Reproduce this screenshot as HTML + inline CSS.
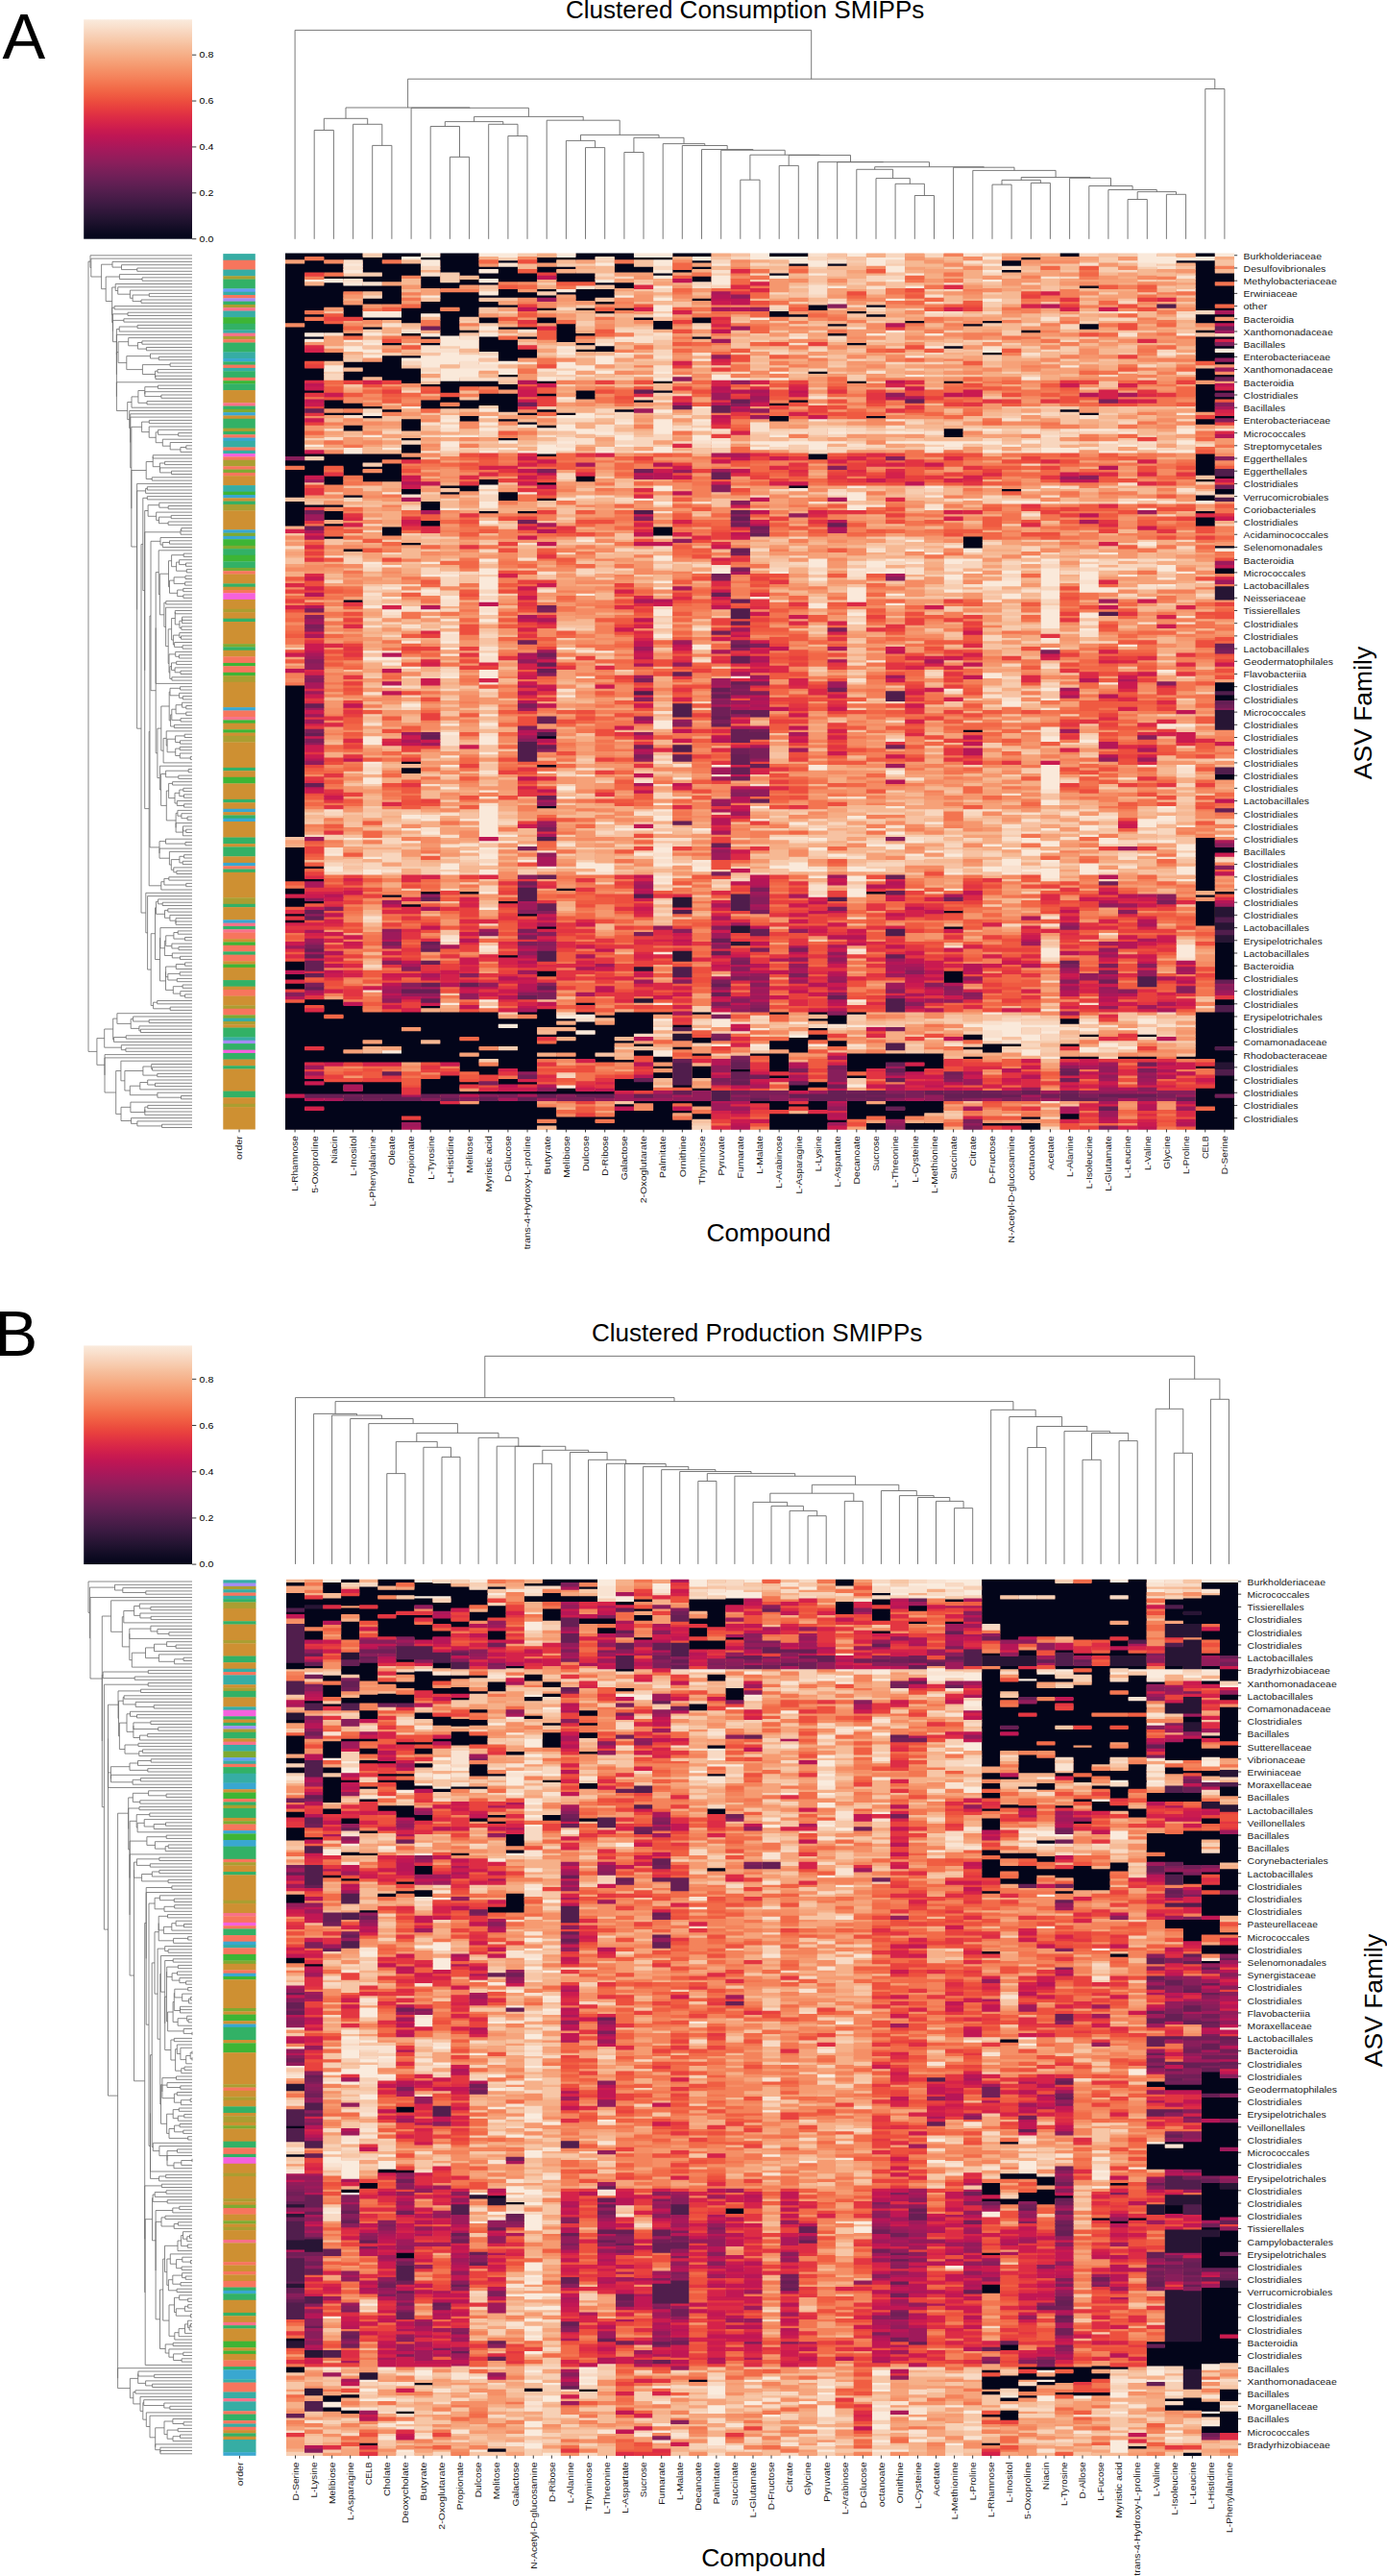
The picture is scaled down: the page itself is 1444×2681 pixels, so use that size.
<!DOCTYPE html><html><head><meta charset="utf-8"><style>html,body{margin:0;padding:0;background:#fff;}svg{display:block;}body{width:1444px;height:2681px;overflow:hidden;font-family:"Liberation Sans",sans-serif;}</style></head><body><svg xmlns="http://www.w3.org/2000/svg" width="1444" height="2681" viewBox="0 0 1444 2681" font-family="Liberation Sans, sans-serif">
<rect width="1444" height="2681" fill="#fff"/>
<text x="2.60" y="60.80" font-size="67.00" text-anchor="start" fill="#000">A</text>
<text x="588.90" y="19.20" font-size="26.50" text-anchor="start" textLength="373.50" lengthAdjust="spacingAndGlyphs" fill="#000">Clustered Consumption SMIPPs</text>
<linearGradient id="gA" x1="0" y1="0" x2="0" y2="1"><stop offset="0.0000" stop-color="#faebdd"/><stop offset="0.0312" stop-color="#f9e0cd"/><stop offset="0.0625" stop-color="#f8d4bc"/><stop offset="0.0938" stop-color="#f7c9aa"/><stop offset="0.1250" stop-color="#f6bc99"/><stop offset="0.1562" stop-color="#f6b089"/><stop offset="0.1875" stop-color="#f6a37a"/><stop offset="0.2188" stop-color="#f5966c"/><stop offset="0.2500" stop-color="#f58860"/><stop offset="0.2812" stop-color="#f47a54"/><stop offset="0.3125" stop-color="#f26b49"/><stop offset="0.3438" stop-color="#f05c42"/><stop offset="0.3750" stop-color="#ec4c3e"/><stop offset="0.4062" stop-color="#e73d3f"/><stop offset="0.4375" stop-color="#df2f44"/><stop offset="0.4688" stop-color="#d62449"/><stop offset="0.5000" stop-color="#cb1b4f"/><stop offset="0.5312" stop-color="#bf1654"/><stop offset="0.5625" stop-color="#b21758"/><stop offset="0.5938" stop-color="#a4195b"/><stop offset="0.6250" stop-color="#971c5b"/><stop offset="0.6562" stop-color="#891e5b"/><stop offset="0.6875" stop-color="#7b1f59"/><stop offset="0.7188" stop-color="#6e1f57"/><stop offset="0.7500" stop-color="#611f53"/><stop offset="0.7812" stop-color="#541e4e"/><stop offset="0.8125" stop-color="#481c48"/><stop offset="0.8438" stop-color="#3c1a42"/><stop offset="0.8750" stop-color="#30173a"/><stop offset="0.9062" stop-color="#241432"/><stop offset="0.9375" stop-color="#180f29"/><stop offset="0.9688" stop-color="#0d0a21"/><stop offset="1.0000" stop-color="#03051a"/></linearGradient>
<rect x="87.2" y="20.3" width="112.8" height="228.4" fill="url(#gA)"/>
<path d="M200.0 248.70h4.3" stroke="#222" stroke-width="0.9"/>
<text x="207.60" y="252.00" font-size="9.30" text-anchor="start" textLength="14.74" lengthAdjust="spacingAndGlyphs">0.0</text>
<path d="M200.0 200.82h4.3" stroke="#222" stroke-width="0.9"/>
<text x="207.60" y="204.12" font-size="9.30" text-anchor="start" textLength="14.74" lengthAdjust="spacingAndGlyphs">0.2</text>
<path d="M200.0 152.93h4.3" stroke="#222" stroke-width="0.9"/>
<text x="207.60" y="156.23" font-size="9.30" text-anchor="start" textLength="14.74" lengthAdjust="spacingAndGlyphs">0.4</text>
<path d="M200.0 105.05h4.3" stroke="#222" stroke-width="0.9"/>
<text x="207.60" y="108.35" font-size="9.30" text-anchor="start" textLength="14.74" lengthAdjust="spacingAndGlyphs">0.6</text>
<path d="M200.0 57.17h4.3" stroke="#222" stroke-width="0.9"/>
<text x="207.60" y="60.47" font-size="9.30" text-anchor="start" textLength="14.74" lengthAdjust="spacingAndGlyphs">0.8</text>
<path fill="none" stroke="#6a6a6a" stroke-width="0.9" d="M327.2 248.8V135.5H347.4V248.8M387.7 248.8V151.4H407.9V248.8M367.6 248.8V129.3H397.8V151.4M337.3 135.5V123.3H382.7V129.3M468.4 248.8V163.4H488.6V248.8M448.2 248.8V131.5H478.5V163.4M528.9 248.8V141.5H549.0V248.8M508.7 248.8V129.3H539.0V141.5M463.3 131.5V126.6H523.8V129.3M609.5 248.8V153.6H629.7V248.8M589.4 248.8V146.4H619.6V153.6M649.9 248.8V158.5H670.0V248.8M770.8 248.8V187.2H791.0V248.8M811.2 248.8V172.4H831.3V248.8M952.3 248.8V203.5H972.5V248.8M932.1 248.8V191.3H962.4V203.5M912.0 248.8V185.6H947.3V191.3M891.8 248.8V176.3H929.6V185.6M1033.0 248.8V192.1H1053.1V248.8M1073.3 248.8V190.4H1093.4V248.8M1043.0 192.1V187.4H1083.4V190.4M1174.1 248.8V207.5H1194.3V248.8M1214.4 248.8V202.3H1234.6V248.8M1184.2 207.5V199.6H1224.5V202.3M1153.9 248.8V197.5H1204.3V199.6M1133.8 248.8V193.5H1179.1V197.5M1113.6 248.8V185.3H1156.5V193.5M1063.2 187.4V184.5H1135.0V185.3M1012.8 248.8V177.4H1099.1V184.5M992.6 248.8V174.2H1056.0V177.4M910.7 176.3V173.7H1024.3V174.2M871.7 248.8V168.7H967.5V173.7M851.5 248.8V168.6H919.6V168.7M821.2 172.4V161.5H885.5V168.6M780.9 187.2V161.2H853.4V161.5M750.7 248.8V156.3H817.2V161.2M730.5 248.8V155.5H783.9V156.3M710.3 248.8V151.5H757.2V155.5M690.2 248.8V149.6H733.8V151.5M659.9 158.5V143.3H712.0V149.6M604.5 146.4V140.4H686.0V143.3M569.2 248.8V125.2H645.2V140.4M493.6 126.6V121.4H607.2V125.2M428.1 248.8V112.3H550.4V121.4M360.0 123.3V112.0H489.2V112.3M1254.8 248.8V92.5H1274.9V248.8M424.6 112.0V82.2H1264.8V92.5M307.1 248.8V31.4H844.7V82.2"/>
<rect x="297.00" y="264.10" width="988.00" height="911.10" fill="#e8805e"/>
<g transform="translate(297.00 265.751) scale(20.16327 3.30109)" fill="none" stroke-width="1.3">
<path stroke="#03051a" d="M0 0h4M5 0h2M8 0h2M15 0h3M20 0h2M25 0h2M40 0h1M47 0h1M0 1h1M2 1h4M7 1h3M13 1h3M17 1h3M38 1h1M1 2h1M4 2h1M8 2h2M11 2h1M13 2h1M21 2h1M37 2h1M46 2h2M0 3h3M4 3h3M8 3h2M17 3h1M26 3h1M28 3h1M37 3h1M47 3h1M0 4h3M4 4h3M8 4h4M13 4h2M17 4h2M21 4h1M47 4h1M0 5h3M4 5h3M8 5h2M11 5h1M13 5h1M17 5h2M20 5h1M37 5h1M47 5h1M0 6h1M5 6h2M9 6h4M14 6h2M19 6h1M25 6h1M47 6h2M0 7h1M2 7h4M7 7h1M10 7h3M14 7h2M21 7h1M47 7h2M0 8h1M4 8h2M7 8h1M9 8h1M11 8h2M14 8h2M21 8h1M47 8h2M0 9h1M2 9h1M7 9h4M16 9h2M47 9h1M0 10h6M7 10h2M17 10h1M41 10h1M47 10h2M0 11h6M11 11h1M13 11h1M15 11h2M47 11h2M0 12h3M5 12h1M8 12h2M11 12h2M14 12h3M47 12h2M0 13h3M5 13h1M8 13h6M15 13h2M47 13h2M0 14h3M4 14h2M8 14h2M15 14h1M21 14h1M47 14h2M0 15h3M4 15h2M7 15h4M16 15h1M47 15h2M0 16h4M7 16h5M27 16h1M30 16h1M47 16h1M0 17h2M3 17h1M6 17h2M9 17h1M13 17h1M15 17h1M17 17h1M27 17h1M47 17h2M0 18h1M3 18h1M6 18h4M16 18h1M25 18h1M29 18h1M0 19h2M3 19h1M6 19h1M8 19h2M25 19h2M30 19h1M47 19h2M0 20h1M4 20h3M8 20h1M10 20h1M13 20h1M18 20h1M21 20h1M47 20h1M0 21h2M6 21h1M8 21h1M10 21h1M13 21h1M19 21h1M21 21h1M32 21h1M36 21h1M47 21h2M1 22h2M8 22h1M14 22h1M19 22h1M28 22h1M35 22h1M41 22h1M0 23h3M4 23h1M8 23h1M11 23h2M14 23h1M19 23h1M41 23h1M0 24h3M8 24h2M14 24h1M38 24h1M47 24h1M0 25h1M3 25h1M6 25h1M8 25h1M14 25h2M28 25h1M0 26h2M7 26h1M10 26h1M12 26h1M14 26h1M21 26h1M47 26h2M0 27h1M10 27h2M14 27h1M47 27h1M0 28h1M5 28h1M7 28h1M10 28h2M15 28h1M29 28h1M47 28h1M0 29h1M10 29h2M16 29h1M34 29h1M47 29h2M0 30h1M10 30h3M15 30h2M47 30h1M0 31h3M11 31h2M36 31h1M47 31h2M0 32h3M5 32h2M11 32h2M47 32h2M0 33h3M5 33h1M11 33h1M47 33h1M0 34h1M3 34h3M48 34h1M0 35h1M3 35h3M0 36h2M4 36h3M47 36h1M0 37h2M3 37h4M27 37h1M47 37h1M0 38h2M3 38h4M11 38h1M47 38h2M0 39h2M3 39h1M5 39h2M47 39h1M0 40h1M6 40h1M8 40h3M13 40h1M19 40h1M29 40h1M34 40h1M0 41h1M7 41h5M47 41h1M0 42h1M8 42h1M11 42h1M47 42h1M0 43h2M8 43h1M15 43h1M19 43h1M47 43h2M0 44h1M10 44h2M13 44h1M15 44h1M47 44h1M0 45h1M8 45h1M10 45h2M15 45h1M47 45h2M0 46h1M2 46h1M7 46h5M18 46h1M26 46h1M47 46h1M0 47h1M2 47h2M7 47h1M9 47h3M25 47h1M47 47h1M0 48h1M2 48h3M7 48h3M11 48h1M47 48h1M0 49h1M5 49h1M11 49h1M13 49h1M17 49h1M40 49h1M47 49h1M0 50h1M2 50h2M12 50h1M14 50h1M41 50h1M0 51h1M4 51h1M9 51h1M25 51h1M30 51h1M48 51h1M0 52h1M6 52h1M9 52h1M11 52h1M25 52h1M47 52h1M0 53h1M6 53h1M12 53h1M47 53h1M0 54h1M3 54h1M6 54h1M13 54h1M0 55h1M3 55h1M6 55h1M34 55h1M0 56h1M34 56h1M0 57h1M34 57h1M0 58h1M6 58h1M11 58h1M0 59h1M0 60h1M6 60h1M0 61h1M6 61h1M0 62h1M6 62h1M0 63h6M13 63h1M27 63h1M47 63h1M2 64h5M27 64h1M47 64h1M0 65h5M47 65h1M0 66h4M5 66h1M47 66h1M1 67h1M3 67h3M47 67h1M0 68h2M3 68h1M5 68h1M47 68h1M0 69h2M3 69h3M47 69h1M0 70h1M2 70h1M4 70h2M15 70h1M48 70h1M0 71h1M2 71h1M4 71h2M10 71h1M15 71h1M47 71h1M0 72h1M2 72h1M10 72h1M13 72h1M0 73h1M8 73h2M26 73h1M0 74h1M6 74h1M9 74h1M37 74h1M48 74h1M0 75h1M6 75h1M8 75h1M11 75h1M48 75h1M0 76h1M3 76h1M11 76h1M47 76h1M11 77h1M13 77h1M47 77h1M0 78h1M7 78h1M0 79h3M7 79h1M0 80h1M7 80h1M0 81h1M2 81h1M10 81h1M12 81h1M47 81h1M0 82h1M2 82h1M0 83h1M2 83h1M47 83h1M0 84h1M7 84h1M47 84h1M0 85h1M2 85h1M7 85h1M47 85h1M5 86h1M19 86h1M5 87h1M19 87h1M5 88h1M19 88h1M2 89h1M35 89h1M35 90h1M6 91h1M35 91h1M35 92h1M48 92h1M3 93h1M48 99h1M48 100h1M3 109h1M48 135h1M0 136h1M48 136h1M0 137h1M48 137h1M0 138h1M0 139h1M48 139h1M0 140h1M48 140h1M0 141h1M0 142h1M0 143h1M0 144h1M0 145h1M0 146h1M0 147h1M0 148h1M0 149h1M0 150h1M35 150h1M0 151h1M0 152h1M13 152h1M0 153h1M0 154h1M0 155h1M0 156h1M0 157h1M0 158h1M0 159h1M0 160h1M6 160h1M0 161h1M13 161h1M0 162h1M6 162h1M0 163h1M6 163h1M0 164h1M48 164h1M0 165h1M48 165h1M0 166h1M0 167h1M0 168h1M0 169h1M0 170h1M0 171h1M0 172h1M0 173h1M0 174h1M13 174h1M0 175h1M0 176h1M0 177h1M0 178h1M0 179h1M0 180h1M0 181h1M0 182h1M0 183h1M47 184h1M47 185h1M47 186h1M0 187h1M47 187h2M0 188h1M47 188h2M0 189h1M47 189h1M0 190h1M47 190h1M0 191h1M47 191h1M0 192h1M47 192h1M0 193h2M47 193h1M0 194h1M47 194h1M0 195h1M47 195h1M0 196h1M47 196h1M0 197h2M47 197h1M47 198h1M47 199h1M0 200h1M14 200h1M47 200h1M0 201h1M7 201h1M9 201h1M30 201h1M48 201h1M5 202h1M47 202h1M0 203h1M0 204h2M11 204h1M47 204h1M0 205h1M6 205h1M47 205h1M47 206h1M34 207h1M47 207h1M0 208h1M12 208h1M47 208h1M47 209h1M0 210h1M47 210h1M47 211h1M13 212h1M34 212h1M48 217h1M48 218h1M48 219h1M48 220h1M11 221h1M48 221h1M48 222h1M0 223h1M48 223h1M0 224h1M48 224h1M0 225h1M48 225h1M13 226h1M34 226h1M48 226h1M0 227h1M13 227h1M34 227h1M48 227h1M0 228h1M34 228h1M48 228h1M34 229h1M0 230h1M0 231h1M1 235h2M48 235h1M0 236h3M15 236h1M48 236h1M0 237h1M2 237h2M7 237h1M0 238h1M2 238h2M13 238h1M0 239h11M12 239h2M15 239h1M17 239h3M21 239h1M25 239h1M27 239h1M29 239h1M47 239h2M0 240h2M3 240h8M13 240h1M16 240h3M28 240h1M47 240h2M0 241h15M17 241h2M27 241h2M40 241h1M47 241h2M0 242h14M15 242h1M17 242h2M28 242h1M40 242h1M47 242h2M0 243h11M12 243h7M20 243h1M47 243h2M0 244h6M7 244h6M15 244h4M27 244h1M47 244h2M0 245h13M14 245h1M16 245h3M47 245h2M0 246h18M27 246h1M35 246h1M41 246h1M44 246h1M47 246h2M0 247h9M10 247h3M15 247h2M21 247h1M26 247h2M35 247h1M47 247h2M0 248h4M5 248h2M8 248h5M14 248h4M21 248h1M25 248h2M28 248h1M47 248h2M0 249h17M18 249h1M25 249h2M28 249h1M36 249h2M40 249h1M47 249h2M0 250h1M2 250h2M6 250h4M12 250h5M20 250h1M25 250h2M35 250h2M47 250h1M0 251h3M6 251h11M18 251h1M26 251h1M36 251h1M47 251h2M0 252h9M10 252h3M15 252h1M18 252h1M21 252h1M24 252h2M29 252h5M47 252h2M0 253h17M19 253h1M25 253h1M29 253h5M35 253h1M40 253h2M43 253h2M46 253h3M0 254h10M11 254h2M16 254h2M19 254h1M25 254h1M29 254h5M48 254h1M0 255h1M9 255h1M11 255h2M25 255h1M29 255h2M33 255h1M0 256h1M9 256h4M19 256h1M21 256h1M25 256h1M29 256h2M32 256h2M47 256h1M0 257h1M9 257h2M12 257h1M21 257h1M23 257h1M25 257h1M29 257h1M32 257h1M0 258h1M10 258h1M19 258h1M21 258h1M0 259h1M8 259h1M19 259h1M21 259h1M25 259h1M29 259h1M48 259h1M0 260h2M7 260h2M11 260h1M17 260h1M48 260h1M0 261h1M2 261h4M7 261h3M11 261h2M17 261h2M27 261h1M48 261h1M0 262h3M4 262h2M7 262h2M17 262h2M20 262h1M26 262h2M48 262h1M0 263h3M4 263h2M7 263h2M14 263h1M17 263h2M21 263h1M26 263h1M47 263h2M0 264h6M7 264h10M47 264h2M47 265h1M0 266h1M47 266h2M0 267h8M10 267h3M18 267h4M24 267h2M27 267h1M29 267h1M31 267h3M47 267h2M0 268h13M17 268h1M19 268h1M21 268h1M25 268h3M29 268h5M47 268h2M0 269h1M2 269h12M19 269h1M25 269h1M27 269h1M29 269h2M32 269h2M48 269h1M0 270h14M17 270h4M29 270h5M47 270h2M0 271h14M17 271h3M21 271h1M25 271h3M29 271h4M40 271h1M47 271h2M0 272h6M7 272h13M21 272h1M25 272h3M29 272h1M31 272h1M38 272h1M40 272h1M47 272h2M0 273h13M14 273h2M17 273h4M25 273h4M47 273h2M0 274h6M7 274h14M25 274h3M30 274h1M32 274h2M36 274h3M47 274h2M0 275h6M7 275h6M14 275h7M25 275h3M30 275h1M32 275h2M38 275h1M47 275h2"/>
<path stroke="#f7ccaf" d="M4 0h1M12 0h1M36 0h1M43 0h1M45 0h1M11 1h1M28 1h1M42 1h1M16 2h1M29 2h1M42 2h1M14 3h2M25 3h1M31 3h1M45 3h1M27 4h1M34 4h1M42 4h1M44 4h1M42 5h1M3 6h2M8 6h1M22 6h1M8 7h1M8 8h1M24 8h1M44 8h1M13 9h1M18 9h1M27 9h1M29 9h1M26 10h1M10 11h1M33 11h1M13 12h1M36 12h1M42 12h1M19 13h1M26 15h1M36 15h1M15 16h1M36 16h1M32 17h1M11 18h1M19 18h1M41 18h1M16 19h1M18 19h1M34 19h1M40 19h1M46 20h1M9 21h1M15 21h1M30 21h1M41 21h1M10 22h1M15 22h1M21 22h1M26 22h1M36 22h1M17 23h1M4 24h1M10 24h1M27 24h1M34 24h1M37 24h1M5 25h1M11 25h1M18 25h1M37 25h1M41 26h1M24 27h1M28 27h1M30 27h1M35 27h1M6 28h1M37 28h1M2 29h1M8 29h1M27 29h1M31 29h1M38 29h1M40 29h1M24 30h2M40 30h1M4 31h2M9 31h1M18 31h1M15 32h1M36 32h1M38 32h1M3 33h1M19 33h1M36 33h1M40 33h1M21 35h1M28 35h1M14 36h1M16 36h2M2 37h1M13 37h1M26 37h1M37 37h1M43 37h1M13 38h2M20 38h1M29 38h1M33 38h1M38 38h1M11 39h1M16 39h2M24 39h1M29 39h1M44 39h1M14 41h1M41 42h1M19 44h2M18 45h1M27 47h1M10 48h1M13 48h1M38 48h3M46 48h1M19 50h1M40 50h1M42 50h1M13 51h1M37 51h1M32 52h1M43 52h1M8 53h1M14 53h1M10 54h1M21 54h1M27 54h2M25 55h1M31 55h1M37 55h1M24 56h1M40 56h1M14 57h1M16 57h1M44 57h1M1 58h1M5 58h1M38 58h1M46 58h1M29 59h1M41 59h1M12 60h1M19 60h1M24 60h1M26 60h1M33 60h1M36 60h1M46 60h1M9 61h1M22 61h1M26 61h1M36 61h1M46 61h1M8 62h1M14 62h1M17 62h1M20 62h1M22 62h1M1 64h1M4 66h1M16 70h1M47 72h1M36 73h1M10 74h1M32 74h1M2 75h1M7 75h1M32 75h1M46 75h1M26 76h1M28 76h1M48 76h1M8 77h1M36 77h3M17 78h1M36 78h1M41 78h1M46 78h1M3 79h1M6 79h1M13 79h1M19 79h1M10 80h1M14 83h1M10 85h2M37 85h1M48 85h1M6 88h1M7 89h2M5 90h1M39 90h1M44 90h1M10 91h1M16 91h1M31 91h1M34 91h1M43 91h1M26 92h1M30 92h1M44 92h1M18 93h2M35 94h1M41 94h1M3 95h1M24 95h1M8 96h1M30 96h1M42 96h1M10 97h1M20 97h1M25 97h1M41 97h1M25 98h2M37 98h1M24 99h1M36 99h3M16 100h1M45 100h1M10 101h1M18 101h1M33 101h1M36 101h1M16 102h1M27 103h1M40 103h1M34 104h1M7 105h1M33 105h2M38 105h1M8 106h1M8 107h1M11 107h1M36 107h1M27 108h1M34 108h1M4 109h1M4 110h1M39 110h1M34 111h1M34 112h1M37 112h1M35 113h1M19 114h1M29 114h1M37 114h1M10 116h1M19 116h1M21 117h1M27 117h1M37 117h1M7 118h1M15 118h1M37 118h1M39 118h1M10 119h1M19 119h1M27 119h1M39 119h2M14 121h1M19 121h1M37 121h1M29 122h1M38 122h1M10 123h1M0 124h1M10 125h1M45 126h1M21 127h1M4 128h2M45 128h1M8 130h1M22 130h1M17 131h1M27 131h1M33 131h1M29 132h1M45 132h1M4 133h1M7 133h1M46 133h1M37 135h1M37 136h1M39 136h1M38 137h1M47 138h1M10 139h1M8 140h1M46 140h1M6 141h1M38 141h1M36 142h1M21 143h1M29 143h1M4 145h1M40 145h1M45 145h1M10 147h1M37 147h1M46 149h1M8 150h1M38 150h1M41 151h1M36 154h1M40 154h2M33 155h1M36 155h1M46 155h1M8 156h1M38 157h1M41 158h1M15 159h1M10 160h1M35 161h1M31 162h1M38 162h1M14 163h1M38 163h1M8 164h1M10 164h1M31 164h1M37 164h1M18 165h1M16 166h1M4 167h1M14 167h1M42 168h1M45 168h1M14 169h1M31 169h1M46 169h1M15 170h1M46 171h1M8 172h1M46 172h1M14 173h1M4 174h1M25 175h1M32 175h1M39 175h1M1 176h1M4 176h1M6 176h1M22 176h1M26 176h1M30 176h2M4 177h1M25 177h1M35 177h1M6 178h1M11 178h1M29 178h2M42 178h1M48 178h1M1 179h1M18 179h1M36 179h1M39 179h2M48 179h1M9 180h1M26 180h1M29 180h1M25 181h1M34 181h1M37 181h1M48 181h1M40 182h1M42 182h1M2 183h1M7 183h1M14 183h1M25 183h2M31 183h3M37 183h1M2 184h1M30 184h1M45 184h1M14 185h1M27 185h1M33 185h2M37 185h1M3 186h1M17 186h1M20 186h1M42 186h2M11 187h1M15 187h1M38 187h1M41 187h1M18 188h1M27 188h1M30 188h1M36 188h1M46 188h1M14 189h1M27 189h1M29 189h1M8 190h1M26 190h1M28 190h1M34 190h1M37 190h1M46 190h1M48 190h1M9 191h1M15 191h1M25 191h2M31 191h1M36 191h1M38 191h1M3 192h1M25 192h1M40 192h1M42 192h2M6 193h2M14 193h1M19 193h1M23 193h1M30 193h1M35 193h1M39 193h1M3 194h1M7 194h2M12 194h1M22 194h1M7 195h1M9 195h1M12 195h1M35 195h1M42 195h1M20 196h1M22 197h1M30 197h1M9 198h1M16 198h1M27 198h1M20 199h1M6 200h1M38 201h1M36 205h1M19 206h1M10 215h1M27 216h1M39 216h1M46 216h1M46 217h1M39 218h1M10 220h1M8 233h1M21 237h1M21 238h1M11 239h1M29 240h1M37 240h1M21 241h1M24 241h1M29 241h1M33 241h2M38 241h2M43 241h1M45 241h2M32 242h1M34 242h2M45 242h1M19 243h1M31 243h1M40 243h1M28 244h1M34 244h1M22 245h1M35 245h1M41 245h1M24 246h1M45 246h1M33 247h1M40 247h1M36 248h1M38 248h2M42 248h2M45 248h2M21 249h1M32 249h1M43 249h1M11 250h1M17 250h1M37 250h3M42 250h1M32 251h1M39 251h1M22 252h1M10 254h1M14 258h1M29 260h1M29 261h1M19 262h1M34 271h1M21 274h1"/>
<path stroke="#fae9da" d="M7 0h1M10 0h2M14 0h1M18 0h2M24 0h1M29 0h1M44 0h1M48 0h1M6 1h1M21 1h1M24 1h3M30 1h2M36 1h1M44 1h4M7 2h1M19 2h1M26 2h2M30 2h1M44 2h2M3 3h1M7 3h1M16 3h1M19 3h1M22 3h1M27 3h1M30 3h1M36 3h1M31 4h1M3 5h1M10 5h1M19 5h1M31 5h1M36 5h1M27 6h1M32 6h1M19 7h1M22 7h1M25 7h1M1 8h2M10 8h1M16 8h1M22 8h1M31 8h1M36 8h1M3 9h1M22 9h1M19 10h1M28 10h1M32 10h1M14 11h1M10 12h1M7 13h1M17 13h1M19 14h1M31 14h1M36 14h1M19 16h1M19 17h1M4 18h2M43 18h1M4 19h2M7 19h1M19 19h1M24 20h1M10 23h1M31 24h1M1 25h1M4 25h1M7 25h1M10 25h1M30 25h1M33 25h1M46 25h1M8 26h1M17 26h1M26 26h1M1 27h1M3 27h1M8 27h2M4 28h1M8 28h2M3 29h1M9 29h1M14 29h1M33 29h1M3 30h2M36 30h1M48 30h1M8 31h1M14 31h1M4 32h1M7 32h4M16 32h1M32 32h1M6 33h4M16 33h1M21 33h1M7 34h2M10 34h2M14 34h1M16 34h1M2 35h1M7 35h1M14 35h2M40 35h1M2 36h1M8 36h4M15 36h1M8 37h2M11 37h1M14 37h1M16 37h1M19 37h1M25 37h1M8 38h2M22 38h1M32 38h1M8 39h1M13 39h1M19 39h1M22 39h2M25 39h1M38 39h1M14 45h1M6 48h1M10 49h1M19 49h1M4 50h1M15 50h1M46 50h1M10 51h1M14 51h2M8 52h1M19 52h1M21 52h1M27 52h1M31 52h1M10 53h1M17 53h1M19 53h1M8 54h1M14 54h1M19 54h1M10 55h1M14 55h2M19 55h1M21 55h1M36 55h1M41 55h2M46 55h1M48 55h1M15 56h2M19 56h1M28 56h1M31 56h2M43 56h1M46 56h1M4 57h1M8 57h2M17 57h1M21 57h1M25 57h1M17 58h1M21 58h1M8 59h1M11 59h1M14 59h1M22 59h1M24 59h5M31 59h6M38 59h1M42 59h1M46 59h1M1 60h1M8 60h1M13 60h1M17 60h1M25 60h1M27 60h1M34 60h1M37 60h1M43 60h1M3 61h1M5 61h1M11 61h1M13 61h2M19 61h1M24 61h1M27 61h1M33 61h1M39 61h2M44 61h1M3 62h1M10 62h1M12 62h2M16 62h1M18 62h2M36 62h1M39 62h2M42 62h2M45 62h2M10 73h1M19 73h1M29 73h1M33 73h1M39 73h1M19 74h1M26 74h1M5 75h1M10 75h1M12 75h1M29 75h1M29 76h1M33 76h1M18 77h1M29 77h1M44 77h1M10 78h1M19 78h1M37 78h2M43 78h1M47 78h1M10 79h1M29 79h2M8 80h1M29 80h1M33 80h1M10 84h1M15 90h1M32 90h1M44 91h1M32 93h1M35 93h1M48 93h1M33 94h1M42 94h1M19 95h1M38 95h1M10 96h1M19 96h1M27 96h1M31 96h1M34 96h2M39 96h1M41 96h1M43 96h1M45 96h1M4 97h1M7 97h1M27 97h1M30 97h1M32 97h1M34 97h1M38 97h1M5 98h1M27 98h1M30 98h1M41 98h1M45 98h1M10 99h1M22 99h1M29 99h1M31 99h1M39 99h1M45 99h1M10 100h1M22 100h1M25 100h1M30 100h2M35 100h1M37 100h1M39 100h1M41 100h1M46 100h1M7 101h2M34 101h1M39 101h1M41 101h1M43 101h1M10 102h1M27 102h1M34 102h1M39 102h1M41 102h1M45 102h1M10 103h1M19 103h1M36 103h2M39 103h1M10 104h1M36 104h2M39 104h1M41 104h1M45 104h1M5 105h1M10 105h1M19 105h1M29 105h1M41 105h2M7 106h1M29 106h1M34 106h1M39 106h1M41 106h2M10 107h1M15 107h1M29 107h1M31 107h1M37 107h1M39 107h1M5 108h1M8 108h1M24 108h1M29 108h1M37 108h1M39 108h1M10 109h1M29 109h1M36 109h1M27 110h1M31 110h1M4 111h1M27 111h1M5 112h1M7 112h1M19 112h1M39 112h1M10 113h1M19 113h1M29 113h1M39 113h1M41 113h1M39 114h1M41 114h1M8 115h1M10 115h1M39 115h1M29 116h1M39 116h1M39 117h1M41 118h1M8 119h1M19 120h1M39 121h1M6 122h1M8 122h1M21 123h1M43 123h1M8 124h1M14 124h1M21 124h1M39 124h1M4 125h1M16 125h1M8 126h1M10 126h1M4 127h2M30 128h1M5 129h1M6 130h1M10 131h1M45 131h1M10 132h1M36 132h1M8 133h1M10 133h1M23 133h1M36 133h1M10 135h1M42 135h1M5 136h1M34 137h1M39 137h1M14 139h1M39 140h1M37 141h1M6 142h1M37 142h1M10 145h1M19 147h1M8 148h1M10 148h1M19 148h1M45 148h2M19 149h1M8 151h1M4 152h1M10 152h1M39 152h1M4 153h1M10 153h1M39 153h1M41 153h1M4 154h1M10 154h1M10 157h1M8 158h1M48 159h1M4 160h1M8 161h1M22 161h1M27 161h1M39 161h1M46 161h1M27 162h1M39 162h1M31 163h1M39 163h1M39 164h1M4 165h1M20 165h1M39 165h1M4 166h1M39 166h1M39 167h1M8 168h1M14 168h1M39 168h1M10 169h1M14 171h1M39 172h1M19 173h1M39 173h1M10 174h1M24 174h1M31 174h1M45 174h1M10 175h1M19 175h1M10 176h1M6 177h1M10 177h1M19 177h1M29 177h1M45 177h1M7 178h1M9 178h2M19 178h1M24 178h1M44 178h2M10 179h1M16 179h1M26 179h1M33 179h1M44 179h1M10 180h1M41 180h1M44 180h1M46 180h1M6 181h1M10 181h1M17 181h1M21 181h1M27 181h1M39 181h1M41 181h1M7 182h1M10 182h1M19 182h1M31 182h1M10 183h2M41 183h1M3 184h1M27 184h1M38 184h1M42 184h1M6 185h1M10 185h2M32 185h1M38 185h2M42 185h1M45 185h1M30 186h2M36 186h1M39 186h1M46 186h1M10 187h1M19 187h1M27 187h1M31 187h1M37 187h1M46 187h1M9 188h1M19 188h1M33 188h1M38 188h2M2 189h1M10 189h1M18 189h1M28 189h1M32 189h1M34 189h1M38 189h1M44 189h1M46 189h1M4 190h1M10 190h1M19 190h1M12 191h1M21 191h1M37 191h1M39 191h1M8 192h1M10 192h1M15 192h2M19 192h2M26 192h1M37 192h1M41 192h1M2 193h1M8 193h1M13 193h1M15 193h2M21 193h1M25 193h2M29 193h1M36 193h1M41 193h1M46 193h1M2 194h1M4 194h1M10 194h1M16 194h1M21 194h1M26 194h2M29 194h2M36 194h1M38 194h2M41 194h1M46 194h1M4 195h1M8 195h1M10 195h1M34 195h1M37 195h1M39 195h1M41 195h1M46 195h1M19 196h1M27 196h1M29 196h1M39 196h1M29 197h1M46 197h1M19 198h1M29 200h1M10 201h1M29 201h1M27 202h1M29 202h1M10 206h1M8 216h1M10 218h1M46 218h1M29 219h1M39 219h1M46 219h1M19 220h1M39 220h1M46 220h1M39 221h1M46 221h1M10 235h1M29 235h1M8 236h1M19 236h1M10 237h1M39 238h1M36 239h1M14 240h2M19 241h1M22 241h1M44 241h1M22 242h1M26 242h1M37 242h1M41 242h1M44 242h1M11 243h1M22 243h1M29 243h1M35 243h5M19 244h1M21 244h1M24 244h1M36 244h2M41 244h1M43 244h1M15 245h1M37 245h1M39 245h1M26 246h1M37 246h2M36 247h1M38 247h1M22 249h1M24 249h1M27 249h1M42 249h1M41 250h1M43 250h1M5 251h1M19 251h1M38 251h1M41 251h1M19 252h1M38 252h1M39 253h1M14 262h1M29 262h1"/>
<path stroke="#f6ad85" d="M13 0h1M22 0h1M30 0h1M46 0h1M10 1h1M20 1h1M33 1h1M48 1h1M24 2h1M34 2h1M41 2h1M46 3h1M15 4h1M33 4h1M7 5h1M14 5h1M21 5h1M32 5h1M35 5h1M29 6h2M33 6h1M35 6h1M37 6h1M26 7h1M28 7h2M33 7h1M35 7h1M43 7h1M13 8h1M19 8h1M1 9h1M20 9h1M28 9h1M33 9h1M35 9h1M43 9h1M13 10h1M37 10h1M42 11h2M19 12h1M33 12h1M6 13h1M3 14h1M35 14h1M14 16h1M21 16h1M41 17h1M13 18h1M15 18h1M31 18h1M35 18h1M39 18h1M11 19h1M32 19h1M36 19h1M41 19h1M17 20h1M29 20h1M38 20h1M5 21h1M17 21h1M28 21h1M34 21h1M38 21h1M42 21h2M46 21h1M11 22h1M17 22h2M44 22h1M5 23h1M35 23h2M45 23h3M5 24h1M7 24h1M15 24h1M19 24h1M32 24h1M35 24h1M42 24h1M16 26h1M27 26h1M43 26h1M12 27h1M21 27h1M25 27h1M33 27h1M13 28h1M18 28h1M28 28h1M31 28h1M43 28h2M24 29h1M29 29h1M42 29h1M26 30h1M28 30h1M3 31h1M6 31h1M15 31h1M28 31h2M31 31h1M34 31h1M13 32h1M21 32h1M37 32h1M15 33h1M25 33h2M28 33h1M37 33h2M43 33h1M15 34h1M40 34h1M43 34h2M46 34h1M42 35h1M30 36h2M37 36h1M39 36h1M42 36h1M21 37h1M29 37h1M31 37h1M33 37h1M36 37h1M27 38h1M36 38h2M39 38h1M46 38h1M26 39h1M39 39h1M20 40h1M33 40h1M16 41h1M18 41h1M37 41h1M3 42h1M38 42h1M42 42h1M14 43h1M7 44h1M36 44h1M37 45h1M14 48h4M6 49h1M15 49h1M36 49h1M44 49h1M8 50h1M18 50h1M20 50h1M43 50h1M6 51h1M34 52h1M41 52h1M44 52h1M15 53h2M18 53h1M26 53h1M28 53h1M33 53h1M41 53h1M15 54h1M30 54h1M34 54h1M48 54h1M4 55h1M18 55h1M8 56h1M2 57h1M6 57h1M45 57h1M4 58h1M8 58h1M45 58h1M7 59h1M16 59h1M15 60h2M28 60h1M32 60h1M40 60h2M12 61h1M20 61h1M48 61h1M21 63h1M36 63h1M45 64h1M41 67h1M16 69h1M27 69h1M7 70h1M43 70h1M18 71h1M36 71h1M5 72h1M8 72h1M5 73h1M15 73h1M18 73h1M23 73h1M31 73h1M34 73h1M43 73h2M46 73h1M39 74h2M47 74h1M31 75h1M14 76h1M17 76h1M30 76h1M41 76h1M23 77h1M3 78h1M6 78h1M16 78h1M33 78h2M11 80h2M25 80h1M34 80h1M47 80h1M4 81h2M11 81h1M26 81h1M46 81h1M5 82h1M14 82h1M30 82h1M36 82h1M5 83h1M19 83h1M2 84h1M48 84h1M5 85h1M19 85h1M26 85h1M30 85h1M0 86h1M15 86h1M36 87h1M41 87h1M46 87h1M42 88h1M25 89h1M0 90h1M6 90h1M8 90h1M17 90h1M27 90h1M41 90h1M45 90h1M4 91h1M45 91h1M17 92h1M24 92h1M28 92h1M33 92h1M0 93h1M8 93h1M12 93h1M15 93h1M36 93h2M40 93h1M10 94h1M12 94h1M19 94h1M28 94h1M30 94h1M45 94h1M0 95h1M8 95h1M12 95h1M22 95h1M28 95h1M31 95h1M42 95h1M45 95h1M4 96h1M15 96h1M29 96h1M2 97h1M24 97h1M33 97h1M43 97h1M45 97h1M7 98h2M13 98h1M16 98h1M31 98h1M33 98h1M40 98h1M42 98h1M47 98h1M6 99h1M26 99h1M35 99h1M0 100h1M4 100h1M6 100h1M14 100h1M26 100h1M38 100h1M0 101h1M32 101h1M40 101h1M42 101h1M44 101h1M2 102h1M5 102h1M14 102h1M28 102h1M35 102h1M21 103h1M26 103h1M38 103h1M43 103h1M46 103h1M15 104h2M31 104h1M32 105h1M35 105h1M37 105h1M26 107h1M33 107h2M45 107h1M42 108h1M1 109h1M6 109h1M9 109h1M41 109h1M33 110h1M42 110h1M2 111h1M8 111h1M31 111h1M35 111h1M4 112h1M22 112h1M47 112h1M16 113h1M4 114h1M8 114h1M42 114h1M42 115h1M47 115h1M6 116h1M34 116h1M38 116h1M48 116h1M8 118h1M38 118h1M4 119h1M33 119h1M21 120h1M27 120h1M30 120h1M38 120h1M7 121h1M38 121h1M44 121h1M4 122h1M36 122h1M14 123h1M38 123h1M40 123h1M4 124h1M11 124h1M37 124h1M43 124h1M45 124h2M14 125h1M19 125h1M30 125h1M45 125h1M16 126h1M29 126h1M11 128h1M29 128h1M0 129h1M4 129h1M4 130h1M7 130h1M30 130h1M36 130h2M7 131h1M39 132h1M19 133h1M22 133h1M29 133h1M14 134h1M19 134h1M40 134h1M45 134h1M8 135h1M11 135h1M15 135h1M33 136h1M6 137h2M9 137h1M37 137h1M36 138h1M41 138h1M4 139h1M15 140h1M36 140h1M14 141h1M38 143h1M46 143h1M35 144h1M6 145h1M19 145h1M44 145h1M47 145h1M36 146h1M38 147h1M24 148h1M27 148h1M5 149h1M8 149h1M11 149h1M14 149h1M11 150h1M19 150h1M27 150h1M30 151h2M37 151h1M5 152h1M15 152h1M37 152h1M2 153h1M9 153h1M15 153h1M17 153h1M4 155h1M22 155h1M40 155h1M5 156h1M2 157h1M6 157h1M36 157h1M2 158h1M4 158h1M36 158h1M25 159h1M27 159h1M33 159h1M39 159h1M5 160h1M20 160h1M25 160h1M33 160h1M47 160h1M28 161h1M45 161h1M14 162h1M18 162h1M28 162h2M33 162h1M7 163h1M36 163h1M4 164h1M6 164h1M19 164h1M33 164h1M45 164h1M47 164h1M5 165h2M28 165h1M46 165h1M3 166h1M5 166h1M28 166h1M32 166h1M36 166h1M38 166h1M46 166h1M38 167h1M4 168h1M28 168h1M36 168h1M43 168h1M46 168h1M48 168h1M9 169h1M19 169h1M38 169h1M43 169h1M4 170h1M31 170h1M34 170h1M46 170h1M12 171h1M38 171h1M43 171h1M4 172h1M41 172h1M4 173h1M12 173h1M15 173h1M41 173h1M11 174h1M15 174h3M28 174h1M39 174h1M1 175h1M11 175h1M14 175h1M17 175h1M28 176h2M45 176h1M5 177h1M8 177h1M17 177h2M28 177h1M44 177h1M12 178h1M16 178h1M26 178h1M47 178h1M7 179h1M19 179h1M21 179h1M37 179h1M46 179h1M7 180h2M11 180h1M20 180h1M36 180h1M28 181h1M31 181h1M6 182h1M29 182h1M32 182h1M40 183h1M46 183h1M8 184h1M36 184h1M39 184h1M43 184h1M9 185h1M15 185h1M28 185h1M31 185h1M36 185h1M41 185h1M0 186h1M6 186h1M21 186h1M25 186h1M27 186h1M4 187h2M8 187h1M25 187h1M36 187h1M39 187h1M12 188h1M15 188h1M28 188h1M31 188h1M44 188h1M9 189h1M16 189h1M3 190h1M14 190h1M16 190h1M35 190h2M40 190h1M4 191h1M7 191h1M11 191h1M16 191h1M42 191h2M38 192h1M46 192h1M11 193h1M6 194h1M14 194h2M18 194h1M20 194h1M28 194h1M6 195h1M21 195h1M26 195h1M30 195h2M36 196h1M45 196h2M27 197h1M43 197h1M5 198h1M34 198h1M38 198h1M5 199h1M28 199h1M33 199h1M38 200h1M45 201h1M47 201h1M36 203h1M14 204h1M14 205h1M19 205h1M37 206h1M21 207h1M38 207h1M34 211h1M45 211h1M37 212h1M39 212h1M4 213h1M35 213h1M3 214h1M35 215h1M39 215h1M46 215h1M41 216h1M47 220h1M4 222h1M29 222h1M39 223h1M19 224h1M45 226h1M19 228h1M8 237h1M39 237h1M7 238h1M17 238h1M30 239h1M34 239h1M26 240h1M32 240h1M31 241h1M14 242h1M27 242h1M43 242h1M21 243h1M13 244h2M25 244h1M19 245h2M28 245h1M31 245h1M31 246h1M46 246h1M14 247h1M31 247h1M4 250h1M30 250h1M45 250h2M34 251h1M13 252h1M34 252h3M41 252h1M17 253h1M38 253h1M26 254h1M21 255h1M19 261h1M25 261h1M29 263h1M38 268h1M14 269h1M26 270h1M32 273h1M34 275h1"/>
<path stroke="#f7c2a2" d="M23 0h1M28 0h1M42 0h1M22 1h1M29 1h1M18 2h1M36 2h1M48 2h1M18 3h1M29 3h1M35 3h1M39 3h2M48 3h1M36 4h1M46 4h1M25 5h1M27 5h2M38 5h1M40 5h1M28 6h1M31 6h1M46 6h1M16 7h1M27 7h1M18 8h1M27 8h1M29 8h1M35 8h1M45 8h1M31 9h1M36 9h1M10 10h1M16 10h1M31 10h1M39 10h1M45 10h1M18 11h1M30 11h1M39 11h1M26 12h1M30 12h1M44 12h1M26 13h1M41 13h1M46 13h1M7 14h1M10 14h2M16 14h1M37 14h1M43 14h1M20 15h1M27 15h1M34 15h1M37 15h1M39 15h1M46 15h1M20 16h1M10 17h1M2 18h1M10 18h1M30 18h1M29 19h1M35 19h1M39 19h1M9 20h1M19 20h1M31 20h1M37 20h1M23 21h1M25 21h1M39 21h1M27 22h1M6 23h1M18 23h1M25 24h1M43 24h2M46 24h1M9 25h1M24 25h1M31 25h1M47 25h1M23 26h1M25 26h1M31 26h1M19 27h1M31 27h1M3 28h1M12 28h1M19 28h1M23 28h1M33 28h1M35 28h1M4 29h1M13 29h1M15 29h1M23 29h1M43 29h1M29 30h1M34 30h2M7 31h1M13 31h1M23 31h1M26 31h1M40 31h1M43 31h1M3 32h1M24 32h1M28 32h1M45 32h1M10 33h1M18 33h1M30 33h1M42 33h1M17 34h1M24 34h1M28 34h1M32 34h1M39 34h1M41 34h1M45 34h1M6 35h1M22 35h1M25 35h1M36 35h1M24 36h1M34 36h1M22 37h1M28 37h1M17 38h1M34 38h2M7 40h1M11 40h1M30 40h1M42 40h1M3 41h1M42 41h1M27 42h1M31 42h1M33 42h1M27 44h1M9 45h1M36 45h1M37 48h1M43 48h1M8 49h1M39 49h1M43 49h1M7 50h1M11 50h1M16 50h1M37 50h1M5 51h1M36 51h1M39 51h2M5 52h1M28 52h2M35 52h1M40 52h1M42 52h1M34 53h1M40 53h1M7 54h1M11 54h1M17 54h1M29 54h1M35 54h1M5 55h1M7 55h1M11 55h1M30 55h1M33 55h1M39 55h1M47 55h1M14 56h1M37 56h1M45 56h1M3 57h1M18 57h1M24 57h1M27 57h1M33 57h1M24 58h1M32 58h1M43 58h1M9 59h2M23 59h1M37 59h1M45 59h1M47 59h1M5 60h1M35 60h1M1 61h2M17 61h1M21 61h1M30 61h3M9 62h1M11 62h1M21 62h1M26 62h1M8 63h1M7 64h1M47 70h1M14 71h1M11 72h1M17 72h1M3 73h2M17 73h1M32 73h1M42 73h1M4 74h1M8 74h1M15 74h1M30 74h1M43 74h1M27 75h1M33 75h1M9 76h1M19 76h1M32 76h1M0 77h1M15 77h1M19 77h1M22 77h1M45 77h1M1 78h1M13 78h1M22 78h1M29 78h1M42 78h1M44 78h1M4 79h1M22 79h1M9 80h1M14 80h1M24 80h1M14 81h1M38 81h1M21 82h1M4 83h1M13 84h1M11 86h1M0 88h1M17 88h1M17 89h1M30 89h1M32 89h1M2 90h2M10 90h1M25 90h1M31 90h1M36 90h1M38 90h1M2 91h1M7 91h1M14 91h2M30 91h1M33 91h1M13 92h1M32 92h1M7 93h1M33 93h1M41 93h1M46 93h1M16 94h1M18 94h1M31 94h1M36 95h1M0 96h1M25 96h1M37 96h1M46 96h1M0 97h1M6 97h1M15 97h1M19 97h1M21 97h1M44 97h1M29 98h1M32 98h1M12 99h1M16 99h1M19 99h1M40 99h1M47 99h1M34 100h1M9 101h1M13 101h1M15 101h1M27 101h1M45 101h1M9 102h1M13 102h1M9 103h1M31 103h1M4 104h1M27 104h1M29 104h1M46 104h1M13 105h1M46 105h1M4 106h2M28 106h1M36 106h2M19 107h1M31 108h3M36 108h1M38 108h1M43 108h1M47 108h1M13 109h1M27 109h2M46 109h1M37 110h1M45 110h1M36 113h3M10 114h1M22 114h1M21 115h1M37 115h1M41 115h1M7 116h1M14 117h2M29 117h1M38 117h1M41 117h1M6 118h1M10 118h1M19 118h1M29 118h1M33 118h1M34 119h1M46 119h1M34 120h1M6 121h1M10 121h1M29 121h1M10 122h1M8 123h1M36 123h2M15 124h1M19 124h1M29 124h1M36 124h1M29 125h1M4 126h1M37 126h1M6 127h1M16 127h1M29 127h1M16 129h1M27 130h1M43 130h1M3 131h1M6 131h1M29 131h1M4 132h1M7 132h1M40 132h1M33 133h1M37 134h1M29 135h1M4 136h1M9 136h1M15 136h1M31 136h1M36 136h1M10 138h1M14 138h1M37 138h1M39 138h1M8 139h1M37 139h1M39 139h1M30 140h1M35 140h1M34 141h1M8 142h1M10 142h1M19 142h1M34 142h1M4 143h2M14 143h1M8 144h1M8 145h1M37 145h1M19 146h1M4 147h1M8 147h1M28 147h1M35 147h1M41 148h1M47 148h1M29 150h1M46 150h1M15 151h1M25 151h1M31 152h1M25 153h1M33 153h1M8 155h1M10 155h1M10 156h2M37 156h2M25 157h1M33 157h1M41 157h1M10 158h1M25 158h1M7 159h1M19 159h1M46 159h2M15 160h1M10 161h1M10 162h1M16 162h1M3 163h1M18 163h2M7 164h1M24 164h1M8 165h1M40 165h1M3 167h1M8 167h1M10 167h1M34 169h1M39 170h1M47 170h1M15 171h1M39 171h1M31 172h1M35 172h1M32 173h1M40 173h1M46 173h1M8 174h1M4 175h3M18 175h1M24 175h1M26 175h2M29 175h1M40 175h1M44 175h1M46 175h1M3 176h1M7 176h1M9 176h1M11 176h1M39 176h1M2 177h1M9 177h1M32 177h2M40 177h1M46 177h1M1 178h1M32 178h1M36 178h1M39 178h1M46 178h1M3 179h1M5 179h2M30 179h1M32 179h1M38 179h1M3 180h1M28 180h1M33 180h1M38 180h1M40 180h1M16 181h1M19 181h2M24 181h1M42 181h1M44 181h1M11 182h1M17 182h1M28 182h1M39 182h1M3 183h1M6 183h1M16 183h2M27 183h3M45 183h1M0 184h1M23 184h1M28 184h1M44 184h1M46 184h1M16 185h1M19 185h2M35 185h1M46 185h1M4 186h2M10 186h1M23 186h2M6 187h1M16 187h1M34 187h1M45 187h1M4 188h2M35 188h1M43 188h1M4 189h1M24 189h1M35 189h1M41 189h2M12 190h1M18 190h1M27 190h1M2 191h2M6 191h1M20 191h1M30 191h1M32 191h1M46 191h1M6 192h1M9 192h1M17 192h1M29 192h1M32 192h3M36 192h1M3 193h1M31 193h1M34 193h1M13 194h1M17 194h1M25 194h1M31 194h1M44 194h1M5 195h1M25 195h1M32 195h1M36 195h1M44 195h2M23 196h1M10 197h1M37 197h1M45 197h1M22 198h1M29 198h1M19 199h1M32 200h1M33 201h1M21 202h1M19 203h1M38 203h1M8 204h1M10 205h1M46 205h1M19 207h1M4 208h1M39 208h1M20 209h1M19 210h1M8 213h1M8 214h1M10 217h1M39 217h1M4 225h1M22 227h1M39 234h1M47 235h1M10 236h1M39 236h1M43 239h1M34 240h1M36 240h1M39 240h1M43 240h1M46 240h1M36 241h1M29 242h1M31 242h1M25 243h2M41 243h1M44 243h1M29 244h1M45 245h1M29 246h1M32 246h1M40 246h1M37 247h1M41 247h1M34 248h1M35 249h1M18 250h2M32 250h1M24 251h1M35 251h1M43 251h1M16 252h1M39 252h1M46 252h1M17 267h1M40 268h1M39 269h1M34 270h1M37 271h1M34 272h1M21 273h1"/>
<path stroke="#f9e0cd" d="M27 0h1M35 0h1M3 2h1M28 2h1M35 2h1M43 2h1M11 3h1M41 3h1M44 3h1M3 4h1M45 4h1M22 5h1M7 6h1M39 7h1M46 7h1M3 8h1M4 9h1M34 9h1M15 10h1M21 10h1M27 10h1M30 10h1M27 11h1M46 11h1M27 12h1M33 13h1M28 15h1M33 18h1M46 19h1M39 20h1M5 22h1M29 23h1M6 24h1M12 24h1M2 25h1M19 25h1M43 25h1M9 26h1M18 26h1M4 27h1M17 27h2M16 28h1M26 28h1M7 29h1M36 29h1M7 30h2M14 30h1M17 31h1M21 31h1M38 31h1M45 31h1M19 32h1M9 34h1M12 34h1M9 35h2M19 35h1M13 36h1M19 36h1M7 37h1M30 37h1M7 39h1M9 39h2M14 39h1M27 45h1M19 46h1M21 48h1M38 50h1M3 51h1M8 51h1M16 51h1M41 51h1M17 52h1M37 52h1M7 53h1M21 53h1M24 53h1M12 54h1M16 54h1M24 54h1M31 54h1M2 55h1M8 55h1M13 55h1M16 55h1M20 55h1M22 55h1M24 55h1M28 55h1M38 55h1M40 55h1M26 56h1M29 56h1M33 56h1M38 56h1M13 57h1M39 57h1M2 58h1M14 58h2M22 58h1M15 59h1M21 59h1M44 59h1M14 60h1M22 60h1M29 60h1M8 61h1M16 61h1M34 61h1M41 61h1M7 62h1M33 62h1M38 62h1M43 72h1M46 74h1M28 75h1M6 76h1M15 76h1M39 76h1M14 77h1M35 77h1M21 78h1M27 78h1M39 78h1M45 78h1M33 79h1M44 80h1M19 81h1M38 82h1M12 91h1M34 92h1M30 93h1M2 95h1M12 96h1M39 97h1M4 98h1M22 98h1M30 99h1M32 99h1M34 99h1M42 99h2M8 100h1M13 100h1M27 100h1M29 100h1M32 100h1M29 101h1M37 102h1M41 103h1M35 104h1M44 104h1M44 105h1M6 106h1M13 106h1M38 106h1M4 107h1M7 107h1M8 109h1M8 110h1M6 111h1M10 111h1M39 111h1M6 112h1M10 112h1M5 113h1M46 114h1M41 116h1M44 116h1M46 116h1M4 117h1M6 117h1M8 117h1M19 117h1M21 118h1M41 119h1M8 120h1M41 120h1M8 121h1M39 122h1M10 124h1M5 125h1M15 125h1M10 127h1M10 128h1M21 128h1M39 130h1M8 132h1M15 133h1M29 134h1M14 137h1M4 138h1M36 139h1M37 140h1M39 143h1M19 144h1M4 148h1M39 149h1M45 149h1M39 150h1M10 151h1M8 152h1M8 153h1M31 153h1M8 154h1M19 160h1M4 161h1M20 161h1M44 161h1M15 162h1M46 162h1M4 163h1M10 163h1M13 163h1M46 163h1M15 164h1M22 164h1M32 165h1M43 165h1M18 166h1M7 167h1M19 167h1M24 167h1M39 169h1M37 170h1M10 171h1M29 171h1M10 173h1M2 175h1M35 175h2M45 175h1M8 176h1M18 176h1M38 176h1M40 176h1M7 177h1M41 177h2M38 178h1M41 178h1M45 179h1M31 180h1M37 180h1M7 181h1M18 181h1M30 181h1M38 182h1M44 182h1M8 183h1M48 183h1M19 184h2M25 184h2M32 184h1M37 184h1M40 184h1M44 185h1M8 186h2M12 186h1M14 186h1M19 186h1M2 187h1M2 188h1M10 188h1M13 188h1M19 189h1M29 190h1M43 190h1M45 190h1M19 191h1M21 192h1M39 192h1M27 193h1M37 193h1M43 193h1M5 194h1M37 194h1M42 194h1M15 195h2M19 197h1M39 197h1M27 199h1M27 200h1M34 200h1M4 209h1M39 209h1M39 211h1M42 214h1M8 215h1M34 218h1M10 219h1M29 220h1M46 222h1M4 232h1M41 236h1M22 239h1M15 241h1M23 242h1M36 242h1M28 243h1M42 243h1M45 243h1M39 244h2M44 244h1M36 245h1M44 245h1M36 246h1M37 248h1M29 249h1M34 249h1M24 250h1M39 267h1"/>
<path stroke="#f8d6be" d="M31 0h1M33 0h1M41 0h1M16 1h1M23 1h1M27 1h1M22 2h1M31 2h1M24 3h1M7 4h1M19 4h1M37 4h1M43 5h1M16 6h1M24 6h1M36 6h1M17 7h1M30 7h2M40 7h1M30 8h1M21 9h1M38 9h1M22 10h1M19 11h1M34 11h1M25 12h1M4 13h1M27 13h1M28 14h1M33 15h1M43 15h1M25 16h1M29 16h1M14 17h1M25 17h1M30 17h1M34 18h1M36 18h1M42 18h1M46 18h2M33 19h1M42 20h2M38 22h1M40 22h1M21 23h1M40 23h1M17 24h2M26 25h1M48 25h1M19 26h1M28 26h1M16 27h1M36 27h1M40 27h1M34 28h1M19 30h1M27 30h1M39 30h1M45 30h1M10 31h1M19 31h1M25 31h1M33 31h1M46 31h1M14 32h1M17 32h1M27 32h1M29 33h1M6 34h1M31 34h1M33 34h1M44 35h1M7 36h1M27 36h1M32 36h1M23 37h1M46 37h1M2 38h1M15 38h1M18 38h2M42 38h1M2 39h1M6 43h1M14 46h1M4 49h1M16 49h1M21 49h1M17 50h1M21 50h1M39 50h1M17 51h1M20 51h1M14 52h2M46 52h1M32 53h1M43 53h1M20 54h1M46 54h1M26 55h2M29 55h1M32 55h1M35 55h1M43 55h1M5 56h1M10 56h1M17 56h1M22 56h1M25 56h1M27 56h1M30 56h1M36 56h1M39 56h1M41 56h2M7 57h1M10 57h1M19 57h1M28 57h1M40 57h1M18 58h2M26 58h1M36 58h1M39 58h1M6 59h1M13 59h1M17 59h2M20 59h1M39 59h2M43 59h1M18 60h1M21 60h1M30 60h1M39 60h1M42 60h1M44 60h1M47 60h1M10 61h1M25 61h1M28 61h2M38 61h1M42 61h1M45 61h1M27 62h2M37 62h1M38 66h1M14 69h1M14 70h1M40 73h1M25 74h1M28 74h1M33 74h1M38 74h1M47 75h1M10 76h1M16 76h1M24 76h1M36 76h1M3 77h1M10 77h1M17 77h1M34 77h1M43 77h1M40 78h1M6 80h1M45 82h1M4 85h1M4 87h1M15 89h1M19 89h1M26 89h1M31 89h1M46 90h1M36 91h1M0 92h1M19 92h1M38 92h1M46 92h1M10 93h1M17 93h1M24 93h1M38 93h1M5 94h1M14 94h1M39 94h1M26 95h1M3 96h1M32 96h1M44 96h1M3 97h1M26 97h1M29 97h1M31 97h1M35 97h1M37 97h1M42 97h1M19 98h1M21 98h1M34 98h2M39 98h1M43 98h2M4 99h1M7 99h1M15 99h1M17 99h1M25 99h1M27 99h1M41 99h1M7 100h1M9 100h1M15 100h1M21 100h1M40 100h1M37 101h1M8 102h1M29 102h1M32 102h1M2 103h1M8 103h1M34 103h1M47 103h1M5 104h2M8 104h1M4 105h1M36 105h1M39 105h1M43 105h1M45 105h1M10 106h1M35 106h1M43 107h1M47 107h1M4 108h1M10 108h1M44 108h1M25 109h1M39 109h1M5 110h1M19 111h1M8 112h1M29 112h1M5 114h1M7 114h1M4 115h1M19 115h1M29 115h1M5 116h1M14 118h1M5 120h1M10 120h1M36 120h1M36 121h1M41 122h2M14 127h1M29 129h1M37 129h1M39 129h1M8 131h1M33 132h1M6 133h1M37 133h1M39 135h1M6 136h1M8 137h1M10 137h1M36 137h1M34 138h1M6 139h1M38 139h1M21 141h1M29 141h1M31 141h1M6 143h1M10 143h1M31 147h1M10 149h1M39 151h1M41 152h1M19 158h1M4 162h1M14 164h1M46 164h1M40 166h1M46 167h1M19 170h1M19 171h2M28 171h1M33 175h1M41 175h1M2 176h1M19 176h1M33 176h1M35 176h1M37 176h1M42 176h1M27 178h1M11 179h1M28 179h1M5 180h1M17 180h1M19 180h1M27 180h1M42 180h1M45 181h1M16 182h1M21 182h1M37 182h1M45 182h1M1 183h1M34 183h1M4 184h2M33 184h1M35 184h1M5 185h1M26 185h1M29 185h2M43 185h1M34 186h1M34 188h1M5 189h1M7 189h1M36 189h1M43 189h1M5 190h1M9 190h1M32 190h2M5 191h1M10 191h1M48 191h1M2 192h1M4 192h1M30 192h2M4 193h2M38 193h1M34 194h1M2 195h2M19 195h1M24 195h1M38 195h1M23 197h1M42 197h1M10 199h1M22 199h1M29 199h1M8 200h1M10 200h1M19 200h1M27 201h1M19 204h1M19 208h1M29 209h1M4 210h1M10 211h1M37 211h1M8 217h1M39 222h1M4 224h1M39 229h1M29 236h1M47 237h1M14 239h1M45 239h1M24 240h1M38 240h1M44 240h1M37 241h1M41 241h1M19 242h1M21 242h1M24 242h1M38 242h2M27 243h1M30 243h1M46 243h1M38 244h1M23 245h1M26 245h1M38 245h1M18 246h2M39 246h1M39 247h1M44 247h1M38 249h1M29 250h1M37 251h1M42 251h1M42 253h1M14 259h1M39 272h1M21 275h1M39 275h1"/>
<path stroke="#f6a178" d="M32 0h1M37 0h2M41 1h1M0 2h1M15 2h1M21 3h1M38 3h1M32 4h1M29 5h1M33 5h2M39 5h1M45 5h1M17 6h2M20 6h1M38 6h2M43 6h1M34 7h1M17 8h1M40 8h4M5 9h1M19 9h1M30 9h1M42 9h1M46 9h1M7 11h1M17 11h1M28 11h2M37 11h1M7 12h1M18 12h1M28 12h1M43 12h1M14 13h1M21 13h1M30 13h1M42 13h2M20 14h1M25 14h1M32 14h1M41 14h1M11 15h1M14 15h1M45 15h1M37 16h1M44 16h1M46 16h1M11 17h1M29 17h1M39 17h1M45 17h1M21 18h1M23 19h1M31 19h1M42 19h1M45 19h1M14 20h1M32 20h1M36 20h1M3 21h1M4 22h1M33 23h1M42 23h1M11 24h1M36 24h1M41 24h1M45 24h1M23 25h1M27 25h1M32 25h1M2 26h1M34 26h1M2 27h1M37 27h1M2 28h1M17 28h1M38 28h1M5 29h1M41 29h1M13 30h1M18 30h1M32 30h1M46 30h1M35 32h1M44 32h1M17 33h1M35 33h1M41 33h1M23 34h1M26 34h1M30 34h1M37 34h1M29 35h1M32 35h1M37 35h1M21 36h1M28 36h1M35 36h1M40 36h1M10 37h1M15 37h1M32 37h1M39 37h2M7 38h1M24 38h1M45 38h1M21 39h1M33 39h1M27 40h1M48 40h1M15 41h1M24 41h1M33 41h1M46 41h1M14 42h1M25 42h1M30 42h1M3 43h1M43 43h1M21 45h1M29 45h1M4 46h1M15 46h1M21 46h1M29 46h1M16 47h1M19 47h1M39 47h1M38 49h1M45 49h2M10 50h1M31 50h1M34 50h1M2 51h1M11 51h1M18 51h1M45 51h2M24 52h1M26 52h1M13 53h1M25 53h1M45 53h1M2 54h1M4 54h2M25 54h1M41 54h1M12 55h1M45 55h1M2 56h1M7 56h1M5 57h1M12 57h1M20 57h1M30 57h2M35 57h3M42 57h1M46 57h1M7 58h1M10 58h1M12 58h1M16 58h1M28 58h1M30 58h1M1 59h1M5 59h1M19 59h1M2 60h1M4 60h1M31 60h1M45 60h1M18 61h1M37 61h1M43 61h1M31 62h1M35 62h1M48 62h1M37 64h1M46 64h1M8 65h1M36 65h1M41 65h1M27 66h1M34 67h1M7 68h1M14 68h1M16 68h1M27 68h1M34 68h1M38 68h1M43 68h1M19 71h1M15 72h1M7 73h1M11 73h1M27 73h2M35 73h1M38 73h1M45 73h1M5 74h1M20 74h1M24 74h1M31 74h1M14 75h2M36 75h1M38 75h1M41 75h1M27 76h1M43 76h1M4 77h1M9 77h1M25 77h1M30 77h1M41 77h2M12 78h1M20 78h1M25 78h1M9 79h1M11 79h2M4 80h1M16 80h1M9 81h1M32 81h1M25 82h1M29 82h1M34 82h2M44 82h1M46 82h1M30 83h1M33 83h1M5 84h1M34 84h1M35 85h1M39 85h1M21 86h1M30 86h1M38 86h1M16 87h1M26 87h1M38 87h1M4 88h1M31 88h1M40 88h1M4 89h1M18 89h1M20 89h1M27 89h1M34 89h1M9 90h1M19 90h1M24 90h1M29 90h1M33 90h1M37 90h1M40 90h1M42 90h1M3 91h1M23 91h1M26 91h1M28 91h2M37 91h1M39 91h1M41 91h1M47 91h1M4 92h1M6 92h1M11 92h1M14 92h1M16 92h1M18 92h1M2 93h1M42 93h1M0 94h1M4 94h1M9 94h1M27 94h1M47 94h1M4 95h1M7 95h1M9 95h1M27 95h1M35 95h1M40 95h2M7 96h1M5 97h1M17 97h1M0 98h1M36 98h1M38 98h1M46 98h1M11 99h1M21 99h1M33 99h1M2 100h1M24 100h1M43 100h1M6 101h1M12 101h1M16 101h1M46 101h1M3 102h1M12 102h1M18 102h1M36 102h1M44 102h1M46 102h1M4 103h2M14 103h1M44 103h2M2 104h2M14 104h1M28 104h1M43 104h1M9 105h1M25 105h1M16 106h1M31 106h1M5 107h1M44 107h1M46 107h1M3 108h1M11 108h1M13 108h1M19 108h1M30 108h1M46 108h1M2 109h1M37 109h1M7 110h1M46 110h1M15 111h1M36 111h1M43 111h1M2 112h2M27 112h1M31 112h1M33 112h1M45 112h1M4 113h1M17 113h1M22 113h1M46 113h1M14 114h1M44 114h1M14 115h1M26 115h1M28 115h1M43 115h1M20 116h2M27 116h1M31 116h1M2 117h1M10 117h1M30 117h1M32 117h1M40 117h1M43 118h1M45 118h1M3 119h1M15 119h1M21 119h1M29 119h2M36 119h1M40 120h1M42 120h1M45 120h1M15 121h1M7 122h1M22 122h1M40 122h1M46 122h1M0 123h1M4 123h1M29 123h1M46 123h1M34 124h1M8 125h2M28 125h1M38 125h1M41 125h1M46 125h1M15 126h1M36 126h1M38 126h1M0 127h1M6 128h1M14 128h2M40 128h1M45 129h1M35 130h1M4 131h1M11 131h1M14 131h1M30 131h1M36 131h2M43 131h1M9 132h1M14 132h1M28 132h1M14 133h1M42 133h1M45 133h1M27 134h1M36 134h1M48 134h1M19 135h1M36 135h1M19 136h1M38 136h1M5 137h1M15 137h1M47 137h1M2 138h1M8 138h1M29 138h1M44 138h1M3 140h1M6 140h1M8 141h1M13 141h1M40 141h1M39 142h2M46 142h1M8 143h1M16 143h2M19 143h1M31 143h1M33 144h1M14 145h1M16 145h1M27 145h1M9 146h1M31 146h1M21 147h1M33 147h1M44 147h1M46 147h1M15 148h1M4 149h1M9 149h1M27 149h1M33 149h1M37 149h1M41 149h1M7 150h1M9 150h1M33 150h1M36 150h1M47 150h1M4 151h2M34 151h1M21 152h1M34 152h1M30 153h1M11 154h1M27 154h1M15 155h1M30 155h1M9 156h1M15 156h1M31 156h1M33 156h1M46 156h1M7 157h1M9 157h1M39 157h1M5 158h1M7 158h1M38 158h1M29 159h1M38 159h1M26 160h1M30 160h1M7 161h1M15 161h1M34 161h1M5 162h1M37 162h1M15 163h1M20 163h1M3 164h1M17 164h1M28 164h2M32 164h1M34 164h1M10 165h1M15 165h1M33 165h1M42 165h1M47 165h1M15 166h1M20 166h1M23 166h2M35 166h1M43 166h1M13 167h1M15 167h1M33 167h1M48 167h1M9 168h1M15 168h1M19 168h1M11 169h1M32 169h1M36 169h1M42 169h1M9 170h1M11 170h1M17 170h1M21 170h1M27 170h1M30 170h1M36 170h1M45 170h1M3 171h1M22 171h1M31 171h2M5 172h1M11 172h1M21 172h1M29 172h1M33 172h2M37 172h1M43 172h1M47 172h1M11 173h1M16 173h1M24 173h1M29 173h1M33 173h1M35 173h2M19 174h1M32 174h3M36 174h1M7 175h1M13 175h1M21 175h1M28 175h1M14 176h1M24 176h1M37 177h1M39 177h1M4 178h1M8 178h1M40 178h1M14 179h2M17 179h1M25 179h1M29 179h1M4 180h1M21 180h1M39 180h1M8 181h2M33 181h1M1 182h1M3 182h1M8 182h1M27 182h1M43 182h1M47 182h1M12 183h1M19 183h2M35 183h2M39 183h1M9 184h1M24 184h1M29 184h1M0 185h1M8 185h1M12 185h1M17 185h1M25 185h1M40 185h1M15 186h1M32 186h2M44 186h2M3 187h1M26 187h1M8 188h1M16 188h1M20 188h2M37 188h1M17 189h1M30 189h1M39 189h1M30 190h1M42 190h1M44 190h1M40 191h1M5 192h1M27 192h1M17 193h1M24 193h1M28 193h1M44 193h2M11 194h1M40 194h1M13 195h1M18 195h1M29 195h1M43 195h1M5 196h1M32 196h1M40 196h1M13 197h1M26 197h1M34 197h1M8 198h1M10 198h1M21 198h1M46 198h1M48 198h1M8 199h1M44 199h1M13 200h1M37 200h1M41 200h1M17 201h1M44 201h1M11 202h1M10 203h1M7 204h1M29 204h1M4 205h1M4 206h1M42 206h1M10 207h1M14 207h1M46 207h1M10 208h1M23 208h1M37 208h1M38 211h1M4 212h1M16 213h1M37 213h1M46 213h1M25 217h1M29 218h1M47 219h1M7 222h1M45 222h1M29 224h1M39 225h1M10 226h1M19 226h1M29 226h1M39 227h1M25 228h1M30 230h1M35 231h1M39 231h1M39 232h1M21 233h1M2 234h1M21 234h1M18 236h1M8 238h1M47 238h1M31 239h1M35 239h1M38 239h1M11 240h1M19 240h1M26 241h1M30 241h1M46 242h1M24 243h1M32 243h1M46 244h1M34 245h1M30 247h1M4 248h1M18 248h1M31 248h1M33 248h1M44 248h1M17 249h1M19 249h1M41 249h1M45 249h1M5 250h1M3 251h1M17 251h1M25 251h1M29 251h1M40 251h1M9 252h1M40 252h1M22 253h1M6 255h1M14 255h1M39 255h1M39 256h1M17 257h1M36 258h1M21 262h1M30 267h1M40 267h1M16 268h1M34 268h1M21 269h1M16 270h1M20 271h1M39 271h1M30 273h1M33 273h1M37 273h1M39 274h1M29 275h1"/>
<path stroke="#f47f58" d="M34 0h1M23 4h1M26 4h1M48 4h1M1 7h1M6 7h1M38 7h1M41 7h1M45 7h1M11 9h1M43 10h1M8 11h2M35 11h1M40 11h1M3 12h1M6 12h1M40 12h1M45 12h1M40 13h1M29 14h1M39 14h1M12 15h1M17 15h1M38 15h1M22 16h1M33 16h1M41 16h1M8 17h1M38 17h1M17 18h1M27 18h1M38 18h1M45 18h1M13 19h1M28 19h1M20 20h1M25 20h1M44 20h1M26 21h1M29 21h1M33 21h1M37 21h1M9 22h1M20 22h1M34 22h1M39 22h1M33 24h1M39 24h1M17 25h1M35 25h2M35 26h1M46 26h1M7 27h1M40 28h1M26 29h1M44 29h1M17 30h1M37 31h1M44 31h1M26 32h1M40 32h1M27 33h1M31 33h1M34 33h1M45 33h2M25 34h1M18 35h1M26 35h1M38 35h1M46 35h1M25 36h1M44 36h1M20 37h1M45 37h1M23 38h1M25 38h1M44 38h1M30 39h2M37 39h1M14 40h1M39 40h1M20 41h1M44 41h1M10 42h1M17 42h1M23 42h1M31 43h1M37 43h1M39 43h1M9 44h1M4 45h1M6 45h2M46 45h1M25 46h1M31 46h1M4 47h1M8 47h1M29 47h1M38 47h1M34 48h2M3 49h1M5 50h1M44 50h1M31 51h1M23 52h1M2 53h1M23 53h1M18 54h1M39 54h2M12 56h1M11 57h1M26 57h1M41 57h1M47 57h1M9 60h1M24 62h1M11 63h1M18 63h1M45 63h1M8 64h1M21 64h1M32 64h1M5 65h1M11 65h1M25 65h2M35 65h1M6 66h1M18 66h1M25 66h1M35 66h3M48 66h1M7 67h1M18 67h1M27 67h1M17 68h1M30 68h1M37 68h1M6 69h1M17 70h1M29 70h1M3 71h1M7 71h1M21 71h1M24 71h1M37 71h1M4 72h1M46 72h1M2 73h1M12 73h1M21 73h1M41 73h1M2 74h1M14 74h1M21 74h1M45 74h1M21 75h1M30 75h1M43 75h1M21 76h1M34 76h1M40 76h1M27 77h1M11 78h1M31 78h1M5 79h1M15 79h1M21 79h1M34 79h1M37 79h1M40 79h1M43 79h1M45 79h1M3 81h1M20 81h1M25 81h1M37 81h1M45 81h1M11 82h1M13 82h1M17 82h1M28 82h1M13 83h1M15 83h1M28 83h1M17 84h1M19 84h1M25 84h1M29 84h1M37 84h1M33 85h1M40 85h1M20 86h1M29 86h1M43 86h1M48 86h1M8 87h1M11 87h1M25 87h1M29 87h1M32 87h1M37 87h1M44 87h1M48 87h1M11 88h2M21 88h1M32 88h2M41 88h1M43 88h3M47 88h1M9 89h1M11 89h1M13 89h1M38 89h1M41 89h1M26 90h1M48 90h1M15 92h1M23 92h1M5 93h1M14 93h1M25 93h1M47 93h1M22 94h1M38 94h1M18 95h1M48 95h1M6 96h1M11 96h1M16 96h1M12 97h1M2 98h1M11 98h1M14 98h1M23 98h1M9 99h1M20 100h1M17 101h1M23 101h1M48 101h1M11 102h1M20 102h1M11 103h1M25 104h1M11 105h1M18 105h1M23 105h2M27 105h1M30 105h2M47 105h1M14 106h1M23 106h1M45 106h2M2 107h1M23 107h1M7 108h1M16 109h1M43 109h1M45 109h1M0 110h1M2 110h1M9 110h1M11 110h1M13 110h1M15 110h2M38 111h1M40 111h1M17 112h1M21 112h1M26 112h1M41 112h2M34 113h1M2 114h1M20 114h2M34 114h1M33 115h1M35 115h1M46 115h1M25 116h1M16 117h1M22 117h1M36 117h1M48 117h1M3 118h1M16 118h1M34 118h1M16 119h1M38 119h1M43 119h1M3 120h1M9 120h1M15 120h1M20 120h1M25 120h1M46 120h1M9 121h1M21 121h1M30 121h1M33 121h1M26 123h1M17 124h1M47 124h1M7 125h1M11 125h1M25 125h1M6 126h1M14 126h1M21 126h1M41 126h1M36 127h1M40 127h2M46 127h1M35 128h1M46 128h1M25 129h1M38 129h1M2 130h1M16 131h1M18 131h1M26 131h1M46 131h2M0 132h1M2 132h1M15 132h1M21 132h1M30 132h1M38 132h1M0 133h1M9 133h1M11 133h1M21 133h1M27 133h1M40 133h1M3 134h1M30 134h1M32 134h1M35 134h1M9 135h1M21 135h1M30 135h1M35 135h1M40 135h1M44 135h1M19 137h1M21 137h1M26 137h1M29 137h1M42 137h1M17 138h1M30 138h1M33 138h1M38 138h1M2 139h1M13 139h1M17 139h1M21 139h1M30 139h1M35 139h1M44 140h1M47 140h1M7 141h1M9 141h1M47 141h1M4 142h1M7 143h1M30 143h1M13 144h1M16 144h3M44 144h1M2 145h1M11 145h2M30 145h1M36 145h1M39 145h1M27 146h1M7 147h1M9 147h1M16 147h1M29 147h1M36 147h1M26 148h1M37 148h1M15 149h1M21 149h1M2 151h1M38 151h1M25 152h1M32 152h1M36 152h1M48 152h1M27 153h1M32 153h1M40 153h1M48 153h1M16 154h1M14 155h1M27 155h1M29 155h1M32 156h1M42 156h1M21 157h1M30 157h1M32 157h1M40 157h1M47 157h1M9 158h1M11 158h1M13 158h1M16 158h1M30 158h1M39 158h1M37 159h1M40 159h1M3 160h1M11 160h1M17 160h2M21 160h1M27 160h1M34 160h1M12 161h1M33 161h1M47 161h1M21 162h1M34 162h1M5 163h1M21 163h1M35 163h1M44 163h1M44 164h1M2 165h1M17 165h1M27 165h1M29 165h1M34 165h1M45 165h1M9 166h1M13 166h1M30 166h1M44 166h1M32 167h1M2 168h1M47 168h1M5 169h1M22 169h1M33 169h1M44 169h1M10 170h1M43 170h1M5 171h1M30 171h1M34 171h1M42 171h1M48 171h1M1 172h1M38 172h1M42 172h1M21 173h1M30 173h1M34 173h1M1 174h1M5 174h1M12 174h1M21 174h1M38 174h1M12 175h1M15 175h1M20 175h1M43 175h1M47 175h1M20 177h1M30 177h2M48 177h1M2 178h1M1 180h1M25 180h1M30 180h1M34 180h1M48 180h1M11 181h1M23 181h1M32 181h1M47 181h1M24 182h2M46 182h1M22 183h1M24 183h1M42 183h1M47 183h1M6 184h1M2 185h1M4 185h1M23 185h1M41 186h1M21 187h1M40 188h1M12 189h1M20 189h1M45 192h1M48 192h1M33 194h1M4 196h1M33 196h1M5 197h1M14 197h1M20 197h1M32 197h1M41 197h1M44 197h1M4 198h1M37 198h1M43 198h1M15 199h1M48 199h1M16 200h2M4 201h3M13 201h1M20 201h2M25 201h1M46 201h1M30 202h1M5 203h1M14 203h1M30 203h1M36 204h1M3 205h1M8 205h1M29 205h1M21 206h1M29 206h1M31 206h1M46 206h1M15 207h1M41 207h1M3 208h1M8 208h1M17 208h1M38 208h1M41 208h1M8 209h1M16 209h1M31 210h3M10 212h1M33 212h1M47 212h1M17 213h1M30 213h1M42 213h1M4 214h1M35 214h1M11 215h1M3 216h1M15 216h1M21 216h1M2 217h1M3 219h1M15 219h1M25 220h1M4 221h1M36 222h1M17 223h1M21 223h1M36 223h1M43 223h1M45 224h1M2 225h1M14 225h1M19 225h1M17 226h1M39 226h1M41 226h1M43 226h1M15 227h1M46 227h1M3 228h2M17 229h1M43 229h1M29 231h1M47 231h1M29 232h1M2 233h1M39 233h1M3 235h1M14 235h1M21 235h1M39 235h1M17 236h1M21 236h1M47 236h1M36 237h1M4 238h1M25 238h1M46 239h1M12 240h1M30 240h1M28 247h1M22 248h1M41 248h1M44 249h1M33 250h1M20 251h1M23 251h1M30 251h1M26 253h1M46 254h1M10 255h1M15 255h1M8 256h1M17 256h1M37 256h1M16 257h1M46 257h1M43 259h1M31 261h1M39 262h1M13 268h1M15 268h1M36 269h1M38 270h1M35 271h1M32 272h1M13 273h1M34 273h1M41 274h1M24 275h1"/>
<path stroke="#f6b893" d="M39 0h1M34 1h1M6 2h1M14 2h1M25 2h1M32 2h1M12 3h1M32 3h2M43 3h1M12 4h1M16 4h1M22 4h1M24 4h2M28 4h2M38 4h1M40 4h1M15 5h2M44 5h1M48 5h1M26 6h1M42 6h1M44 6h2M9 7h1M37 7h1M6 8h1M39 8h1M46 8h1M6 9h1M26 9h1M32 9h1M39 9h1M29 10h1M36 10h1M40 10h1M46 10h1M6 11h1M26 11h1M38 11h1M41 11h1M45 11h1M4 12h1M17 12h1M21 12h1M37 12h1M25 13h1M34 13h1M36 13h2M24 14h1M27 14h1M34 14h1M18 15h2M30 15h1M41 15h1M28 17h1M31 17h1M36 17h1M14 18h1M44 18h1M15 19h1M17 19h1M38 19h1M44 19h1M7 20h1M15 20h1M23 20h1M26 20h1M30 20h1M41 20h1M45 20h1M27 21h1M31 21h1M6 22h1M29 22h1M33 22h1M37 22h1M46 22h1M9 23h1M15 23h1M28 23h1M37 23h1M23 24h1M40 24h1M12 25h1M21 25h1M4 26h1M24 26h1M39 26h2M23 27h1M32 27h1M34 27h1M42 27h1M14 28h1M30 28h1M39 28h1M41 28h1M45 28h1M17 29h1M19 29h1M25 29h1M37 29h1M46 29h1M6 30h1M9 30h1M38 30h1M42 30h2M16 31h1M32 31h1M35 31h1M39 31h1M42 31h1M30 32h1M33 32h2M39 32h1M24 33h1M2 34h1M18 34h2M34 34h1M36 34h1M42 34h1M8 35h1M11 35h1M17 35h1M24 35h1M31 35h1M45 35h1M47 35h1M3 36h1M18 36h1M26 36h1M33 36h1M38 37h1M44 37h1M10 38h1M16 38h1M26 38h1M31 38h1M40 38h1M4 39h1M15 39h1M17 41h1M19 41h1M6 42h1M19 42h1M9 43h1M19 45h1M28 45h1M5 47h1M33 47h1M18 48h2M42 48h1M44 48h2M9 49h1M14 49h1M34 49h1M37 49h1M42 49h1M36 50h1M19 51h1M21 51h1M35 51h1M42 51h1M44 51h1M2 52h1M4 52h1M10 52h1M12 52h1M16 52h1M33 52h1M38 52h1M20 53h1M27 53h1M42 53h1M32 54h2M36 54h3M42 54h1M9 55h1M17 55h1M44 55h1M3 56h1M6 56h1M9 56h1M13 56h1M18 56h1M21 56h1M44 56h1M15 57h1M13 58h1M25 58h1M27 58h1M29 58h1M31 58h1M33 58h3M37 58h1M12 59h1M10 60h2M38 60h1M4 61h1M4 62h2M15 62h1M44 62h1M43 65h1M17 71h1M1 72h1M16 73h1M30 73h1M29 74h1M34 74h1M41 74h1M44 74h1M22 75h1M25 75h1M34 75h1M44 75h1M7 76h1M31 76h1M37 76h1M1 77h2M7 77h1M16 77h1M32 77h2M40 77h1M4 78h2M8 78h1M15 78h1M28 78h1M30 78h1M8 79h1M14 79h1M35 79h1M15 80h1M17 80h1M32 80h1M21 81h1M10 83h1M38 83h1M11 84h1M14 84h1M35 84h1M39 84h1M31 85h1M33 86h1M43 87h1M3 88h1M7 88h1M10 88h1M6 89h1M16 89h1M24 89h1M7 90h1M14 90h1M8 91h1M24 91h2M27 91h1M32 91h1M12 92h1M21 92h1M29 92h1M31 92h1M36 92h2M39 92h1M42 92h1M6 93h1M22 93h1M26 93h1M31 93h1M45 93h1M3 94h1M6 94h1M17 94h1M24 94h1M36 94h2M40 94h1M44 94h1M46 94h1M5 95h2M16 95h2M25 95h1M29 95h2M32 95h1M34 95h1M39 95h1M44 95h1M18 96h1M24 96h1M33 96h1M38 96h1M40 96h1M16 97h1M36 97h1M46 97h2M6 98h1M10 98h1M20 98h1M3 99h1M8 99h1M20 99h1M28 99h1M44 99h1M17 100h1M33 100h1M42 100h1M2 101h1M4 101h1M19 101h1M47 101h1M19 102h1M26 102h1M38 102h1M40 102h1M18 103h1M30 103h1M19 104h1M33 104h1M47 104h1M28 105h1M25 106h2M33 106h1M44 106h1M47 106h1M16 107h1M27 107h1M38 107h1M16 108h1M5 109h1M6 110h1M11 111h1M37 111h1M44 111h2M44 112h1M27 113h1M33 113h1M31 114h1M2 115h1M6 115h1M15 115h1M4 116h1M8 116h1M14 116h2M36 116h2M5 117h1M7 117h1M43 117h1M4 118h1M26 118h2M36 118h1M47 118h1M2 119h1M5 119h1M4 120h1M11 120h1M5 121h1M34 121h1M41 121h1M45 121h1M32 122h1M45 122h1M27 123h1M31 123h1M34 123h1M40 124h1M21 125h1M37 125h1M38 127h1M8 128h1M34 128h1M39 128h1M5 130h1M11 130h1M19 130h1M47 130h1M39 131h1M17 132h1M27 132h1M37 132h1M6 134h1M8 134h1M11 134h1M39 134h1M46 134h1M4 135h1M6 135h1M14 135h1M33 135h1M8 136h1M40 136h1M19 139h1M29 139h1M2 140h1M11 140h1M14 140h1M17 140h1M4 141h1M15 141h1M19 141h1M30 141h1M46 141h1M5 142h1M33 142h1M38 142h1M9 143h1M36 143h1M10 144h1M46 145h1M4 146h1M6 146h1M10 146h1M28 146h1M38 146h1M6 147h1M24 147h1M4 150h1M10 150h1M17 150h2M33 151h1M47 151h1M14 152h1M45 152h1M19 153h1M2 154h1M9 154h1M19 154h1M34 154h1M5 155h1M25 155h1M37 155h1M39 155h1M41 155h1M25 156h1M27 156h1M19 157h1M15 158h1M29 158h1M45 158h1M8 159h1M13 159h1M45 159h1M14 160h1M41 160h1M5 161h2M19 161h1M48 161h1M8 162h1M30 162h1M36 162h1M45 162h1M9 163h1M45 163h1M20 164h1M35 164h1M41 164h1M11 165h1M16 165h1M31 165h1M36 165h2M10 166h1M27 167h1M35 167h1M37 167h1M42 167h1M33 168h2M7 169h2M7 170h1M14 170h1M32 170h1M4 171h1M7 171h1M16 171h1M44 171h1M32 172h1M40 172h1M45 172h1M37 173h1M29 174h2M41 174h1M44 174h1M46 174h1M9 175h1M30 175h2M34 175h1M37 175h1M5 176h1M15 176h2M25 176h1M32 176h1M44 176h1M46 176h1M1 177h1M3 177h1M11 177h1M14 177h2M36 177h1M38 177h1M3 178h1M5 178h1M25 178h1M28 178h1M31 178h1M33 178h1M35 178h1M23 179h1M27 179h1M42 179h1M16 180h1M45 180h1M4 181h2M12 181h1M15 181h1M26 181h1M29 181h1M38 181h1M12 182h1M18 182h1M20 182h1M34 182h3M41 182h1M5 183h1M30 183h1M43 183h2M11 184h2M18 184h1M21 184h1M34 184h1M3 185h1M18 186h1M26 186h1M28 186h1M37 186h1M9 187h1M14 187h1M17 187h1M29 187h2M33 187h1M35 187h1M40 187h1M25 188h1M29 188h1M42 188h1M11 189h1M15 189h1M25 189h1M31 189h1M37 189h1M2 190h1M6 190h1M15 190h1M17 190h1M20 190h1M24 190h2M38 190h1M1 191h1M8 191h1M29 191h1M33 191h2M44 191h1M7 192h1M24 192h1M44 192h1M9 193h2M12 193h1M18 193h1M40 193h1M9 194h1M19 194h1M24 194h1M35 194h1M43 194h1M45 194h1M17 195h1M23 195h1M27 195h1M40 195h1M40 197h1M22 200h1M39 200h1M45 200h1M37 203h1M10 204h1M37 204h1M14 206h1M4 207h1M7 208h1M21 208h1M19 209h1M4 211h1M16 211h1M19 211h1M29 211h1M16 212h1M25 212h1M42 215h1M34 217h1M4 220h1M17 220h1M4 223h1M14 234h1M47 234h1M13 235h1M37 237h1M32 239h1M37 239h1M27 240h1M35 240h1M41 240h1M45 240h1M16 241h1M32 241h1M35 241h1M25 242h1M30 242h1M33 242h1M35 244h1M42 244h1M45 244h1M13 245h1M33 245h1M40 245h1M25 246h1M17 247h1M19 247h1M7 248h1M32 248h1M40 248h1M39 249h1M46 249h1M27 250h1M4 251h1M28 251h1M31 251h1M33 251h1M17 252h1M23 252h1M42 252h1M34 253h1M37 253h1M39 254h1M19 260h1M21 260h1M35 267h1M33 271h1M13 275h1"/>
<path stroke="#f37450" d="M1 1h1M5 2h1M17 2h1M24 5h1M41 5h1M2 6h1M21 6h1M23 6h1M34 6h1M24 7h1M32 8h1M34 8h1M48 9h1M14 10h1M24 10h1M33 10h1M31 11h1M20 12h1M31 12h1M46 12h1M39 13h1M44 13h1M6 14h1M38 14h1M25 15h1M31 15h1M24 16h1M26 16h1M4 17h1M21 17h1M37 17h1M1 18h1M23 18h1M21 19h2M1 20h1M16 20h1M28 20h1M33 20h1M7 21h1M40 21h1M45 21h1M7 22h1M23 22h2M32 22h1M42 22h1M28 24h1M22 25h1M45 25h1M5 26h2M15 26h1M20 26h1M37 26h2M39 27h1M22 28h1M18 29h1M44 30h1M13 33h1M13 34h1M23 35h1M43 35h1M12 36h1M23 36h1M12 37h1M42 37h1M46 39h1M25 40h1M28 40h1M36 40h1M2 41h1M30 41h1M32 41h1M34 41h1M45 41h1M16 42h1M21 42h1M35 42h1M39 42h1M38 43h1M29 44h1M38 44h1M40 44h1M1 45h1M16 45h1M34 45h1M43 45h3M16 46h1M35 46h1M45 46h1M6 47h1M17 47h1M31 47h1M40 47h1M44 47h2M30 48h1M25 49h2M35 49h1M22 50h1M32 50h1M28 51h1M36 52h1M39 53h1M44 53h1M43 54h1M20 56h1M47 56h1M41 58h1M2 59h1M3 60h1M48 60h1M32 62h1M34 62h1M32 63h1M37 63h1M44 63h1M11 64h1M15 64h1M36 64h1M39 64h3M44 64h1M14 65h3M19 65h1M46 65h1M7 66h1M11 66h1M24 66h1M41 66h3M45 66h1M0 67h1M12 67h1M22 67h1M31 67h1M45 67h1M9 68h2M42 68h1M46 68h1M7 69h1M33 69h1M3 70h1M21 70h1M25 70h1M34 70h1M38 70h1M44 70h1M45 71h1M3 72h1M16 72h1M21 72h1M23 72h1M27 72h1M33 72h1M40 72h2M16 74h1M35 74h1M40 75h1M42 75h1M5 76h1M12 76h1M12 77h1M14 78h1M24 79h1M26 79h1M31 79h1M30 80h1M43 80h1M48 80h1M31 81h1M40 81h3M48 81h1M6 82h1M12 82h1M32 82h2M37 82h1M39 82h1M16 83h2M31 83h1M37 83h1M39 83h1M32 84h1M46 84h1M1 85h1M32 85h1M34 85h1M45 85h1M9 86h2M25 86h1M34 86h1M39 86h1M41 86h1M46 86h1M9 87h1M20 87h2M33 87h1M16 88h1M30 88h1M35 88h1M3 89h1M37 89h1M40 89h1M44 89h1M46 89h1M1 90h1M47 90h1M17 91h1M20 91h1M40 91h1M10 92h1M45 92h1M44 93h1M15 94h1M34 94h1M48 94h1M20 95h1M33 95h1M9 96h1M13 96h1M11 97h1M23 97h1M17 98h1M24 98h1M3 100h1M44 100h1M6 102h1M30 102h1M23 103h1M9 104h1M48 104h1M3 105h1M21 105h1M3 107h1M18 107h1M21 107h1M25 107h1M41 107h1M2 108h1M28 108h1M41 108h1M45 108h1M7 109h1M14 109h1M30 109h1M21 110h1M25 110h1M30 110h1M34 110h1M14 111h1M16 111h1M20 111h2M25 111h1M48 111h1M9 112h1M14 112h1M20 112h1M38 112h1M0 113h1M2 113h1M6 113h1M8 113h1M13 113h1M25 113h1M28 113h1M45 113h1M0 114h1M3 114h1M6 114h1M17 114h1M25 114h1M40 114h1M38 115h1M2 116h1M30 116h1M47 116h1M0 117h1M20 117h1M26 117h1M46 117h2M0 118h1M48 118h1M26 119h1M37 119h1M47 119h1M17 120h1M0 121h1M24 121h1M32 121h1M47 121h1M0 122h1M3 122h1M5 122h1M13 122h1M17 122h1M28 122h1M30 122h1M12 123h1M15 123h2M32 123h2M42 123h1M44 123h1M5 124h1M12 124h1M16 124h1M22 124h1M30 124h1M41 124h1M44 124h1M27 125h1M2 126h1M11 126h1M17 126h1M22 126h1M31 126h1M9 127h1M47 127h1M2 128h1M27 128h1M32 128h1M38 128h1M3 129h1M8 129h1M17 129h1M22 129h1M27 129h1M30 129h1M41 129h1M43 129h1M17 130h1M23 130h1M33 130h1M40 130h1M46 130h1M48 130h1M31 131h1M41 131h1M44 131h1M5 132h1M18 132h1M24 132h1M35 132h1M47 132h2M28 133h1M32 133h1M9 134h1M12 134h1M0 135h1M2 135h1M13 135h1M16 135h2M34 135h1M46 135h1M11 136h1M46 136h1M2 137h1M30 137h1M46 137h1M7 138h1M11 138h1M42 138h1M11 139h1M16 139h1M27 139h1M33 139h1M41 139h1M46 139h2M33 140h1M40 140h1M39 141h1M11 142h1M16 142h1M25 142h1M29 142h2M13 143h1M35 143h1M37 143h1M40 143h1M42 143h1M21 144h1M37 144h1M39 144h1M45 144h1M25 145h1M32 145h3M43 145h1M20 146h1M30 146h1M35 146h1M17 147h1M16 148h3M38 148h1M16 149h1M36 149h1M15 150h1M30 150h1M34 150h1M20 151h2M20 152h1M29 152h1M16 153h1M36 153h1M43 153h1M14 154h1M21 154h1M37 154h1M16 155h1M21 155h1M26 155h1M2 156h1M16 156h2M29 157h1M31 157h1M46 157h1M48 157h1M27 158h1M34 158h1M5 159h1M14 159h1M22 159h1M28 159h1M41 159h1M31 160h1M3 161h1M11 161h1M21 161h1M26 161h1M38 161h1M42 161h1M2 162h1M7 162h1M9 162h1M32 162h1M34 163h1M7 165h1M25 165h1M19 166h1M27 166h1M41 166h1M2 167h1M25 167h2M31 167h1M41 167h1M27 168h1M37 168h1M20 169h1M40 169h1M5 170h2M25 170h2M28 170h1M41 171h1M9 172h1M15 172h1M18 172h1M27 172h1M44 172h1M2 173h1M23 173h1M27 173h1M44 173h1M27 174h1M42 174h1M48 174h1M20 176h1M34 176h1M48 176h1M34 177h1M15 178h1M20 178h1M34 178h1M8 179h1M2 181h1M14 182h1M30 182h1M38 183h1M38 186h1M13 187h1M7 188h1M14 188h1M21 189h1M45 189h1M41 190h1M17 191h1M2 196h1M14 196h3M26 196h1M35 196h1M41 196h1M9 197h1M11 197h1M17 197h1M21 197h1M2 198h1M7 198h1M15 198h1M32 198h1M39 198h1M0 199h1M9 199h1M16 199h1M21 199h1M25 199h1M46 199h1M7 200h1M20 200h1M36 200h1M8 202h2M37 202h1M13 203h1M4 204h1M21 204h1M30 204h1M25 205h1M15 206h1M35 206h2M3 207h1M35 207h1M45 207h1M5 208h1M46 208h1M24 209h1M30 209h1M41 209h1M14 210h1M28 210h1M37 210h1M45 210h1M6 211h1M20 211h1M46 211h1M15 212h1M21 212h1M29 212h1M25 213h1M47 213h1M0 214h1M17 214h1M21 214h1M46 214h1M4 215h1M7 215h1M16 215h1M21 215h1M47 215h1M4 216h1M28 216h1M33 216h1M36 216h1M17 217h1M19 218h1M21 218h1M4 219h2M21 219h1M25 219h1M35 219h1M3 220h1M30 220h1M33 220h1M35 220h1M7 221h1M9 221h1M16 221h1M21 221h1M41 221h1M45 221h1M41 222h1M14 223h1M25 223h1M29 223h2M41 224h1M3 225h1M5 225h1M29 225h1M47 226h1M18 228h1M38 228h1M14 229h1M47 229h1M3 230h1M25 230h1M21 231h1M15 232h1M23 232h1M47 232h1M14 233h1M25 233h1M30 233h1M36 233h1M38 233h1M47 233h1M4 234h1M8 234h1M18 234h1M4 235h1M9 235h1M16 236h1M4 237h1M38 237h1M10 238h1M41 239h1M33 243h1M24 245h1M30 248h1M34 250h1M44 251h1M20 253h1M27 253h1M45 253h1M13 254h1M43 255h1M2 256h1M2 257h1M5 257h1M41 257h1M47 257h1M15 258h2M47 258h1M6 259h1M11 259h1M15 259h1M15 260h1M27 260h1M30 260h1M36 263h1M14 267h1M37 267h2M41 267h1M16 269h1M21 270h1M35 270h1M41 270h1M16 271h1M38 271h1M43 271h1M45 271h1M20 272h1M16 273h1M45 275h1"/>
<path stroke="#f58b63" d="M12 1h1M35 1h1M37 1h1M2 2h1M20 2h1M23 2h1M39 2h2M34 3h1M30 4h1M35 4h1M43 4h1M23 7h1M44 7h1M26 8h1M28 8h1M12 9h1M41 9h1M44 9h1M36 11h1M35 12h1M41 12h1M20 13h1M31 13h1M12 14h1M17 14h1M26 14h1M30 14h1M13 15h1M44 15h1M5 16h1M13 16h1M16 16h2M23 16h1M31 16h2M43 17h1M46 17h1M32 18h1M37 18h1M27 20h1M34 20h1M40 20h1M4 21h1M11 21h1M18 21h1M24 21h1M35 21h1M44 21h1M0 22h1M3 22h1M16 22h1M25 22h1M30 22h1M47 22h1M16 23h1M26 23h1M30 23h1M32 23h1M34 23h1M34 25h1M40 25h1M44 25h1M29 26h1M32 26h1M6 27h1M20 27h1M26 27h2M41 27h1M43 27h1M45 27h1M32 28h1M36 28h1M21 29h1M28 29h1M30 29h1M39 29h1M2 30h1M5 30h1M21 30h2M41 30h1M20 31h1M41 31h1M18 32h1M29 32h1M31 32h1M42 32h1M14 33h1M20 33h1M39 33h1M44 33h1M30 35h1M39 35h1M36 36h1M38 36h1M41 36h1M17 37h1M24 37h1M35 37h1M48 37h1M21 38h1M43 38h1M32 39h1M36 39h1M41 39h3M15 40h1M38 40h1M45 40h1M6 41h1M21 41h1M29 41h1M36 41h1M41 41h1M4 42h1M15 42h1M20 43h1M29 43h1M45 43h1M4 44h1M16 44h1M3 45h1M38 45h2M3 46h1M6 46h1M27 46h1M46 46h1M15 47h1M28 47h1M33 48h1M12 49h1M30 49h1M33 49h1M1 51h1M32 51h2M3 52h1M7 52h1M13 52h1M30 52h1M45 52h1M4 53h1M9 53h1M11 53h1M30 53h2M37 53h2M46 53h1M9 54h1M45 54h1M4 56h1M35 56h1M38 57h1M9 58h1M42 58h1M4 59h1M30 59h1M7 60h1M2 62h1M7 63h1M41 63h1M43 63h1M48 63h1M9 65h1M20 65h2M42 65h1M45 65h1M48 65h1M22 66h1M39 66h1M44 66h1M8 67h1M16 67h1M21 67h1M23 67h1M30 67h1M40 67h1M4 68h1M33 68h1M40 68h1M45 68h1M9 69h1M43 69h1M45 69h1M8 70h1M10 70h1M37 70h1M23 71h1M44 71h1M46 71h1M19 72h2M38 72h1M42 72h1M14 73h1M20 73h1M37 73h1M47 73h1M3 74h1M17 74h1M27 74h1M3 75h1M16 75h1M19 75h1M35 75h1M2 76h1M4 76h1M20 76h1M25 76h1M38 76h1M42 76h1M44 76h1M46 76h1M26 77h1M39 77h1M18 78h1M26 78h1M32 79h1M39 79h1M2 80h1M18 80h1M22 80h2M37 80h1M8 81h1M22 81h1M33 81h1M36 81h1M10 82h1M43 82h1M8 83h1M21 83h2M24 83h1M35 83h1M40 83h1M3 84h2M26 84h1M43 84h1M45 84h1M16 85h2M43 85h1M8 86h1M16 86h1M27 86h1M39 87h1M8 88h1M26 88h1M28 88h1M37 88h1M46 88h1M48 88h1M0 89h1M5 89h1M10 89h1M16 90h1M28 90h1M34 90h1M21 91h1M2 92h2M5 92h1M41 92h1M9 93h1M16 93h1M27 93h1M29 93h1M34 93h1M39 93h1M7 94h1M11 94h1M29 94h1M32 94h1M11 95h1M15 95h1M37 95h1M47 95h1M20 96h1M28 96h1M1 98h1M3 98h1M0 99h2M13 99h2M18 99h1M46 99h1M5 100h1M18 100h1M47 100h1M3 101h1M20 101h1M7 102h1M17 102h1M23 102h1M0 103h1M3 103h1M6 103h1M15 103h2M32 103h1M35 103h1M20 104h1M23 104h1M32 104h1M40 104h1M0 105h1M6 105h1M8 105h1M16 105h1M26 105h1M15 106h1M19 106h1M30 106h1M40 106h1M43 106h1M28 107h1M42 107h1M6 108h1M17 108h1M23 108h1M15 109h1M26 109h1M41 110h1M9 111h1M29 111h2M47 111h1M11 112h1M15 112h2M24 112h1M28 112h1M32 112h1M35 112h1M9 113h1M12 113h1M15 113h1M21 113h1M26 113h1M31 113h1M44 113h1M31 115h1M45 115h1M0 116h1M9 116h1M11 116h1M16 116h1M33 116h1M40 116h1M45 116h1M44 117h1M2 118h1M13 118h1M18 118h1M20 118h1M32 118h1M44 118h1M46 118h1M13 119h1M42 119h1M13 120h1M24 120h1M31 120h3M44 120h1M47 120h2M2 121h2M16 121h2M27 121h1M43 121h1M11 122h1M15 122h1M26 122h1M31 122h1M7 123h1M19 123h1M39 123h1M41 123h1M45 123h1M2 124h1M27 124h1M12 125h1M47 125h1M19 126h1M30 126h1M30 127h1M3 128h1M36 128h2M44 128h1M47 128h1M15 129h1M34 129h1M0 130h1M26 130h1M29 130h1M45 130h1M9 131h1M28 131h1M38 131h1M3 132h1M6 132h1M16 132h1M2 133h1M39 133h1M0 134h1M2 134h1M5 134h1M15 134h1M33 134h1M47 134h1M2 136h1M14 136h1M17 136h1M30 136h1M44 136h1M11 137h1M17 137h1M44 137h1M15 138h1M3 139h1M5 139h1M9 139h1M45 139h1M4 140h2M9 140h1M21 140h1M38 140h1M16 141h1M35 141h1M9 142h1M15 142h1M17 142h1M2 143h1M11 143h1M34 143h1M2 144h1M43 144h1M47 144h1M38 145h1M8 146h1M14 146h1M17 146h1M34 146h1M37 146h1M41 146h1M43 146h1M2 147h1M5 147h1M11 147h1M39 147h1M5 148h1M7 148h1M21 148h1M29 148h2M33 148h2M43 148h1M7 149h1M18 149h1M47 149h1M2 150h2M26 150h1M31 150h1M48 150h1M14 151h1M29 151h1M48 151h1M9 152h1M11 152h1M16 152h1M30 152h1M38 152h1M43 152h1M47 152h1M11 153h1M14 153h1M29 153h1M38 153h1M45 153h1M17 154h1M29 154h1M32 154h1M19 155h1M35 155h1M38 155h1M48 155h1M7 156h1M14 156h1M21 156h1M36 156h1M48 156h1M4 157h1M11 157h1M13 157h1M16 157h1M27 157h1M14 158h1M17 158h1M37 158h1M48 158h1M36 159h1M16 160h1M40 160h1M2 161h1M30 161h1M32 161h1M36 161h1M17 162h1M19 162h2M43 162h1M8 163h1M26 163h1M28 163h1M37 163h1M42 163h2M1 164h1M9 164h1M13 164h1M16 164h1M3 165h1M19 165h1M21 165h1M24 165h1M35 165h1M33 166h1M37 166h1M9 167h1M22 167h2M30 167h1M34 167h1M21 168h2M30 168h2M38 168h1M44 168h1M15 169h1M27 169h2M45 169h1M47 169h1M8 170h1M22 170h1M29 170h1M33 170h1M38 170h1M42 170h1M17 171h1M37 171h1M40 171h1M10 172h1M12 172h1M14 172h1M26 172h1M20 173h1M25 173h1M3 174h1M7 174h1M18 174h1M37 174h1M8 175h1M16 175h1M17 176h1M27 176h1M36 176h1M43 176h1M47 176h1M16 177h1M21 177h1M26 177h1M43 177h1M47 177h1M17 178h1M31 179h1M34 179h1M6 180h1M23 180h1M32 180h1M47 180h1M1 181h1M3 181h1M14 181h1M35 181h1M46 181h1M9 182h1M23 182h1M33 182h1M9 183h1M23 183h1M7 184h1M15 184h2M48 184h1M7 185h1M21 185h1M2 186h1M29 186h1M35 186h1M7 187h1M23 187h1M32 187h1M11 188h1M24 188h1M26 188h1M26 189h1M31 190h1M35 191h1M11 192h1M14 192h1M18 192h1M32 193h2M11 195h1M14 195h1M28 195h1M11 196h1M37 196h1M8 197h1M48 197h1M14 198h1M41 198h1M44 198h1M4 199h1M45 199h1M5 200h1M44 200h1M46 200h1M14 201h1M16 201h1M6 202h1M40 202h1M4 203h1M6 204h1M16 205h1M37 205h1M16 206h1M36 207h1M44 207h1M14 208h1M29 208h1M42 208h1M3 209h1M10 209h1M17 209h1M21 209h1M36 209h2M3 210h1M5 210h1M34 210h1M17 211h1M45 212h1M21 213h1M36 213h1M7 214h1M32 214h1M36 214h2M32 215h1M30 216h1M32 216h1M42 216h1M47 216h1M36 217h1M47 218h1M9 220h1M36 220h1M40 221h1M3 222h1M8 222h1M10 223h1M35 223h1M47 223h1M21 224h1M47 224h1M10 225h1M38 225h1M29 227h1M3 229h1M15 229h1M30 229h2M35 230h1M39 230h1M30 231h1M38 231h1M4 233h1M16 234h1M46 234h1M36 235h1M40 235h1M14 236h1M25 236h1M16 237h1M35 238h1M16 239h1M33 239h1M39 239h1M21 240h1M31 240h1M33 240h1M23 241h1M34 243h1M33 244h1M25 245h1M32 245h1M43 245h1M34 246h1M42 246h1M29 247h1M20 248h1M24 248h1M20 249h1M10 250h1M23 250h1M45 251h1M43 252h1M14 254h1M36 254h1M17 255h1M3 256h1M6 256h1M16 256h1M36 257h1M39 257h1M7 258h1M39 260h1M16 267h1M43 267h1M45 267h1M18 268h1M37 268h1M39 268h1M18 269h1M34 269h1M43 269h1M37 270h1M14 271h1M43 272h1M39 273h1M43 274h1"/>
<path stroke="#f5976e" d="M32 1h1M39 1h2M43 1h1M33 2h1M38 2h1M10 3h1M13 3h1M23 3h1M42 3h1M46 5h1M40 6h1M18 7h1M36 7h1M42 7h1M25 8h1M33 8h1M37 8h2M25 9h1M37 9h1M40 9h1M45 9h1M6 10h1M9 10h1M20 10h1M25 10h1M35 10h1M38 10h1M12 11h1M21 11h1M25 11h1M34 12h1M3 13h1M18 13h1M28 13h1M35 13h1M45 13h1M14 14h1M18 14h1M42 14h1M46 14h1M3 15h1M6 15h1M15 15h1M21 15h1M29 15h1M4 16h1M42 16h1M2 17h1M18 18h1M26 18h1M28 18h1M40 18h1M10 19h1M14 19h1M20 19h1M37 19h1M12 20h1M35 20h1M48 20h1M16 21h1M13 22h1M20 23h1M25 23h1M27 23h1M38 23h2M44 23h1M3 24h1M21 24h1M26 24h1M29 24h2M20 25h1M25 25h1M29 25h1M38 25h2M22 26h1M30 26h1M33 26h1M36 26h1M42 26h1M44 26h2M13 27h1M15 27h1M29 27h1M38 27h1M46 27h1M1 28h1M42 28h1M46 28h1M20 29h1M22 29h1M35 29h1M24 31h1M27 31h1M30 31h1M20 32h1M41 32h1M46 32h1M4 33h1M12 33h1M33 33h1M21 34h1M27 34h1M29 34h1M38 34h1M12 35h1M16 35h1M27 35h1M33 35h3M41 35h1M48 35h1M20 36h1M29 36h1M45 36h1M18 37h1M34 37h1M12 38h1M28 38h1M30 38h1M41 38h1M12 39h1M18 39h1M27 39h1M34 39h1M40 39h1M45 39h1M17 40h1M35 40h1M47 40h1M5 41h1M27 41h1M38 41h1M29 42h1M44 42h2M11 43h1M27 43h1M36 43h1M41 43h1M14 44h1M38 46h1M41 46h1M14 47h1M18 47h1M36 47h1M5 48h1M24 48h1M26 48h1M29 48h1M31 48h1M36 48h1M41 48h1M2 49h1M20 49h1M28 49h1M41 49h1M6 50h1M9 50h1M45 50h1M47 50h1M7 51h1M12 51h1M38 51h1M43 51h1M18 52h1M20 52h1M39 52h1M3 53h1M5 53h1M29 53h1M35 53h1M1 54h1M26 54h1M44 54h1M47 54h1M1 55h1M1 57h1M23 57h1M29 57h1M32 57h1M3 58h1M20 58h1M23 58h1M40 58h1M48 58h1M3 59h1M48 59h1M23 60h1M7 61h1M15 61h1M35 61h1M25 62h1M29 62h2M41 62h1M6 63h1M17 63h1M46 63h1M16 64h1M19 64h2M33 64h1M17 65h1M16 66h1M21 66h1M43 67h1M8 68h1M8 69h1M21 69h1M11 70h1M23 70h1M27 70h1M8 71h1M16 71h1M38 71h1M14 72h1M39 72h1M24 73h2M7 74h1M11 74h1M36 74h1M42 74h1M4 75h1M9 75h1M17 75h1M24 75h1M26 75h1M39 75h1M45 75h1M1 76h1M8 76h1M22 76h2M35 76h1M5 77h1M21 77h1M46 77h1M2 78h1M9 78h1M24 78h1M32 78h1M35 78h1M48 78h1M16 79h1M18 79h1M25 79h1M27 79h1M47 79h1M5 80h1M13 80h1M19 80h2M26 80h1M28 80h1M35 80h1M16 81h1M4 82h1M8 82h1M15 82h2M19 82h1M26 83h1M29 83h1M32 83h1M43 83h1M30 84h1M8 85h1M14 85h1M3 86h2M31 86h2M35 86h1M37 86h1M15 87h1M17 87h1M40 87h1M14 89h1M28 89h2M33 89h1M42 89h2M11 90h3M22 90h2M30 90h1M43 90h1M0 91h1M9 91h1M38 91h1M46 91h1M48 91h1M8 92h1M25 92h1M27 92h1M40 92h1M43 93h1M2 94h1M8 94h1M25 94h2M43 94h1M10 95h1M14 95h1M43 95h1M46 95h1M17 96h1M21 96h1M26 96h1M36 96h1M47 96h1M1 97h1M13 97h1M18 97h1M28 97h1M40 97h1M18 98h1M28 98h1M2 99h1M5 99h1M1 100h1M19 100h1M28 100h1M36 100h1M5 101h1M14 101h1M26 101h1M35 101h1M4 102h1M15 102h1M33 102h1M42 102h2M17 103h1M28 103h2M33 103h1M18 104h1M21 104h1M26 104h1M38 104h1M14 105h2M27 106h1M32 106h1M0 107h1M13 107h2M32 107h1M35 107h1M15 108h1M21 108h1M25 108h1M35 108h1M11 109h1M32 109h2M38 109h1M47 109h2M14 110h1M32 110h1M36 110h1M44 110h1M36 112h1M46 112h1M7 113h1M14 113h1M9 114h1M11 114h1M15 114h2M28 114h1M36 114h1M5 115h1M7 115h1M36 115h1M44 115h1M48 115h1M43 116h1M25 117h1M33 117h2M5 118h1M11 118h1M40 118h1M6 119h1M11 119h1M32 119h1M48 119h1M16 120h1M29 120h1M37 120h1M4 121h1M40 121h1M42 121h1M46 121h1M2 122h1M9 122h1M14 122h1M16 122h1M21 122h1M37 122h1M5 123h1M9 123h1M11 123h1M30 123h1M26 124h1M32 124h1M35 124h1M17 125h1M32 125h1M36 125h1M33 126h1M7 127h2M17 127h1M19 127h1M28 127h1M45 127h1M9 129h1M11 129h1M36 129h1M47 129h1M15 130h1M2 131h1M15 131h1M11 132h1M47 133h1M4 134h1M16 134h1M21 134h1M25 134h1M20 135h1M25 135h1M7 136h1M29 136h1M42 136h1M47 136h1M4 137h1M16 137h1M31 137h1M41 137h1M9 138h1M19 138h1M21 138h1M26 138h1M46 138h1M7 139h1M15 139h1M25 139h1M34 139h1M10 140h1M16 140h1M19 140h1M41 140h1M2 141h1M5 141h1M10 141h2M27 141h1M36 141h1M2 142h1M7 142h1M14 142h1M15 143h1M33 143h1M47 143h1M5 144h2M9 144h1M25 144h1M27 144h1M5 145h1M13 145h1M29 145h1M11 146h1M24 146h1M29 146h1M39 146h1M44 146h3M27 147h1M30 147h1M6 148h1M9 148h1M13 148h1M31 148h1M2 149h1M13 149h1M30 149h1M14 150h1M41 150h2M44 150h1M19 151h1M27 151h1M2 152h1M27 152h1M15 154h1M20 154h1M25 154h1M30 154h1M38 154h1M45 154h1M17 155h1M4 156h1M39 156h1M41 156h1M3 157h1M8 157h1M15 157h1M17 157h1M33 158h1M40 158h1M10 159h1M7 160h2M32 160h1M38 160h1M42 160h1M45 160h2M48 160h1M16 161h2M29 161h1M37 161h1M40 161h1M43 161h1M41 162h1M25 163h1M27 163h1M29 163h2M32 163h2M47 163h1M11 164h1M21 164h1M26 164h2M36 164h1M38 164h1M40 164h1M43 164h1M14 165h1M30 165h1M7 166h2M11 166h1M14 166h1M29 166h1M34 166h1M48 166h1M11 167h1M16 167h1M21 167h1M36 167h1M3 168h1M7 168h1M10 168h2M16 168h1M29 168h1M32 168h1M3 169h2M17 169h1M29 169h1M37 169h1M48 169h1M20 170h1M35 170h1M40 170h2M8 171h1M27 171h1M33 171h1M35 171h1M19 172h1M28 172h1M30 172h1M36 172h1M8 173h2M26 173h1M31 173h1M42 173h1M14 174h1M40 174h1M3 175h1M38 175h1M42 175h1M12 176h2M21 176h1M41 176h1M12 177h1M24 177h1M27 177h1M18 178h1M21 178h1M37 178h1M2 179h1M9 179h1M35 179h1M41 179h1M14 180h1M24 180h1M35 180h1M36 181h1M40 181h1M5 182h1M15 182h1M48 182h1M15 183h1M21 183h1M14 184h1M17 184h1M24 185h1M7 186h1M11 186h1M16 186h1M40 186h1M3 188h1M6 188h1M32 188h1M41 188h1M45 188h1M6 189h1M8 189h1M33 189h1M40 189h1M11 190h1M21 190h1M14 191h1M18 191h1M24 191h1M27 191h1M23 192h1M35 192h1M20 193h1M42 193h1M32 194h1M20 195h1M8 196h1M34 196h1M43 196h1M48 196h1M16 197h1M33 197h1M33 198h1M14 199h1M34 199h1M37 199h1M40 199h1M43 199h1M9 200h1M21 200h1M28 200h1M48 200h1M37 201h1M10 202h1M36 202h1M46 202h1M21 203h2M29 203h1M40 203h1M47 203h1M21 205h1M38 206h1M7 207h1M16 207h1M30 207h1M37 207h1M42 207h1M16 208h1M24 208h1M35 208h1M25 209h1M35 209h1M8 210h1M18 210h1M25 210h1M41 210h1M8 211h1M18 211h1M31 211h1M36 212h1M2 213h1M18 213h1M16 214h1M33 214h1M39 214h1M27 215h1M33 215h1M35 216h1M4 218h1M17 219h1M7 220h1M43 220h1M47 221h1M47 222h1M45 225h1M22 226h1M36 226h1M39 228h1M19 229h1M4 230h1M14 232h1M41 234h1M8 235h1M14 238h1M23 239h1M26 239h1M42 239h1M44 239h1M16 242h1M42 242h1M43 243h1M6 244h1M22 244h1M26 244h1M32 244h1M29 245h1M42 245h1M46 245h1M46 247h1M29 248h1M30 249h1M33 249h1M21 250h1M21 251h1M46 251h1M14 252h1M26 252h2M37 252h1M44 252h2M36 253h1M19 255h1M6 257h1M19 257h1M3 259h1M21 261h1M43 261h1M9 263h1M25 263h1M39 263h1M9 267h1M13 267h1M14 268h1M35 268h1M43 268h1M45 268h1M45 269h1M36 270h1M39 270h1M36 271h1M33 272h1M36 273h1M38 273h1"/>
<path stroke="#f26747" d="M10 2h1M20 3h1M20 4h1M39 4h1M26 5h1M41 6h1M32 7h1M23 8h1M23 9h1M12 10h1M20 11h1M22 11h1M44 11h1M24 12h1M32 12h1M24 13h1M29 13h1M33 14h1M32 15h1M40 15h1M42 15h1M6 16h1M48 16h1M12 18h1M22 18h1M24 18h1M24 19h1M27 19h1M43 19h1M14 21h1M45 22h1M3 23h1M24 23h1M24 24h1M16 25h1M42 25h1M3 26h1M11 26h1M21 28h1M24 28h1M45 29h1M20 30h1M30 30h1M22 31h1M32 33h1M46 36h1M41 37h1M28 39h1M35 39h1M2 40h1M21 40h1M37 40h1M43 40h1M28 41h1M5 42h1M9 42h1M34 42h1M37 42h1M43 42h1M46 42h1M4 43h1M10 43h1M17 43h1M34 43h1M40 43h1M46 43h1M6 44h1M17 44h1M21 44h1M28 44h1M46 44h1M5 45h1M12 45h1M26 45h1M35 45h1M33 46h1M32 47h1M41 47h1M7 49h1M29 49h1M13 50h1M24 50h2M30 50h1M33 50h1M35 50h1M26 51h1M34 51h1M36 53h1M23 54h1M1 56h1M43 57h1M47 58h1M23 61h1M47 61h1M23 62h1M14 63h1M20 63h1M38 63h2M9 64h1M14 64h1M17 64h1M35 64h1M42 64h1M24 65h1M27 65h1M31 65h1M33 65h1M8 66h1M17 66h1M40 66h1M46 66h1M6 67h1M13 67h1M15 67h1M17 67h1M19 67h1M24 67h1M38 67h1M2 68h1M24 68h1M35 68h1M39 68h1M41 68h1M17 69h1M25 69h1M37 69h3M45 70h1M9 71h1M20 71h1M26 71h2M18 72h1M24 72h1M37 72h1M18 75h1M23 75h1M17 79h1M20 79h1M36 79h1M3 80h1M27 80h1M6 81h1M17 81h1M22 82h1M9 83h1M41 83h2M44 83h1M8 84h1M21 84h2M9 85h1M15 85h1M22 85h1M41 85h1M46 85h1M17 86h1M36 86h1M40 86h1M2 87h1M6 87h1M31 87h1M2 88h1M13 88h1M25 88h1M27 88h1M29 88h1M36 88h1M36 89h1M48 89h1M5 91h1M7 92h1M47 92h1M20 93h1M20 94h2M1 95h1M8 97h2M14 97h1M9 98h1M12 98h1M15 98h1M21 101h1M38 101h1M25 102h1M7 104h1M12 104h1M30 104h1M42 104h1M2 105h1M17 105h1M3 106h1M18 106h1M20 106h2M30 107h1M0 108h1M9 108h1M14 108h1M26 108h1M31 109h1M35 109h1M40 109h1M17 110h1M20 110h1M40 110h1M43 110h1M47 110h1M28 111h1M32 111h1M40 112h1M48 112h1M1 113h1M11 113h1M30 113h1M18 114h1M32 114h1M38 114h1M43 114h1M0 115h1M9 115h1M20 115h1M3 116h1M42 116h1M28 117h1M0 119h1M20 119h1M24 119h2M44 119h2M2 120h1M14 120h1M43 120h1M11 121h1M31 121h1M19 122h1M27 122h1M48 122h1M6 123h1M13 123h1M17 123h1M22 123h1M33 125h1M40 125h1M43 125h2M7 126h1M27 126h1M42 126h1M47 126h1M27 127h1M16 128h2M41 128h1M21 129h1M44 129h1M3 130h1M18 130h1M41 130h2M19 131h2M22 131h1M32 131h1M34 131h2M42 131h1M22 132h1M32 132h1M5 133h1M16 133h1M26 133h1M30 133h1M13 134h1M20 134h1M31 135h1M41 135h1M3 136h1M35 136h1M41 136h1M25 137h1M25 138h1M44 139h1M32 141h1M27 142h1M44 142h1M47 142h1M44 143h1M7 144h1M30 144h1M40 144h2M15 145h1M18 145h1M28 145h1M31 145h1M41 145h1M16 146h1M21 146h1M26 146h1M32 146h1M40 146h1M15 147h1M43 147h1M3 148h1M11 148h1M14 148h1M23 148h1M35 148h2M39 148h1M3 149h1M34 149h2M38 149h1M6 150h1M25 150h1M37 150h1M43 150h1M11 151h1M36 151h1M43 151h1M3 152h1M42 152h1M18 153h1M24 153h1M22 154h1M33 154h1M43 154h1M2 155h1M11 155h1M3 156h1M30 156h1M47 156h1M5 157h1M22 157h1M37 157h1M6 158h1M46 158h1M9 159h1M21 159h1M9 160h1M13 160h1M36 160h1M14 161h1M25 161h1M41 161h1M3 162h1M11 162h1M13 162h1M35 162h1M44 162h1M1 163h2M17 163h1M40 163h1M5 164h1M12 164h1M30 164h1M42 164h1M26 165h1M45 166h1M47 166h1M17 167h1M29 167h1M5 168h1M17 168h1M35 168h1M41 168h1M25 169h1M35 169h1M48 170h1M24 171h1M36 171h1M20 172h1M25 172h1M1 173h1M3 173h1M18 173h1M38 173h1M48 173h1M43 174h1M13 177h1M15 180h1M4 182h1M26 182h1M4 183h1M41 184h1M13 185h1M18 185h1M1 186h1M13 186h1M28 187h1M1 190h1M39 190h1M23 191h1M41 191h1M45 191h1M28 192h1M1 194h1M44 196h1M7 197h1M6 198h1M25 198h1M30 198h1M36 198h1M45 198h1M3 199h1M7 199h1M11 199h1M32 199h1M41 199h1M25 200h1M43 200h1M34 201h1M36 201h1M41 201h1M13 202h1M15 202h1M32 202h1M38 202h1M15 203h1M26 203h1M46 203h1M31 204h1M38 204h1M31 205h1M34 205h1M38 205h1M3 206h1M8 207h1M29 207h1M6 208h1M15 208h1M20 208h1M36 208h1M5 209h1M7 209h1M15 209h1M18 209h1M23 209h1M45 209h1M17 210h1M20 210h2M24 210h1M29 210h1M36 210h1M38 210h1M43 210h1M46 210h1M30 211h1M33 211h1M35 211h1M3 212h1M5 212h2M11 213h1M41 214h1M43 214h2M2 215h1M37 215h1M0 216h1M10 216h1M25 216h1M34 216h1M4 217h1M6 217h1M27 217h1M20 218h1M23 218h1M25 218h1M2 219h1M11 219h1M40 219h2M8 220h1M21 220h1M37 220h1M5 221h1M17 221h1M24 221h1M35 221h1M17 222h1M20 223h1M41 223h1M45 223h1M10 224h1M27 224h1M37 224h1M25 225h1M30 225h1M30 226h1M38 226h1M17 227h1M37 227h1M6 228h1M10 228h1M13 228h1M36 228h2M37 229h1M14 230h4M23 230h1M47 230h1M8 231h1M15 231h1M17 231h1M21 232h1M25 232h1M37 232h1M45 232h1M15 234h1M16 235h1M25 235h1M43 235h1M20 236h1M34 236h1M36 236h1M38 236h1M11 237h1M33 237h1M18 238h3M40 238h1M24 239h1M2 240h1M25 240h1M25 241h1M23 246h1M9 247h1M24 247h2M13 248h1M19 248h1M27 248h1M35 248h1M28 250h1M24 254h1M47 254h1M16 255h1M4 256h2M13 256h2M3 257h1M2 258h1M9 258h1M17 258h1M27 258h1M29 258h1M39 259h1M41 260h1M45 260h1M14 261h1M37 262h1M19 263h1M27 263h1M34 267h1M20 268h1M47 269h1M14 270h1M43 270h1M24 272h1M30 272h1M29 273h1M22 274h1M34 274h1M42 274h1"/>
<path stroke="#ed4e3e" d="M12 2h1M32 11h1M29 12h1M38 12h1M24 15h1M35 16h1M43 16h1M44 17h1M12 22h1M43 22h1M22 23h1M43 23h1M20 24h1M41 25h1M5 27h1M25 28h1M32 29h1M23 32h1M23 33h1M1 34h1M13 35h1M18 40h1M4 41h1M35 41h1M18 42h1M28 42h1M7 43h1M16 43h1M21 43h1M25 43h1M8 44h1M25 44h1M37 44h1M2 45h1M17 45h1M40 45h1M28 46h1M40 46h1M26 47h1M30 47h1M42 47h2M28 48h1M32 49h1M28 50h1M23 51h1M9 63h1M25 63h1M34 63h2M40 63h1M10 64h1M30 64h1M23 65h1M37 65h2M40 65h1M9 66h1M33 67h1M44 67h1M46 67h1M6 68h1M15 68h1M28 68h1M44 68h1M20 69h1M24 69h1M30 69h1M13 71h1M43 71h1M28 72h2M31 72h1M1 73h1M23 74h1M31 80h1M45 80h2M43 81h1M11 83h1M9 84h1M15 84h2M31 84h1M38 84h1M20 85h1M27 85h1M18 86h1M47 86h1M22 87h1M47 87h1M15 88h1M34 88h1M38 88h2M45 89h1M18 90h1M21 90h1M11 93h1M13 94h1M21 95h1M5 96h1M48 96h1M11 100h1M24 101h2M21 102h1M47 102h1M1 103h1M1 104h1M24 104h1M40 105h1M11 106h1M9 107h1M17 107h1M40 108h1M12 109h1M17 109h1M20 109h1M1 110h1M18 111h1M23 111h1M41 111h1M0 112h1M12 112h1M3 113h1M32 113h1M47 113h2M48 114h1M23 115h1M9 117h1M12 117h1M24 117h1M35 117h1M42 117h1M9 118h1M9 119h1M12 119h1M17 119h1M1 121h1M25 121h1M48 121h1M25 122h1M35 122h1M44 122h1M47 122h1M47 123h1M33 124h1M38 124h1M0 125h1M2 125h1M26 125h1M35 125h1M24 126h1M26 126h1M28 126h1M32 126h1M48 126h1M3 127h1M25 127h1M9 128h1M19 128h1M26 128h1M19 129h1M40 129h1M20 130h1M48 131h1M19 132h1M26 132h1M31 132h1M42 132h1M34 133h1M48 133h1M17 134h1M28 134h1M32 135h1M20 136h2M25 136h1M3 137h1M6 138h1M20 138h1M35 138h1M32 139h1M43 139h1M7 140h1M12 140h1M23 140h1M27 140h2M18 141h1M25 141h1M31 142h1M45 142h1M3 143h1M18 143h1M15 144h1M26 144h1M29 144h1M38 144h1M17 145h1M35 145h1M12 146h1M15 146h1M12 147h1M14 147h1M12 148h1M32 148h1M28 149h1M42 149h1M44 149h1M5 150h1M16 150h1M16 151h1M42 151h1M33 152h1M42 153h1M3 154h1M28 154h1M29 156h1M43 156h1M14 157h1M26 157h1M43 157h3M26 158h1M47 158h1M11 159h1M35 159h1M43 159h1M2 160h1M43 160h1M40 162h1M42 162h1M12 163h1M41 163h1M25 164h1M5 167h1M13 168h1M26 168h1M21 169h1M26 169h1M41 169h1M1 170h1M44 170h1M9 171h1M11 171h1M26 171h1M45 171h1M6 172h1M16 172h1M6 173h2M17 173h1M28 173h1M45 173h1M25 174h1M47 174h1M23 178h1M43 178h1M18 183h1M22 191h1M12 192h1M22 192h1M22 193h1M33 195h1M22 196h1M30 196h1M38 196h1M35 197h1M40 198h1M2 199h1M6 199h1M17 199h1M23 199h1M36 199h1M38 199h1M42 199h1M4 200h1M11 200h1M26 201h1M40 201h1M3 202h1M16 202h2M42 202h1M17 203h1M32 203h1M17 204h2M34 204h1M40 204h1M15 205h1M39 205h1M5 206h1M11 206h1M26 206h1M34 206h1M44 206h1M22 207h1M25 207h1M39 207h1M27 208h1M30 208h1M34 208h1M12 209h1M28 209h1M34 209h1M43 209h1M1 210h1M11 210h1M16 210h1M3 211h1M9 211h1M2 212h1M18 212h1M28 212h1M46 212h1M3 213h1M7 213h1M9 213h1M11 214h1M26 214h1M23 215h1M26 215h1M44 215h1M37 216h1M16 217h1M32 217h2M47 217h1M6 218h1M27 218h1M36 218h1M38 218h1M27 219h1M44 219h1M15 220h1M6 221h1M0 222h1M33 222h1M2 223h2M20 224h1M25 224h1M39 224h1M43 224h1M11 225h1M21 225h1M36 225h1M41 225h1M43 225h1M47 225h1M6 226h1M16 226h1M21 226h1M25 227h1M35 227h1M21 228h1M31 228h1M43 228h1M1 229h2M5 229h1M7 229h1M21 229h1M25 229h1M29 229h1M2 230h1M11 230h1M29 230h1M37 231h1M8 232h1M17 232h1M27 232h1M41 233h1M20 234h1M29 234h1M9 236h1M1 237h1M17 237h1M19 237h1M25 237h1M27 237h1M34 237h1M5 238h1M9 238h1M15 238h1M30 238h1M34 238h1M36 238h1M40 240h1M30 245h1M21 246h1M33 246h1M23 248h1M18 253h1M21 253h1M18 254h1M35 254h1M7 255h1M15 256h1M34 256h1M4 257h1M8 257h1M13 257h3M34 257h1M3 258h1M16 259h1M2 260h2M9 260h1M43 260h1M36 261h1M6 262h1M10 262h1M43 262h1M24 263h1M36 267h1M24 271h1M41 272h1M46 272h1M45 273h1M24 274h1M29 274h1M40 274h1M40 275h1"/>
<path stroke="#ef5a41" d="M41 4h1M12 5h1M30 5h1M20 7h1M14 9h2M11 10h1M42 10h1M44 10h1M23 11h1M32 13h1M35 15h1M18 16h1M34 16h1M5 17h1M16 17h1M20 17h1M26 17h1M33 17h1M2 19h1M12 19h1M11 20h1M2 21h1M13 24h1M16 24h1M13 25h1M13 26h1M20 28h1M6 29h1M23 30h1M31 30h1M33 30h1M37 30h1M25 32h1M35 34h1M47 34h1M43 36h1M12 41h1M23 41h1M25 41h1M39 41h1M2 42h1M7 42h1M13 42h1M36 42h1M40 42h1M2 43h1M13 43h1M33 43h1M3 44h1M5 44h1M33 44h1M39 44h1M25 45h1M41 45h1M5 46h1M17 46h1M34 46h1M48 46h1M21 47h1M37 47h1M46 47h1M27 50h1M29 50h1M29 51h1M23 55h1M11 56h1M47 62h1M19 63h1M26 63h1M28 63h1M33 63h1M42 63h1M13 64h1M43 64h1M7 65h1M10 65h1M18 65h1M29 65h1M34 65h1M10 66h1M14 66h1M23 66h1M28 66h1M34 66h1M2 67h1M9 67h1M14 67h1M32 67h1M36 67h2M48 67h1M25 68h1M32 68h1M11 69h1M32 69h1M35 69h1M26 70h1M36 70h1M42 70h1M46 70h1M22 71h1M33 71h1M39 71h1M42 71h1M30 72h1M34 72h1M36 72h1M37 75h1M13 76h1M45 76h1M20 77h1M28 79h1M41 79h1M44 79h1M46 79h1M48 79h1M21 80h1M36 80h1M39 80h1M41 80h2M15 81h1M30 81h1M7 82h1M20 82h1M24 82h1M42 82h1M7 83h1M20 83h1M27 83h1M36 83h1M45 83h1M33 84h1M36 84h1M40 84h1M44 84h1M21 85h1M25 85h1M29 85h1M36 85h1M44 85h1M2 86h1M13 86h1M22 86h1M26 86h1M42 86h1M45 86h1M3 87h1M10 87h1M12 87h1M23 87h1M27 87h1M30 87h1M34 87h2M9 88h1M14 88h1M39 89h1M4 90h1M1 91h1M20 92h1M43 92h1M1 93h1M4 93h1M13 93h1M21 93h1M28 93h1M2 96h1M14 96h1M12 100h1M28 101h1M30 101h1M0 102h1M7 103h1M20 103h1M24 103h1M11 104h1M2 106h1M9 106h1M24 106h1M6 107h1M40 107h1M1 108h1M21 109h1M23 110h1M28 110h1M35 110h1M38 110h1M3 111h1M26 111h1M25 112h1M30 112h1M43 112h1M18 113h1M20 113h1M24 114h1M27 114h1M33 114h1M47 114h1M11 115h1M16 115h2M25 115h1M27 115h1M30 115h1M17 116h1M24 116h1M11 117h1M24 118h2M42 118h1M14 119h1M31 119h1M0 120h1M6 120h1M22 120h1M26 120h1M28 120h1M35 120h1M12 121h2M20 121h1M26 121h1M35 121h1M33 122h2M43 122h1M28 123h1M42 124h1M6 125h1M20 126h1M25 126h1M34 126h1M43 126h2M2 127h1M31 127h1M48 127h1M0 128h1M25 128h1M31 128h1M2 129h1M6 129h1M14 129h1M42 129h1M21 130h1M38 130h1M44 130h1M12 131h1M25 132h1M13 133h1M25 133h1M44 133h1M42 134h1M27 135h1M38 135h1M47 135h1M10 136h1M18 136h1M35 137h1M3 138h1M16 138h1M43 138h1M20 139h1M26 139h1M29 140h1M45 140h1M17 141h1M20 141h1M33 141h1M41 141h4M21 142h1M35 142h1M41 142h3M27 143h1M41 143h1M4 144h1M11 144h1M14 144h1M31 144h1M36 144h1M42 144h1M9 145h1M3 146h1M5 146h1M25 146h1M47 146h1M3 147h1M34 147h1M42 147h1M47 147h1M25 148h1M6 149h1M20 149h1M22 149h1M25 149h1M29 149h1M31 149h2M40 149h1M43 149h1M3 151h1M9 151h1M22 151h1M35 151h1M17 152h1M19 152h1M21 153h1M37 153h1M44 153h1M39 154h1M44 154h1M47 154h1M32 155h1M34 155h1M45 155h1M47 155h1M45 156h1M20 157h1M42 157h1M22 158h1M28 158h1M32 158h1M4 159h1M17 159h1M30 159h2M12 160h1M28 160h2M1 162h1M26 162h1M47 162h1M9 165h1M38 165h1M41 165h1M2 166h1M6 166h1M17 166h1M21 166h1M26 166h1M42 166h1M12 167h1M28 167h1M44 167h1M6 168h1M40 168h1M6 169h1M16 169h1M30 169h1M18 170h1M1 171h1M6 171h1M18 171h1M21 171h1M25 171h1M47 171h1M3 172h1M17 172h1M43 173h1M47 173h1M6 174h1M9 174h1M35 174h1M14 178h1M4 179h1M47 179h1M2 180h1M43 181h1M1 185h1M17 188h1M1 189h1M3 189h1M7 190h1M28 191h1M1 192h1M48 194h1M21 196h1M2 197h1M4 197h1M25 197h1M38 197h1M0 198h1M20 198h1M26 199h1M31 200h1M33 200h1M15 201h1M19 201h1M23 201h1M39 201h1M43 201h1M14 202h1M22 202h1M33 202h1M48 202h1M3 203h1M8 203h1M11 203h1M16 203h1M25 203h1M15 204h2M28 204h1M32 204h2M1 205h1M7 205h1M17 205h1M35 205h1M40 205h1M0 206h1M25 206h1M39 206h1M41 206h1M2 207h1M11 207h1M17 207h1M44 208h2M2 209h1M9 209h1M14 209h1M26 209h1M32 209h1M42 209h1M46 209h1M6 210h2M30 210h1M35 210h1M39 210h1M11 211h1M21 211h1M24 211h1M26 211h2M32 211h1M42 211h1M8 212h1M11 212h1M32 212h1M35 212h1M43 212h1M33 213h1M41 213h1M15 214h1M30 214h1M34 214h1M45 214h1M47 214h1M0 215h1M14 215h1M17 215h1M25 215h1M30 215h1M6 216h1M11 216h1M14 216h1M17 216h1M35 217h1M37 217h1M40 217h1M33 218h1M37 218h1M41 218h1M8 219h1M43 219h1M0 220h1M14 220h1M16 220h1M27 220h1M34 220h1M38 220h1M45 220h1M14 221h1M30 221h1M37 221h1M14 222h1M19 222h1M27 222h1M35 222h1M38 222h1M40 222h1M43 222h1M8 223h1M27 223h1M34 223h1M34 225h1M4 226h2M4 227h1M19 227h1M21 227h1M27 227h1M45 227h1M1 228h1M47 228h1M4 229h1M6 229h1M36 229h1M38 229h1M20 230h2M37 230h2M43 230h1M45 230h1M2 231h1M36 231h1M43 231h3M19 232h1M30 232h1M29 233h1M37 233h1M27 234h1M36 234h2M0 235h1M15 235h1M19 235h1M30 235h1M38 235h1M4 236h1M35 236h1M37 236h1M14 237h1M26 237h1M16 238h1M29 238h1M46 238h1M20 240h1M23 240h1M21 245h1M27 245h1M22 251h1M27 251h1M20 252h1M24 253h1M27 254h1M37 254h1M27 255h1M37 255h1M27 256h1M38 257h1M4 258h1M6 258h1M13 258h1M39 258h1M4 259h1M7 259h1M9 259h1M36 259h1M46 259h1M6 260h1M14 260h1M6 261h1M13 261h1M46 261h1M25 262h1M35 262h1M20 263h1M30 263h1M41 263h1M36 268h1M15 269h1M37 269h1M15 270h1M45 270h1M36 272h2M45 272h1M45 274h1M46 275h1"/>
<path stroke="#db2946" d="M23 5h1M18 10h1M23 10h1M34 10h1M24 11h1M45 14h1M22 20h1M13 23h1M44 27h1M1 29h1M22 34h1M1 40h1M32 40h1M26 41h1M24 42h1M18 44h1M44 44h1M20 45h1M12 48h1M48 50h1M48 56h1M20 60h1M12 63h1M24 63h1M30 63h1M34 64h1M6 65h1M39 65h1M30 66h1M25 67h1M26 68h1M29 68h1M31 68h1M10 69h1M15 69h1M23 69h1M36 69h1M42 69h1M44 69h1M9 70h1M35 71h1M44 72h1M18 74h1M18 76h1M31 77h1M42 79h1M35 81h1M27 82h1M47 82h1M3 83h1M38 85h1M42 85h1M7 86h1M23 86h1M7 87h1M18 87h1M21 89h1M22 91h1M1 92h1M1 101h1M22 103h1M42 103h1M0 104h1M22 104h1M20 108h1M18 110h1M22 110h1M29 110h1M17 111h1M24 111h1M13 114h1M26 116h1M3 117h1M7 119h1M18 119h1M2 123h1M35 123h1M23 126h1M32 127h1M44 127h1M7 128h1M20 128h1M22 128h1M43 128h1M10 129h1M23 129h1M46 129h1M16 130h1M24 130h2M1 131h1M25 131h1M41 132h1M38 133h1M41 133h1M23 134h1M38 134h1M24 136h1M26 136h1M45 136h1M1 137h1M27 137h1M32 137h1M43 137h1M27 138h1M12 139h1M18 139h1M43 140h1M1 141h1M45 141h1M28 142h1M26 143h1M42 146h1M45 147h1M2 148h1M44 148h1M22 150h1M32 151h1M44 151h1M3 153h1M5 153h1M47 153h1M43 155h1M19 156h1M22 156h1M35 160h1M44 160h1M24 162h1M13 165h1M1 166h1M25 168h1M2 170h1M5 173h1M20 174h1M22 177h1M22 180h1M13 182h1M23 189h1M23 190h1M1 196h1M6 196h1M10 196h1M6 197h1M13 199h1M3 200h1M22 201h1M20 202h1M35 202h1M39 202h1M35 203h1M39 203h1M48 203h1M9 204h1M43 204h2M46 204h1M2 205h1M18 205h1M32 205h1M45 205h1M6 206h1M20 206h1M33 206h1M40 206h1M43 206h1M0 207h1M5 207h2M18 208h1M43 208h1M44 209h1M9 210h2M12 210h1M15 210h1M22 210h2M40 210h1M2 211h1M12 212h1M26 212h1M41 212h2M0 213h1M6 213h1M19 213h1M39 213h1M19 214h1M27 214h1M40 214h1M1 215h1M7 216h1M18 216h1M9 217h1M11 217h1M14 217h1M18 217h1M30 217h1M45 217h1M14 218h1M0 219h1M22 219h1M18 220h1M31 220h1M0 221h1M10 221h1M19 221h1M38 221h1M18 222h1M21 222h1M30 222h1M37 222h1M26 223h1M38 223h1M42 223h1M3 224h1M9 224h1M11 224h1M13 224h3M46 224h1M24 225h1M42 225h1M1 226h1M3 226h1M7 226h1M9 226h1M27 226h1M11 227h1M43 227h1M14 228h1M16 228h2M27 228h1M29 228h1M0 229h1M8 229h1M23 229h1M19 230h1M19 231h1M25 231h1M41 231h1M18 232h1M28 232h1M44 232h1M11 233h1M18 233h1M31 233h1M32 234h1M43 234h1M6 235h1M11 235h1M17 235h1M26 235h1M35 235h1M45 235h1M26 236h1M30 236h1M13 237h1M28 237h1M35 237h1M45 237h2M1 238h1M42 238h1M42 240h1M30 246h1M23 247h1M42 247h1M28 252h1M21 254h1M45 254h1M1 255h1M35 256h2M24 257h1M30 257h1M35 257h1M43 257h1M26 258h1M38 258h1M43 258h1M13 259h1M33 260h1M38 260h1M38 261h1M47 261h1M15 262h1M22 262h1M32 262h1M38 262h1M10 263h1M23 263h1M8 267h1M23 268h1M46 268h1M24 269h1M41 269h1M27 270h2M46 270h1M22 271h1M44 271h1M46 271h1M22 272h1M22 275h1M37 275h1"/>
<path stroke="#e8403e" d="M1 6h1M13 6h1M38 13h1M44 14h1M12 16h1M40 16h1M35 17h1M2 20h2M20 21h1M31 23h1M27 28h1M43 32h1M1 35h1M20 35h1M22 36h1M3 40h1M5 40h1M16 40h1M26 40h1M41 40h1M44 40h1M46 40h1M20 42h1M5 43h1M30 43h1M32 43h1M23 44h1M32 44h1M13 45h1M33 45h1M13 46h1M30 46h1M37 46h1M13 47h1M34 47h1M1 48h1M25 48h1M27 48h1M27 49h1M47 51h1M1 53h1M48 53h1M22 57h1M44 58h1M10 63h1M29 63h1M31 63h1M18 64h1M22 64h1M24 64h1M28 64h1M38 64h1M12 65h1M13 66h1M20 66h1M29 66h1M26 67h1M29 67h1M39 67h1M21 68h1M36 68h1M12 69h1M28 69h1M34 69h1M24 70h1M30 70h1M32 70h1M11 71h1M25 71h1M28 71h1M32 71h1M45 72h1M48 72h1M13 74h1M38 80h1M40 80h1M13 81h1M39 81h1M31 82h1M40 82h1M12 83h1M25 83h1M46 83h1M18 84h1M12 85h1M14 87h1M42 87h1M22 88h1M22 89h1M47 89h1M11 91h1M1 94h1M23 95h1M24 102h1M12 103h2M17 104h1M22 105h1M0 106h2M20 107h1M0 109h1M34 109h1M48 110h1M12 111h1M18 112h1M40 113h1M30 114h1M35 114h1M3 115h1M22 115h1M24 115h1M32 115h1M34 115h1M12 116h1M18 116h1M22 116h1M32 116h1M35 116h1M17 117h1M23 117h1M22 118h1M31 118h1M7 120h1M3 123h1M25 123h1M6 124h2M9 124h1M13 124h1M3 125h1M34 125h1M40 126h1M15 127h1M26 127h1M35 127h1M37 127h1M43 127h1M48 128h1M26 129h1M32 129h1M9 130h2M28 130h1M21 131h1M17 133h1M34 134h1M44 134h1M3 135h1M18 135h1M27 136h1M32 136h1M34 136h1M24 137h1M45 137h1M45 138h1M25 140h2M42 140h1M3 141h1M26 141h1M45 143h1M12 144h1M28 144h1M34 144h1M3 145h1M7 145h1M21 145h1M42 145h1M7 146h1M33 146h1M25 147h2M40 147h1M28 148h1M42 148h1M21 150h1M32 150h1M45 150h1M28 151h1M40 151h1M28 153h1M34 153h2M23 154h2M26 154h1M3 155h1M6 155h2M6 156h1M28 156h1M21 158h1M43 158h1M2 159h1M6 159h1M16 159h1M26 159h1M32 159h1M24 160h1M1 161h1M9 161h1M11 163h1M16 163h1M12 166h1M22 166h1M25 166h1M40 167h1M43 167h1M47 167h1M3 170h1M7 172h1M13 178h1M12 179h1M24 179h1M22 184h1M22 185h1M1 187h1M18 187h1M20 187h1M42 187h1M44 187h1M1 188h1M1 195h1M3 196h1M9 196h1M25 196h1M17 198h1M35 198h1M39 199h1M23 200h1M26 200h1M35 200h1M8 201h1M11 201h1M28 201h1M32 201h1M4 202h1M25 202h1M28 202h1M41 202h1M3 204h1M25 204h2M35 204h1M41 204h1M27 205h1M41 205h1M9 206h1M45 206h1M9 207h1M23 207h1M26 207h1M31 207h1M9 208h1M11 208h1M33 208h1M27 209h1M33 209h1M27 210h1M5 211h1M7 211h1M25 211h1M43 211h1M14 212h1M17 212h1M20 212h1M28 213h1M32 213h1M43 213h3M14 214h1M23 214h1M25 214h1M9 215h1M15 215h1M18 215h1M31 215h1M36 215h1M24 216h1M40 216h1M43 216h1M15 217h1M28 217h1M31 217h1M41 217h1M9 218h1M18 218h1M24 218h1M30 218h1M42 218h1M45 218h1M9 219h1M14 219h1M18 219h2M31 219h1M33 219h1M36 219h3M6 220h1M11 220h1M24 220h1M44 220h1M2 221h2M29 221h1M33 221h1M6 222h1M15 222h1M13 223h1M18 223h2M8 224h1M17 224h2M8 225h1M12 225h1M17 225h1M37 225h1M11 226h1M16 227h1M47 227h1M9 228h1M15 228h1M30 228h1M16 229h1M33 229h1M45 229h1M26 230h1M36 230h1M3 231h1M14 231h1M18 231h1M27 231h1M0 232h1M20 232h1M19 233h1M26 233h1M44 233h1M3 234h1M26 234h1M30 234h1M40 234h1M44 234h1M12 235h1M27 235h1M37 235h1M41 235h1M44 235h1M6 236h1M11 236h1M27 236h1M6 237h1M15 237h1M18 237h1M29 237h2M43 237h1M26 238h1M41 238h1M42 241h1M20 242h1M28 246h1M32 247h1M43 247h1M22 250h1M44 250h1M28 254h1M43 254h1M3 255h1M35 255h2M38 255h1M43 256h1M1 257h1M7 257h1M18 257h1M27 257h1M33 258h1M2 259h1M10 259h1M17 259h1M27 259h1M4 260h2M10 260h1M36 260h1M30 261h1M39 261h1M41 261h1M34 262h1M46 262h2M22 263h1M18 264h1M15 267h1M26 269h1M24 270h2M44 270h1M15 271h1M6 272h1M23 272h1M44 272h1M22 273h1M41 273h1M43 273h1M36 275h1M41 275h1"/>
<path stroke="#bf1654" d="M13 7h1M20 8h1M22 14h2M23 15h1M12 17h1M48 22h1M22 24h1M31 40h1M1 41h1M48 41h1M22 43h1M26 43h1M34 44h1M1 46h1M23 48h1M22 51h1M23 64h1M12 68h1M23 68h1M13 69h1M18 69h1M40 71h2M7 72h1M32 72h1M20 75h1M24 77h1M24 81h1M41 82h1M18 88h1M23 88h1M13 91h1M18 91h2M48 98h1M10 110h1M22 111h1M42 111h1M12 115h1M18 115h1M23 120h1M18 122h1M18 123h1M20 123h1M25 124h1M1 125h1M18 125h1M31 125h1M18 127h1M35 129h1M0 131h1M5 131h1M35 133h1M24 134h1M13 137h1M5 138h1M24 139h1M3 142h1M13 142h1M23 142h1M25 143h1M46 144h1M26 149h1M20 150h1M12 151h1M22 152h1M35 152h1M6 154h1M35 154h1M3 159h1M18 164h1M23 164h1M12 165h1M20 167h1M1 168h1M23 168h2M13 169h1M18 169h1M48 172h1M23 175h1M18 180h1M10 184h1M23 194h1M48 195h1M18 196h1M24 196h1M23 198h1M28 198h1M31 199h1M18 200h1M35 201h1M42 201h1M27 204h1M5 205h1M1 206h1M32 206h1M27 207h2M33 207h1M40 207h1M2 208h1M31 208h1M7 212h1M24 212h1M13 216h1M20 216h1M24 217h1M29 217h1M31 218h1M12 219h1M16 219h1M26 220h1M32 222h1M6 223h1M32 223h1M44 223h1M2 224h1M22 224h1M0 226h1M2 226h1M24 226h2M28 226h1M31 226h1M35 226h1M7 228h1M12 228h1M26 228h1M32 228h2M40 228h1M32 229h1M35 229h1M5 230h1M40 230h1M9 231h2M16 231h1M16 232h1M22 232h1M26 232h1M1 233h1M5 233h1M33 233h1M6 234h1M22 234h1M42 234h1M3 236h1M13 236h1M23 236h1M28 236h1M9 237h1M12 237h1M30 244h1M34 247h1M41 255h1M32 258h1M41 258h1M46 258h1M31 259h1M24 261h1M28 261h1M34 261h1M11 262h1M23 262h1M33 262h1M40 262h1M16 263h1M28 263h1M34 263h1M9 265h1M28 267h1M17 269h1M20 269h1M28 272h1M42 273h1M46 273h1M23 274h1M44 275h1"/>
<path stroke="#d3214b" d="M24 9h1M39 12h1M38 16h1M18 17h1M34 17h1M40 17h1M20 18h1M22 22h1M48 27h1M1 30h1M22 33h1M20 34h1M4 40h1M22 40h1M24 40h1M22 41h1M31 41h1M43 41h1M12 42h1M26 42h1M48 42h1M42 43h1M42 44h1M42 45h1M44 46h1M48 49h1M26 50h1M22 53h1M23 56h1M16 63h1M29 64h1M28 65h1M44 65h1M12 66h1M31 66h1M10 67h2M31 69h1M31 70h1M35 70h1M6 71h1M34 71h1M25 72h1M27 81h1M34 81h1M34 83h1M20 84h1M3 85h1M6 85h1M18 85h1M0 87h1M1 88h1M20 88h1M42 91h1M22 96h1M11 101h1M48 102h1M1 105h1M17 106h1M18 108h1M0 111h1M5 111h1M46 111h1M45 114h1M13 116h1M28 116h1M18 117h1M12 118h1M1 119h1M23 119h1M28 119h1M18 121h1M24 124h1M42 125h1M35 126h1M33 127h1M39 127h1M42 128h1M7 129h1M12 129h1M33 129h1M12 130h1M32 130h1M34 130h1M23 131h1M1 132h1M12 132h1M10 134h1M26 134h1M26 135h1M18 137h1M32 138h1M20 140h1M34 140h1M43 143h1M32 147h1M1 148h1M28 150h1M45 151h1M26 152h1M28 152h1M5 154h1M13 154h1M23 155h1M44 155h1M40 156h1M44 158h1M23 161h1M24 163h1M12 168h1M20 168h1M23 177h1M43 179h1M22 181h1M7 196h1M3 197h1M18 197h1M31 197h1M42 200h1M1 201h2M0 202h1M31 202h1M6 203h1M9 203h1M27 203h1M33 203h1M42 203h2M22 204h1M9 205h1M22 206h1M18 207h1M32 207h1M22 208h1M32 208h1M31 209h1M2 210h1M13 210h1M42 210h1M0 211h2M12 211h1M22 211h1M36 211h1M27 212h1M31 212h1M38 212h1M44 212h1M13 213h1M1 214h1M29 214h1M38 214h1M13 215h1M20 215h1M2 216h1M19 216h1M29 216h1M3 218h1M35 218h1M5 220h1M23 220h1M41 220h1M18 221h1M26 221h1M36 221h1M43 221h1M2 222h1M5 222h1M11 222h2M44 222h1M11 223h1M15 223h1M22 223h1M34 224h1M9 225h1M33 225h1M44 225h1M18 226h1M3 227h1M8 227h1M33 227h1M5 228h1M8 228h1M20 228h1M9 229h1M11 229h1M18 230h1M41 230h1M20 231h1M26 231h1M32 231h1M2 232h1M35 232h1M38 232h1M41 232h1M45 233h1M46 235h1M12 236h1M20 237h1M40 237h1M6 238h1M11 238h1M27 238h1M32 238h1M44 238h1M23 249h1M15 254h1M4 255h2M28 255h1M32 255h1M44 256h1M11 257h1M22 258h1M45 258h1M1 259h1M40 259h2M12 260h1M25 260h1M16 261h1M37 261h1M40 261h1M36 262h1M41 262h1M44 262h2M32 263h2M40 263h1M17 264h1M41 268h2M1 269h1M22 270h1M23 271h1M35 272h1M40 273h1M44 273h1M43 275h1"/>
<path stroke="#aa185a" d="M22 12h1M22 17h1M48 18h1M24 43h1M43 44h1M32 45h1M24 46h1M48 48h1M23 49h1M22 63h2M15 66h1M18 70h1M6 77h1M28 77h1M7 81h1M41 84h1M13 85h1M1 87h1M28 87h1M23 100h1M31 101h1M20 105h1M18 109h1M12 114h1M13 115h1M1 116h1M1 120h1M28 124h1M22 125h1M1 126h1M12 126h1M24 128h1M28 128h1M33 128h1M18 129h1M23 132h1M43 134h1M1 135h1M1 136h1M12 136h1M22 136h1M40 139h1M24 140h1M22 142h1M24 142h1M23 143h1M26 151h1M6 153h1M24 155h1M44 156h1M18 157h1M22 162h1M18 167h1M13 172h1M22 175h1M22 182h1M13 183h1M48 185h1M13 190h1M13 191h1M13 192h1M1 198h1M18 198h1M1 199h1M24 199h1M26 202h1M34 202h1M44 202h1M12 204h1M22 205h1M24 205h1M7 206h1M22 209h1M38 209h1M13 211h1M44 211h1M1 213h1M12 214h1M44 216h1M8 218h1M12 218h1M26 218h1M28 218h1M15 221h1M25 222h1M28 223h1M6 224h1M31 224h2M15 225h1M26 225h1M31 225h1M26 226h1M40 226h1M46 226h1M7 227h1M45 228h1M5 231h1M7 231h1M24 231h1M1 232h1M12 232h1M15 233h1M24 233h1M32 233h1M42 233h1M48 233h1M5 234h1M7 234h1M23 234h1M45 236h1M12 238h1M45 238h1M20 239h1M28 253h1M26 256h1M41 256h1M45 257h1M26 259h1M44 261h1M3 262h1M24 262h1M31 262h1M3 263h1M19 264h1M6 265h1M12 265h1M20 265h1M38 265h1M2 266h1M11 266h1M32 266h1M43 266h1M42 267h1M28 268h1M35 269h1M40 269h1M40 270h1M6 275h1"/>
<path stroke="#e23442" d="M23 12h1M40 14h1M12 21h1M22 21h1M12 29h1M40 40h1M28 43h1M44 43h1M1 44h1M30 44h1M45 44h1M23 45h1M30 45h1M20 46h1M22 46h1M36 46h1M39 46h1M35 47h1M32 48h1M31 49h1M1 50h1M23 50h1M22 54h1M15 63h1M26 64h1M30 65h1M32 65h1M26 66h1M32 66h1M35 67h1M11 68h1M2 69h1M26 69h1M29 69h1M41 69h1M46 69h1M13 70h1M28 70h1M33 70h1M39 70h1M12 71h1M29 71h1M31 71h1M9 72h1M35 72h1M1 74h1M12 74h1M1 75h1M13 75h1M38 79h1M1 80h1M28 81h2M3 82h1M9 82h1M48 82h1M6 83h1M1 84h1M27 84h1M42 84h1M6 86h1M14 86h1M45 87h1M9 92h1M13 95h1M1 96h1M23 96h1M22 97h1M25 103h1M12 106h1M12 107h1M24 107h1M22 109h1M24 109h1M3 110h1M12 110h1M24 110h1M26 110h1M43 113h1M40 115h1M13 117h1M31 117h1M30 118h1M35 118h1M12 120h1M18 120h1M39 120h1M23 121h1M28 121h1M1 122h1M3 124h1M20 125h1M23 125h1M3 126h1M9 126h1M46 126h1M11 127h1M20 127h1M22 127h1M42 127h1M18 128h1M28 129h1M31 129h1M14 130h1M31 130h1M40 131h1M34 132h1M43 132h1M46 132h1M3 133h1M20 133h1M12 137h1M20 137h1M13 138h1M28 138h1M1 140h1M13 140h1M32 140h1M28 141h1M26 142h1M32 143h1M3 144h1M32 144h1M1 146h2M23 146h1M41 147h1M40 148h1M1 149h1M17 151h1M40 152h1M18 154h1M31 154h1M46 154h1M28 155h1M34 156h1M1 157h1M34 157h1M3 158h1M35 158h1M34 159h1M22 160h1M37 160h1M18 161h1M12 162h1M25 162h1M2 164h1M1 165h1M44 165h1M6 167h1M45 167h1M18 168h1M2 169h1M12 169h1M12 170h2M16 170h1M2 172h1M2 174h1M22 174h1M26 174h1M2 182h1M24 187h1M17 196h1M12 197h1M15 197h1M36 197h1M3 198h1M11 198h1M13 198h1M26 198h1M35 199h1M1 200h2M15 200h1M30 200h1M40 200h1M19 202h1M2 204h1M13 204h1M39 204h1M11 205h1M28 205h1M30 205h1M33 205h1M8 206h1M17 206h1M27 206h1M30 206h1M25 208h1M28 208h1M40 208h1M0 209h1M6 209h1M11 209h1M14 211h1M41 211h1M0 212h2M9 212h1M30 212h1M14 213h2M38 213h1M40 213h1M6 214h1M28 214h1M6 215h1M19 215h1M24 215h1M34 215h1M40 215h2M12 216h1M16 216h1M23 216h1M26 216h1M31 216h1M19 217h1M21 217h1M26 217h1M2 218h1M11 218h1M16 218h2M32 218h1M40 218h1M44 218h1M6 219h1M20 219h1M23 219h1M30 219h1M32 219h1M45 219h1M8 221h1M25 221h1M27 221h1M32 221h1M34 221h1M10 222h1M16 222h1M22 222h1M24 222h1M16 223h1M24 223h1M5 224h1M7 224h1M30 224h1M7 225h1M13 225h1M27 225h2M14 226h2M37 226h1M10 227h1M12 227h1M14 227h1M30 227h1M36 227h1M38 227h1M2 228h1M10 229h1M13 229h1M27 229h1M41 229h1M46 230h1M11 231h1M23 231h1M3 232h1M10 232h1M32 232h1M36 232h1M3 233h1M16 233h2M23 233h1M46 233h1M1 234h1M10 234h1M17 234h1M33 234h1M38 234h1M45 234h1M48 234h1M20 235h1M5 236h1M33 236h1M40 236h1M44 236h1M41 237h1M38 238h1M43 238h1M20 241h1M43 246h1M13 247h1M1 250h1M40 250h1M34 254h1M40 254h1M42 254h1M44 254h1M13 255h1M24 255h1M34 255h1M47 255h1M7 256h1M18 256h1M24 256h1M33 257h1M8 258h1M11 258h1M18 258h1M25 258h1M30 258h1M37 258h1M5 259h1M30 259h1M37 259h1M47 259h1M13 260h1M16 260h1M32 260h1M46 260h1M15 261h1M45 261h1M9 262h1M12 262h1M16 262h1M6 263h1M45 263h2M6 264h1M26 267h1M24 268h1M38 269h1M41 271h1"/>
<path stroke="#b51657" d="M22 13h1M39 16h1M23 17h1M31 22h1M12 40h1M22 42h1M23 43h1M24 44h1M41 44h1M31 45h1M20 47h1M22 47h1M48 57h1M19 66h1M42 67h1M19 69h1M19 70h1M6 72h1M28 84h1M24 85h1M28 86h1M13 87h1M1 89h1M1 107h1M19 109h1M1 111h1M7 111h1M5 126h1M12 127h1M24 127h1M41 134h1M5 135h1M12 138h1M23 139h1M42 139h1M12 141h1M24 141h1M24 143h1M18 147h1M23 149h2M12 150h1M13 153h1M22 153h1M42 154h1M42 155h1M18 156h1M35 156h1M35 157h1M42 158h1M1 159h1M31 166h1M23 171h1M23 172h1M22 178h1M22 179h1M22 187h1M42 196h1M24 197h1M24 198h1M31 198h1M30 199h1M18 201h1M2 202h1M43 202h1M42 204h1M48 204h1M13 209h1M44 210h1M28 215h2M5 216h1M9 216h1M38 216h1M43 217h1M43 218h1M2 220h1M40 220h1M42 220h1M12 221h1M28 221h1M12 223h1M31 223h1M46 223h1M23 224h2M35 224h1M38 224h1M35 225h1M23 226h1M33 226h1M28 227h1M32 227h1M42 227h1M11 228h1M22 228h1M24 229h1M46 229h1M8 230h1M12 230h1M27 230h1M34 230h1M12 231h1M28 231h1M33 231h1M40 232h1M40 233h1M43 233h1M0 234h1M11 234h1M24 235h1M28 235h1M32 235h1M42 235h1M32 237h1M28 238h1M33 238h1M23 244h1M18 247h1M45 247h1M22 254h1M18 255h1M22 255h1M26 255h1M40 255h1M45 255h1M37 257h1M35 258h1M42 258h1M18 259h1M22 259h1M38 259h1M45 259h1M26 260h1M13 262h1M42 262h1M31 263h1M43 263h1M1 266h1M22 267h2M46 267h1M44 268h1M44 269h1M23 270h1M28 271h1M42 272h1M46 274h1M23 275h1"/>
<path stroke="#921c5b" d="M23 13h1M24 17h1M22 32h1M48 33h1M20 39h1M23 40h1M31 44h1M24 49h1M20 68h1M26 82h1M20 90h1M13 127h1M12 128h1M1 129h1M20 129h1M1 130h1M1 133h1M22 140h1M23 145h1M18 146h1M20 147h1M18 151h1M1 154h1M18 159h1M24 159h1M42 159h1M1 160h1M23 169h2M24 170h1M13 173h1M22 173h1M13 180h1M22 188h1M13 189h1M12 199h1M7 202h1M24 202h1M1 203h1M45 203h1M42 205h1M1 208h1M19 212h1M5 213h1M26 213h1M1 217h1M13 218h1M13 219h1M42 219h1M12 220h1M28 220h1M26 222h1M28 222h1M26 224h1M44 226h1M24 227h1M41 227h1M44 227h1M35 228h1M41 228h1M28 229h1M10 230h1M48 230h1M22 231h1M42 231h1M34 232h1M6 233h2M9 233h1M28 233h1M34 233h1M9 234h1M35 234h1M5 235h1M34 235h1M24 236h1M42 237h1M23 238h1M22 256h1M40 256h1M42 256h1M22 257h1M42 257h1M12 258h1M42 259h1M44 259h1M13 263h1M38 263h1M21 264h1M41 264h3M21 265h1M23 265h1M33 265h1M16 266h1M20 266h2M31 266h1M33 266h1M38 266h1M45 266h1M28 269h1M31 274h1M35 274h1"/>
<path stroke="#9e1a5b" d="M13 14h1M23 23h1M48 24h1M22 27h1M48 36h1M22 44h1M22 45h1M24 45h1M18 49h1M24 51h1M22 68h1M40 70h1M1 71h1M44 81h1M1 82h1M1 83h1M48 97h1M48 103h1M42 109h1M1 115h1M23 118h1M20 122h1M18 124h1M13 125h1M1 127h1M18 133h1M24 133h1M31 133h1M22 134h1M22 135h1M28 135h1M28 136h1M40 137h1M1 138h1M23 141h1M1 143h1M12 143h1M1 145h1M1 147h1M13 150h1M40 150h1M6 151h1M12 152h1M7 154h1M26 156h1M44 159h1M31 161h1M22 163h1M22 165h1M22 172h1M23 176h1M13 179h1M1 184h1M43 187h1M22 189h1M22 190h1M28 196h1M18 199h1M24 201h1M5 204h1M12 205h1M43 205h1M48 205h1M12 206h1M24 206h1M23 211h1M40 211h1M10 213h1M5 214h1M22 214h1M5 215h1M22 215h1M1 216h1M22 217h1M38 217h1M42 217h1M0 218h1M5 218h1M1 220h1M42 221h1M31 222h1M16 224h1M32 225h1M40 225h1M46 225h1M12 226h1M23 227h1M31 227h1M28 228h1M42 228h1M18 229h1M26 229h1M31 230h1M6 231h1M31 231h1M40 231h1M5 232h1M13 232h1M24 232h1M42 232h1M48 232h1M24 234h1M31 234h1M33 235h1M22 237h2M44 237h1M40 239h1M42 255h1M1 256h1M31 256h1M1 258h1M44 258h1M35 260h1M42 260h1M44 260h1M35 261h1M42 263h1M27 264h1M39 264h1M44 264h1M17 265h1M46 265h1M13 266h1M17 266h3M26 266h1M36 266h1M39 266h1M22 268h1M22 269h2M46 269h1M42 270h1M42 271h1M31 273h1M6 274h1M28 274h1"/>
<path stroke="#ca1a50" d="M22 15h1M42 17h1M13 41h1M40 41h1M1 42h1M32 42h1M12 43h1M35 43h1M2 44h1M12 44h1M26 44h1M35 44h1M12 46h1M43 46h1M1 47h1M24 47h1M27 51h1M1 52h1M22 52h1M1 62h1M12 64h1M25 64h1M13 65h1M22 65h1M33 66h1M20 67h1M19 68h1M40 69h1M1 70h1M6 70h1M12 70h1M20 70h1M30 71h1M48 71h1M12 72h1M22 72h1M26 72h1M6 73h1M13 73h1M23 79h1M18 82h1M48 83h1M6 84h1M24 84h1M12 86h1M44 86h1M12 89h1M23 89h1M22 92h1M1 102h1M13 104h1M12 105h1M22 106h1M12 108h1M22 108h1M44 109h1M19 110h1M33 111h1M24 113h1M26 114h1M45 117h1M17 118h1M35 119h1M22 121h1M24 122h1M1 123h1M1 124h1M20 124h1M31 124h1M24 125h1M0 126h1M18 126h1M39 126h1M34 127h1M13 128h1M24 129h1M48 129h1M13 130h1M24 131h1M44 132h1M12 133h1M43 133h1M7 134h1M31 134h1M7 135h1M12 135h1M43 135h1M13 136h1M16 136h1M43 136h1M33 137h1M40 138h1M1 139h1M28 139h1M18 142h1M32 142h1M28 143h1M1 144h1M26 145h1M23 147h1M17 149h1M46 151h1M1 152h1M6 152h1M18 152h1M46 152h1M7 153h1M20 153h1M26 153h1M46 153h1M48 154h1M1 155h1M9 155h1M1 156h1M28 157h1M1 158h1M31 158h1M39 160h1M1 169h1M2 171h1M23 174h1M12 180h1M43 180h1M23 188h1M48 189h1M28 197h1M3 201h1M1 202h1M2 203h1M18 203h1M31 203h1M41 203h1M44 203h1M26 205h1M44 205h1M18 206h1M13 208h1M26 208h1M40 209h1M26 210h1M15 211h1M28 211h1M22 213h1M27 213h1M29 213h1M34 213h1M2 214h1M9 214h1M20 214h1M3 215h1M38 215h1M43 215h1M45 215h1M45 216h1M0 217h1M3 217h1M20 217h1M44 217h1M15 218h1M28 219h1M34 219h1M32 220h1M22 221h2M44 221h1M1 222h1M9 222h1M34 222h1M42 222h1M9 223h1M33 223h1M37 223h1M12 224h1M28 224h1M33 224h1M36 224h1M16 225h1M22 225h1M8 226h1M2 227h1M5 227h2M18 227h1M40 227h1M46 228h1M12 229h1M28 230h1M32 230h1M42 230h1M4 231h1M9 232h1M11 232h1M33 232h1M10 233h1M20 233h1M27 233h1M19 234h1M25 234h1M34 234h1M22 235h1M7 236h1M42 236h2M46 236h1M5 237h1M22 238h1M37 238h1M23 243h1M38 254h1M41 254h1M2 255h1M8 255h1M46 255h1M38 256h1M45 256h2M24 258h1M32 259h2M35 259h1M24 260h1M37 260h1M47 260h1M1 261h1M32 261h2M42 261h1M30 262h1M11 263h2M15 263h1M35 263h1M37 263h1M26 264h1M0 265h1M44 267h1M23 273h2M44 274h1M28 275h1"/>
<path stroke="#871e5b" d="M28 16h1M23 47h1M48 47h1M48 52h1M0 64h1M31 64h1M48 64h1M28 67h1M41 70h1M22 73h1M22 74h1M23 78h1M23 82h1M18 83h1M23 84h1M31 102h1M1 114h1M1 118h1M23 124h1M1 128h1M13 132h1M1 134h1M45 135h1M23 137h1M22 138h1M18 140h1M22 141h1M48 143h1M20 148h1M44 152h1M12 153h1M13 156h1M23 170h1M31 184h1M48 186h1M48 193h1M12 196h1M45 202h1M24 203h1M24 204h1M2 206h1M12 207h2M43 207h1M22 212h1M40 212h1M20 213h1M10 214h1M13 214h1M13 217h1M22 218h1M23 222h1M5 223h1M44 224h1M6 225h1M23 225h1M32 226h1M9 227h1M24 228h1M20 229h1M40 229h1M6 230h1M13 230h1M24 230h1M33 230h1M34 231h1M46 231h1M48 231h1M31 232h1M43 232h1M46 232h1M0 233h1M12 233h1M35 233h1M23 235h1M32 236h1M24 237h1M28 239h1M28 257h1M28 258h1M31 258h1M28 259h1M28 260h1M34 260h1M22 261h1M44 263h1M31 264h1M45 264h2M10 265h1M14 265h1M19 265h1M25 265h1M7 266h1M9 266h1M25 266h1M35 266h1M31 275h1M42 275h1"/>
<path stroke="#501d4c" d="M45 16h1M48 68h1M48 69h1M48 77h1M18 81h1M23 112h1M23 113h1M42 113h1M23 114h1M18 138h1M31 138h1M48 138h1M31 139h1M31 140h1M20 142h1M20 143h1M20 144h1M20 145h1M13 151h1M12 154h1M12 155h1M20 155h1M12 156h1M20 156h1M12 157h1M12 158h1M12 159h1M48 162h1M48 163h1M13 184h1M12 200h1M12 201h1M12 202h1M18 202h1M23 202h1M12 203h1M23 203h1M28 203h1M23 204h1M23 205h1M23 206h1M20 207h1M48 209h1M48 210h1M31 213h1M48 213h1M31 214h1M48 214h1M13 220h1M13 221h1M13 222h1M20 225h1M20 226h1M20 227h1M44 228h1M44 229h1M44 230h1M31 235h1M31 236h1M31 237h1M48 237h1M31 238h1M48 238h1M20 244h1M31 249h1M31 250h1M48 250h1M20 255h1M20 256h1M20 257h1M48 257h1M20 258h1M48 258h1M20 259h1M20 260h1M20 261h1M22 264h1M22 265h1M22 266h1"/>
<path stroke="#701f57" d="M7 23h1M48 39h1M48 44h1M12 47h1M18 68h1M48 73h1M1 81h1M12 84h1M23 85h1M1 86h1M24 86h1M23 94h1M22 101h1M13 111h1M22 119h1M12 122h1M48 124h1M13 126h1M28 137h1M48 142h1M22 143h1M22 144h1M22 145h1M24 150h1M7 151h1M18 155h1M31 155h1M23 156h1M23 157h1M23 165h1M12 198h1M42 198h1M34 203h1M42 229h1M22 247h1M23 254h1M44 255h1M40 257h1M34 258h1M12 259h1M24 259h1M23 260h1M40 260h1M26 261h1M28 262h1M23 264h1M29 264h1M34 264h1M36 264h1M40 264h1M3 265h1M30 265h2M39 265h1M48 265h1M4 266h1M29 266h1M34 266h1"/>
<path stroke="#661f54" d="M48 23h1M18 43h1M23 46h1M32 46h1M20 48h1M22 48h1M1 49h1M22 49h1M22 69h1M22 70h1M23 81h1M23 83h1M28 85h1M24 88h1M23 93h1M22 107h1M23 109h1M23 116h1M23 123h1M48 123h1M23 127h1M23 128h1M13 129h1M13 131h1M20 132h1M23 135h1M22 137h1M22 139h1M48 141h1M1 142h1M23 144h2M24 145h1M13 146h1M22 146h1M13 147h1M22 148h1M23 150h1M1 151h1M23 151h2M7 152h1M23 152h2M23 153h1M13 155h1M20 158h1M23 158h1M20 159h1M23 159h1M23 160h1M24 161h1M23 162h1M23 163h1M1 167h1M13 171h1M24 172h1M48 175h1M20 179h1M22 186h1M13 196h1M31 196h1M31 201h1M7 203h1M13 205h1M13 206h1M1 207h1M1 209h1M24 213h1M24 214h1M22 216h1M7 217h1M1 219h1M7 219h1M22 220h1M1 221h1M31 221h1M1 223h1M7 223h1M40 223h1M1 224h1M1 225h1M1 227h1M48 229h1M7 230h1M9 230h1M22 230h1M1 231h1M13 231h1M6 232h2M22 233h1M12 234h1M28 234h1M7 235h1M20 254h1M23 255h1M31 255h1M23 256h1M31 257h1M5 258h1M23 258h1M40 258h1M23 259h1M18 260h1M31 260h1M23 261h1M20 264h1M28 264h1M30 264h1M33 264h1M35 264h1M38 264h1M1 265h2M4 265h2M7 265h1M13 265h1M15 265h2M18 265h1M26 265h4M34 265h4M40 265h1M42 265h3M3 266h1M5 266h2M8 266h1M10 266h1M12 266h1M24 266h1M27 266h2M30 266h1M40 266h2M46 266h1M31 269h1M42 269h1"/>
<path stroke="#7b1f59" d="M48 28h1M42 46h1M13 68h1M24 87h1M23 99h1M22 102h1M1 112h1M13 112h1M1 117h1M28 118h1M23 122h1M24 123h1M39 125h1M48 125h1M18 134h1M24 135h1M23 136h1M23 138h2M12 142h1M22 147h1M12 149h1M1 150h1M1 153h1M24 156h1M24 157h1M18 158h1M24 158h1M13 181h1M12 187h1M22 195h1M24 200h1M45 204h1M28 206h1M24 207h1M12 213h1M18 214h1M12 215h1M5 217h1M12 217h1M1 218h1M7 218h1M24 219h1M26 219h1M23 223h1M40 224h1M42 224h1M42 226h1M26 227h1M23 228h1M22 229h1M1 230h1M13 233h1M13 234h1M22 236h1M24 238h1M22 240h1M31 244h1M22 246h1M23 253h1M28 256h1M26 257h1M44 257h1M34 259h1M22 260h1M10 261h1M24 264h2M32 264h1M37 264h1M8 265h1M11 265h1M24 265h1M32 265h1M41 265h1M45 265h1M14 266h2M23 266h1M37 266h1M42 266h1M44 266h1M35 273h1M35 275h1"/>
<path stroke="#271534" d="M48 105h1M48 106h1M48 107h1M48 108h1M48 144h1M48 145h1M48 146h1M48 147h1M48 148h1M48 149h1M20 203h1M20 204h1M20 205h1M48 206h1M48 207h1M48 208h1M48 211h1M23 212h1M48 212h1M23 213h1M48 215h1M48 216h1M23 217h1M20 220h1M20 221h1M20 222h1M18 225h1M18 235h1M20 246h1M20 247h1M48 255h1M48 256h1"/>
</g>
<text x="1294.60" y="269.65" font-size="9.30" text-anchor="start" textLength="81.38" lengthAdjust="spacingAndGlyphs" fill="#1a1a1a">Burkholderiaceae</text>
<text x="1294.60" y="282.85" font-size="9.30" text-anchor="start" textLength="85.73" lengthAdjust="spacingAndGlyphs" fill="#1a1a1a">Desulfovibrionales</text>
<text x="1294.60" y="296.06" font-size="9.30" text-anchor="start" textLength="97.20" lengthAdjust="spacingAndGlyphs" fill="#1a1a1a">Methylobacteriaceae</text>
<text x="1294.60" y="309.26" font-size="9.30" text-anchor="start" textLength="56.14" lengthAdjust="spacingAndGlyphs" fill="#1a1a1a">Erwiniaceae</text>
<text x="1294.60" y="322.47" font-size="9.30" text-anchor="start" textLength="24.70" lengthAdjust="spacingAndGlyphs" fill="#1a1a1a">other</text>
<text x="1294.60" y="335.67" font-size="9.30" text-anchor="start" textLength="52.47" lengthAdjust="spacingAndGlyphs" fill="#1a1a1a">Bacteroidia</text>
<text x="1294.60" y="348.88" font-size="9.30" text-anchor="start" textLength="93.10" lengthAdjust="spacingAndGlyphs" fill="#1a1a1a">Xanthomonadaceae</text>
<text x="1294.60" y="362.08" font-size="9.30" text-anchor="start" textLength="43.65" lengthAdjust="spacingAndGlyphs" fill="#1a1a1a">Bacillales</text>
<text x="1294.60" y="375.29" font-size="9.30" text-anchor="start" textLength="90.60" lengthAdjust="spacingAndGlyphs" fill="#1a1a1a">Enterobacteriaceae</text>
<text x="1294.60" y="388.49" font-size="9.30" text-anchor="start" textLength="93.10" lengthAdjust="spacingAndGlyphs" fill="#1a1a1a">Xanthomonadaceae</text>
<text x="1294.60" y="401.69" font-size="9.30" text-anchor="start" textLength="52.47" lengthAdjust="spacingAndGlyphs" fill="#1a1a1a">Bacteroidia</text>
<text x="1294.60" y="414.90" font-size="9.30" text-anchor="start" textLength="56.82" lengthAdjust="spacingAndGlyphs" fill="#1a1a1a">Clostridiales</text>
<text x="1294.60" y="428.10" font-size="9.30" text-anchor="start" textLength="43.65" lengthAdjust="spacingAndGlyphs" fill="#1a1a1a">Bacillales</text>
<text x="1294.60" y="441.31" font-size="9.30" text-anchor="start" textLength="90.60" lengthAdjust="spacingAndGlyphs" fill="#1a1a1a">Enterobacteriaceae</text>
<text x="1294.60" y="454.51" font-size="9.30" text-anchor="start" textLength="64.70" lengthAdjust="spacingAndGlyphs" fill="#1a1a1a">Micrococcales</text>
<text x="1294.60" y="467.72" font-size="9.30" text-anchor="start" textLength="81.76" lengthAdjust="spacingAndGlyphs" fill="#1a1a1a">Streptomycetales</text>
<text x="1294.60" y="480.92" font-size="9.30" text-anchor="start" textLength="66.29" lengthAdjust="spacingAndGlyphs" fill="#1a1a1a">Eggerthellales</text>
<text x="1294.60" y="494.12" font-size="9.30" text-anchor="start" textLength="66.29" lengthAdjust="spacingAndGlyphs" fill="#1a1a1a">Eggerthellales</text>
<text x="1294.60" y="507.33" font-size="9.30" text-anchor="start" textLength="56.82" lengthAdjust="spacingAndGlyphs" fill="#1a1a1a">Clostridiales</text>
<text x="1294.60" y="520.53" font-size="9.30" text-anchor="start" textLength="88.66" lengthAdjust="spacingAndGlyphs" fill="#1a1a1a">Verrucomicrobiales</text>
<text x="1294.60" y="533.74" font-size="9.30" text-anchor="start" textLength="75.38" lengthAdjust="spacingAndGlyphs" fill="#1a1a1a">Coriobacteriales</text>
<text x="1294.60" y="546.94" font-size="9.30" text-anchor="start" textLength="56.82" lengthAdjust="spacingAndGlyphs" fill="#1a1a1a">Clostridiales</text>
<text x="1294.60" y="560.15" font-size="9.30" text-anchor="start" textLength="88.32" lengthAdjust="spacingAndGlyphs" fill="#1a1a1a">Acidaminococcales</text>
<text x="1294.60" y="573.35" font-size="9.30" text-anchor="start" textLength="82.35" lengthAdjust="spacingAndGlyphs" fill="#1a1a1a">Selenomonadales</text>
<text x="1294.60" y="586.55" font-size="9.30" text-anchor="start" textLength="52.47" lengthAdjust="spacingAndGlyphs" fill="#1a1a1a">Bacteroidia</text>
<text x="1294.60" y="599.76" font-size="9.30" text-anchor="start" textLength="64.70" lengthAdjust="spacingAndGlyphs" fill="#1a1a1a">Micrococcales</text>
<text x="1294.60" y="612.96" font-size="9.30" text-anchor="start" textLength="68.43" lengthAdjust="spacingAndGlyphs" fill="#1a1a1a">Lactobacillales</text>
<text x="1294.60" y="626.17" font-size="9.30" text-anchor="start" textLength="64.83" lengthAdjust="spacingAndGlyphs" fill="#1a1a1a">Neisseriaceae</text>
<text x="1294.60" y="639.37" font-size="9.30" text-anchor="start" textLength="59.14" lengthAdjust="spacingAndGlyphs" fill="#1a1a1a">Tissierellales</text>
<text x="1294.60" y="652.58" font-size="9.30" text-anchor="start" textLength="56.82" lengthAdjust="spacingAndGlyphs" fill="#1a1a1a">Clostridiales</text>
<text x="1294.60" y="665.78" font-size="9.30" text-anchor="start" textLength="56.82" lengthAdjust="spacingAndGlyphs" fill="#1a1a1a">Clostridiales</text>
<text x="1294.60" y="678.99" font-size="9.30" text-anchor="start" textLength="68.43" lengthAdjust="spacingAndGlyphs" fill="#1a1a1a">Lactobacillales</text>
<text x="1294.60" y="692.19" font-size="9.30" text-anchor="start" textLength="93.51" lengthAdjust="spacingAndGlyphs" fill="#1a1a1a">Geodermatophilales</text>
<text x="1294.60" y="705.39" font-size="9.30" text-anchor="start" textLength="65.39" lengthAdjust="spacingAndGlyphs" fill="#1a1a1a">Flavobacteriia</text>
<text x="1294.60" y="718.60" font-size="9.30" text-anchor="start" textLength="56.82" lengthAdjust="spacingAndGlyphs" fill="#1a1a1a">Clostridiales</text>
<text x="1294.60" y="731.80" font-size="9.30" text-anchor="start" textLength="56.82" lengthAdjust="spacingAndGlyphs" fill="#1a1a1a">Clostridiales</text>
<text x="1294.60" y="745.01" font-size="9.30" text-anchor="start" textLength="64.70" lengthAdjust="spacingAndGlyphs" fill="#1a1a1a">Micrococcales</text>
<text x="1294.60" y="758.21" font-size="9.30" text-anchor="start" textLength="56.82" lengthAdjust="spacingAndGlyphs" fill="#1a1a1a">Clostridiales</text>
<text x="1294.60" y="771.42" font-size="9.30" text-anchor="start" textLength="56.82" lengthAdjust="spacingAndGlyphs" fill="#1a1a1a">Clostridiales</text>
<text x="1294.60" y="784.62" font-size="9.30" text-anchor="start" textLength="56.82" lengthAdjust="spacingAndGlyphs" fill="#1a1a1a">Clostridiales</text>
<text x="1294.60" y="797.82" font-size="9.30" text-anchor="start" textLength="56.82" lengthAdjust="spacingAndGlyphs" fill="#1a1a1a">Clostridiales</text>
<text x="1294.60" y="811.03" font-size="9.30" text-anchor="start" textLength="56.82" lengthAdjust="spacingAndGlyphs" fill="#1a1a1a">Clostridiales</text>
<text x="1294.60" y="824.23" font-size="9.30" text-anchor="start" textLength="56.82" lengthAdjust="spacingAndGlyphs" fill="#1a1a1a">Clostridiales</text>
<text x="1294.60" y="837.44" font-size="9.30" text-anchor="start" textLength="68.43" lengthAdjust="spacingAndGlyphs" fill="#1a1a1a">Lactobacillales</text>
<text x="1294.60" y="850.64" font-size="9.30" text-anchor="start" textLength="56.82" lengthAdjust="spacingAndGlyphs" fill="#1a1a1a">Clostridiales</text>
<text x="1294.60" y="863.85" font-size="9.30" text-anchor="start" textLength="56.82" lengthAdjust="spacingAndGlyphs" fill="#1a1a1a">Clostridiales</text>
<text x="1294.60" y="877.05" font-size="9.30" text-anchor="start" textLength="56.82" lengthAdjust="spacingAndGlyphs" fill="#1a1a1a">Clostridiales</text>
<text x="1294.60" y="890.25" font-size="9.30" text-anchor="start" textLength="43.65" lengthAdjust="spacingAndGlyphs" fill="#1a1a1a">Bacillales</text>
<text x="1294.60" y="903.46" font-size="9.30" text-anchor="start" textLength="56.82" lengthAdjust="spacingAndGlyphs" fill="#1a1a1a">Clostridiales</text>
<text x="1294.60" y="916.66" font-size="9.30" text-anchor="start" textLength="56.82" lengthAdjust="spacingAndGlyphs" fill="#1a1a1a">Clostridiales</text>
<text x="1294.60" y="929.87" font-size="9.30" text-anchor="start" textLength="56.82" lengthAdjust="spacingAndGlyphs" fill="#1a1a1a">Clostridiales</text>
<text x="1294.60" y="943.07" font-size="9.30" text-anchor="start" textLength="56.82" lengthAdjust="spacingAndGlyphs" fill="#1a1a1a">Clostridiales</text>
<text x="1294.60" y="956.28" font-size="9.30" text-anchor="start" textLength="56.82" lengthAdjust="spacingAndGlyphs" fill="#1a1a1a">Clostridiales</text>
<text x="1294.60" y="969.48" font-size="9.30" text-anchor="start" textLength="68.43" lengthAdjust="spacingAndGlyphs" fill="#1a1a1a">Lactobacillales</text>
<text x="1294.60" y="982.69" font-size="9.30" text-anchor="start" textLength="82.18" lengthAdjust="spacingAndGlyphs" fill="#1a1a1a">Erysipelotrichales</text>
<text x="1294.60" y="995.89" font-size="9.30" text-anchor="start" textLength="68.43" lengthAdjust="spacingAndGlyphs" fill="#1a1a1a">Lactobacillales</text>
<text x="1294.60" y="1009.09" font-size="9.30" text-anchor="start" textLength="52.47" lengthAdjust="spacingAndGlyphs" fill="#1a1a1a">Bacteroidia</text>
<text x="1294.60" y="1022.30" font-size="9.30" text-anchor="start" textLength="56.82" lengthAdjust="spacingAndGlyphs" fill="#1a1a1a">Clostridiales</text>
<text x="1294.60" y="1035.50" font-size="9.30" text-anchor="start" textLength="56.82" lengthAdjust="spacingAndGlyphs" fill="#1a1a1a">Clostridiales</text>
<text x="1294.60" y="1048.71" font-size="9.30" text-anchor="start" textLength="56.82" lengthAdjust="spacingAndGlyphs" fill="#1a1a1a">Clostridiales</text>
<text x="1294.60" y="1061.91" font-size="9.30" text-anchor="start" textLength="82.18" lengthAdjust="spacingAndGlyphs" fill="#1a1a1a">Erysipelotrichales</text>
<text x="1294.60" y="1075.12" font-size="9.30" text-anchor="start" textLength="56.82" lengthAdjust="spacingAndGlyphs" fill="#1a1a1a">Clostridiales</text>
<text x="1294.60" y="1088.32" font-size="9.30" text-anchor="start" textLength="86.86" lengthAdjust="spacingAndGlyphs" fill="#1a1a1a">Comamonadaceae</text>
<text x="1294.60" y="1101.52" font-size="9.30" text-anchor="start" textLength="87.22" lengthAdjust="spacingAndGlyphs" fill="#1a1a1a">Rhodobacteraceae</text>
<text x="1294.60" y="1114.73" font-size="9.30" text-anchor="start" textLength="56.82" lengthAdjust="spacingAndGlyphs" fill="#1a1a1a">Clostridiales</text>
<text x="1294.60" y="1127.93" font-size="9.30" text-anchor="start" textLength="56.82" lengthAdjust="spacingAndGlyphs" fill="#1a1a1a">Clostridiales</text>
<text x="1294.60" y="1141.14" font-size="9.30" text-anchor="start" textLength="56.82" lengthAdjust="spacingAndGlyphs" fill="#1a1a1a">Clostridiales</text>
<text x="1294.60" y="1154.34" font-size="9.30" text-anchor="start" textLength="56.82" lengthAdjust="spacingAndGlyphs" fill="#1a1a1a">Clostridiales</text>
<text x="1294.60" y="1167.55" font-size="9.30" text-anchor="start" textLength="56.82" lengthAdjust="spacingAndGlyphs" fill="#1a1a1a">Clostridiales</text>
<text transform="translate(310.38 1182.20) rotate(-90)" font-size="9.30" text-anchor="end" textLength="57.45" lengthAdjust="spacingAndGlyphs" fill="#1a1a1a">L-Rhamnose</text>
<text transform="translate(330.54 1182.20) rotate(-90)" font-size="9.30" text-anchor="end" textLength="59.56" lengthAdjust="spacingAndGlyphs" fill="#1a1a1a">5-Oxoproline</text>
<text transform="translate(350.71 1182.20) rotate(-90)" font-size="9.30" text-anchor="end" textLength="28.74" lengthAdjust="spacingAndGlyphs" fill="#1a1a1a">Niacin</text>
<text transform="translate(370.87 1182.20) rotate(-90)" font-size="9.30" text-anchor="end" textLength="41.91" lengthAdjust="spacingAndGlyphs" fill="#1a1a1a">L-Inositol</text>
<text transform="translate(391.03 1182.20) rotate(-90)" font-size="9.30" text-anchor="end" textLength="73.42" lengthAdjust="spacingAndGlyphs" fill="#1a1a1a">L-Phenylalanine</text>
<text transform="translate(411.20 1182.20) rotate(-90)" font-size="9.30" text-anchor="end" textLength="30.60" lengthAdjust="spacingAndGlyphs" fill="#1a1a1a">Oleate</text>
<text transform="translate(431.36 1182.20) rotate(-90)" font-size="9.30" text-anchor="end" textLength="49.73" lengthAdjust="spacingAndGlyphs" fill="#1a1a1a">Propionate</text>
<text transform="translate(451.52 1182.20) rotate(-90)" font-size="9.30" text-anchor="end" textLength="45.46" lengthAdjust="spacingAndGlyphs" fill="#1a1a1a">L-Tyrosine</text>
<text transform="translate(471.69 1182.20) rotate(-90)" font-size="9.30" text-anchor="end" textLength="48.97" lengthAdjust="spacingAndGlyphs" fill="#1a1a1a">L-Histidine</text>
<text transform="translate(491.85 1182.20) rotate(-90)" font-size="9.30" text-anchor="end" textLength="38.69" lengthAdjust="spacingAndGlyphs" fill="#1a1a1a">Melitose</text>
<text transform="translate(512.01 1182.20) rotate(-90)" font-size="9.30" text-anchor="end" textLength="58.19" lengthAdjust="spacingAndGlyphs" fill="#1a1a1a">Myristic acid</text>
<text transform="translate(532.18 1182.20) rotate(-90)" font-size="9.30" text-anchor="end" textLength="47.76" lengthAdjust="spacingAndGlyphs" fill="#1a1a1a">D-Glucose</text>
<text transform="translate(552.34 1182.20) rotate(-90)" font-size="9.30" text-anchor="end" textLength="118.15" lengthAdjust="spacingAndGlyphs" fill="#1a1a1a">trans-4-Hydroxy-L-proline</text>
<text transform="translate(572.50 1182.20) rotate(-90)" font-size="9.30" text-anchor="end" textLength="40.19" lengthAdjust="spacingAndGlyphs" fill="#1a1a1a">Butyrate</text>
<text transform="translate(592.67 1182.20) rotate(-90)" font-size="9.30" text-anchor="end" textLength="43.52" lengthAdjust="spacingAndGlyphs" fill="#1a1a1a">Melibiose</text>
<text transform="translate(612.83 1182.20) rotate(-90)" font-size="9.30" text-anchor="end" textLength="36.89" lengthAdjust="spacingAndGlyphs" fill="#1a1a1a">Dulcose</text>
<text transform="translate(632.99 1182.20) rotate(-90)" font-size="9.30" text-anchor="end" textLength="41.59" lengthAdjust="spacingAndGlyphs" fill="#1a1a1a">D-Ribose</text>
<text transform="translate(653.16 1182.20) rotate(-90)" font-size="9.30" text-anchor="end" textLength="46.06" lengthAdjust="spacingAndGlyphs" fill="#1a1a1a">Galactose</text>
<text transform="translate(673.32 1182.20) rotate(-90)" font-size="9.30" text-anchor="end" textLength="70.15" lengthAdjust="spacingAndGlyphs" fill="#1a1a1a">2-Oxoglutarate</text>
<text transform="translate(693.48 1182.20) rotate(-90)" font-size="9.30" text-anchor="end" textLength="43.69" lengthAdjust="spacingAndGlyphs" fill="#1a1a1a">Palmitate</text>
<text transform="translate(713.65 1182.20) rotate(-90)" font-size="9.30" text-anchor="end" textLength="43.06" lengthAdjust="spacingAndGlyphs" fill="#1a1a1a">Ornithine</text>
<text transform="translate(733.81 1182.20) rotate(-90)" font-size="9.30" text-anchor="end" textLength="50.71" lengthAdjust="spacingAndGlyphs" fill="#1a1a1a">Thyminose</text>
<text transform="translate(753.97 1182.20) rotate(-90)" font-size="9.30" text-anchor="end" textLength="41.27" lengthAdjust="spacingAndGlyphs" fill="#1a1a1a">Pyruvate</text>
<text transform="translate(774.14 1182.20) rotate(-90)" font-size="9.30" text-anchor="end" textLength="44.24" lengthAdjust="spacingAndGlyphs" fill="#1a1a1a">Fumarate</text>
<text transform="translate(794.30 1182.20) rotate(-90)" font-size="9.30" text-anchor="end" textLength="39.62" lengthAdjust="spacingAndGlyphs" fill="#1a1a1a">L-Malate</text>
<text transform="translate(814.46 1182.20) rotate(-90)" font-size="9.30" text-anchor="end" textLength="54.52" lengthAdjust="spacingAndGlyphs" fill="#1a1a1a">L-Arabinose</text>
<text transform="translate(834.63 1182.20) rotate(-90)" font-size="9.30" text-anchor="end" textLength="60.41" lengthAdjust="spacingAndGlyphs" fill="#1a1a1a">L-Asparagine</text>
<text transform="translate(854.79 1182.20) rotate(-90)" font-size="9.30" text-anchor="end" textLength="37.13" lengthAdjust="spacingAndGlyphs" fill="#1a1a1a">L-Lysine</text>
<text transform="translate(874.95 1182.20) rotate(-90)" font-size="9.30" text-anchor="end" textLength="53.34" lengthAdjust="spacingAndGlyphs" fill="#1a1a1a">L-Aspartate</text>
<text transform="translate(895.12 1182.20) rotate(-90)" font-size="9.30" text-anchor="end" textLength="50.19" lengthAdjust="spacingAndGlyphs" fill="#1a1a1a">Decanoate</text>
<text transform="translate(915.28 1182.20) rotate(-90)" font-size="9.30" text-anchor="end" textLength="36.67" lengthAdjust="spacingAndGlyphs" fill="#1a1a1a">Sucrose</text>
<text transform="translate(935.44 1182.20) rotate(-90)" font-size="9.30" text-anchor="end" textLength="54.05" lengthAdjust="spacingAndGlyphs" fill="#1a1a1a">L-Threonine</text>
<text transform="translate(955.61 1182.20) rotate(-90)" font-size="9.30" text-anchor="end" textLength="48.63" lengthAdjust="spacingAndGlyphs" fill="#1a1a1a">L-Cysteine</text>
<text transform="translate(975.77 1182.20) rotate(-90)" font-size="9.30" text-anchor="end" textLength="59.83" lengthAdjust="spacingAndGlyphs" fill="#1a1a1a">L-Methionine</text>
<text transform="translate(995.93 1182.20) rotate(-90)" font-size="9.30" text-anchor="end" textLength="45.42" lengthAdjust="spacingAndGlyphs" fill="#1a1a1a">Succinate</text>
<text transform="translate(1016.10 1182.20) rotate(-90)" font-size="9.30" text-anchor="end" textLength="31.51" lengthAdjust="spacingAndGlyphs" fill="#1a1a1a">Citrate</text>
<text transform="translate(1036.26 1182.20) rotate(-90)" font-size="9.30" text-anchor="end" textLength="49.76" lengthAdjust="spacingAndGlyphs" fill="#1a1a1a">D-Fructose</text>
<text transform="translate(1056.42 1182.20) rotate(-90)" font-size="9.30" text-anchor="end" textLength="111.38" lengthAdjust="spacingAndGlyphs" fill="#1a1a1a">N-Acetyl-D-glucosamine</text>
<text transform="translate(1076.59 1182.20) rotate(-90)" font-size="9.30" text-anchor="end" textLength="46.65" lengthAdjust="spacingAndGlyphs" fill="#1a1a1a">octanoate</text>
<text transform="translate(1096.75 1182.20) rotate(-90)" font-size="9.30" text-anchor="end" textLength="35.63" lengthAdjust="spacingAndGlyphs" fill="#1a1a1a">Acetate</text>
<text transform="translate(1116.91 1182.20) rotate(-90)" font-size="9.30" text-anchor="end" textLength="42.77" lengthAdjust="spacingAndGlyphs" fill="#1a1a1a">L-Alanine</text>
<text transform="translate(1137.08 1182.20) rotate(-90)" font-size="9.30" text-anchor="end" textLength="54.99" lengthAdjust="spacingAndGlyphs" fill="#1a1a1a">L-Isoleucine</text>
<text transform="translate(1157.24 1182.20) rotate(-90)" font-size="9.30" text-anchor="end" textLength="57.68" lengthAdjust="spacingAndGlyphs" fill="#1a1a1a">L-Glutamate</text>
<text transform="translate(1177.40 1182.20) rotate(-90)" font-size="9.30" text-anchor="end" textLength="44.18" lengthAdjust="spacingAndGlyphs" fill="#1a1a1a">L-Leucine</text>
<text transform="translate(1197.57 1182.20) rotate(-90)" font-size="9.30" text-anchor="end" textLength="35.84" lengthAdjust="spacingAndGlyphs" fill="#1a1a1a">L-Valine</text>
<text transform="translate(1217.73 1182.20) rotate(-90)" font-size="9.30" text-anchor="end" textLength="34.50" lengthAdjust="spacingAndGlyphs" fill="#1a1a1a">Glycine</text>
<text transform="translate(1237.89 1182.20) rotate(-90)" font-size="9.30" text-anchor="end" textLength="39.78" lengthAdjust="spacingAndGlyphs" fill="#1a1a1a">L-Proline</text>
<text transform="translate(1258.06 1182.20) rotate(-90)" font-size="9.30" text-anchor="end" textLength="23.86" lengthAdjust="spacingAndGlyphs" fill="#1a1a1a">CELB</text>
<text transform="translate(1278.22 1182.20) rotate(-90)" font-size="9.30" text-anchor="end" textLength="40.04" lengthAdjust="spacingAndGlyphs" fill="#1a1a1a">D-Serine</text>
<text transform="translate(252.35 1182.20) rotate(-90)" font-size="9.30" text-anchor="end" textLength="24.72" lengthAdjust="spacingAndGlyphs" fill="#1a1a1a">order</text>
<path d="M1285.0 265.75h3.2M1285.0 278.95h3.2M1285.0 292.16h3.2M1285.0 305.36h3.2M1285.0 318.57h3.2M1285.0 331.77h3.2M1285.0 344.98h3.2M1285.0 358.18h3.2M1285.0 371.39h3.2M1285.0 384.59h3.2M1285.0 397.79h3.2M1285.0 411.00h3.2M1285.0 424.20h3.2M1285.0 437.41h3.2M1285.0 450.61h3.2M1285.0 463.82h3.2M1285.0 477.02h3.2M1285.0 490.22h3.2M1285.0 503.43h3.2M1285.0 516.63h3.2M1285.0 529.84h3.2M1285.0 543.04h3.2M1285.0 556.25h3.2M1285.0 569.45h3.2M1285.0 582.65h3.2M1285.0 595.86h3.2M1285.0 609.06h3.2M1285.0 622.27h3.2M1285.0 635.47h3.2M1285.0 648.68h3.2M1285.0 661.88h3.2M1285.0 675.09h3.2M1285.0 688.29h3.2M1285.0 701.49h3.2M1285.0 714.70h3.2M1285.0 727.90h3.2M1285.0 741.11h3.2M1285.0 754.31h3.2M1285.0 767.52h3.2M1285.0 780.72h3.2M1285.0 793.92h3.2M1285.0 807.13h3.2M1285.0 820.33h3.2M1285.0 833.54h3.2M1285.0 846.74h3.2M1285.0 859.95h3.2M1285.0 873.15h3.2M1285.0 886.35h3.2M1285.0 899.56h3.2M1285.0 912.76h3.2M1285.0 925.97h3.2M1285.0 939.17h3.2M1285.0 952.38h3.2M1285.0 965.58h3.2M1285.0 978.79h3.2M1285.0 991.99h3.2M1285.0 1005.19h3.2M1285.0 1018.40h3.2M1285.0 1031.60h3.2M1285.0 1044.81h3.2M1285.0 1058.01h3.2M1285.0 1071.22h3.2M1285.0 1084.42h3.2M1285.0 1097.62h3.2M1285.0 1110.83h3.2M1285.0 1124.03h3.2M1285.0 1137.24h3.2M1285.0 1150.44h3.2M1285.0 1163.65h3.2M307.08 1175.2v3.2M327.24 1175.2v3.2M347.41 1175.2v3.2M367.57 1175.2v3.2M387.73 1175.2v3.2M407.90 1175.2v3.2M428.06 1175.2v3.2M448.22 1175.2v3.2M468.39 1175.2v3.2M488.55 1175.2v3.2M508.71 1175.2v3.2M528.88 1175.2v3.2M549.04 1175.2v3.2M569.20 1175.2v3.2M589.37 1175.2v3.2M609.53 1175.2v3.2M629.69 1175.2v3.2M649.86 1175.2v3.2M670.02 1175.2v3.2M690.18 1175.2v3.2M710.35 1175.2v3.2M730.51 1175.2v3.2M750.67 1175.2v3.2M770.84 1175.2v3.2M791.00 1175.2v3.2M811.16 1175.2v3.2M831.33 1175.2v3.2M851.49 1175.2v3.2M871.65 1175.2v3.2M891.82 1175.2v3.2M911.98 1175.2v3.2M932.14 1175.2v3.2M952.31 1175.2v3.2M972.47 1175.2v3.2M992.63 1175.2v3.2M1012.80 1175.2v3.2M1032.96 1175.2v3.2M1053.12 1175.2v3.2M1073.29 1175.2v3.2M1093.45 1175.2v3.2M1113.61 1175.2v3.2M1133.78 1175.2v3.2M1153.94 1175.2v3.2M1174.10 1175.2v3.2M1194.27 1175.2v3.2M1214.43 1175.2v3.2M1234.59 1175.2v3.2M1254.76 1175.2v3.2M1274.92 1175.2v3.2M249.05 1175.2v3.2" stroke="#222" stroke-width="0.9"/>
<rect x="232.3" y="264.10" width="33.5" height="6.90" fill="#36ada4"/>
<rect x="232.3" y="270.70" width="33.5" height="10.20" fill="#f7755d"/>
<rect x="232.3" y="280.61" width="33.5" height="6.90" fill="#36ada4"/>
<rect x="232.3" y="287.21" width="33.5" height="3.60" fill="#aa9e31"/>
<rect x="232.3" y="290.51" width="33.5" height="10.20" fill="#32b166"/>
<rect x="232.3" y="300.41" width="33.5" height="3.60" fill="#639df4"/>
<rect x="232.3" y="303.71" width="33.5" height="3.60" fill="#36ada4"/>
<rect x="232.3" y="307.01" width="33.5" height="3.60" fill="#f7755d"/>
<rect x="232.3" y="310.32" width="33.5" height="3.60" fill="#a48cf4"/>
<rect x="232.3" y="313.62" width="33.5" height="3.60" fill="#32b166"/>
<rect x="232.3" y="316.92" width="33.5" height="3.60" fill="#aa9e31"/>
<rect x="232.3" y="320.22" width="33.5" height="3.60" fill="#f77189"/>
<rect x="232.3" y="323.52" width="33.5" height="6.90" fill="#36ada4"/>
<rect x="232.3" y="330.12" width="33.5" height="6.90" fill="#3db535"/>
<rect x="232.3" y="336.72" width="33.5" height="6.90" fill="#32b166"/>
<rect x="232.3" y="343.33" width="33.5" height="3.60" fill="#36ada4"/>
<rect x="232.3" y="346.63" width="33.5" height="3.60" fill="#f77189"/>
<rect x="232.3" y="349.93" width="33.5" height="3.60" fill="#aa9e31"/>
<rect x="232.3" y="353.23" width="33.5" height="3.60" fill="#f7755d"/>
<rect x="232.3" y="356.53" width="33.5" height="10.20" fill="#32b166"/>
<rect x="232.3" y="366.43" width="33.5" height="6.90" fill="#36ada4"/>
<rect x="232.3" y="373.04" width="33.5" height="3.60" fill="#39a7d0"/>
<rect x="232.3" y="376.34" width="33.5" height="3.60" fill="#32b166"/>
<rect x="232.3" y="379.64" width="33.5" height="3.60" fill="#f7755d"/>
<rect x="232.3" y="382.94" width="33.5" height="3.60" fill="#36ada4"/>
<rect x="232.3" y="386.24" width="33.5" height="6.90" fill="#32b166"/>
<rect x="232.3" y="392.84" width="33.5" height="3.60" fill="#f7755d"/>
<rect x="232.3" y="396.14" width="33.5" height="3.60" fill="#3db535"/>
<rect x="232.3" y="399.44" width="33.5" height="6.90" fill="#32b166"/>
<rect x="232.3" y="406.05" width="33.5" height="13.50" fill="#ce9032"/>
<rect x="232.3" y="419.25" width="33.5" height="3.60" fill="#f77189"/>
<rect x="232.3" y="422.55" width="33.5" height="3.60" fill="#32b166"/>
<rect x="232.3" y="425.85" width="33.5" height="3.60" fill="#7eaa31"/>
<rect x="232.3" y="429.15" width="33.5" height="3.60" fill="#39a7d0"/>
<rect x="232.3" y="432.46" width="33.5" height="3.60" fill="#ce9032"/>
<rect x="232.3" y="435.76" width="33.5" height="10.20" fill="#32b166"/>
<rect x="232.3" y="445.66" width="33.5" height="3.60" fill="#aa9e31"/>
<rect x="232.3" y="448.96" width="33.5" height="3.60" fill="#32b166"/>
<rect x="232.3" y="452.26" width="33.5" height="3.60" fill="#f7755d"/>
<rect x="232.3" y="455.56" width="33.5" height="3.60" fill="#39a7d0"/>
<rect x="232.3" y="458.86" width="33.5" height="6.90" fill="#36ada4"/>
<rect x="232.3" y="465.47" width="33.5" height="3.60" fill="#f7755d"/>
<rect x="232.3" y="468.77" width="33.5" height="3.60" fill="#36ada4"/>
<rect x="232.3" y="472.07" width="33.5" height="3.60" fill="#f561dd"/>
<rect x="232.3" y="475.37" width="33.5" height="3.60" fill="#f7755d"/>
<rect x="232.3" y="478.67" width="33.5" height="6.90" fill="#aa9e31"/>
<rect x="232.3" y="485.27" width="33.5" height="3.60" fill="#f7755d"/>
<rect x="232.3" y="488.57" width="33.5" height="3.60" fill="#7eaa31"/>
<rect x="232.3" y="491.88" width="33.5" height="3.60" fill="#f7755d"/>
<rect x="232.3" y="495.18" width="33.5" height="10.20" fill="#ce9032"/>
<rect x="232.3" y="505.08" width="33.5" height="6.90" fill="#36ada4"/>
<rect x="232.3" y="511.68" width="33.5" height="3.60" fill="#3db535"/>
<rect x="232.3" y="514.98" width="33.5" height="3.60" fill="#39a7d0"/>
<rect x="232.3" y="518.28" width="33.5" height="3.60" fill="#ce9032"/>
<rect x="232.3" y="521.58" width="33.5" height="3.60" fill="#32b166"/>
<rect x="232.3" y="524.89" width="33.5" height="6.90" fill="#aa9e31"/>
<rect x="232.3" y="531.49" width="33.5" height="20.11" fill="#ce9032"/>
<rect x="232.3" y="551.29" width="33.5" height="3.60" fill="#39a7d0"/>
<rect x="232.3" y="554.60" width="33.5" height="3.60" fill="#7eaa31"/>
<rect x="232.3" y="557.90" width="33.5" height="3.60" fill="#39a7d0"/>
<rect x="232.3" y="561.20" width="33.5" height="6.90" fill="#3db535"/>
<rect x="232.3" y="567.80" width="33.5" height="3.60" fill="#7eaa31"/>
<rect x="232.3" y="571.10" width="33.5" height="6.90" fill="#32b166"/>
<rect x="232.3" y="577.70" width="33.5" height="6.90" fill="#3db535"/>
<rect x="232.3" y="584.31" width="33.5" height="6.90" fill="#32b166"/>
<rect x="232.3" y="590.91" width="33.5" height="3.60" fill="#7eaa31"/>
<rect x="232.3" y="594.21" width="33.5" height="3.60" fill="#f7755d"/>
<rect x="232.3" y="597.51" width="33.5" height="10.20" fill="#ce9032"/>
<rect x="232.3" y="607.41" width="33.5" height="3.60" fill="#32b166"/>
<rect x="232.3" y="610.71" width="33.5" height="3.60" fill="#ce9032"/>
<rect x="232.3" y="614.02" width="33.5" height="3.60" fill="#f7755d"/>
<rect x="232.3" y="617.32" width="33.5" height="6.90" fill="#f561dd"/>
<rect x="232.3" y="623.92" width="33.5" height="10.20" fill="#ce9032"/>
<rect x="232.3" y="633.82" width="33.5" height="3.60" fill="#aa9e31"/>
<rect x="232.3" y="637.12" width="33.5" height="6.90" fill="#ce9032"/>
<rect x="232.3" y="643.73" width="33.5" height="3.60" fill="#32b166"/>
<rect x="232.3" y="647.03" width="33.5" height="23.41" fill="#ce9032"/>
<rect x="232.3" y="670.13" width="33.5" height="3.60" fill="#7eaa31"/>
<rect x="232.3" y="673.43" width="33.5" height="3.60" fill="#32b166"/>
<rect x="232.3" y="676.74" width="33.5" height="6.90" fill="#ce9032"/>
<rect x="232.3" y="683.34" width="33.5" height="6.90" fill="#f7755d"/>
<rect x="232.3" y="689.94" width="33.5" height="3.60" fill="#3db535"/>
<rect x="232.3" y="693.24" width="33.5" height="6.90" fill="#f7755d"/>
<rect x="232.3" y="699.84" width="33.5" height="3.60" fill="#3db535"/>
<rect x="232.3" y="703.14" width="33.5" height="6.90" fill="#aa9e31"/>
<rect x="232.3" y="709.75" width="33.5" height="26.71" fill="#ce9032"/>
<rect x="232.3" y="736.16" width="33.5" height="3.60" fill="#39a7d0"/>
<rect x="232.3" y="739.46" width="33.5" height="6.90" fill="#f7755d"/>
<rect x="232.3" y="746.06" width="33.5" height="3.60" fill="#f77189"/>
<rect x="232.3" y="749.36" width="33.5" height="3.60" fill="#3db535"/>
<rect x="232.3" y="752.66" width="33.5" height="6.90" fill="#ce9032"/>
<rect x="232.3" y="759.26" width="33.5" height="3.60" fill="#3db535"/>
<rect x="232.3" y="762.56" width="33.5" height="3.60" fill="#ce9032"/>
<rect x="232.3" y="765.87" width="33.5" height="6.90" fill="#aa9e31"/>
<rect x="232.3" y="772.47" width="33.5" height="26.71" fill="#ce9032"/>
<rect x="232.3" y="798.88" width="33.5" height="3.60" fill="#32b166"/>
<rect x="232.3" y="802.18" width="33.5" height="6.90" fill="#ce9032"/>
<rect x="232.3" y="808.78" width="33.5" height="6.90" fill="#3db535"/>
<rect x="232.3" y="815.38" width="33.5" height="16.81" fill="#ce9032"/>
<rect x="232.3" y="831.89" width="33.5" height="3.60" fill="#32b166"/>
<rect x="232.3" y="835.19" width="33.5" height="6.90" fill="#ce9032"/>
<rect x="232.3" y="841.79" width="33.5" height="3.60" fill="#39a7d0"/>
<rect x="232.3" y="845.09" width="33.5" height="3.60" fill="#ce9032"/>
<rect x="232.3" y="848.39" width="33.5" height="3.60" fill="#32b166"/>
<rect x="232.3" y="851.69" width="33.5" height="3.60" fill="#39a7d0"/>
<rect x="232.3" y="854.99" width="33.5" height="16.81" fill="#ce9032"/>
<rect x="232.3" y="871.50" width="33.5" height="6.90" fill="#32b166"/>
<rect x="232.3" y="878.10" width="33.5" height="3.60" fill="#ce9032"/>
<rect x="232.3" y="881.40" width="33.5" height="10.20" fill="#32b166"/>
<rect x="232.3" y="891.31" width="33.5" height="6.90" fill="#ce9032"/>
<rect x="232.3" y="897.91" width="33.5" height="3.60" fill="#39a7d0"/>
<rect x="232.3" y="901.21" width="33.5" height="3.60" fill="#f7755d"/>
<rect x="232.3" y="904.51" width="33.5" height="3.60" fill="#32b166"/>
<rect x="232.3" y="907.81" width="33.5" height="26.71" fill="#ce9032"/>
<rect x="232.3" y="934.22" width="33.5" height="6.90" fill="#aa9e31"/>
<rect x="232.3" y="940.82" width="33.5" height="3.60" fill="#32b166"/>
<rect x="232.3" y="944.12" width="33.5" height="13.50" fill="#ce9032"/>
<rect x="232.3" y="957.33" width="33.5" height="3.60" fill="#39a7d0"/>
<rect x="232.3" y="960.63" width="33.5" height="3.60" fill="#f77189"/>
<rect x="232.3" y="963.93" width="33.5" height="3.60" fill="#32b166"/>
<rect x="232.3" y="967.23" width="33.5" height="3.60" fill="#f77189"/>
<rect x="232.3" y="970.53" width="33.5" height="6.90" fill="#f7755d"/>
<rect x="232.3" y="977.13" width="33.5" height="3.60" fill="#ce9032"/>
<rect x="232.3" y="980.44" width="33.5" height="3.60" fill="#3db535"/>
<rect x="232.3" y="983.74" width="33.5" height="6.90" fill="#f7755d"/>
<rect x="232.3" y="990.34" width="33.5" height="3.60" fill="#32b166"/>
<rect x="232.3" y="993.64" width="33.5" height="6.90" fill="#f7755d"/>
<rect x="232.3" y="1000.24" width="33.5" height="3.60" fill="#ce9032"/>
<rect x="232.3" y="1003.54" width="33.5" height="3.60" fill="#3db535"/>
<rect x="232.3" y="1006.84" width="33.5" height="13.50" fill="#ce9032"/>
<rect x="232.3" y="1020.05" width="33.5" height="6.90" fill="#32b166"/>
<rect x="232.3" y="1026.65" width="33.5" height="3.60" fill="#ce9032"/>
<rect x="232.3" y="1029.95" width="33.5" height="6.90" fill="#f7755d"/>
<rect x="232.3" y="1036.55" width="33.5" height="10.20" fill="#ce9032"/>
<rect x="232.3" y="1046.46" width="33.5" height="3.60" fill="#aa9e31"/>
<rect x="232.3" y="1049.76" width="33.5" height="6.90" fill="#f7755d"/>
<rect x="232.3" y="1056.36" width="33.5" height="3.60" fill="#7eaa31"/>
<rect x="232.3" y="1059.66" width="33.5" height="3.60" fill="#36ada4"/>
<rect x="232.3" y="1062.96" width="33.5" height="3.60" fill="#aa9e31"/>
<rect x="232.3" y="1066.26" width="33.5" height="3.60" fill="#ce9032"/>
<rect x="232.3" y="1069.57" width="33.5" height="10.20" fill="#32b166"/>
<rect x="232.3" y="1079.47" width="33.5" height="3.60" fill="#36ada4"/>
<rect x="232.3" y="1082.77" width="33.5" height="3.60" fill="#a48cf4"/>
<rect x="232.3" y="1086.07" width="33.5" height="6.90" fill="#32b166"/>
<rect x="232.3" y="1092.67" width="33.5" height="3.60" fill="#f561dd"/>
<rect x="232.3" y="1095.97" width="33.5" height="6.90" fill="#32b166"/>
<rect x="232.3" y="1102.58" width="33.5" height="6.90" fill="#ce9032"/>
<rect x="232.3" y="1109.18" width="33.5" height="3.60" fill="#32b166"/>
<rect x="232.3" y="1112.48" width="33.5" height="23.41" fill="#ce9032"/>
<rect x="232.3" y="1135.59" width="33.5" height="6.90" fill="#32b166"/>
<rect x="232.3" y="1142.19" width="33.5" height="6.90" fill="#ce9032"/>
<rect x="232.3" y="1148.79" width="33.5" height="3.60" fill="#aa9e31"/>
<rect x="232.3" y="1152.09" width="33.5" height="23.41" fill="#ce9032"/>
<path fill="none" stroke="#6a6a6a" stroke-width="0.8" d="M200.0 787.3H198.3V790.6H200.0M200.0 800.5H196.2V803.8H200.0M200.0 850.0H195.1V853.3H200.0M200.0 592.6H194.3V595.9H200.0M200.0 463.8H193.8V467.1H200.0M200.0 734.5H193.8V737.8H200.0M200.0 741.1H193.8V744.4H200.0M200.0 863.2H193.8V866.5H200.0M200.0 919.4H193.8V922.7H200.0M200.0 586.0H193.5V589.3H200.0M200.0 876.5H193.0V879.8H200.0M200.0 599.2H193.0V602.5H200.0M200.0 605.8H192.6V609.1H200.0M200.0 975.5H192.6V978.8H200.0M200.0 1001.9H192.6V1005.2H200.0M200.0 1034.9H192.6V1038.2H200.0M200.0 764.2H192.2V767.5H200.0M200.0 836.8H191.6V840.1H200.0M200.0 889.7H191.6V893.0H200.0M200.0 826.9H191.5V830.2H200.0M200.0 576.1H191.2V579.4H200.0M200.0 820.3H190.9V823.6H200.0M200.0 619.0H190.9V622.3H200.0M200.0 612.4H190.8V615.7H200.0M200.0 859.9H190.5V864.9H193.8M190.5 862.4H190.4V869.8H200.0M200.0 724.6H190.3V727.9H200.0M200.0 896.3H190.2V899.6H200.0M200.0 1025.0H190.1V1028.3H200.0M200.0 671.8H190.0V675.1H200.0M200.0 642.1H189.6V645.4H200.0M189.6 643.7H189.6V648.7H200.0M200.0 731.2H189.6V736.2H193.8M200.0 846.7H188.9V851.7H195.1M200.0 652.0H188.8V655.3H200.0M200.0 549.6H188.8V552.9H200.0M200.0 661.9H188.5V665.2H200.0M200.0 1140.5H188.5V1143.8H200.0M200.0 698.2H188.0V701.5H200.0M188.8 551.3H188.0V556.2H200.0M200.0 747.7H188.0V751.0H200.0M193.8 465.5H187.9V470.4H200.0M200.0 1031.6H187.8V1036.6H192.6M200.0 714.7H187.6V718.0H200.0M200.0 770.8H187.5V774.1H200.0M200.0 995.3H187.5V998.6H200.0M200.0 784.0H187.3V789.0H198.3M200.0 777.4H187.2V780.7H200.0M200.0 1011.8H187.2V1015.1H200.0M189.6 646.2H186.9V653.6H188.8M191.6 891.3H186.9V897.9H190.2M190.9 822.0H186.8V828.6H191.5M200.0 658.6H186.8V663.5H188.5M200.0 721.3H186.6V726.3H190.3M200.0 582.7H186.6V587.6H193.5M200.0 681.7H186.4V685.0H200.0M200.0 985.4H186.0V988.7H200.0M200.0 807.1H185.8V810.4H200.0M200.0 450.6H185.7V453.9H200.0M200.0 968.9H185.2V972.2H200.0M200.0 843.4H184.9V849.2H188.9M190.8 614.0H184.7V620.6H190.9M200.0 1018.4H184.3V1021.7H200.0M200.0 833.5H184.3V838.5H191.6M200.0 906.2H183.9V909.5H200.0M200.0 688.3H183.7V691.6H200.0M186.6 585.1H183.6V594.2H194.3M192.6 1003.5H183.3V1008.5H200.0M189.6 733.7H183.1V742.8H193.8M200.0 856.6H183.1V866.1H190.4M184.9 846.3H183.1V861.4H183.1M200.0 959.0H183.0V962.3H200.0M200.0 955.7H183.0V960.6H183.0M200.0 678.4H182.7V683.3H186.4M187.2 779.1H182.7V786.5H187.3M192.2 765.9H182.6V772.5H187.5M200.0 635.5H182.3V638.8H200.0M182.3 637.1H182.3V649.9H186.9M200.0 694.9H182.1V699.8H188.0M186.8 825.3H182.0V836.0H184.3M200.0 668.5H181.6V673.4H190.0M200.0 754.3H181.4V757.6H200.0M193.0 600.8H181.1V607.4H192.6M185.2 970.5H180.9V977.1H192.6M200.0 902.9H180.8V907.8H183.9M186.8 661.1H180.4V671.0H181.6M190.1 1026.7H180.3V1034.1H187.8M200.0 813.7H179.6V817.0H200.0M200.0 992.0H179.3V996.9H187.5M200.0 704.8H178.9V708.1H200.0M200.0 982.1H178.9V987.0H186.0M183.1 738.2H178.8V749.4H188.0M191.2 577.7H178.6V589.7H183.6M182.3 643.5H178.6V666.0H180.4M200.0 490.2H178.5V493.5H200.0M183.7 689.9H178.5V697.4H182.1M186.9 894.6H178.3V905.3H180.8M200.0 536.4H178.2V539.7H200.0M178.8 743.8H177.6V756.0H181.4M200.0 1048.1H177.2V1051.4H200.0M200.0 460.5H177.2V467.9H187.9M200.0 378.0H177.1V381.3H200.0M187.6 716.3H177.0V723.8H186.6M200.0 952.4H176.9V958.2H183.0M178.5 693.7H176.8V706.4H178.9M181.1 604.1H176.5V617.3H184.7M200.0 562.8H176.5V566.1H200.0M200.0 886.4H176.4V900.0H178.3M177.0 720.1H176.2V749.9H177.6M182.7 680.9H176.0V700.0H176.8M200.0 912.8H175.8V916.1H200.0M179.6 815.4H175.6V830.6H182.0M178.6 583.7H175.5V610.7H176.5M200.0 526.5H175.2V529.8H200.0M178.6 654.8H175.2V690.5H176.0M200.0 543.0H175.1V546.3H200.0M187.2 1013.4H174.8V1020.0H184.3M200.0 945.8H174.8V949.1H200.0M182.6 769.2H174.1V782.8H182.7M175.6 823.0H173.3V853.9H183.1M200.0 760.9H173.2V776.0H174.1M200.0 625.6H172.8V628.9H200.0M180.9 973.8H172.7V984.6H178.9M196.2 802.2H172.6V808.8H185.8M183.3 1006.0H172.6V1016.7H174.8M200.0 632.2H172.6V672.6H175.2M200.0 873.2H172.5V878.1H193.0M172.6 1011.4H172.5V1030.4H180.3M200.0 480.3H171.6V483.6H200.0M174.8 947.4H171.5V955.3H176.9M172.7 979.2H171.4V994.5H179.3M175.8 914.4H170.9V921.0H193.8M172.8 627.2H170.9V652.4H172.6M173.2 768.4H170.1V793.9H200.0M200.0 457.2H169.3V464.2H177.2M176.5 564.5H169.3V569.5H200.0M200.0 939.2H169.2V942.5H200.0M200.0 1170.2H168.6V1173.5H200.0M200.0 411.0H167.9V414.3H200.0M170.9 917.7H167.8V926.0H200.0M176.2 735.0H167.8V781.2H170.1M172.6 805.5H167.6V838.4H173.3M200.0 559.5H167.0V567.0H169.3M200.0 965.6H166.9V986.8H171.4M200.0 486.9H166.6V491.9H178.5M166.9 976.2H166.5V1020.9H172.5M171.6 482.0H166.4V489.4H166.6M175.5 597.2H166.4V639.8H170.9M200.0 797.2H166.4V822.0H167.6M200.0 883.1H166.0V893.2H176.4M172.5 875.6H166.0V888.1H166.0M200.0 523.2H165.8V528.2H175.2M178.2 538.1H165.5V544.7H175.1M200.0 371.4H165.3V374.7H200.0M200.0 572.8H165.2V618.5H166.4M200.0 447.3H164.6V452.3H185.7M200.0 935.9H164.6V940.8H169.2M200.0 401.1H164.4V404.4H200.0M200.0 384.6H164.0V387.9H200.0M167.8 758.1H163.9V809.6H166.4M200.0 1137.2H163.9V1142.2H188.5M200.0 1117.4H163.8V1120.7H200.0M200.0 1041.5H163.7V1044.8H200.0M200.0 533.1H162.7V541.4H165.5M164.6 938.3H162.5V951.3H171.5M164.6 449.8H162.2V460.7H169.3M165.2 595.6H162.2V711.4H200.0M162.2 653.5H162.2V783.8H163.9M200.0 391.2H161.9V394.5H200.0M162.5 944.8H161.5V998.5H166.5M164.0 386.2H161.5V392.8H161.9M200.0 1127.3H161.5V1130.6H200.0M163.7 1043.2H159.6V1049.8H177.2M200.0 473.7H159.2V477.0H200.0M159.2 475.4H159.2V485.7H166.4M200.0 1110.8H158.6V1114.1H200.0M200.0 496.8H158.2V500.1H200.0M200.0 1107.5H157.7V1112.5H158.6M161.5 971.7H157.2V1046.5H159.6M167.0 563.3H157.0V718.7H162.2M200.0 368.1H156.5V373.0H165.3M157.0 641.0H156.0V881.9H166.0M200.0 437.4H155.3V440.7H200.0M200.0 305.4H155.3V308.7H200.0M200.0 444.0H155.2V455.3H162.2M200.0 1061.3H155.2V1064.6H200.0M156.0 761.4H155.2V921.8H167.8M165.8 525.7H154.1V537.3H162.7M200.0 1150.4H153.8V1153.7H200.0M200.0 1124.0H153.7V1129.0H161.5M200.0 932.6H153.6V1009.1H157.2M200.0 516.6H153.3V519.9H200.0M200.0 506.7H153.3V510.0H200.0M200.0 417.6H153.0V420.9H200.0M200.0 361.5H152.4V364.8H200.0M159.2 480.5H152.2V498.5H158.2M200.0 929.3H151.8V970.8H153.6M153.3 508.4H151.6V513.3H200.0M200.0 407.7H150.8V412.6H167.9M164.4 402.7H150.8V410.2H150.8M153.8 1152.1H150.8V1157.0H200.0M150.8 1154.6H150.8V1160.3H200.0M188.0 553.8H150.7V841.6H155.2M154.1 531.5H150.7V697.7H150.7M157.7 1110.0H148.9V1119.1H163.8M153.3 518.3H148.8V614.6H150.7M177.1 379.6H148.4V389.5H161.5M200.0 288.9H148.0V292.2H200.0M200.0 354.9H147.9V358.2H200.0M155.3 439.1H147.6V449.6H155.2M200.0 312.0H147.0V315.3H200.0M148.8 566.4H147.0V950.0H151.8M200.0 1071.2H146.4V1074.5H200.0M153.7 1126.5H145.8V1133.9H200.0M200.0 1067.9H144.9V1072.9H146.4M150.8 406.5H143.9V419.3H153.0M147.9 356.5H143.4V363.1H152.4M200.0 338.4H143.1V341.7H200.0M200.0 1166.9H142.9V1171.9H168.6M200.0 279.0H142.8V282.3H200.0M151.6 510.9H142.6V758.2H147.0M200.0 503.4H142.6V634.5H142.6M200.0 1058.0H138.6V1063.0H155.2M155.3 307.0H138.1V313.6H147.0M143.9 412.9H137.0V424.2H200.0M152.2 489.5H136.8V569.0H142.6M147.6 444.3H136.8V529.2H136.8M200.0 1163.6H136.5V1169.4H142.9M138.6 1060.5H136.2V1070.4H144.9M200.0 1147.1H135.9V1157.5H150.8M200.0 434.1H135.7V486.8H136.8M200.0 430.8H135.7V460.5H135.7M200.0 302.1H135.4V310.3H138.1M145.8 1130.2H135.3V1139.7H163.9M200.0 427.5H134.7V445.6H135.7M200.0 351.6H133.7V359.8H143.4M200.0 325.2H133.0V328.5H200.0M137.0 418.5H132.7V436.6H134.7M156.5 370.6H131.8V384.6H148.4M200.0 1077.8H131.2V1081.1H200.0M200.0 1091.0H130.9V1094.3H200.0M148.9 1114.5H129.9V1135.0H135.3M200.0 331.8H128.9V335.1H200.0M200.0 275.7H126.5V280.6H142.8M200.0 1087.7H126.3V1092.7H130.9M135.9 1152.3H126.0V1166.5H136.5M200.0 1104.2H125.9V1124.8H129.9M200.0 285.6H124.4V290.5H148.0M143.1 340.0H124.2V345.0H200.0M133.7 355.7H123.1V377.6H131.8M200.0 298.8H122.7V306.2H135.4M200.0 1054.7H121.9V1065.4H136.2M200.0 397.8H121.4V427.5H132.7M123.1 366.6H121.4V412.7H121.4M200.0 348.3H121.4V389.7H121.4M124.2 342.5H121.4V369.0H121.4M125.9 1114.5H120.7V1159.4H126.0M200.0 295.5H120.2V302.5H122.7M200.0 318.6H119.1V321.9H200.0M131.2 1079.5H118.5V1084.4H200.0M121.9 1060.1H117.7V1081.9H118.5M128.9 333.4H117.5V355.7H121.4M133.0 326.8H117.5V344.6H117.5M200.0 272.4H117.0V278.1H126.5M119.1 320.2H116.7V335.7H117.5M120.2 299.0H116.7V328.0H116.7M124.4 288.0H110.2V313.5H116.7M200.0 1100.9H109.0V1137.0H120.7M200.0 1097.6H109.0V1118.9H109.0M117.7 1071.0H108.7V1090.2H126.3M117.0 275.2H105.6V300.7H110.2M108.7 1080.6H100.9V1108.3H109.0M200.0 269.1H94.8V288.0H105.6M200.0 265.8H94.0V278.5H94.8M94.0 272.1H92.0V1094.4H100.9"/>
<text x="800.20" y="1292.20" font-size="26.50" text-anchor="middle" fill="#000">Compound</text>
<text transform="translate(1427.80 742.00) rotate(-90)" font-size="26.5" text-anchor="middle" fill="#000">ASV Family</text>
<text x="-5.50" y="1411.20" font-size="67.00" text-anchor="start" fill="#000">B</text>
<text x="615.90" y="1395.70" font-size="26.50" text-anchor="start" textLength="344.50" lengthAdjust="spacingAndGlyphs" fill="#000">Clustered Production SMIPPs</text>
<linearGradient id="gB" x1="0" y1="0" x2="0" y2="1"><stop offset="0.0000" stop-color="#faebdd"/><stop offset="0.0312" stop-color="#f9e0cd"/><stop offset="0.0625" stop-color="#f8d4bc"/><stop offset="0.0938" stop-color="#f7c9aa"/><stop offset="0.1250" stop-color="#f6bc99"/><stop offset="0.1562" stop-color="#f6b089"/><stop offset="0.1875" stop-color="#f6a37a"/><stop offset="0.2188" stop-color="#f5966c"/><stop offset="0.2500" stop-color="#f58860"/><stop offset="0.2812" stop-color="#f47a54"/><stop offset="0.3125" stop-color="#f26b49"/><stop offset="0.3438" stop-color="#f05c42"/><stop offset="0.3750" stop-color="#ec4c3e"/><stop offset="0.4062" stop-color="#e73d3f"/><stop offset="0.4375" stop-color="#df2f44"/><stop offset="0.4688" stop-color="#d62449"/><stop offset="0.5000" stop-color="#cb1b4f"/><stop offset="0.5312" stop-color="#bf1654"/><stop offset="0.5625" stop-color="#b21758"/><stop offset="0.5938" stop-color="#a4195b"/><stop offset="0.6250" stop-color="#971c5b"/><stop offset="0.6562" stop-color="#891e5b"/><stop offset="0.6875" stop-color="#7b1f59"/><stop offset="0.7188" stop-color="#6e1f57"/><stop offset="0.7500" stop-color="#611f53"/><stop offset="0.7812" stop-color="#541e4e"/><stop offset="0.8125" stop-color="#481c48"/><stop offset="0.8438" stop-color="#3c1a42"/><stop offset="0.8750" stop-color="#30173a"/><stop offset="0.9062" stop-color="#241432"/><stop offset="0.9375" stop-color="#180f29"/><stop offset="0.9688" stop-color="#0d0a21"/><stop offset="1.0000" stop-color="#03051a"/></linearGradient>
<rect x="87.2" y="1400.4" width="112.8" height="227.7" fill="url(#gB)"/>
<path d="M200.0 1628.10h4.3" stroke="#222" stroke-width="0.9"/>
<text x="207.60" y="1631.40" font-size="9.30" text-anchor="start" textLength="14.74" lengthAdjust="spacingAndGlyphs">0.0</text>
<path d="M200.0 1579.91h4.3" stroke="#222" stroke-width="0.9"/>
<text x="207.60" y="1583.21" font-size="9.30" text-anchor="start" textLength="14.74" lengthAdjust="spacingAndGlyphs">0.2</text>
<path d="M200.0 1531.72h4.3" stroke="#222" stroke-width="0.9"/>
<text x="207.60" y="1535.02" font-size="9.30" text-anchor="start" textLength="14.74" lengthAdjust="spacingAndGlyphs">0.4</text>
<path d="M200.0 1483.53h4.3" stroke="#222" stroke-width="0.9"/>
<text x="207.60" y="1486.83" font-size="9.30" text-anchor="start" textLength="14.74" lengthAdjust="spacingAndGlyphs">0.6</text>
<path d="M200.0 1435.34h4.3" stroke="#222" stroke-width="0.9"/>
<text x="207.60" y="1438.64" font-size="9.30" text-anchor="start" textLength="14.74" lengthAdjust="spacingAndGlyphs">0.8</text>
<path fill="none" stroke="#6a6a6a" stroke-width="0.9" d="M402.8 1627.9V1533.6H421.9V1627.9M460.0 1627.9V1516.4H479.0V1627.9M440.9 1627.9V1506.3H469.5V1516.4M412.3 1533.6V1500.4H455.2V1506.3M555.3 1627.9V1523.3H574.3V1627.9M841.1 1627.9V1577.7H860.2V1627.9M822.1 1627.9V1572.4H850.7V1577.7M803.0 1627.9V1567.4H836.4V1572.4M784.0 1627.9V1563.4H819.7V1567.4M879.3 1627.9V1562.4H898.3V1627.9M801.8 1563.4V1554.2H888.8V1562.4M993.6 1627.9V1569.6H1012.7V1627.9M974.5 1627.9V1562.4H1003.1V1569.6M955.5 1627.9V1558.5H988.8V1562.4M936.4 1627.9V1556.6H972.2V1558.5M917.4 1627.9V1551.5H954.3V1556.6M845.3 1554.2V1545.3H935.8V1551.5M764.9 1627.9V1536.3H890.6V1545.3M726.8 1627.9V1541.5H745.9V1627.9M736.3 1541.5V1533.6H827.7V1536.3M707.7 1627.9V1531.5H782.0V1533.6M688.7 1627.9V1529.6H744.9V1531.5M669.6 1627.9V1526.4H716.8V1529.6M650.6 1627.9V1523.5H693.2V1526.4M631.5 1627.9V1523.3H671.9V1523.5M612.5 1627.9V1519.3H651.7V1523.3M593.4 1627.9V1511.5H632.1V1519.3M564.8 1523.3V1509.3H612.7V1511.5M536.2 1627.9V1505.3H588.8V1509.3M517.2 1627.9V1505.2H562.5V1505.3M498.1 1627.9V1496.3H539.8V1505.2M433.8 1500.4V1491.4H519.0V1496.3M383.8 1627.9V1481.6H476.4V1491.4M364.7 1627.9V1476.5H430.1V1481.6M345.6 1627.9V1473.0H397.4V1476.5M326.6 1627.9V1471.4H371.5V1473.0M1069.8 1627.9V1506.5H1088.9V1627.9M1127.0 1627.9V1519.3H1146.1V1627.9M1165.1 1627.9V1499.6H1184.2V1627.9M1136.5 1519.3V1491.5H1174.7V1499.6M1108.0 1627.9V1489.6H1155.6V1491.5M1079.4 1506.5V1484.5H1131.8V1489.6M1050.8 1627.9V1474.5H1105.6V1484.5M1031.7 1627.9V1467.3H1078.2V1474.5M349.1 1471.4V1458.6H1054.9V1467.3M307.5 1627.9V1454.6H702.0V1458.6M1222.3 1627.9V1512.3H1241.4V1627.9M1203.2 1627.9V1466.3H1231.8V1512.3M1260.4 1627.9V1456.3H1279.5V1627.9M1217.5 1466.3V1435.2H1269.9V1456.3M504.8 1454.6V1411.4H1243.7V1435.2"/>
<rect x="298.00" y="1644.30" width="991.00" height="911.20" fill="#e8805e"/>
<g transform="translate(298.00 1645.951) scale(19.05769 3.30145)" fill="none" stroke-width="1.3">
<path stroke="#f6bb97" d="M0 0h1M27 0h1M26 1h1M3 2h1M22 2h1M47 2h2M25 3h1M2 4h1M50 4h1M2 5h1M30 5h1M49 5h1M30 6h1M47 12h1M26 14h1M14 19h1M5 27h1M0 28h1M2 28h1M9 28h1M25 28h1M36 28h1M39 28h1M13 29h1M15 29h1M22 29h2M24 30h1M20 31h1M26 31h1M26 32h1M28 32h1M42 32h1M10 33h1M22 33h2M5 35h1M11 35h1M27 35h1M33 35h1M35 35h1M39 35h1M29 36h1M29 37h2M32 37h1M34 37h1M13 38h1M16 38h1M25 38h1M36 39h1M7 41h1M22 41h1M23 42h1M26 42h2M14 43h1M2 44h1M18 44h1M24 44h1M4 45h1M21 45h1M25 45h1M3 46h1M9 46h1M25 46h1M37 46h1M3 47h1M7 47h1M31 47h1M27 48h1M35 48h1M32 49h1M30 50h1M35 51h1M9 52h1M16 52h1M30 52h1M26 53h2M29 53h2M13 54h1M26 54h1M30 54h1M12 55h1M27 55h1M31 55h1M35 55h1M18 56h1M22 56h1M29 56h1M35 56h2M7 57h1M22 57h1M14 58h1M16 58h1M44 58h1M7 59h1M26 59h1M51 59h1M9 60h1M27 60h1M42 60h1M26 61h1M18 62h1M21 62h1M24 62h1M26 62h1M36 62h1M40 62h1M9 63h1M35 63h1M44 64h1M48 64h1M14 65h1M31 65h1M39 65h1M43 66h1M0 67h1M6 67h1M23 67h1M33 67h1M35 67h1M8 68h2M15 68h1M30 69h1M51 69h1M2 70h1M24 70h1M26 70h1M31 70h1M34 70h1M22 71h1M30 71h1M14 72h1M27 73h1M26 74h1M29 74h1M34 74h2M16 76h1M24 76h1M35 76h1M10 78h1M15 78h1M17 78h1M29 79h2M32 79h1M8 80h1M10 80h1M15 80h1M4 81h1M0 82h1M8 82h1M11 82h1M13 82h1M22 82h1M34 82h2M39 82h2M0 83h1M23 83h1M27 83h1M43 83h1M45 83h1M2 84h1M18 84h1M32 84h1M40 84h1M45 84h1M3 85h1M8 85h1M16 85h1M41 85h1M46 85h1M6 86h1M14 86h1M23 86h2M11 87h1M28 87h1M31 87h2M4 88h1M22 88h1M26 88h1M51 89h1M16 90h1M23 90h1M32 90h1M46 90h1M14 91h1M22 91h1M26 92h1M35 92h1M46 92h1M23 93h1M36 93h1M26 94h1M4 95h1M16 95h1M22 95h1M24 95h1M14 96h1M31 96h1M45 96h1M4 97h1M7 97h1M4 98h2M4 99h1M28 99h2M14 100h1M28 101h1M3 102h1M25 103h1M2 104h1M42 105h1M17 106h1M35 106h1M14 107h1M26 107h1M51 107h1M1 108h1M5 109h1M38 109h1M12 110h1M5 111h1M22 112h1M19 113h1M13 114h1M48 114h1M9 115h1M46 115h1M7 116h1M14 116h1M29 116h1M35 116h1M9 117h1M45 117h1M3 119h1M31 119h1M35 119h1M46 119h1M11 120h1M14 120h1M17 120h1M35 120h1M44 120h1M46 120h1M2 121h1M13 121h1M40 121h1M15 124h1M26 124h1M30 124h1M32 124h1M4 125h1M11 125h1M14 125h1M3 126h1M27 126h1M30 126h1M39 127h1M13 128h1M31 129h1M4 131h1M6 131h1M12 131h1M19 131h1M22 131h1M25 131h1M14 133h1M29 133h1M26 134h1M30 134h1M13 135h1M12 136h1M24 138h1M2 139h1M26 139h1M45 139h1M14 140h1M29 140h1M3 141h1M18 141h1M26 141h1M35 141h1M20 142h1M3 143h1M26 143h1M42 144h1M11 145h1M24 145h1M31 145h1M38 145h1M10 146h2M22 146h1M43 146h1M7 147h1M12 148h1M26 148h1M14 149h1M17 149h1M21 149h1M24 149h1M7 150h1M13 150h1M26 150h1M22 151h1M3 152h2M17 152h1M28 152h1M38 152h1M17 154h2M41 154h1M10 155h2M3 160h1M31 161h1M3 162h1M11 162h1M0 163h1M2 163h1M14 163h1M24 163h1M3 164h1M10 164h1M26 164h1M37 164h1M10 165h1M28 165h1M3 166h1M17 167h1M4 169h1M14 170h1M11 171h1M28 171h1M11 173h1M29 173h1M5 174h1M12 174h1M14 174h1M28 174h1M31 174h1M45 174h1M2 175h1M17 175h1M38 175h1M43 175h1M2 176h1M4 176h1M16 176h2M25 176h1M2 177h1M42 177h1M12 178h1M24 178h1M13 179h1M39 179h1M42 179h1M41 180h1M2 181h1M8 181h1M28 181h1M13 182h1M15 182h1M29 182h1M13 183h1M27 184h1M30 184h1M41 184h1M7 185h1M22 185h1M2 186h1M11 186h1M31 186h1M36 186h1M24 187h1M29 187h1M38 187h1M29 188h1M26 189h1M44 189h1M14 190h1M28 190h1M31 190h1M35 190h1M16 191h1M12 193h1M39 193h1M43 196h1M10 197h1M13 197h1M43 197h1M18 199h1M10 200h2M43 200h1M19 202h1M26 202h1M26 203h1M31 203h1M16 204h1M43 204h1M26 205h1M13 206h1M2 208h1M13 208h1M13 213h1M14 214h1M14 215h1M29 217h1M36 217h1M26 220h1M31 220h1M16 222h1M30 225h1M12 227h1M14 228h1M47 228h1M43 229h1M13 230h2M17 230h1M28 230h1M13 232h1M17 232h1M11 233h1M14 234h1M14 235h1M14 237h1M26 237h1M30 238h1M10 239h1M4 242h1M11 243h1M14 243h1M13 244h1M13 247h1M30 247h1M3 248h1M26 248h1M29 248h1M33 248h1M37 248h1M22 249h1M35 249h1M46 249h1M19 250h1M21 250h1M27 250h2M39 250h1M45 250h1M8 251h1M1 252h2M12 252h1M23 252h1M26 252h2M13 253h1M27 253h1M4 254h1M8 254h1M13 254h1M17 254h1M19 254h1M7 255h1M48 255h2M3 256h1M8 256h1M12 256h1M25 256h1M35 256h1M49 256h1M5 257h1M12 257h1M24 257h1M26 257h2M30 257h1M35 257h1M46 257h1M49 257h1M24 258h2M32 258h1M43 258h1M6 259h1M14 259h1M40 259h1M46 259h1M4 260h1M21 260h1M37 260h1M40 260h1M20 261h2M37 261h1M39 261h1M24 262h1M36 262h1M41 262h1M47 262h1M1 263h1M13 263h1M17 263h1M20 263h1M30 263h1M0 264h1M14 264h1M17 264h1M20 264h1M3 265h1M5 265h1M17 265h1M19 265h2M24 265h1M30 265h1M47 265h1M2 266h1M4 266h1M6 266h2M10 266h1M21 266h2M26 266h3M35 266h1M49 266h1M8 267h1M13 267h1M16 267h1M24 267h1M38 267h1M3 268h1M36 268h1M40 268h1M44 268h1M1 269h1M9 269h2M15 269h2M32 269h1M36 269h1M2 270h1M15 270h1M22 270h1M34 270h1M2 271h1M8 271h1M10 271h2M27 271h1M47 271h1M51 271h1M1 272h1M6 272h1M14 272h1M25 272h1M33 272h1M41 272h1M50 272h2M5 273h1M11 273h2M16 273h2M50 273h1M12 274h1M17 274h1M22 274h1M26 274h1M34 274h1M42 274h1M7 275h1M17 275h1M26 275h1M37 275h1M41 275h1M44 275h2"/>
<path stroke="#f69b71" d="M1 0h1M31 0h1M27 2h1M28 3h2M21 7h1M3 8h1M20 9h1M20 11h1M34 11h1M20 12h1M20 13h1M30 14h1M16 16h1M2 17h1M14 18h1M18 18h1M12 20h1M14 23h1M35 27h1M14 28h1M14 29h1M16 29h1M19 29h1M33 29h1M26 30h1M9 31h1M17 31h1M33 31h1M15 32h1M31 32h1M41 32h1M4 33h1M9 33h1M29 33h1M6 34h1M19 34h1M12 35h1M14 35h1M16 35h1M18 35h1M20 35h1M32 35h1M12 36h1M28 36h1M32 36h1M16 37h1M26 37h2M11 38h1M18 38h1M10 39h1M29 39h1M10 40h1M18 40h1M30 40h1M47 40h1M0 41h1M3 41h1M5 42h1M13 42h1M50 42h1M9 43h1M11 43h1M17 43h1M23 43h1M35 43h1M48 43h1M0 45h1M0 46h1M12 46h1M23 46h1M26 46h1M9 47h1M11 47h1M25 48h2M11 49h1M2 50h1M18 50h1M23 50h1M45 51h1M29 52h1M35 52h1M43 52h1M27 54h1M6 55h1M8 55h1M26 55h1M4 56h1M11 56h1M26 56h3M51 56h1M11 57h2M14 57h1M16 57h1M25 57h1M13 58h1M17 58h1M22 58h1M18 59h1M39 59h1M18 60h1M25 60h1M30 60h1M32 60h1M38 60h1M31 61h1M48 61h1M19 62h1M28 62h1M19 63h1M36 63h1M20 64h1M34 64h1M21 65h1M35 65h1M25 66h1M31 66h1M39 66h1M41 66h1M9 67h2M25 67h1M32 67h1M37 67h1M43 67h1M25 68h1M39 68h3M51 68h1M16 69h1M22 69h1M27 69h1M34 69h1M3 70h1M39 70h1M46 70h1M16 71h1M26 71h1M35 71h1M12 72h1M41 72h1M18 73h1M28 73h1M17 74h2M25 74h1M37 75h1M10 76h1M31 76h1M41 76h1M45 76h2M48 76h1M24 77h1M31 77h1M26 78h1M47 78h1M18 79h1M24 79h1M27 79h1M47 79h1M25 80h1M10 81h1M18 81h1M32 81h1M37 81h1M44 81h1M7 82h1M17 82h2M5 83h1M13 83h1M28 83h1M32 83h1M16 84h2M50 84h1M0 85h1M6 85h1M15 85h1M23 85h1M25 85h2M29 85h1M44 85h1M16 86h1M37 87h1M46 87h1M25 88h1M31 88h1M8 89h1M22 89h1M30 89h1M22 90h1M27 90h1M29 91h1M24 92h1M31 92h1M16 93h1M26 93h1M41 93h1M14 94h1M16 94h1M23 94h1M34 94h2M45 94h1M25 95h1M31 95h1M5 96h1M27 97h1M31 97h1M40 97h1M2 98h1M12 98h1M22 98h1M25 98h1M35 98h1M25 99h1M31 99h1M43 99h1M26 100h1M32 100h1M2 101h1M21 101h2M30 101h1M40 101h1M6 102h1M13 102h1M30 102h2M27 103h1M40 103h1M18 104h2M25 104h1M37 104h1M40 104h1M7 105h1M18 105h1M28 105h1M5 106h1M24 106h1M39 106h1M13 107h1M18 107h1M21 107h1M31 107h1M8 108h1M13 108h2M17 108h1M25 108h2M42 108h1M2 109h1M8 109h1M13 109h1M23 109h1M25 109h1M27 109h1M30 109h1M14 110h1M24 110h1M12 111h1M19 111h1M21 111h1M29 111h1M1 112h1M5 112h1M13 112h1M18 112h2M33 112h1M47 112h1M9 113h1M31 113h1M46 113h1M17 114h3M31 114h1M37 114h1M4 115h1M6 115h1M39 115h1M3 116h1M20 116h1M27 116h1M41 116h1M3 117h1M6 117h1M29 117h1M36 117h1M41 117h2M14 118h1M22 118h1M27 118h1M30 118h1M2 119h1M12 119h1M22 119h1M24 119h1M28 119h1M18 120h1M28 120h1M12 121h1M18 121h2M21 121h1M25 121h2M37 121h1M2 122h1M12 122h1M18 122h1M5 123h1M18 123h1M25 123h1M29 123h1M17 124h1M19 124h2M28 124h1M31 124h1M43 124h1M15 125h2M29 125h2M35 125h1M11 126h1M15 126h2M22 126h1M33 127h1M10 128h1M29 128h1M39 128h1M42 128h1M44 128h1M46 128h1M25 129h1M12 130h1M18 130h1M25 130h1M7 131h1M27 131h2M30 131h2M16 132h1M25 132h1M31 133h1M41 133h1M4 134h1M10 134h1M17 134h1M28 134h1M46 134h1M39 135h1M45 135h1M14 137h1M19 137h1M27 137h1M29 137h1M21 138h1M3 139h1M19 139h1M23 139h1M24 140h1M27 140h1M30 140h2M4 141h1M32 141h1M39 141h1M2 142h1M11 142h1M14 142h1M19 142h1M22 142h1M24 142h1M47 142h1M49 142h1M4 143h1M14 143h1M30 143h1M35 143h1M19 144h1M22 144h1M39 144h1M2 145h1M16 145h1M27 145h1M36 145h1M12 146h1M16 146h1M31 146h1M19 147h1M31 147h1M38 147h1M16 148h1M19 148h1M25 148h1M41 148h1M45 148h2M19 149h1M41 149h1M43 149h1M46 149h1M23 150h1M36 150h1M12 151h1M26 151h1M31 151h1M39 151h2M44 151h1M10 152h1M29 152h1M17 153h1M28 153h1M44 153h1M6 154h1M14 154h1M16 154h1M26 154h1M42 154h1M45 154h1M5 155h1M29 155h1M34 155h1M39 155h1M41 155h1M2 156h1M24 156h1M27 156h1M32 156h1M46 156h1M0 157h1M12 157h1M22 157h1M30 158h1M43 158h1M3 159h1M16 159h1M20 159h1M26 159h1M28 159h2M28 160h2M0 161h1M11 161h1M28 161h1M43 161h1M12 162h1M25 162h1M27 162h1M2 165h1M5 165h1M16 165h1M24 165h1M17 166h1M19 166h1M23 166h1M30 166h1M11 168h1M44 168h1M26 169h1M31 169h1M44 169h1M41 170h1M13 171h1M18 171h1M27 171h1M43 171h1M2 172h1M10 172h1M13 172h1M24 172h1M26 172h2M44 172h1M16 173h1M38 173h1M2 174h1M19 174h1M25 174h1M46 174h1M11 175h1M14 175h2M18 175h1M28 175h2M42 175h1M45 175h1M21 176h1M26 176h1M30 176h1M12 177h1M27 177h1M35 177h1M38 177h1M45 177h1M11 178h1M21 178h1M27 178h1M41 178h2M44 178h2M20 179h1M26 179h1M31 179h1M44 179h1M4 180h1M12 180h1M15 180h1M20 180h1M39 180h1M11 181h1M29 181h1M10 182h1M27 182h1M35 182h1M38 182h1M42 182h1M45 182h1M8 183h1M29 183h1M31 183h1M0 184h1M11 184h2M14 184h1M26 184h1M29 184h1M11 185h1M15 185h1M29 185h1M31 185h1M10 186h1M12 186h1M18 186h1M24 186h1M26 186h1M29 186h1M38 186h1M45 186h1M12 187h1M10 188h1M16 188h2M46 188h1M19 189h1M21 189h1M30 189h1M35 189h1M46 189h1M13 190h1M25 191h1M29 192h2M39 192h1M28 193h1M30 193h1M35 193h1M7 195h1M10 195h1M28 195h1M30 196h1M10 199h1M2 202h1M29 203h1M26 204h1M13 205h1M30 207h1M14 208h1M14 209h1M26 209h1M14 210h1M3 211h1M39 211h1M3 213h1M14 213h1M26 213h1M30 213h1M43 214h1M4 215h1M3 216h1M10 217h1M14 217h1M43 221h1M13 222h1M26 222h1M28 222h1M30 222h1M13 224h2M17 225h1M3 226h2M43 226h1M16 227h1M43 227h1M17 229h1M7 230h1M10 230h1M30 230h1M13 231h1M43 231h1M47 231h1M43 232h1M47 232h1M2 234h1M22 234h1M30 235h1M10 236h1M12 236h1M30 237h1M46 237h1M2 238h1M26 238h1M38 238h1M4 240h1M26 241h1M11 242h1M35 242h1M31 243h1M37 243h1M0 244h1M26 244h1M11 246h1M44 246h1M24 247h1M33 247h1M44 247h1M4 248h1M15 248h1M39 248h1M1 249h1M4 249h1M23 249h2M50 249h1M12 250h1M29 251h1M5 252h1M8 252h1M21 252h1M30 252h1M35 252h1M37 252h1M40 252h1M9 253h2M24 253h1M28 253h1M33 253h1M42 253h1M6 254h1M26 254h1M33 254h1M35 254h1M0 255h1M5 255h1M19 255h1M27 255h1M38 255h1M5 256h1M47 256h1M9 257h1M11 257h1M33 257h1M44 257h1M11 258h1M28 258h1M36 258h1M11 259h1M26 259h1M43 259h1M3 260h1M16 260h1M18 260h1M25 260h1M33 260h1M38 260h1M43 260h1M0 261h1M43 261h1M2 262h1M40 262h1M2 263h1M8 263h1M34 263h1M36 263h1M42 263h1M48 263h1M1 264h1M8 264h1M24 264h1M40 264h2M46 264h1M9 265h1M28 265h1M33 265h1M36 265h1M41 265h1M18 266h1M42 266h1M44 266h1M11 267h1M14 267h1M21 267h1M46 267h1M10 268h1M24 268h1M26 268h1M19 270h1M42 270h1M47 270h1M0 271h1M6 271h1M19 271h1M37 271h1M44 271h1M0 272h1M20 272h1M28 272h1M49 272h1M0 273h1M14 273h1M27 273h1M42 273h1M28 274h1M35 274h1M40 274h1M48 274h1M2 275h1M35 275h1M40 275h1M46 275h1M51 275h1"/>
<path stroke="#faebdd" d="M2 0h1M7 0h1M10 0h1M17 0h1M22 0h1M25 0h1M36 0h2M45 0h1M47 0h1M50 0h2M17 1h1M20 1h1M22 1h1M32 1h1M34 1h2M37 1h1M20 2h1M28 2h1M33 2h1M35 2h2M24 3h1M37 3h1M47 3h1M11 4h1M23 4h3M33 4h1M37 4h1M7 5h2M17 5h2M24 5h2M35 5h1M18 6h1M13 13h1M13 14h1M13 15h1M7 28h1M22 28h2M30 28h1M32 28h1M35 28h1M42 28h1M46 28h3M50 28h1M1 29h1M25 29h1M32 29h1M37 29h1M41 29h1M45 29h1M47 29h2M30 30h1M35 30h3M47 30h1M49 30h1M29 31h1M32 31h1M35 31h1M37 31h1M40 31h1M50 31h1M30 32h1M51 33h1M13 36h1M18 36h2M25 36h1M19 37h1M37 38h1M37 39h1M14 40h1M27 41h1M12 43h1M11 45h1M47 45h1M31 46h1M12 48h1M32 48h1M13 50h1M13 51h1M37 51h1M13 52h1M36 52h2M23 53h1M37 53h1M36 54h1M13 55h1M29 55h1M2 56h1M8 56h1M23 56h1M3 57h1M29 57h1M50 57h1M8 58h1M23 58h2M29 58h1M37 58h1M47 58h1M50 58h1M3 59h1M9 59h1M3 60h1M12 60h2M22 60h1M8 61h1M14 61h1M29 61h1M8 62h1M12 62h1M41 62h1M12 63h1M29 63h1M45 63h1M47 63h1M50 63h1M7 64h1M12 64h1M29 64h1M8 65h1M37 65h1M6 66h1M37 66h1M12 67h1M27 67h1M29 67h1M44 69h1M13 70h1M29 70h1M29 71h1M13 72h1M32 73h1M13 74h1M13 77h1M26 77h1M29 77h1M30 78h1M40 79h2M45 79h1M41 80h2M45 80h1M40 81h1M45 81h1M3 83h1M18 83h1M41 83h1M5 84h1M2 85h1M35 85h1M2 86h1M7 86h1M12 86h1M11 88h1M29 93h1M30 96h1M13 97h1M41 99h1M8 100h1M14 101h1M22 103h1M13 113h1M8 114h1M7 115h2M8 116h1M13 116h1M44 116h1M4 117h1M4 118h1M8 119h1M13 119h1M8 120h1M8 121h1M8 122h1M13 122h1M14 123h1M11 127h1M12 129h1M14 131h1M12 134h1M4 135h1M14 135h1M4 136h1M4 137h1M7 138h1M7 139h1M11 139h1M22 139h1M30 139h1M7 140h1M0 141h1M13 143h1M3 144h1M13 144h1M40 144h1M4 145h1M37 145h1M40 146h1M8 147h1M3 148h1M3 149h1M10 149h1M3 150h1M5 150h1M4 151h1M8 152h1M0 153h1M4 153h1M13 153h1M3 154h2M46 154h1M2 155h3M46 155h1M4 156h2M11 156h1M29 156h1M13 157h1M2 158h2M11 160h1M4 162h1M4 163h1M11 166h1M26 167h1M13 168h1M13 169h1M17 170h1M14 171h1M12 175h1M35 176h1M40 176h1M3 177h1M47 177h1M2 180h1M13 180h1M5 181h1M13 181h1M26 181h1M2 182h1M30 182h1M2 183h2M5 183h1M28 183h1M35 183h1M40 183h1M3 184h1M5 184h1M40 184h1M3 185h1M5 185h1M40 185h1M46 185h1M3 186h1M44 186h1M3 187h1M3 188h1M44 188h1M12 191h1M44 191h1M12 192h2M17 192h1M3 193h1M10 193h1M13 193h1M12 194h1M13 196h1M2 199h1M11 199h1M38 199h1M13 200h1M38 200h1M13 201h1M10 202h1M13 202h1M31 202h1M13 203h1M13 204h1M31 204h1M31 205h1M13 215h1M13 216h1M36 216h1M13 217h1M13 219h1M13 221h1M12 225h3M13 226h1M4 228h1M13 229h2M2 232h1M13 233h1M13 235h1M13 236h1M13 238h1M13 243h1M50 247h1M16 248h1M28 248h1M50 248h1M7 249h1M13 249h1M32 249h1M41 249h1M47 249h1M7 250h1M32 250h1M47 250h1M10 251h1M16 251h1M26 251h1M4 252h1M13 252h1M25 252h1M41 252h1M47 252h2M50 252h1M14 253h1M16 253h1M32 253h1M20 254h1M23 254h1M29 254h1M4 255h1M23 255h1M32 255h1M23 256h1M29 256h1M45 256h1M14 257h1M39 257h1M41 257h1M43 257h1M45 257h1M4 258h2M14 258h1M41 258h1M2 259h1M25 259h1M28 259h1M45 259h1M2 260h1M23 260h1M29 260h1M32 260h1M36 260h1M51 260h1M3 261h1M23 261h1M29 261h1M23 262h1M29 262h1M32 262h1M37 262h1M45 262h1M50 262h1M26 263h1M29 263h1M32 263h1M32 264h1M34 264h1M6 265h1M13 265h1M13 266h1M32 266h1M50 266h1M28 267h2M32 267h1M13 268h1M20 268h1M48 268h1M13 269h1M23 270h1M48 270h1M23 271h1M32 271h1M34 271h1M45 271h1M13 272h1M23 272h1M36 272h1M45 272h1M13 273h1M45 273h1M6 274h1M10 274h1M29 274h1M32 274h2M45 274h1M14 275h1"/>
<path stroke="#03051a" d="M3 0h1M5 0h2M14 0h3M30 0h1M38 0h4M44 0h1M46 0h1M0 1h1M2 1h1M5 1h1M7 1h2M13 1h2M30 1h1M38 1h9M50 1h2M2 2h1M4 2h1M7 2h3M11 2h1M16 2h1M38 2h9M50 2h2M2 3h1M4 3h7M38 3h9M51 3h1M0 4h1M4 4h7M14 4h1M32 4h1M38 4h9M51 4h1M0 5h1M3 5h2M9 5h2M13 5h4M38 5h1M42 5h3M46 5h1M50 5h2M0 6h8M9 6h2M13 6h4M19 6h1M22 6h3M32 6h1M36 6h1M38 6h9M48 6h4M0 7h11M18 7h1M22 7h3M30 7h1M32 7h1M38 7h9M48 7h4M0 8h1M5 8h2M8 8h2M11 8h1M22 8h2M30 8h1M34 8h1M38 8h9M49 8h3M1 9h6M8 9h1M11 9h1M14 9h1M19 9h1M22 9h2M30 9h1M32 9h1M34 9h1M38 9h9M48 9h4M0 10h6M10 10h2M14 10h1M23 10h1M30 10h1M32 10h1M38 10h9M48 10h1M50 10h2M1 11h2M4 11h1M6 11h2M10 11h2M14 11h1M19 11h1M23 11h1M32 11h1M38 11h9M48 11h4M1 12h2M4 12h3M8 12h1M10 12h1M14 12h1M16 12h2M19 12h1M22 12h2M32 12h1M38 12h9M48 12h4M1 13h1M3 13h1M5 13h2M8 13h2M16 13h2M22 13h2M34 13h1M36 13h1M38 13h7M46 13h1M49 13h3M1 14h1M3 14h1M5 14h3M9 14h1M23 14h1M39 14h8M51 14h1M3 15h1M5 15h3M17 15h1M22 15h1M39 15h8M51 15h1M1 16h1M3 16h1M5 16h4M11 16h1M17 16h1M22 16h1M32 16h1M39 16h8M50 16h2M1 17h1M3 17h1M5 17h4M11 17h1M22 17h1M39 17h8M50 17h2M1 18h1M3 18h1M7 18h1M11 18h1M19 18h1M24 18h1M39 18h1M43 18h2M46 18h1M50 18h2M22 19h2M45 19h1M51 19h1M22 20h2M45 20h1M51 20h1M22 21h2M51 21h1M40 22h1M42 22h1M45 22h1M51 22h1M38 23h1M40 23h1M43 23h4M50 23h2M6 25h1M0 26h1M4 26h1M8 26h1M0 27h2M3 27h2M8 27h1M12 27h1M39 27h1M42 27h5M48 27h1M50 27h1M3 28h2M18 28h1M38 28h1M40 28h1M44 28h1M51 28h1M3 29h2M6 29h2M38 29h1M40 29h1M43 29h2M51 29h1M2 30h1M4 30h1M7 30h4M13 30h1M23 30h1M38 30h1M40 30h2M44 30h1M46 30h1M51 30h1M2 31h1M4 31h1M7 31h2M13 31h1M23 31h1M38 31h1M41 31h2M44 31h1M46 31h1M51 31h1M5 32h3M11 32h1M14 32h1M38 32h3M44 32h4M50 32h1M2 33h1M6 33h2M11 33h1M14 33h1M38 33h3M43 33h4M2 34h1M7 34h3M11 34h1M18 34h1M24 34h1M38 34h9M2 35h1M8 35h3M24 35h1M38 35h1M40 35h5M46 35h1M2 36h1M4 36h3M14 36h1M24 36h1M38 36h1M40 36h7M51 36h1M3 37h4M9 37h1M13 37h1M24 37h1M38 37h2M43 37h3M51 37h1M1 38h1M3 38h4M38 38h1M41 38h6M2 39h1M22 39h1M38 39h1M40 39h2M43 39h4M22 40h1M38 40h4M43 40h4M51 40h1M4 41h1M10 41h1M16 41h1M38 41h9M51 41h1M4 42h1M7 42h1M16 42h1M38 42h2M41 42h3M51 42h1M4 43h1M7 43h2M13 43h1M38 43h9M49 43h1M51 43h1M0 44h1M8 44h3M38 44h9M49 44h1M51 44h1M8 45h3M14 45h1M16 45h1M38 45h9M51 45h1M38 46h1M40 46h2M44 46h1M46 46h1M51 46h1M38 47h9M51 47h1M9 48h1M14 48h1M16 48h1M38 48h1M40 48h7M51 48h1M0 49h1M9 49h2M14 49h1M16 49h1M38 49h9M50 49h2M0 50h1M3 50h2M8 50h3M14 50h1M38 50h9M49 50h1M51 50h1M0 51h1M2 51h1M6 51h2M9 51h2M14 51h1M38 51h3M42 51h3M46 51h1M48 51h2M0 52h1M2 52h1M14 52h1M23 52h1M38 52h5M44 52h1M46 52h1M48 52h2M51 52h1M0 53h1M2 53h1M4 53h1M7 53h1M38 53h9M48 53h4M0 54h1M2 54h1M4 54h1M7 54h1M12 54h1M16 54h1M38 54h1M42 54h5M48 54h4M2 55h1M38 55h1M40 55h1M42 55h5M48 55h4M0 56h1M38 56h1M40 56h2M43 56h2M48 56h2M0 57h1M4 57h2M38 57h1M40 57h2M43 57h2M7 58h1M10 58h1M38 58h1M40 58h2M43 58h1M46 58h1M0 59h1M2 59h1M10 59h1M40 59h2M43 59h1M46 59h1M48 59h1M0 60h1M2 60h1M10 60h1M40 60h2M43 60h4M48 60h3M5 61h2M10 61h2M23 61h1M38 61h1M42 61h1M44 61h3M50 61h1M2 62h1M38 62h2M43 62h1M45 62h2M2 63h2M5 63h2M14 63h1M43 63h1M46 63h1M2 64h1M6 64h1M16 64h1M38 64h1M41 64h1M46 64h1M2 65h1M4 65h1M6 65h2M9 65h2M16 65h1M38 65h1M40 65h2M44 65h3M51 65h1M2 66h1M8 66h1M45 66h1M51 66h1M2 67h1M38 67h1M45 67h1M47 67h3M51 67h1M2 68h1M38 68h1M45 68h1M47 68h3M2 69h1M4 69h1M43 69h1M47 69h3M44 70h1M5 71h2M39 71h2M42 71h1M44 71h2M2 72h1M5 72h2M23 72h1M38 72h1M44 72h3M0 73h1M2 73h1M6 73h1M23 73h1M46 73h1M0 74h1M6 74h2M11 74h1M14 74h1M46 74h1M3 75h1M7 75h1M10 75h1M14 75h1M16 75h1M38 75h1M50 75h1M3 76h1M11 76h1M38 76h1M43 76h1M50 76h1M38 77h1M0 78h1M38 78h1M0 79h1M4 79h1M49 79h2M0 80h1M12 80h1M47 80h5M0 81h2M12 81h1M47 81h5M12 82h1M41 82h1M47 82h3M51 82h1M12 83h1M47 83h3M51 83h1M47 84h3M51 84h1M12 85h1M38 85h1M47 85h3M51 85h1M3 86h2M9 86h1M38 86h3M48 86h4M39 87h3M47 87h5M38 88h1M41 88h1M47 88h5M38 89h1M45 89h1M49 89h2M7 90h1M38 90h3M43 90h1M45 90h1M7 91h1M23 91h1M38 91h8M51 91h1M7 92h1M38 92h1M40 92h5M48 92h1M50 92h2M2 93h1M38 93h1M40 93h1M42 93h3M49 93h1M51 93h1M3 94h1M39 94h2M43 94h2M49 94h1M51 94h1M6 95h1M39 95h2M43 95h2M49 95h1M51 95h1M43 96h2M50 96h2M43 97h2M50 97h2M6 98h2M38 98h1M42 98h1M0 99h1M5 99h1M7 99h1M12 99h1M50 99h2M0 100h1M12 100h1M50 100h2M0 101h1M12 101h1M50 101h2M12 102h1M50 102h2M11 103h2M50 103h2M4 104h1M11 104h2M50 104h2M50 105h2M48 107h3M48 108h3M48 109h3M49 110h2M49 111h3M49 112h1M49 113h1M50 115h2M50 116h2M38 117h1M50 117h2M45 118h1M0 119h1M0 120h1M50 120h1M1 121h1M39 145h1M50 155h1M50 156h1M50 157h2M47 158h1M50 158h2M47 159h5M48 160h4M50 161h2M50 163h2M50 164h2M50 165h2M6 166h1M50 166h2M6 167h1M50 167h2M50 168h2M50 169h2M50 171h2M0 172h1M50 172h2M50 173h2M50 174h2M50 175h2M50 176h2M39 177h1M48 177h4M47 178h1M49 178h3M47 179h4M47 180h5M0 181h1M47 181h5M47 182h5M47 183h5M47 184h5M47 185h5M5 186h2M50 186h2M39 187h2M50 187h2M39 188h3M41 189h1M4 190h1M38 190h1M41 190h1M45 190h1M50 190h1M4 191h1M38 191h1M50 191h1M3 192h1M38 192h1M41 192h1M50 192h2M38 193h1M40 193h2M50 193h2M11 194h1M40 194h3M50 194h2M38 195h4M50 195h2M12 196h1M39 196h1M41 196h1M50 196h2M48 197h1M50 197h2M24 198h1M48 198h1M50 198h2M24 199h1M48 199h1M50 199h2M50 200h2M44 201h1M46 201h1M50 201h1M45 202h1M50 204h1M51 205h1M51 206h1M50 207h2M50 208h2M50 209h2M50 210h2M50 211h2M6 212h1M38 212h1M50 212h1M6 213h1M50 213h2M50 214h2M50 215h2M50 216h2M38 222h1M38 223h1M50 223h2M38 224h1M50 224h2M50 225h2M50 226h2M50 227h2M50 228h2M50 229h2M50 230h2M50 231h2M50 232h2M50 233h2M50 234h2M50 235h2M50 236h2M50 237h2M50 238h1M0 239h1M50 239h2M47 240h5M39 241h1M48 241h4M39 242h1M47 242h5M47 243h5M47 244h5M47 245h5M47 246h5M47 247h3M0 248h1M40 248h6M49 248h1M0 249h1M38 249h1M43 249h1M40 250h1M42 250h3M38 251h7M22 252h1M38 252h2M42 252h2M7 253h1M38 253h2M41 253h1M38 254h3M13 255h1M16 255h1M40 255h1M51 255h1M38 256h1M42 256h3M51 256h1M2 257h2M40 257h1M51 257h1M2 258h1M39 258h1M48 258h2M51 258h1M49 259h2M48 260h3M2 261h1M48 261h3M3 262h1M6 262h1M39 262h1M51 262h1M38 263h2M50 263h2M39 264h1M51 264h1M51 265h1M51 266h1M50 267h2M50 268h2M4 272h1M38 272h1M46 273h1M11 274h1M49 275h1"/>
<path stroke="#f6b089" d="M4 0h1M13 0h1M18 0h1M9 1h1M11 1h1M18 1h1M29 1h1M5 2h1M12 2h1M49 2h1M26 3h1M35 3h1M1 4h1M16 4h1M27 4h1M34 4h1M48 4h1M20 6h1M13 7h1M20 7h1M29 7h1M47 7h1M13 8h1M10 9h1M22 10h1M27 11h1M3 12h1M31 15h1M42 18h1M30 21h1M1 28h1M8 28h1M13 28h1M19 28h1M29 29h2M5 30h1M17 30h1M20 30h1M45 30h1M48 30h1M50 30h1M14 31h1M48 31h1M10 32h1M18 32h1M23 32h1M32 32h1M43 32h1M12 33h1M15 33h1M32 33h1M20 34h2M23 34h1M28 34h1M23 35h1M3 36h1M26 36h1M31 36h1M34 36h1M0 37h1M12 38h1M19 38h1M21 38h1M11 39h1M13 39h1M30 39h1M34 39h1M0 40h1M11 40h1M13 40h1M36 41h1M1 42h1M11 42h1M19 42h1M21 42h1M13 44h2M22 44h1M34 44h1M36 44h1M2 45h1M7 45h1M22 45h1M33 45h1M11 46h1M18 47h1M25 47h1M32 47h1M13 48h1M29 48h1M12 49h1M22 49h1M26 49h1M32 50h1M16 51h1M22 51h1M26 51h1M8 53h1M10 53h1M36 53h1M8 54h1M10 54h1M14 54h1M35 54h1M19 55h1M17 56h1M30 56h1M23 57h1M30 58h1M45 59h1M8 60h1M16 61h1M19 61h1M30 61h1M40 61h2M14 62h1M20 62h1M34 62h2M50 62h1M7 63h1M11 63h1M30 63h1M32 63h1M34 63h1M39 63h2M48 63h1M51 63h1M0 64h1M13 64h1M32 64h1M42 64h1M12 65h1M23 65h1M32 65h1M13 66h2M29 66h1M32 66h1M4 67h1M13 67h1M22 67h1M3 68h1M20 68h1M23 68h1M30 68h1M37 68h1M9 69h1M11 69h1M15 69h1M42 69h1M23 70h1M51 70h1M17 71h1M27 71h1M46 71h1M21 72h1M32 72h1M22 73h1M35 73h1M45 73h1M25 75h1M45 75h1M37 76h1M37 77h1M41 77h1M22 78h1M43 79h1M4 80h1M7 80h1M27 80h1M29 80h1M46 80h1M7 81h1M14 81h1M17 81h1M23 81h1M35 81h1M5 82h1M31 82h1M50 82h1M6 83h1M9 83h1M11 83h1M14 83h1M35 83h1M4 84h1M7 84h1M22 84h1M42 84h1M30 85h1M32 85h1M39 85h1M42 85h1M10 86h2M35 86h1M45 86h1M3 87h2M13 88h2M23 88h2M27 88h1M29 88h2M45 88h1M0 89h1M13 89h2M42 89h1M13 90h2M44 90h1M51 90h1M14 92h1M27 93h1M2 95h1M13 95h1M7 96h1M11 96h2M2 97h1M8 97h1M12 97h1M24 97h1M30 97h1M18 98h1M44 98h1M10 100h2M38 100h1M6 101h1M5 102h1M14 102h1M20 102h1M26 102h1M16 103h1M24 103h1M28 103h1M31 103h1M14 104h1M29 104h1M38 104h1M41 105h1M51 106h1M5 107h1M19 107h1M21 108h1M26 109h1M28 109h1M35 109h1M8 110h1M19 110h1M8 111h1M18 111h1M24 112h1M29 113h1M7 114h1M9 114h1M12 115h1M25 115h1M12 116h1M35 117h1M39 117h1M10 118h1M18 118h1M25 118h1M35 118h1M43 118h1M11 119h1M20 119h1M25 119h1M38 119h1M26 120h1M11 121h1M28 121h1M30 121h1M14 122h1M26 122h1M30 122h1M45 122h1M4 123h1M28 123h1M30 123h1M2 124h1M5 124h1M14 124h1M44 124h1M9 125h1M39 125h1M0 126h1M2 126h1M4 126h1M14 126h1M17 126h1M20 126h1M5 127h1M14 127h1M28 127h1M30 127h2M16 128h1M30 128h1M8 129h1M27 129h1M30 130h1M46 130h1M26 131h1M29 131h1M12 132h1M19 132h1M30 132h2M46 132h1M2 133h1M13 134h1M29 134h1M2 135h1M30 135h2M11 137h1M40 137h1M14 138h1M19 138h1M32 138h1M25 139h1M11 140h1M26 140h1M46 140h1M2 141h1M12 141h2M12 142h1M24 143h1M7 144h1M29 144h1M44 144h1M13 145h1M29 145h1M40 145h1M20 146h1M30 146h1M10 147h1M17 147h1M26 147h1M30 147h1M43 147h2M7 148h1M30 148h1M38 148h1M15 149h1M26 149h1M29 149h1M35 149h1M20 150h1M28 150h1M30 150h1M17 151h1M24 151h1M30 151h1M36 151h1M30 152h1M18 153h1M22 153h1M24 153h1M35 153h1M22 154h1M32 154h1M13 155h1M17 155h1M24 155h1M19 157h1M29 157h1M13 158h1M19 158h1M22 158h1M13 159h2M13 160h1M26 160h1M30 160h1M8 161h1M12 161h1M22 161h1M25 161h2M22 162h1M26 162h1M29 162h1M10 163h1M30 163h1M44 163h1M11 164h1M13 164h2M20 164h1M13 165h2M31 165h1M12 166h1M26 166h2M14 167h1M30 168h1M19 169h1M46 169h1M3 170h1M12 170h1M23 170h1M39 170h1M5 171h1M22 171h2M25 171h1M29 171h2M19 172h1M29 172h1M31 172h1M43 172h1M14 173h1M17 174h1M26 174h1M36 175h1M13 176h1M41 176h1M11 177h1M14 177h1M44 177h1M3 178h1M14 178h1M38 178h1M8 179h1M38 179h1M5 180h1M14 180h1M25 180h1M31 180h1M35 180h1M40 180h1M7 181h1M10 181h1M17 181h1M38 181h1M5 182h1M11 182h1M39 182h2M9 183h1M26 183h1M30 183h1M45 183h1M10 184h1M25 184h1M13 185h2M30 185h1M14 186h1M25 186h1M28 186h1M30 186h1M47 186h1M4 187h1M13 187h1M27 187h1M24 188h1M28 188h1M22 190h1M3 191h1M11 191h1M14 191h1M28 191h1M10 192h1M26 195h1M14 196h1M26 197h1M39 198h1M26 200h1M10 201h1M14 201h1M14 203h1M43 203h1M19 204h1M29 206h1M43 206h1M30 208h1M30 210h1M13 211h1M8 212h1M13 212h1M26 214h1M12 218h1M14 218h1M12 219h1M26 219h1M30 219h1M30 221h1M14 222h1M29 222h1M43 223h1M12 224h1M16 224h1M26 224h1M47 224h1M7 228h1M12 228h1M46 229h1M12 230h1M7 231h1M10 231h1M30 232h1M2 233h1M13 234h1M46 235h1M2 237h1M10 238h2M14 238h1M43 239h1M14 241h1M19 241h1M2 246h1M8 248h1M6 249h1M30 249h1M34 249h1M5 250h1M20 250h1M26 250h1M48 250h1M1 251h1M30 251h1M34 251h3M46 251h2M51 251h1M7 252h1M9 252h1M14 252h1M34 252h1M21 253h1M25 253h1M34 253h2M37 253h1M10 254h1M12 254h1M28 254h1M30 254h1M37 254h1M17 255h1M26 255h1M47 255h1M22 256h1M32 256h1M50 256h1M1 257h1M17 257h1M10 258h1M16 258h2M42 258h1M45 258h3M50 258h1M0 259h1M4 259h1M21 259h1M24 259h1M36 259h1M42 259h1M47 259h1M0 260h1M6 260h2M11 260h1M14 260h1M27 260h1M47 260h1M7 261h1M19 261h1M24 261h1M26 261h1M30 261h1M46 261h1M12 262h1M20 262h1M27 262h2M30 262h1M35 262h1M12 263h1M28 263h1M47 263h1M2 264h1M11 264h1M15 264h1M22 264h1M25 264h1M42 264h1M11 265h1M26 265h1M34 265h2M44 265h1M12 266h1M29 266h1M34 266h1M5 267h1M9 267h2M15 267h1M17 267h2M41 267h1M48 267h2M7 268h1M14 268h1M23 268h1M45 268h1M11 269h1M23 269h1M39 269h1M41 269h2M49 269h1M11 270h2M14 270h1M28 270h1M31 270h1M38 270h1M40 270h1M43 270h1M26 271h1M28 271h1M36 271h1M38 271h1M10 272h1M17 272h1M34 272h1M40 272h1M48 272h1M3 273h1M9 273h1M21 273h1M34 273h1M43 273h1M0 274h1M8 274h1M21 274h1M30 275h1M34 275h1M50 275h1"/>
<path stroke="#f8d9c3" d="M8 0h1M24 0h1M28 0h1M32 0h1M34 0h1M4 1h1M23 1h2M36 1h1M48 1h2M10 2h1M13 2h2M32 2h1M22 3h1M27 3h1M32 3h1M36 3h1M48 3h1M13 4h1M30 4h1M35 4h1M22 5h1M28 5h1M32 5h1M40 5h1M45 5h1M47 5h1M13 10h1M38 14h1M38 15h1M13 19h1M30 23h1M21 28h1M31 28h1M41 28h1M11 29h1M31 29h1M39 29h1M42 29h1M49 29h1M29 30h1M24 31h1M28 31h1M45 31h1M17 32h1M22 32h1M20 33h1M27 34h1M33 34h1M35 36h1M14 37h1M14 41h1M35 41h1M6 44h1M12 44h1M6 45h1M18 45h1M29 45h1M37 45h1M4 46h1M18 46h1M21 46h1M30 46h1M23 47h1M30 48h1M29 51h1M18 52h1M21 52h1M22 53h1M23 54h1M32 54h1M23 55h1M39 55h1M37 56h1M42 56h1M27 57h1M36 57h2M45 57h1M48 57h1M9 58h1M36 58h1M11 59h1M14 59h1M14 60h1M19 60h1M29 60h1M13 61h1M24 61h1M29 62h1M37 63h1M45 64h1M13 65h1M12 66h1M35 66h1M40 66h1M50 66h1M41 67h1M29 68h1M8 69h1M23 71h1M13 75h1M30 75h1M35 75h1M13 78h1M40 78h1M13 79h1M36 79h1M13 80h1M36 80h1M13 81h1M30 81h1M26 82h1M7 83h1M10 83h1M42 83h1M44 83h1M36 84h1M5 85h1M22 85h1M27 85h1M45 85h1M50 85h1M22 86h1M42 86h1M29 89h1M17 95h1M24 96h1M13 98h1M29 98h1M13 99h1M7 102h1M26 103h1M12 107h1M22 109h1M26 111h1M29 114h1M14 115h1M26 115h1M30 119h1M4 120h1M30 120h1M3 121h1M44 121h1M27 123h1M2 125h1M28 125h1M13 126h1M2 127h1M4 133h1M16 133h1M26 135h1M13 136h1M28 136h1M31 136h1M2 137h1M11 138h1M13 140h1M14 141h1M7 145h1M10 145h1M22 145h1M26 145h1M3 146h1M26 146h1M0 147h1M4 148h1M13 148h1M4 150h1M14 150h1M17 150h1M13 151h1M19 151h1M5 152h1M11 152h1M13 152h1M27 152h1M5 153h1M7 153h2M7 154h1M0 155h1M8 155h1M2 157h1M10 157h1M43 157h1M4 158h1M13 161h1M7 162h1M0 165h1M4 166h1M13 166h1M31 166h1M3 167h2M13 167h1M12 169h1M11 170h1M4 171h1M17 171h1M4 172h1M12 172h1M2 173h1M13 173h1M30 173h2M11 174h1M38 174h1M13 175h1M40 175h1M28 176h1M30 177h1M40 177h1M3 179h1M35 179h1M40 179h1M7 180h1M16 180h1M44 180h1M40 181h1M3 182h2M41 182h1M36 183h1M39 183h1M44 184h1M2 185h1M41 185h1M44 185h1M7 186h1M14 187h1M36 187h1M41 187h1M13 194h2M10 198h1M13 199h1M2 200h1M2 201h1M30 202h1M19 203h1M13 223h1M10 224h1M4 230h1M26 230h1M14 231h1M14 233h1M26 233h1M12 235h1M38 235h1M13 237h1M14 242h1M10 248h1M13 248h2M34 248h1M48 249h1M6 250h1M13 250h1M16 250h1M36 250h2M7 251h1M23 251h1M37 251h1M45 251h1M48 251h1M29 252h1M51 252h1M5 253h1M11 253h1M23 253h1M29 253h1M40 253h1M45 253h1M21 254h2M25 254h1M32 254h1M15 255h1M34 255h1M45 255h2M10 256h1M27 256h1M34 256h1M39 256h1M13 257h1M21 257h1M29 257h1M6 258h1M9 258h1M29 258h1M8 259h1M32 259h1M48 259h1M13 260h1M26 260h1M32 261h1M40 261h2M51 261h1M5 262h1M8 262h1M22 262h1M6 263h1M11 263h1M15 263h1M43 263h3M16 264h1M23 264h1M23 265h1M29 265h1M37 265h1M48 266h1M30 267h1M42 267h1M45 267h1M0 268h1M3 269h1M7 269h1M29 269h1M34 269h1M45 269h1M21 270h1M25 270h1M27 270h1M35 270h1M9 271h1M13 271h1M42 271h1M48 271h1M32 272h1M23 273h1M25 274h1M8 275h1M16 275h1M23 275h1M27 275h1M32 275h1M36 275h1"/>
<path stroke="#f7d0b5" d="M9 0h1M23 0h1M42 0h1M3 1h1M10 1h1M33 1h1M24 2h2M30 2h1M37 2h1M49 3h1M20 4h1M22 4h1M28 4h2M11 5h1M23 5h1M33 5h1M37 5h1M41 5h1M48 5h1M8 6h1M17 6h1M11 7h1M14 14h1M14 15h1M13 16h1M6 28h1M17 28h1M27 28h2M45 28h1M49 28h1M2 29h1M9 29h1M18 29h1M21 29h1M28 29h1M34 29h1M12 30h1M22 30h1M28 30h1M42 30h2M15 31h1M18 31h1M30 31h1M36 31h1M43 31h1M19 32h1M24 32h1M35 32h1M51 32h1M17 33h1M24 33h1M42 33h1M13 35h1M19 35h1M37 37h1M22 38h1M20 40h1M2 42h2M6 43h1M19 43h1M21 43h1M32 43h1M47 43h1M25 44h1M37 44h1M24 45h1M29 46h1M4 47h1M10 47h1M21 47h1M50 48h1M13 49h1M23 49h1M12 50h1M26 50h1M36 50h1M11 51h1M36 51h1M26 52h1M9 53h1M18 53h1M35 53h1M3 54h1M3 55h1M30 55h1M37 55h1M3 56h1M45 56h1M17 57h1M0 58h1M3 58h1M47 60h1M0 61h1M4 62h1M7 62h1M9 62h1M11 62h1M37 62h1M51 62h1M0 63h1M4 63h1M13 63h1M16 63h1M11 64h1M14 64h1M22 64h1M27 64h1M43 64h1M10 66h1M11 67h1M26 67h1M50 67h1M12 68h1M14 68h1M22 68h1M6 69h1M26 69h1M35 69h1M27 70h1M32 70h1M13 71h1M27 74h1M29 78h1M41 78h1M3 79h1M28 79h1M37 79h1M40 80h1M5 81h1M26 81h1M42 81h1M32 82h1M36 82h1M37 83h1M50 83h1M10 84h1M14 84h1M27 84h1M41 84h1M44 84h1M43 86h1M13 87h1M23 87h1M35 87h1M21 88h1M27 89h1M46 89h1M22 92h1M17 93h1M46 93h1M17 94h1M32 95h1M8 96h1M16 96h1M10 97h1M30 98h1M7 101h1M14 103h1M5 105h1M13 106h1M8 107h1M46 107h1M17 112h1M39 112h1M46 112h1M5 113h1M14 113h1M31 115h1M26 116h1M36 116h1M2 117h1M8 117h1M18 117h1M26 117h1M30 117h1M29 119h1M13 120h1M4 121h1M4 122h1M15 122h2M44 122h1M11 123h1M13 123h1M10 126h1M44 126h1M0 127h1M4 127h1M16 127h1M2 128h1M12 128h1M11 129h1M21 129h1M17 133h1M28 135h1M29 138h1M13 142h1M30 142h1M4 144h1M38 144h1M30 145h1M7 146h1M13 146h1M29 147h1M8 148h1M4 149h2M7 149h1M12 149h1M3 151h1M2 152h1M2 153h1M10 153h1M14 153h1M29 153h1M13 154h1M19 154h1M28 155h1M38 155h1M8 156h1M10 156h1M22 156h1M4 157h1M11 158h1M29 158h1M31 158h1M4 159h1M30 159h1M19 160h1M3 161h2M3 163h1M0 164h1M4 165h1M19 165h1M22 165h1M26 165h1M28 170h1M44 171h2M45 173h1M10 175h1M35 175h1M5 176h1M0 177h1M36 177h1M2 178h1M5 178h1M26 178h1M5 179h1M0 180h1M3 180h1M4 181h1M41 181h1M16 182h1M0 183h1M17 183h1M42 183h1M4 184h1M8 184h1M38 184h1M0 185h1M2 187h1M38 188h1M13 189h1M35 191h1M39 194h1M12 195h2M12 197h1M18 197h1M12 198h1M43 198h1M14 202h1M12 220h1M10 225h1M16 225h1M14 226h1M16 226h1M4 227h1M10 227h1M10 229h1M12 231h1M47 234h1M11 236h1M11 237h1M44 237h1M14 247h1M17 247h1M7 248h1M11 248h1M35 248h1M48 248h1M51 248h1M2 249h1M5 249h1M17 249h1M19 249h1M21 249h1M45 249h1M3 250h1M10 250h1M14 250h1M17 250h1M23 250h1M14 251h1M28 252h1M4 253h1M30 253h1M48 253h1M51 253h1M3 254h1M9 254h1M14 254h1M16 254h1M45 254h1M48 254h1M50 254h1M14 255h1M35 255h1M39 255h1M4 256h1M16 256h1M19 256h1M26 256h1M16 257h1M19 257h1M28 257h1M48 257h1M13 258h1M19 258h2M27 259h1M51 259h1M5 260h1M24 260h1M34 260h2M41 260h1M5 261h1M12 261h1M14 261h1M22 261h1M33 261h1M44 261h2M14 262h1M14 263h1M27 263h1M33 263h1M40 263h2M46 263h1M3 264h1M12 264h1M19 264h1M27 264h1M29 264h2M47 264h1M50 264h1M2 265h1M32 265h1M49 265h1M15 266h1M36 266h1M7 267h1M23 267h1M36 267h1M19 268h1M21 268h1M29 268h1M32 268h2M41 268h1M46 268h1M5 269h1M12 269h1M14 269h1M28 269h1M16 270h1M32 270h1M49 270h1M14 271h1M25 271h1M40 271h2M49 271h1M11 272h1M16 272h1M22 272h1M30 272h1M22 273h1M36 273h1M13 274h1M24 274h1M36 274h1M0 275h2M13 275h1M29 275h1"/>
<path stroke="#f37651" d="M11 0h1M19 0h1M29 0h1M1 1h1M1 3h1M30 3h1M26 5h1M26 6h2M14 8h1M29 8h1M47 9h1M34 10h1M13 11h1M35 11h1M18 12h1M26 12h1M24 13h1M4 14h1M12 14h1M17 14h1M31 14h1M2 16h1M9 16h1M12 16h1M38 16h1M16 17h1M27 17h1M27 18h1M30 18h1M47 18h1M3 19h1M27 19h1M30 20h1M13 24h1M2 25h1M15 28h1M12 29h1M0 30h1M16 30h1M25 30h1M0 31h1M1 32h2M13 33h1M26 33h1M28 33h1M31 34h1M6 35h1M26 35h1M45 35h1M11 36h1M27 36h1M15 37h1M17 38h1M26 39h1M35 39h1M39 39h1M17 40h1M27 40h2M10 42h1M31 42h1M33 42h1M44 42h2M5 44h1M30 44h1M28 45h1M6 46h1M16 46h1M34 46h3M16 47h1M35 47h1M24 48h1M31 48h1M47 48h1M24 50h1M1 51h1M28 51h1M50 51h1M4 52h1M34 52h1M36 55h1M41 55h1M14 56h1M31 58h1M39 58h1M51 58h1M17 59h1M20 59h1M31 59h1M35 59h1M49 59h1M28 60h1M34 60h1M34 61h1M44 62h1M21 63h1M27 65h1M20 66h1M24 66h1M34 66h1M21 67h1M31 67h1M34 67h1M0 68h1M26 68h1M21 69h1M25 69h1M0 70h1M16 70h1M17 72h1M24 72h1M34 72h1M43 72h1M12 73h1M34 73h1M38 73h1M16 74h1M41 74h1M11 75h2M41 75h1M22 76h1M28 76h1M40 77h1M48 77h1M16 78h1M48 78h1M1 79h1M8 79h1M14 79h1M20 79h1M23 79h1M24 80h1M22 81h1M39 81h1M46 81h1M16 82h1M23 82h1M38 82h1M2 83h1M24 83h1M26 83h1M31 83h1M34 83h1M9 84h1M19 84h1M26 84h1M28 84h1M20 85h1M47 86h1M2 88h1M8 88h1M18 88h1M34 88h1M4 89h1M21 89h1M44 89h1M12 90h1M35 90h1M41 90h1M18 91h1M35 91h1M25 92h1M39 92h1M45 92h1M2 94h1M45 95h1M18 96h1M23 96h1M26 96h1M28 96h1M34 96h1M36 96h1M6 97h1M16 97h1M18 97h1M20 97h1M32 97h1M39 97h1M15 98h1M17 98h1M39 98h3M11 99h1M22 99h1M13 100h1M24 100h1M44 100h1M46 100h1M24 101h1M29 101h1M32 101h1M43 101h1M2 102h1M18 102h2M33 102h1M40 102h1M33 103h1M37 103h1M43 103h1M22 104h1M24 104h1M23 105h1M31 105h1M34 105h1M36 105h1M39 105h1M11 106h1M44 106h1M20 107h1M25 107h1M32 107h1M34 107h1M37 107h1M40 107h2M6 108h1M9 108h1M20 108h1M27 108h1M30 108h1M9 109h1M17 109h1M21 109h1M40 109h1M51 109h1M1 110h1M23 110h1M39 110h1M43 110h1M45 110h1M11 111h1M24 111h1M41 111h1M27 112h1M29 112h1M36 112h2M51 112h1M8 113h1M25 113h1M38 113h1M0 114h1M24 114h1M30 114h1M40 114h1M38 115h1M6 116h1M16 116h1M11 117h1M21 117h1M23 117h1M40 117h1M43 117h1M20 118h2M40 118h1M43 119h1M39 120h1M24 121h1M47 121h1M17 122h1M22 122h1M36 122h1M0 123h1M21 123h1M31 123h1M40 123h1M17 125h1M33 125h1M5 126h1M18 126h1M25 126h1M9 127h1M24 127h1M29 127h1M34 127h1M7 128h1M20 128h1M34 128h1M43 128h1M1 129h1M18 129h1M20 129h1M32 129h1M35 129h1M46 129h1M33 130h1M2 131h1M5 131h1M11 131h1M23 131h1M36 131h1M43 131h1M7 132h1M20 132h1M33 132h2M43 132h1M19 133h1M32 133h1M47 133h1M2 134h1M15 134h1M20 134h1M23 134h1M25 134h1M35 134h1M22 135h1M37 135h1M5 136h1M8 136h1M10 136h1M16 136h1M18 136h1M20 136h1M32 136h1M8 137h1M20 137h1M36 137h2M46 137h1M26 138h1M39 138h1M34 139h1M37 139h1M41 139h1M9 140h1M20 140h2M22 141h1M31 141h1M1 142h1M18 142h1M21 142h1M27 142h1M32 142h1M39 143h1M47 143h1M25 144h1M43 144h1M46 145h1M18 146h1M25 146h1M27 146h1M39 146h1M45 146h1M48 146h1M24 147h1M27 147h1M48 147h1M23 148h1M34 148h1M27 149h1M34 149h1M6 150h1M22 150h1M29 150h1M9 151h1M18 151h1M23 151h1M48 151h1M14 152h1M16 152h1M33 152h2M36 152h1M43 152h1M25 154h1M34 154h1M43 154h1M15 155h1M25 155h1M27 155h1M43 155h1M12 156h1M19 156h2M7 157h1M11 157h1M20 157h1M27 157h1M32 157h1M38 157h1M16 158h1M21 158h1M46 159h1M18 160h1M19 161h3M0 162h1M23 162h1M31 162h1M37 162h1M19 163h2M27 163h1M29 163h1M34 163h1M43 163h1M6 164h1M8 164h1M29 164h1M44 164h1M8 165h1M32 165h1M45 165h1M20 166h1M33 166h2M45 166h1M20 167h1M30 167h1M43 167h1M19 168h1M21 168h2M33 168h1M20 169h1M24 169h1M30 169h1M45 170h1M19 171h1M18 172h1M35 172h1M38 172h1M8 173h1M10 173h1M22 173h1M34 173h1M36 173h1M15 174h1M29 174h1M47 174h1M23 175h1M26 175h1M46 175h1M10 176h1M18 176h2M33 176h1M6 177h1M8 177h1M20 177h1M34 177h1M9 178h1M19 178h1M12 179h1M24 179h1M30 179h1M22 180h1M25 181h1M30 181h2M25 182h1M34 182h1M21 183h1M24 183h1M32 183h1M43 183h1M6 184h1M9 184h1M22 184h1M28 184h1M32 184h1M43 184h1M46 184h1M9 185h1M18 185h1M20 185h1M23 185h1M39 185h1M27 186h1M15 187h1M19 187h1M45 187h1M22 188h1M27 188h1M30 188h1M32 188h2M2 189h1M9 189h2M22 189h1M27 189h1M29 189h1M38 189h1M9 190h1M19 190h1M25 190h1M27 190h1M32 190h1M22 191h2M34 191h1M36 191h1M40 191h1M26 194h1M29 194h1M35 194h1M4 195h1M2 196h1M4 196h1M11 197h1M19 197h1M35 197h1M41 197h1M4 199h2M46 199h1M19 200h1M16 202h1M16 203h1M2 206h1M14 206h1M10 207h1M16 207h1M10 208h1M29 208h1M44 208h1M2 209h1M3 210h1M12 210h1M26 210h1M29 210h1M31 210h1M45 210h1M3 212h1M16 212h1M20 212h1M2 213h1M4 213h1M25 213h1M12 214h1M16 214h1M35 214h1M20 215h1M26 215h1M29 215h2M20 216h1M30 216h1M44 216h1M8 217h1M12 217h1M8 218h1M7 219h1M43 220h1M3 221h1M16 221h1M26 221h1M29 223h1M22 224h1M30 224h1M25 225h1M3 227h1M38 227h1M47 227h1M38 228h1M2 230h1M4 231h1M17 231h1M29 231h1M38 231h1M10 232h1M22 232h1M45 232h1M28 233h2M44 233h1M28 234h1M30 234h1M38 234h2M43 234h1M18 235h1M28 235h1M3 236h1M18 237h1M38 237h1M47 238h1M16 239h1M36 239h1M47 239h1M31 240h1M4 241h1M24 241h1M31 241h1M4 243h1M18 243h1M22 243h1M38 243h1M43 243h1M15 244h1M24 244h1M2 245h1M4 245h1M16 245h1M24 246h1M45 246h1M0 247h1M12 247h1M18 248h2M24 248h1M31 248h1M18 250h1M21 251h1M50 251h1M44 253h1M44 254h1M2 255h1M37 255h1M42 255h1M18 257h1M35 258h1M5 259h1M12 259h1M18 259h1M37 259h1M9 260h1M44 260h1M10 262h1M26 262h1M16 263h1M21 264h1M25 265h1M39 266h1M22 267h1M34 267h1M47 267h1M8 268h1M27 268h1M31 269h1M33 270h1M15 271h1M31 272h1M7 273h1M27 274h1M39 274h1"/>
<path stroke="#f58f66" d="M12 0h1M19 1h1M29 2h1M15 3h1M49 4h1M12 5h1M12 6h1M19 7h1M21 8h1M7 9h1M16 10h1M24 10h1M3 11h1M22 11h1M47 11h1M0 12h1M13 12h1M28 12h1M0 13h1M10 13h1M16 14h1M16 15h1M19 15h1M32 15h1M14 16h1M30 16h1M33 16h1M47 16h1M19 17h1M47 17h1M49 18h1M47 19h1M47 20h1M3 21h1M40 21h1M2 26h1M2 27h1M6 27h1M14 27h1M16 27h1M5 28h1M10 28h1M26 28h1M6 30h1M18 30h1M39 30h1M22 31h1M25 31h1M4 32h1M29 32h1M5 33h1M8 33h1M4 34h2M10 34h1M3 35h1M33 36h1M22 37h1M26 38h1M32 38h1M35 38h1M28 39h1M51 39h1M9 40h1M33 40h3M1 41h1M11 41h1M30 41h1M22 42h1M28 42h3M32 42h1M34 43h1M17 44h1M21 44h1M29 44h1M33 44h1M12 45h1M23 45h1M34 45h1M32 46h1M5 47h1M12 47h1M14 47h1M22 47h1M29 47h1M34 47h1M7 48h1M11 48h1M1 50h1M30 51h1M32 51h1M31 52h1M50 52h1M1 53h1M13 53h1M24 53h1M1 54h1M18 54h1M22 54h1M25 54h1M29 54h1M41 54h1M15 55h2M16 56h1M46 56h1M26 57h1M28 58h1M34 58h1M21 59h1M28 59h1M30 59h1M17 60h1M31 60h1M33 60h1M21 61h1M27 61h1M10 62h1M18 63h1M44 63h1M24 64h1M28 64h1M35 64h1M0 65h1M11 65h1M30 65h1M33 65h2M0 66h1M47 66h1M46 67h1M18 68h1M24 68h1M35 68h2M28 69h2M32 69h1M39 69h1M14 70h1M22 70h1M28 70h1M30 70h1M42 70h1M24 71h2M28 71h1M32 71h1M27 72h1M11 73h1M29 73h1M39 73h1M38 74h1M27 75h1M34 75h1M46 75h1M18 76h1M25 76h1M40 76h1M35 78h1M22 79h1M35 79h1M14 80h1M30 80h2M37 80h1M44 80h1M19 81h1M9 82h1M21 82h1M8 83h1M16 83h1M22 83h1M25 83h1M29 83h1M46 83h1M8 84h1M12 84h1M31 84h1M46 84h1M9 85h2M31 85h1M37 86h1M44 86h1M9 87h2M14 87h2M18 87h1M29 87h1M0 88h1M12 88h1M15 88h1M28 88h1M33 88h1M44 88h1M24 89h1M34 89h1M39 89h1M4 90h1M12 91h1M16 91h1M25 91h1M27 91h1M36 91h1M23 92h1M28 93h1M33 93h1M19 95h2M29 95h1M41 95h1M22 96h1M5 97h1M42 97h1M27 98h2M23 99h1M21 100h1M28 100h1M31 100h1M40 100h2M18 101h1M41 101h1M44 101h2M16 102h2M41 102h1M43 102h1M17 103h1M44 103h1M17 104h1M26 104h2M41 104h1M46 104h1M14 105h1M16 105h2M19 105h1M25 105h1M27 105h1M40 105h1M0 106h1M14 106h1M46 106h1M3 107h1M9 107h1M24 107h1M28 107h1M16 108h1M24 108h1M43 108h1M12 109h1M18 109h1M29 109h1M34 109h1M3 110h1M26 110h1M47 110h1M6 111h1M14 111h1M17 111h1M22 111h1M28 111h1M30 111h1M0 112h1M2 112h1M12 112h1M26 112h1M48 112h1M4 113h1M24 113h1M30 113h1M47 113h1M4 114h1M6 114h1M27 114h2M38 114h1M44 114h1M13 115h1M17 115h2M29 115h1M31 116h1M38 116h1M47 116h1M7 117h1M25 117h1M5 118h1M7 118h1M28 118h1M7 119h1M23 119h1M27 119h1M40 119h1M44 119h1M3 120h1M16 120h1M21 120h1M24 120h1M29 120h1M31 120h1M43 120h1M22 121h2M29 121h1M46 121h1M25 122h1M28 122h1M38 122h1M20 123h1M23 123h1M21 124h2M35 124h1M39 124h1M45 124h2M24 125h1M21 126h1M23 126h1M23 127h1M46 127h1M25 128h1M2 129h1M14 129h1M22 129h1M39 129h1M45 129h1M2 130h1M16 130h1M19 130h1M34 130h2M8 131h1M16 131h1M44 131h1M27 132h3M6 133h2M11 134h1M19 134h1M41 134h1M8 135h1M16 135h1M24 135h1M46 135h1M11 136h1M27 136h1M34 136h1M38 136h1M12 137h1M30 137h2M22 138h1M33 138h1M35 138h1M46 138h1M14 139h1M28 139h1M35 140h1M49 140h1M21 141h1M25 141h1M29 141h1M0 142h1M8 142h1M15 142h1M28 142h1M31 142h1M39 142h2M11 143h1M16 143h1M27 143h1M33 143h1M49 143h1M9 144h1M34 144h1M36 144h1M5 145h1M14 145h1M45 145h1M28 146h1M28 147h1M39 147h1M10 148h1M18 148h1M31 148h1M39 148h1M44 148h1M31 149h1M39 149h2M24 150h1M31 150h2M43 150h1M45 150h1M14 151h1M20 151h2M25 151h1M28 151h1M35 151h1M38 151h1M41 151h1M9 152h1M18 152h2M24 152h1M11 153h1M31 153h1M39 153h1M42 153h1M46 153h1M5 154h1M23 154h1M27 154h2M6 155h1M35 155h1M44 155h1M17 156h1M25 156h1M28 156h1M39 156h1M24 157h1M28 157h1M45 157h1M47 157h1M15 158h1M20 158h1M25 158h1M39 158h1M12 159h1M24 159h1M33 159h1M43 159h1M31 160h1M34 160h1M2 161h1M18 161h1M30 161h1M45 161h2M13 162h1M20 162h1M13 163h1M22 163h1M31 163h2M22 164h1M24 164h1M28 164h1M46 164h1M18 165h1M25 165h1M27 165h1M46 165h1M0 166h1M2 166h1M32 166h1M16 167h1M27 167h2M44 167h1M12 168h1M23 168h1M31 168h1M3 169h1M14 169h1M18 169h1M28 169h1M2 170h1M29 170h1M31 170h1M33 170h1M43 170h1M36 171h1M5 172h1M14 172h2M39 173h1M8 174h1M13 174h1M16 175h1M37 175h1M41 175h1M47 175h1M8 176h1M29 176h1M10 177h1M16 177h1M19 177h1M31 177h1M41 177h1M31 178h1M36 178h1M1 179h1M9 179h1M16 179h1M19 179h1M21 179h1M23 179h1M29 179h1M36 179h1M19 180h1M23 180h2M30 180h1M42 180h2M9 181h1M12 181h1M24 181h1M32 181h1M35 181h1M39 181h1M46 181h1M6 182h1M9 182h1M20 182h2M26 182h1M16 183h1M18 183h1M20 183h1M25 183h1M37 183h1M46 183h1M20 184h1M23 184h1M37 184h1M45 184h1M12 185h1M16 185h2M27 185h1M34 185h2M19 186h1M41 186h1M17 187h1M28 187h1M30 187h1M4 188h1M12 188h1M31 188h1M28 189h1M43 189h1M8 190h1M34 190h1M43 190h1M18 191h1M21 191h1M24 191h1M27 191h1M30 191h1M2 192h1M26 192h1M44 192h1M2 194h1M31 195h1M7 197h1M13 198h1M29 198h2M26 199h1M35 199h1M28 200h1M30 201h2M43 201h1M39 203h1M14 204h1M44 204h1M2 205h1M12 205h1M16 205h1M30 206h2M2 207h1M47 207h1M43 208h1M10 209h1M10 210h1M24 211h1M14 212h1M24 212h1M26 212h1M29 212h1M43 212h1M8 213h1M19 213h1M44 214h1M43 215h2M3 217h2M30 217h1M7 218h1M28 218h3M14 219h1M12 221h1M46 221h1M19 222h1M43 222h1M3 223h1M10 223h1M26 223h1M29 224h1M3 225h1M29 225h1M38 225h1M38 226h1M46 226h1M31 227h1M46 227h1M17 228h1M38 229h1M35 230h1M19 231h1M14 232h1M29 232h1M41 232h1M26 234h1M0 235h1M2 235h1M0 236h1M28 236h1M43 236h1M12 237h1M18 238h2M46 238h1M14 239h1M2 242h1M19 242h1M36 242h1M40 242h1M43 242h1M4 244h1M29 244h1M38 244h1M26 245h1M4 246h1M30 246h1M4 247h1M26 247h1M43 247h1M27 248h1M30 248h1M8 249h1M27 249h1M1 250h1M24 250h1M30 250h1M51 250h1M3 251h1M18 251h1M20 251h1M27 251h1M6 252h1M17 252h1M36 252h1M17 253h1M22 253h1M50 253h1M1 254h1M27 254h1M36 254h1M10 255h2M11 256h1M17 256h1M24 256h1M41 256h1M46 256h1M21 258h1M27 258h1M33 258h1M37 258h1M40 258h1M44 258h1M9 259h2M31 259h1M34 259h2M10 260h1M19 260h1M0 262h1M16 262h1M48 262h1M3 263h1M24 263h1M10 264h1M33 264h1M35 264h1M38 264h1M44 264h1M10 265h1M18 265h1M22 265h1M27 265h1M0 266h1M8 266h1M14 266h1M17 266h1M19 266h1M38 266h1M40 266h1M27 267h1M33 267h1M35 267h1M5 268h1M12 268h1M30 268h1M39 268h1M49 268h1M2 269h1M18 269h1M22 269h1M25 269h1M27 269h1M30 269h1M8 270h1M18 270h1M36 270h1M41 270h1M3 271h1M16 271h1M21 271h2M29 271h1M37 272h1M43 272h1M6 273h1M35 273h1M37 273h1M40 273h1M47 273h1M5 274h1M9 274h1M15 275h1M22 275h1M33 275h1"/>
<path stroke="#f6a47c" d="M20 0h1M12 1h1M0 2h2M6 2h1M18 2h1M0 3h1M18 3h1M15 4h1M26 4h1M47 4h1M31 5h1M13 9h1M19 10h1M29 11h1M28 13h1M45 13h1M48 13h1M35 14h1M14 17h1M13 18h1M30 19h1M42 19h1M17 29h1M27 30h1M33 30h2M6 31h1M27 31h1M9 32h1M13 32h1M18 33h2M31 33h1M41 33h1M16 34h1M30 34h1M32 34h1M4 35h1M29 35h1M31 35h1M36 35h1M22 36h1M11 37h2M28 37h1M35 37h1M8 39h1M12 39h1M14 39h1M19 39h1M16 40h1M2 41h1M8 41h1M47 41h1M50 41h1M6 42h1M24 42h1M33 43h1M36 43h1M23 44h1M30 45h1M8 46h1M10 46h1M27 46h2M8 47h1M13 47h1M17 47h1M27 47h1M48 48h1M22 50h1M31 50h1M23 51h1M25 51h1M12 52h1M22 52h1M28 52h1M12 53h1M16 53h1M21 53h1M37 54h1M39 54h1M0 55h1M11 55h1M24 55h1M12 56h1M34 56h1M24 57h1M39 57h1M47 57h1M51 57h1M2 58h1M26 58h2M12 59h1M16 59h1M38 59h1M22 61h1M36 61h2M27 62h1M33 62h1M48 62h1M28 63h1M41 63h1M10 64h1M21 64h1M26 64h1M30 64h1M22 65h1M25 65h2M43 65h1M47 65h1M16 66h1M23 66h1M26 66h1M28 66h1M30 66h1M16 67h2M20 67h1M36 67h1M40 67h1M10 68h2M13 68h1M50 68h1M23 69h1M5 70h1M15 70h1M41 70h1M2 71h1M7 71h1M34 71h1M43 71h1M26 72h1M24 73h1M22 74h1M37 74h1M26 76h1M32 78h1M45 78h2M10 79h1M26 79h1M34 79h1M43 80h1M8 81h1M25 82h1M27 82h1M29 82h1M37 82h1M4 83h1M11 84h1M23 84h1M4 85h1M7 85h1M11 85h1M18 85h1M40 85h1M43 85h1M27 86h1M29 86h1M31 86h2M41 86h1M46 86h1M21 87h1M25 87h1M27 87h1M3 88h1M16 88h1M12 89h1M32 89h1M29 90h1M34 90h1M36 90h1M24 91h1M26 91h1M33 91h1M13 92h1M19 92h1M25 93h1M31 93h2M19 94h1M22 94h1M27 94h2M42 94h1M12 95h1M14 95h1M27 95h1M35 95h1M2 96h1M4 96h1M20 96h1M25 96h1M29 96h1M39 96h1M11 97h1M26 97h1M29 97h1M46 97h1M0 98h1M20 98h1M43 98h1M46 98h1M16 99h1M30 99h1M35 99h1M4 100h1M6 100h1M39 100h1M5 101h1M20 101h1M26 101h1M31 101h1M4 102h1M29 102h1M44 102h1M2 103h1M4 103h1M29 103h1M45 103h1M3 104h1M7 104h1M28 104h1M31 104h1M39 104h1M22 105h1M33 105h1M46 105h1M19 106h1M25 106h1M29 107h2M39 107h1M44 107h2M28 108h2M14 109h1M5 110h1M13 110h1M21 110h1M35 110h1M44 110h1M20 111h1M25 111h1M31 111h1M39 111h1M47 111h1M7 112h2M14 112h1M25 112h1M30 112h1M12 113h1M17 113h1M26 113h1M5 114h1M14 114h1M46 114h2M50 114h1M9 116h1M19 116h1M25 116h1M16 117h1M19 117h1M31 117h1M3 118h1M8 118h1M36 118h1M39 118h1M14 119h1M19 119h1M26 119h1M39 119h1M12 120h1M31 121h2M43 121h1M20 122h1M23 122h1M41 122h1M19 123h1M22 123h1M38 123h1M45 123h1M0 124h1M29 124h1M40 124h1M18 125h2M26 125h1M31 125h1M29 126h1M13 127h1M5 128h1M18 128h1M26 128h3M16 129h1M30 129h1M8 130h1M22 130h1M26 130h1M28 130h2M13 131h1M17 132h1M12 133h1M27 133h1M46 133h1M18 134h1M39 134h1M32 135h1M43 135h1M17 136h1M25 137h1M45 137h1M2 138h1M12 138h1M23 138h1M4 139h1M13 139h1M24 139h1M2 140h1M28 140h1M45 140h1M19 141h1M27 141h1M49 141h1M46 142h1M8 143h1M12 143h1M5 144h2M8 144h1M11 144h2M26 144h1M31 144h1M6 145h1M19 145h1M35 145h1M11 147h1M14 147h1M22 147h1M41 147h1M45 147h1M11 148h1M14 148h1M28 148h1M8 149h2M16 149h1M28 149h1M30 149h1M44 149h1M8 150h1M10 150h3M16 150h1M35 150h1M38 150h1M8 151h1M12 152h1M41 152h1M12 153h1M40 153h1M8 154h1M11 154h1M29 154h2M38 154h1M12 155h1M14 155h1M20 155h1M31 155h1M40 155h1M14 156h1M26 156h1M30 156h1M17 157h1M25 157h1M44 157h1M44 160h1M7 161h1M29 161h1M2 162h1M10 162h1M28 162h1M45 162h1M11 163h2M46 163h1M30 164h2M11 165h1M29 165h1M14 166h1M22 167h1M33 167h2M14 168h1M26 168h1M46 168h1M11 169h1M22 169h1M33 169h1M38 169h1M4 170h1M22 170h1M26 170h1M30 170h1M36 170h1M38 170h1M31 171h1M38 171h1M22 172h1M36 172h1M45 172h2M12 173h1M17 173h1M19 173h1M24 173h1M26 173h1M16 174h1M18 174h1M41 174h1M22 175h1M24 175h1M27 176h1M47 176h1M13 177h1M26 177h1M28 177h1M17 178h1M33 178h1M37 178h1M39 178h2M43 178h1M6 179h2M22 179h1M25 179h1M28 179h1M46 179h1M18 180h1M26 180h1M29 180h1M16 181h1M27 181h1M36 181h1M44 181h2M7 182h1M14 182h1M17 182h1M37 182h1M4 183h1M6 183h1M14 183h1M27 183h1M31 184h1M39 184h1M42 184h1M19 185h1M24 185h2M36 185h1M4 186h1M10 187h1M16 187h1M20 188h1M25 188h1M14 189h1M18 189h1M11 190h2M16 190h1M18 190h1M21 190h1M26 190h1M39 190h1M44 190h1M15 191h1M19 191h1M29 191h1M41 191h1M14 192h1M43 192h1M43 194h1M8 197h1M30 197h1M26 198h1M14 200h1M19 201h1M26 201h1M25 202h1M39 202h1M26 207h1M31 207h1M13 210h1M24 210h1M29 211h1M43 211h1M43 213h1M2 214h1M30 214h1M14 216h1M29 216h1M20 217h1M43 218h1M2 219h1M2 220h1M7 220h1M14 220h1M46 220h1M29 221h1M14 223h1M46 224h1M47 225h1M12 226h1M17 226h1M28 226h1M13 227h2M17 227h1M26 227h1M28 227h1M28 228h1M16 230h1M11 231h1M11 232h1M26 232h1M38 232h1M12 233h1M10 234h1M29 234h1M11 235h1M29 235h1M14 236h1M26 236h1M38 236h1M12 238h1M29 238h1M2 239h1M38 239h1M12 240h1M13 245h1M11 247h1M38 247h1M12 248h1M38 248h1M46 248h1M3 249h1M11 249h2M14 249h1M28 249h2M36 249h1M44 249h1M51 249h1M41 250h1M5 251h1M25 251h1M0 252h1M11 252h1M24 252h1M33 252h1M1 253h1M8 253h1M12 253h1M20 253h1M46 253h1M2 254h1M24 254h1M34 254h1M41 254h2M46 254h2M24 255h2M28 255h1M33 255h1M36 255h1M2 256h1M9 256h1M15 256h1M28 256h1M33 256h1M36 256h2M7 257h1M31 257h1M34 257h1M37 257h1M47 257h1M1 258h1M3 258h1M12 258h1M15 258h1M22 258h2M7 259h1M19 259h1M23 259h1M29 259h1M39 259h1M44 259h1M8 260h1M12 260h1M22 260h1M42 260h1M28 261h1M36 261h1M9 262h1M11 262h1M13 262h1M17 262h1M25 262h1M46 262h1M49 262h1M5 263h1M7 263h1M9 263h1M22 263h2M35 263h1M13 264h1M18 264h1M28 264h1M36 264h1M48 264h1M15 265h1M40 265h1M42 265h1M46 265h1M48 265h1M9 266h1M16 266h1M23 266h1M25 266h1M30 266h1M33 266h1M41 266h1M43 266h1M0 267h1M2 267h3M12 267h1M39 267h1M11 268h1M25 268h1M35 268h1M42 268h1M17 269h1M33 269h1M35 269h1M0 270h1M9 270h1M30 270h1M45 270h2M12 271h1M50 271h1M2 272h1M7 272h3M15 272h1M26 272h1M39 272h1M20 273h1M30 273h1M41 273h1M3 274h1M7 274h1M43 274h2M46 274h2M50 274h1M3 275h1M5 275h1M12 275h1M24 275h2M28 275h1M39 275h1"/>
<path stroke="#ab185a" d="M21 0h1M15 2h1M18 4h1M37 6h1M15 7h1M17 8h1M36 8h2M8 10h1M31 10h1M18 13h1M20 14h1M26 15h1M24 17h1M36 17h2M4 18h1M34 18h1M28 19h1M36 19h1M34 20h1M36 20h1M46 20h1M15 21h1M28 21h2M32 21h1M19 23h1M35 23h1M15 24h1M27 24h1M1 25h1M30 25h1M16 26h1M25 26h1M34 26h1M41 26h1M27 27h1M12 32h1M48 33h1M1 35h1M37 36h1M0 39h1M31 39h1M31 40h1M15 41h1M37 41h1M12 42h1M4 48h1M15 49h1M34 49h1M15 50h1M27 50h1M48 50h1M47 51h1M1 62h1M12 70h1M11 71h1M15 71h1M48 71h1M7 72h1M40 72h1M20 73h1M20 74h1M40 74h1M42 74h1M42 76h1M20 77h1M28 77h1M6 78h1M12 78h1M2 80h1M6 80h1M3 82h1M9 90h1M2 91h1M15 91h1M9 92h1M0 94h1M11 94h1M7 95h1M15 100h1M0 103h1M11 107h1M11 109h1M9 118h1M9 121h1M10 124h1M42 124h1M51 125h1M0 128h1M15 129h1M10 130h1M47 130h1M48 131h1M51 131h1M1 132h1M38 132h1M49 132h1M51 132h1M49 136h1M15 137h1M17 140h1M10 141h1M17 143h1M15 145h1M6 148h1M50 148h1M49 150h1M9 154h1M47 155h1M37 157h1M40 158h1M6 159h1M6 161h1M15 161h1M6 162h1M41 162h1M38 164h1M47 164h1M41 166h1M37 168h1M35 169h1M7 171h1M12 183h1M48 186h1M0 187h2M42 187h1M47 188h1M3 189h1M37 190h1M37 192h1M34 193h1M33 195h1M3 196h1M17 196h1M15 197h1M6 198h1M38 198h1M42 198h1M20 199h1M1 200h1M23 200h1M36 200h1M21 201h1M51 201h1M21 202h1M32 202h1M50 202h1M34 203h1M15 204h1M17 204h1M34 204h1M37 204h1M1 205h1M9 205h1M35 205h1M5 206h1M7 206h1M12 206h1M27 207h1M40 207h1M27 208h1M33 208h1M27 209h1M39 209h1M9 212h1M11 212h1M18 212h1M36 212h1M39 212h1M48 212h2M27 213h1M5 214h1M17 214h1M36 214h1M9 215h1M47 215h1M21 216h1M34 216h1M18 218h1M34 218h1M38 218h1M3 219h1M33 219h2M19 220h1M32 220h1M17 221h1M42 221h1M33 222h1M37 222h1M4 223h1M8 224h1M33 224h2M19 225h1M15 226h1M45 226h1M6 227h1M33 228h1M35 228h1M8 231h1M16 231h1M34 231h1M42 231h1M20 232h1M7 233h1M18 233h1M32 233h2M20 234h1M32 234h1M42 234h1M7 235h1M42 235h1M6 236h2M20 236h1M33 237h1M7 238h1M20 238h1M32 238h2M15 239h1M7 240h1M28 240h1M7 241h1M33 241h1M1 242h1M8 244h1M20 244h1M5 245h1M9 245h1M17 245h1M23 245h1M25 245h1M40 245h1M42 245h1M3 246h1M32 246h1M9 247h1M15 249h1M15 251h1M3 252h1M33 262h1"/>
<path stroke="#f05e42" d="M26 0h1M31 4h1M14 7h1M37 7h1M28 8h1M28 10h1M36 10h1M33 12h1M35 12h1M12 13h1M27 13h1M2 15h1M8 15h1M10 15h1M28 16h1M34 16h1M23 17h1M41 18h1M9 19h1M43 19h1M31 20h1M40 20h1M43 20h1M35 21h1M24 22h1M44 22h1M46 22h1M50 22h1M2 23h1M44 25h1M43 28h1M17 34h1M50 34h1M17 35h1M28 38h1M34 38h1M19 40h1M5 41h1M18 41h1M34 41h1M46 42h1M26 43h1M30 43h1M16 44h1M31 44h1M5 45h1M36 45h1M2 47h1M0 48h1M10 48h1M2 49h2M47 49h1M5 50h1M25 50h1M28 50h1M5 51h1M18 51h1M31 51h1M11 52h1M20 52h1M19 53h1M31 53h1M24 54h1M31 54h1M34 55h1M15 56h1M24 56h1M2 57h1M20 57h2M15 59h1M20 60h1M36 60h1M20 63h1M25 63h1M31 63h1M4 64h1M5 66h1M38 66h1M46 66h1M19 68h1M43 68h1M10 69h1M19 69h1M33 69h1M17 70h2M41 71h1M49 71h1M20 72h1M31 72h1M39 72h1M16 73h1M25 73h1M41 73h1M5 74h1M28 74h1M36 74h1M19 75h1M29 75h1M19 76h1M36 76h1M16 77h1M22 77h1M50 77h1M24 78h1M49 78h1M5 79h1M11 79h1M16 79h1M1 80h1M17 80h1M21 80h1M16 81h1M20 82h1M24 82h1M1 83h1M38 84h1M21 85h1M37 85h1M21 86h1M34 86h1M35 88h1M37 88h1M40 88h1M35 89h2M8 90h1M21 91h1M5 92h1M10 92h1M16 92h1M29 92h1M21 93h1M4 94h1M9 94h1M33 94h1M3 95h1M42 95h1M27 96h1M47 96h1M34 97h1M38 97h1M16 98h1M36 98h1M20 99h1M27 99h1M32 99h1M44 99h2M33 100h1M36 100h1M9 101h2M13 101h1M23 101h1M22 102h1M35 102h1M37 102h1M39 102h1M47 102h1M20 103h1M38 103h1M47 103h1M23 104h1M9 105h1M11 105h1M21 105h1M24 105h1M35 105h1M23 106h1M34 106h1M6 107h1M35 107h1M42 107h1M36 108h1M45 109h2M20 110h1M30 110h1M33 110h1M37 110h1M34 111h1M46 111h1M4 112h1M28 112h1M41 112h1M44 112h1M0 113h1M6 113h1M35 113h1M44 113h1M25 114h1M43 114h1M16 115h1M27 115h1M32 115h1M47 115h1M1 116h1M5 116h1M18 116h1M21 116h1M23 116h1M45 116h1M41 118h2M18 119h1M21 119h1M9 120h1M20 120h1M38 120h1M45 120h1M16 121h1M27 121h1M35 121h2M41 121h1M7 122h1M31 122h2M35 122h1M7 123h1M16 124h1M36 124h1M41 124h1M47 124h1M50 124h1M21 125h1M28 126h1M40 126h1M42 126h1M45 126h1M18 127h1M20 127h1M27 127h1M17 128h1M21 128h1M33 128h1M45 128h1M7 129h1M33 129h1M37 129h1M42 129h1M3 130h1M20 130h1M41 130h1M43 130h1M37 131h1M5 132h1M21 132h2M45 132h1M21 133h1M42 133h1M44 133h1M37 134h1M45 134h1M18 135h1M20 135h1M25 135h1M9 136h1M22 136h2M29 136h1M40 136h1M43 136h1M10 137h1M24 137h1M34 137h1M39 137h1M3 138h1M8 138h2M41 138h1M20 139h1M36 139h1M37 140h2M43 140h1M36 141h1M42 141h1M33 142h1M36 142h1M2 143h1M18 143h1M38 143h1M18 144h1M21 144h1M9 145h1M33 146h1M35 146h1M34 147h1M15 148h1M32 148h1M18 150h1M21 150h1M42 150h1M2 151h1M34 151h1M37 151h1M46 151h1M15 152h1M21 152h2M40 152h1M45 152h1M6 153h1M16 153h1M15 154h1M20 154h1M39 154h1M22 155h1M32 155h1M15 156h1M18 156h1M23 156h1M34 156h1M45 156h1M16 157h1M18 157h1M23 158h1M26 158h2M34 158h1M18 159h2M23 159h1M33 160h1M37 160h1M39 160h1M27 161h1M44 161h1M32 162h1M46 162h2M6 163h1M8 163h1M39 163h1M23 164h1M39 164h1M34 165h1M5 166h1M21 167h1M5 168h1M16 168h1M18 168h1M24 168h2M28 168h2M32 168h1M39 169h1M45 169h1M16 170h1M18 170h1M24 170h2M37 170h1M47 170h1M8 172h1M25 172h1M5 173h1M21 173h1M32 173h1M20 174h1M22 174h1M30 174h1M35 174h1M9 175h1M20 176h1M37 176h1M23 177h3M16 178h1M27 179h1M46 180h1M18 181h1M21 181h1M22 182h2M31 182h2M23 183h1M18 184h1M10 185h1M15 186h1M23 187h1M19 188h1M36 189h1M33 190h1M2 191h1M5 191h1M9 191h1M28 192h1M31 192h1M40 192h1M46 192h1M7 193h1M26 193h1M46 193h1M17 194h1M31 194h1M46 194h1M30 195h1M35 195h1M26 196h1M29 196h1M46 197h1M25 198h1M41 198h1M25 199h1M31 199h1M41 199h1M5 201h1M22 201h1M41 202h1M8 203h1M38 203h1M41 203h1M2 204h1M10 205h1M19 205h1M29 205h1M43 205h1M47 206h1M12 207h1M35 207h1M38 207h1M43 207h1M26 208h1M47 208h1M47 209h1M35 210h1M41 210h1M7 211h1M10 211h1M14 211h1M31 211h1M45 212h1M29 213h1M39 213h1M4 214h1M8 214h1M29 214h1M2 215h2M7 215h1M16 215h1M46 215h1M8 216h1M35 216h1M18 217h1M31 217h1M43 217h1M16 218h1M31 218h1M46 218h1M1 219h1M18 219h1M22 219h1M10 220h1M28 221h1M10 222h1M36 222h1M39 222h1M22 223h1M35 223h1M46 223h1M3 224h1M22 225h1M44 225h2M22 226h1M29 226h1M29 227h1M39 227h1M30 229h1M18 230h1M39 230h2M46 230h1M5 231h1M22 231h1M25 231h1M35 231h1M45 231h1M7 232h1M36 232h1M4 233h1M36 233h1M45 234h2M4 235h1M8 235h1M22 235h1M39 235h1M43 235h1M24 236h1M46 236h1M19 237h1M22 237h1M39 237h1M41 237h1M47 237h1M22 238h1M35 238h1M41 238h1M30 239h1M41 239h1M2 240h1M10 240h1M16 240h1M22 240h1M29 241h1M35 241h1M41 241h1M44 241h2M3 242h1M10 242h1M18 242h1M34 242h1M0 243h1M31 244h1M37 244h1M39 244h1M43 244h1M8 245h1M15 245h1M21 245h1M37 245h1M10 246h1M16 246h1M26 246h1M31 246h1M43 246h1M46 246h1M10 247h1M18 247h1M22 247h1M35 247h1M18 249h1M20 249h1M26 249h1M42 249h1M18 252h1M31 252h1M31 253h1M31 254h1M20 255h1M30 255h1M21 256h1M42 257h1M16 259h1M30 259h1M18 261h1M19 262h1M43 262h1M5 264h1M43 264h1M47 266h1M18 271h1M44 272h1M47 272h1M8 273h1M19 273h1M31 273h1M18 274h2M42 275h1"/>
<path stroke="#f7c6a6" d="M33 0h1M49 0h1M25 1h1M28 1h1M23 2h1M26 2h1M11 3h1M16 3h1M6 5h1M27 5h1M29 5h1M36 5h1M39 5h1M14 13h1M32 14h1M13 17h1M13 20h1M7 27h1M11 28h2M16 28h1M24 28h1M33 28h2M37 28h1M26 29h1M46 29h1M3 30h1M14 30h1M32 30h1M1 31h1M10 31h2M16 31h1M49 31h1M20 32h1M27 33h1M12 34h3M22 34h1M26 34h1M29 34h1M28 35h1M30 35h1M0 36h1M10 36h1M39 36h1M10 37h1M31 37h1M2 38h1M9 38h2M14 38h1M9 39h1M17 39h1M20 39h1M25 39h1M47 39h1M5 40h1M7 40h1M25 40h1M36 40h1M13 41h1M23 41h1M33 41h1M14 42h1M35 42h1M48 42h1M3 43h1M22 43h1M27 43h1M7 44h1M11 44h1M26 44h1M50 44h1M13 45h1M27 45h1M32 45h1M14 46h1M22 46h1M24 46h1M33 46h1M42 46h1M0 47h1M37 47h1M6 48h1M22 48h1M27 49h1M11 50h1M16 50h1M29 50h1M12 51h1M27 51h1M32 52h1M32 53h1M14 55h1M17 55h2M25 55h1M32 55h1M13 56h1M21 56h1M39 56h1M8 57h1M18 57h1M30 57h1M32 57h1M35 57h1M42 57h1M11 58h1M18 58h1M35 58h1M45 58h1M13 59h1M22 59h1M24 59h1M27 59h1M29 59h1M36 59h2M7 60h1M16 60h1M24 60h1M35 60h1M37 60h1M2 61h1M35 61h1M30 62h1M47 62h1M8 63h1M10 63h1M22 63h1M24 63h1M26 63h2M8 64h1M19 64h1M23 64h1M37 64h1M39 64h2M42 65h1M4 66h1M22 66h1M27 66h1M8 67h1M30 67h1M16 68h1M32 68h1M3 69h1M14 69h1M6 70h1M31 71h1M25 72h1M30 72h1M13 73h2M26 73h1M27 76h1M30 76h1M32 76h1M27 77h1M30 77h1M32 77h1M39 78h1M5 80h1M26 80h1M32 80h1M35 80h1M27 81h1M31 81h1M41 81h1M2 82h1M4 82h1M45 82h2M17 83h1M30 83h1M39 83h1M0 84h1M3 84h1M43 84h1M36 85h1M30 86h1M0 87h1M12 87h1M16 87h1M30 87h1M45 87h1M23 89h1M30 90h1M32 91h1M46 91h1M27 92h1M36 92h1M13 93h2M30 93h1M35 93h1M23 95h1M10 96h1M19 97h1M28 97h1M10 98h1M14 98h1M24 98h1M26 98h1M14 99h1M19 100h1M4 101h1M28 102h1M3 103h1M7 103h1M29 105h2M28 106h2M5 108h1M7 113h1M28 113h1M11 114h1M28 115h1M30 115h1M24 116h1M13 117h2M29 118h1M4 119h1M10 119h1M36 119h1M2 120h1M19 120h1M22 120h1M0 122h1M3 122h1M11 122h1M19 122h1M44 123h1M4 124h1M13 124h1M25 124h1M0 125h1M13 125h1M46 126h1M3 127h1M3 128h1M24 128h1M31 128h1M3 129h1M10 129h1M26 129h1M14 130h1M31 130h1M39 130h1M8 132h1M26 132h1M39 132h1M22 133h1M26 133h1M39 133h1M14 134h1M10 135h2M19 135h1M13 137h1M4 138h1M30 138h1M22 140h1M39 140h1M11 141h1M4 142h1M25 142h1M0 143h1M14 144h1M24 144h1M30 144h1M35 144h1M37 144h1M8 145h1M12 145h1M28 145h1M42 145h1M4 146h2M14 146h1M2 147h1M12 147h1M40 147h1M17 148h1M35 148h1M43 148h1M2 149h1M42 149h1M2 150h1M11 151h1M43 151h1M7 152h1M26 152h1M31 152h1M44 152h1M3 153h1M0 154h1M44 154h1M7 155h1M13 156h1M31 156h1M14 157h1M31 157h1M14 158h1M46 158h1M11 159h1M2 160h1M4 160h1M14 160h1M14 161h1M14 162h1M4 164h1M27 164h1M10 167h1M12 167h1M17 168h1M20 168h1M38 168h1M2 169h1M10 169h1M3 171h1M12 171h1M41 171h1M3 172h1M11 172h1M30 172h1M37 172h1M44 173h1M4 174h1M44 174h1M30 175h1M39 175h1M44 175h1M14 176h1M36 176h1M38 176h1M44 176h1M4 177h2M0 178h1M8 178h1M10 178h1M13 178h1M28 178h1M2 179h1M41 179h1M10 180h2M3 181h1M14 181h2M22 181h1M0 182h1M8 182h1M28 182h1M7 183h1M41 183h1M44 183h1M7 184h1M13 184h1M17 184h1M35 184h1M4 185h1M26 185h1M37 185h1M13 186h1M17 186h1M37 186h1M39 186h1M31 187h1M35 187h1M11 188h1M13 188h1M35 188h1M31 189h1M29 190h1M13 191h1M37 191h1M43 191h1M14 193h1M43 193h1M43 195h1M2 197h1M14 197h1M14 198h1M18 198h1M14 199h1M41 200h1M43 202h1M30 204h1M14 205h1M30 205h1M10 206h1M13 207h1M30 209h1M30 211h1M30 212h1M39 215h1M13 218h1M12 223h1M43 225h1M10 226h1M13 228h1M16 228h1M46 228h1M4 229h1M12 229h1M26 229h1M28 229h1M10 233h1M43 233h1M11 234h1M10 235h1M2 236h1M14 240h1M14 245h1M14 246h1M51 247h1M1 248h1M9 248h1M17 248h1M23 248h1M25 248h1M32 248h1M9 249h1M37 249h1M39 249h1M0 250h1M8 250h1M29 250h1M34 250h2M46 250h1M50 250h1M2 251h1M13 251h1M17 251h1M32 251h1M10 252h1M32 252h1M0 253h1M2 253h1M36 253h1M0 254h1M5 254h1M7 254h1M11 254h1M51 254h1M9 255h1M12 255h1M21 255h2M29 255h1M0 256h1M13 256h2M4 257h1M6 257h1M8 257h1M10 257h1M20 257h1M22 257h1M25 257h1M32 257h1M38 257h1M7 258h2M31 258h1M34 258h1M38 258h1M22 259h1M38 259h1M41 259h1M17 260h1M45 260h1M9 261h1M11 261h1M16 261h2M25 261h1M35 261h1M38 261h1M1 262h1M7 262h1M44 262h1M21 263h1M37 263h1M7 264h1M26 264h1M37 264h1M45 264h1M49 264h1M7 265h2M14 265h1M45 265h1M37 266h1M45 266h2M1 267h1M26 267h1M2 268h1M15 268h2M37 268h1M26 269h1M37 269h2M43 269h2M47 269h2M1 270h1M10 270h1M13 270h1M29 270h1M1 271h1M5 271h1M30 271h1M35 271h1M43 271h1M5 272h1M24 272h1M42 272h1M46 272h1M28 273h2M32 273h2M44 273h1M51 273h1M2 274h1M14 274h1M23 274h1M30 274h2M37 274h1M49 274h1M10 275h2M21 275h1M43 275h1M48 275h1"/>
<path stroke="#f9e3d2" d="M35 0h1M48 0h1M27 1h1M47 1h1M17 2h1M34 2h1M12 3h2M17 3h1M20 3h1M23 3h1M33 3h2M50 3h1M17 4h1M36 4h1M34 5h1M31 6h1M8 29h1M35 29h2M50 29h1M11 30h1M47 31h1M27 32h1M36 34h1M25 37h1M46 37h1M24 40h1M37 40h1M36 42h1M47 42h1M32 44h1M7 46h1M30 47h1M2 48h1M23 48h1M29 49h1M27 52h1M9 54h1M9 55h1M9 56h1M32 56h1M47 56h1M50 56h1M9 57h1M13 57h1M12 58h1M42 58h1M8 59h1M42 59h1M47 59h1M7 61h1M9 61h1M12 61h1M47 61h1M0 62h1M16 62h1M22 62h2M32 62h1M23 63h1M9 64h1M36 64h1M47 64h1M29 65h1M36 65h1M14 67h1M4 68h2M13 69h1M30 73h1M30 74h1M26 75h1M32 75h1M29 76h1M37 78h1M15 79h1M3 80h1M29 81h1M36 81h1M36 83h1M40 83h1M37 84h1M13 85h1M13 86h1M26 86h1M26 87h1M3 89h1M13 91h1M30 91h1M30 92h1M26 95h1M13 96h1M8 98h1M7 100h1M22 100h1M26 106h1M30 106h1M41 109h1M13 111h1M4 116h1M12 117h1M12 118h2M26 118h1M31 118h1M50 119h1M29 122h1M3 123h1M44 125h1M7 127h1M28 129h1M13 130h1M39 131h1M4 132h1M14 132h1M14 136h1M7 137h1M13 138h1M12 139h1M51 141h1M3 142h1M3 145h1M8 146h1M3 147h3M13 147h1M5 148h1M29 148h1M13 149h1M38 149h1M5 151h1M7 151h1M35 152h1M0 156h1M5 157h1M26 157h1M12 158h1M12 160h1M26 163h1M12 165h1M4 168h1M13 170h1M37 171h1M4 173h1M3 175h2M3 176h1M17 177h1M48 178h1M0 179h1M14 179h1M42 181h1M44 182h1M11 183h1M2 184h1M36 184h1M38 185h1M0 186h1M40 186h1M26 187h1M44 187h1M14 188h1M12 189h1M17 193h1M2 198h1M12 199h1M18 200h1M11 201h1M13 220h1M12 222h1M12 234h1M13 239h1M2 248h1M5 248h1M47 248h1M16 249h1M9 250h1M9 251h1M16 252h1M45 252h2M6 253h1M8 255h1M48 256h1M23 257h1M50 257h1M26 258h1M13 259h1M20 259h1M33 259h1M39 260h1M46 260h1M4 261h1M6 261h1M13 261h1M34 261h1M34 262h1M1 265h1M50 265h1M5 266h1M20 266h1M24 266h1M6 267h1M37 267h1M9 268h1M17 268h1M34 268h1M43 268h1M19 269h1M21 269h1M5 270h1M7 270h1M37 270h1M20 271h1M12 272h1M27 272h1M29 272h1M24 273h1M41 274h1M6 275h1"/>
<path stroke="#f26b49" d="M43 0h1M6 1h1M19 5h1M47 6h1M12 7h1M35 7h2M10 8h1M18 10h1M26 10h1M33 10h1M18 11h1M27 12h1M7 13h1M35 13h1M29 14h1M47 14h1M50 14h1M34 15h2M47 15h1M26 17h1M16 19h1M35 19h1M50 19h1M3 20h1M38 20h1M16 21h1M38 21h1M50 21h1M3 22h1M16 22h1M10 29h1M20 29h1M48 32h1M21 35h1M23 36h1M2 37h1M15 38h1M23 38h1M30 38h1M39 38h1M12 40h1M26 40h1M6 41h1M24 41h1M26 41h1M10 43h1M16 43h1M19 44h1M26 45h1M2 46h1M15 46h1M26 47h1M28 47h1M3 48h1M20 48h2M34 48h1M17 49h1M21 49h1M30 49h1M4 51h1M24 51h1M41 51h1M28 54h1M33 54h1M4 55h1M21 55h1M20 56h1M31 56h1M15 57h1M19 57h1M49 57h1M48 58h1M23 59h1M4 60h1M6 60h1M26 60h1M20 61h1M43 61h1M6 62h1M25 62h1M31 62h1M15 64h1M17 64h1M33 64h1M5 65h1M20 65h1M24 65h1M11 66h1M15 66h1M44 66h1M18 67h1M28 67h1M39 67h1M28 68h1M44 68h1M5 69h1M36 69h1M40 69h1M50 69h1M8 70h1M33 70h1M37 70h1M40 70h1M49 70h1M18 71h1M0 72h1M3 72h1M8 72h1M16 72h1M33 72h1M19 74h1M21 74h1M36 75h1M44 75h1M47 75h1M13 76h2M34 76h1M39 76h1M34 77h1M44 77h1M50 78h1M9 79h1M48 79h1M18 80h1M9 81h1M24 81h2M28 81h1M14 82h1M30 82h1M6 84h1M29 84h1M39 84h1M28 85h1M0 86h1M18 86h1M38 87h1M43 87h2M32 88h1M43 88h1M2 89h1M18 89h1M41 89h1M34 91h1M12 93h1M34 93h1M39 93h1M45 93h1M41 94h1M34 95h1M32 96h1M35 96h1M49 96h1M33 97h1M45 97h1M21 98h1M23 98h1M32 98h2M2 99h1M9 99h2M21 99h1M24 99h1M26 99h1M40 99h1M2 100h1M5 100h1M17 100h1M30 100h1M45 100h1M16 101h1M19 101h1M25 101h1M38 101h1M23 102h1M25 102h1M32 102h1M36 102h1M38 102h1M23 103h1M30 103h1M32 103h1M41 103h1M5 104h1M34 104h1M42 104h2M6 105h1M13 105h1M32 105h1M38 105h1M12 106h1M16 106h1M18 106h1M22 106h1M27 106h1M31 106h1M42 106h1M0 107h1M27 107h1M12 108h1M32 108h1M38 108h1M40 108h1M6 109h1M10 109h1M19 109h1M39 109h1M10 110h1M28 110h1M31 110h1M34 110h1M42 110h1M46 110h1M48 110h1M27 111h1M35 111h1M45 111h1M32 112h1M35 112h1M50 112h1M23 113h1M33 113h1M41 113h1M50 113h1M23 114h1M32 114h1M5 115h1M10 115h1M21 115h1M35 115h1M40 115h1M48 115h1M32 116h1M34 116h1M43 116h1M46 116h1M5 117h1M22 117h1M44 117h1M47 117h1M49 117h1M16 118h1M19 118h1M32 119h3M37 119h1M41 119h1M45 119h1M23 120h1M27 120h1M33 120h1M42 120h1M6 121h1M45 121h1M5 122h1M27 122h1M34 122h1M40 122h1M2 123h1M26 123h1M32 123h1M6 124h1M24 124h1M23 125h1M32 125h1M34 125h1M36 125h1M31 126h1M33 126h3M37 126h1M10 127h1M21 127h1M42 127h1M6 128h1M14 128h1M19 128h1M4 129h2M17 129h1M24 129h1M17 130h1M23 130h1M42 130h1M45 130h1M34 131h1M2 132h1M32 132h1M3 133h1M8 133h1M13 133h1M37 133h1M8 134h1M27 134h1M34 134h1M5 135h1M21 135h1M42 135h1M2 136h1M24 136h1M30 136h1M18 137h1M21 137h1M28 137h1M41 137h1M18 138h1M25 138h1M28 138h1M16 139h1M18 139h1M35 139h1M8 140h1M19 140h1M23 140h1M5 141h1M8 141h1M30 141h1M44 141h1M46 141h1M5 142h1M7 142h1M23 142h1M26 142h1M35 142h1M38 142h1M7 143h1M22 143h1M25 143h1M28 143h1M34 143h1M36 143h1M45 144h2M23 145h1M32 145h1M15 146h1M21 146h1M23 146h1M36 146h1M41 146h1M9 147h1M15 147h2M20 147h1M33 147h1M37 147h1M47 147h1M2 148h1M21 148h1M24 148h1M33 148h1M20 149h1M22 149h2M36 149h1M6 151h1M29 151h1M32 151h1M23 152h1M25 152h1M37 152h1M19 153h1M21 153h1M27 153h1M34 153h1M45 153h1M10 154h1M21 154h1M31 154h1M35 154h2M35 156h1M43 156h1M47 156h1M15 157h1M32 158h1M27 159h1M34 159h1M22 160h2M46 160h1M34 162h1M39 162h1M5 163h1M16 163h1M28 163h1M37 163h1M5 164h1M9 164h1M12 164h1M19 164h1M21 164h1M43 164h1M45 164h1M23 165h1M21 166h2M24 166h1M19 167h1M31 167h1M2 168h2M9 168h2M43 168h1M7 169h1M43 169h1M10 170h1M19 170h1M21 170h1M44 170h1M46 170h1M10 171h1M34 171h1M9 172h1M20 173h1M23 173h1M28 173h1M33 173h1M35 173h1M48 173h2M10 174h1M24 174h1M33 174h1M36 174h1M5 175h1M19 175h1M27 175h1M31 175h1M11 176h1M23 176h1M31 176h1M39 176h1M22 177h1M29 177h1M46 177h1M22 178h1M46 178h1M43 179h1M1 180h1M37 181h1M43 182h1M15 183h1M15 184h1M34 184h1M21 185h1M43 185h1M20 186h1M22 186h2M33 186h1M46 186h1M20 187h1M25 187h1M34 187h1M43 187h1M47 187h1M2 188h1M15 188h1M5 189h1M34 189h1M39 189h1M45 189h1M20 191h1M31 191h2M39 191h1M46 191h1M22 192h1M24 193h1M29 193h1M49 193h1M24 196h1M47 196h1M4 197h2M16 197h1M23 197h1M29 197h1M19 198h1M28 198h1M31 198h1M28 199h1M30 199h1M44 200h1M16 201h1M39 201h1M41 201h1M4 202h1M10 204h1M41 204h1M38 205h1M44 207h1M3 208h1M19 209h1M29 209h1M43 209h1M11 210h1M38 211h1M47 211h1M31 213h1M13 214h1M22 215h1M4 216h1M12 216h1M2 217h1M22 218h1M11 219h1M29 219h1M46 219h1M4 220h1M8 220h1M28 220h1M14 221h1M3 222h1M35 222h1M31 224h1M43 224h1M2 225h1M4 225h1M26 226h1M35 226h1M22 227h1M29 228h1M39 228h1M43 228h3M22 229h1M31 229h1M36 230h1M39 231h1M41 231h1M46 231h1M9 232h1M18 232h2M8 233h1M39 233h1M0 234h1M5 234h1M16 234h1M31 234h1M19 235h1M27 235h1M41 235h1M18 236h1M35 236h1M0 238h1M28 238h1M26 239h1M28 239h2M13 240h1M15 241h1M30 241h1M15 242h1M29 242h1M15 243h1M24 243h1M28 243h2M36 243h1M10 244h1M14 244h1M46 244h1M0 245h1M45 245h1M13 246h1M36 248h1M10 249h1M25 249h1M31 249h1M25 250h1M19 251h1M22 251h1M24 251h1M28 251h1M19 253h1M18 254h1M18 255h1M31 255h1M30 256h1M0 257h1M18 258h1M15 260h1M27 261h1M42 261h1M10 263h1M18 263h1M9 264h1M31 266h1M44 267h1M4 268h1M3 270h1M24 270h1M39 270h1M31 271h1M33 271h1M39 271h1M18 272h1M15 273h1M18 273h1M26 273h1M4 274h1"/>
<path stroke="#7d1f5a" d="M15 1h1M17 11h1M6 18h1M25 19h2M25 21h1M36 21h1M9 22h1M15 22h1M17 22h1M47 23h1M26 24h1M33 24h1M15 25h1M25 25h1M35 25h2M11 26h1M20 26h2M23 26h1M20 27h1M24 27h1M3 31h1M33 32h1M1 33h1M15 35h1M49 35h1M18 39h1M18 42h1M48 45h1M47 55h1M10 56h1M1 69h1M20 76h1M42 78h1M25 89h1M0 90h1M48 90h1M50 90h1M47 92h1M49 92h1M48 97h1M51 98h1M49 99h1M10 105h1M49 106h1M3 111h1M1 114h1M15 114h1M1 115h1M42 116h1M48 119h1M48 120h1M42 122h1M47 126h1M0 135h1M7 135h1M48 135h1M50 135h1M48 136h1M49 138h1M17 142h1M50 143h1M51 146h1M49 147h1M50 153h1M42 157h1M49 157h1M1 158h1M6 160h1M1 161h1M42 165h1M49 169h1M1 171h1M48 174h1M49 186h1M50 188h1M0 192h1M33 193h1M45 193h1M0 194h1M3 194h1M0 195h1M20 195h1M32 196h1M3 197h1M3 198h1M34 199h1M3 201h1M15 202h1M40 202h1M5 203h1M23 204h1M21 205h1M18 206h1M21 208h1M15 209h1M4 210h1M18 211h1M0 213h1M21 213h1M48 213h1M48 217h1M21 218h1M48 218h1M51 218h1M47 219h1M49 219h1M20 220h1M27 220h1M42 220h1M5 221h1M42 222h1M44 222h1M11 224h1M5 225h1M11 225h1M0 226h1M18 227h1M6 228h1M20 229h1M3 230h1M6 230h1M33 230h1M33 232h1M15 235h1M9 237h1M32 237h1M3 239h1M25 240h1M27 240h1M20 241h1M42 241h1M8 242h1M6 244h1M38 246h1M41 247h1"/>
<path stroke="#f4835b" d="M16 1h1M31 1h1M19 2h1M14 3h1M31 3h1M12 4h1M5 5h1M29 6h1M35 6h1M16 9h1M24 11h1M26 11h1M19 13h1M26 13h1M47 13h1M2 14h1M34 14h1M1 15h1M4 16h1M19 16h1M35 16h1M2 18h1M23 18h1M26 18h1M18 19h1M41 19h1M38 22h1M15 26h1M38 27h1M47 27h1M29 28h1M0 29h1M24 29h1M27 29h1M31 30h1M31 31h1M21 33h1M16 36h1M30 36h1M33 37h1M41 37h1M50 37h1M7 38h1M47 38h1M4 39h1M16 39h1M21 39h1M23 39h1M4 40h1M8 40h1M17 41h1M17 42h1M24 43h1M29 43h1M27 44h1M35 44h1M47 44h2M17 45h1M31 45h1M13 46h1M17 46h1M19 46h1M6 47h1M19 47h1M24 47h1M33 47h1M36 47h1M8 48h1M18 48h1M33 48h1M28 49h1M31 49h1M45 52h1M14 53h1M28 53h1M34 54h1M40 54h1M7 55h1M22 55h1M10 57h1M31 57h1M46 57h1M19 58h3M25 58h1M32 58h1M49 58h1M25 59h1M34 59h1M44 59h1M50 59h1M11 60h1M21 60h1M23 60h1M39 60h1M17 61h1M32 61h2M13 62h1M38 63h1M42 63h1M25 64h1M18 65h1M28 65h1M9 66h1M17 66h1M21 66h1M36 66h1M42 66h1M24 67h1M6 68h1M17 68h1M31 68h1M33 68h1M42 68h1M46 68h1M20 69h1M24 69h1M31 69h1M41 69h1M7 70h1M19 70h3M25 70h1M35 70h1M14 71h1M20 71h1M22 72h1M29 72h1M35 72h1M17 73h1M21 73h1M31 73h1M9 74h1M28 75h1M8 76h1M49 76h1M35 77h1M39 77h1M45 77h1M4 78h1M25 79h1M31 79h1M46 79h1M22 80h1M11 81h1M34 81h1M43 81h1M10 82h1M15 82h1M43 82h1M24 84h2M30 84h1M34 84h2M14 85h1M19 85h1M34 85h1M5 86h1M15 86h1M25 86h1M36 86h1M22 87h1M34 87h1M36 87h1M17 88h1M39 88h1M46 88h1M16 89h1M31 89h1M19 90h1M24 90h1M28 92h1M32 92h1M18 93h2M22 93h1M12 94h2M29 94h3M30 95h1M19 96h1M48 96h1M17 97h1M22 97h2M35 97h2M41 97h1M11 98h1M31 98h1M47 98h1M6 99h1M8 99h1M38 99h1M42 99h1M46 99h1M18 100h1M27 100h1M29 100h1M42 100h1M1 101h1M27 101h1M33 101h1M35 101h2M46 102h1M13 103h1M19 103h1M21 103h1M35 103h1M39 103h1M46 103h1M13 104h1M16 104h1M30 104h1M32 104h1M45 104h1M12 105h1M26 105h1M49 105h1M38 106h1M17 107h1M22 107h2M47 107h1M18 108h1M23 108h1M31 108h1M39 108h1M44 108h2M47 108h1M1 109h1M20 109h1M24 109h1M31 109h1M33 109h1M37 109h1M43 109h2M47 109h1M0 110h1M2 110h1M18 110h1M25 110h1M29 110h1M38 110h1M41 110h1M51 110h1M1 111h1M7 111h1M9 111h1M23 111h1M48 111h1M11 112h1M21 112h1M34 112h1M22 113h1M27 113h1M39 113h1M22 114h1M26 114h1M39 114h1M19 115h1M22 115h2M22 116h1M28 116h1M30 116h1M39 116h2M24 117h1M27 117h2M46 117h1M2 118h1M24 118h1M32 118h1M44 118h1M46 118h1M50 118h1M16 119h2M10 120h1M36 120h1M40 120h2M0 121h1M14 121h1M17 121h1M38 121h2M42 121h1M24 122h1M43 122h1M46 122h1M16 123h2M43 123h1M46 123h1M27 124h1M38 124h1M49 124h1M20 125h1M25 125h1M37 125h1M9 126h1M19 126h1M26 126h1M32 126h1M39 126h1M25 127h2M35 127h1M8 128h1M11 128h1M23 128h1M35 128h1M9 129h1M13 129h1M19 129h1M29 129h1M7 130h1M9 130h1M24 130h1M27 130h1M20 131h1M38 131h1M46 131h1M13 132h1M35 132h1M25 133h1M28 133h1M30 133h1M35 133h1M22 134h1M31 134h1M33 134h1M17 135h1M27 135h1M35 135h1M21 136h1M39 136h1M44 136h2M5 137h1M23 137h1M32 137h1M35 137h1M5 138h1M20 138h1M31 138h1M45 138h1M9 139h1M27 139h1M29 139h1M31 139h1M33 139h1M43 139h1M46 139h1M4 140h1M12 140h1M16 140h1M25 140h1M36 140h1M48 140h1M16 141h1M20 141h1M24 141h1M28 141h1M41 141h1M29 142h1M34 142h1M9 143h1M19 143h2M31 143h1M44 143h1M10 144h1M20 144h1M27 144h1M32 144h1M41 144h1M18 145h1M20 145h1M41 145h1M43 145h1M0 146h1M2 146h1M6 146h1M9 146h1M19 146h1M24 146h1M37 146h1M42 146h1M46 146h1M25 147h1M32 147h1M35 147h2M42 147h1M46 147h1M42 148h1M18 149h1M25 149h1M45 149h1M19 150h1M25 150h1M27 150h1M39 150h2M44 150h1M46 150h1M10 151h1M27 151h1M39 152h1M23 153h1M26 153h1M30 153h1M38 153h1M2 154h1M12 154h1M24 154h1M19 155h1M23 155h1M26 155h1M30 155h1M36 155h1M42 155h1M45 155h1M16 156h1M21 156h1M23 157h1M30 157h1M46 157h1M0 158h1M18 158h1M24 158h1M28 158h1M2 159h1M21 159h1M25 159h1M31 159h1M44 159h1M16 160h1M20 160h1M24 160h2M27 160h1M43 160h1M45 160h1M23 161h2M34 161h1M24 162h1M30 162h1M43 162h1M23 163h1M2 164h1M16 164h1M18 164h1M25 164h1M43 165h1M10 166h1M25 166h1M28 166h2M43 166h2M46 166h1M2 167h1M11 167h1M24 167h2M32 167h1M46 167h1M15 168h1M15 169h1M17 169h1M21 169h1M23 169h1M25 169h1M29 169h1M34 169h1M41 169h1M27 170h1M34 170h1M2 171h1M15 171h2M26 171h1M46 171h1M16 172h2M48 172h1M6 173h1M15 173h1M18 173h1M27 173h1M37 173h1M41 173h1M43 173h1M46 173h2M27 174h1M39 174h1M43 174h1M20 175h2M25 175h1M34 175h1M12 176h1M15 176h1M24 176h1M42 176h1M45 176h1M18 177h1M21 177h1M6 178h2M18 178h1M20 178h1M23 178h1M29 178h2M35 178h1M10 179h2M15 179h1M17 179h1M32 179h1M37 179h1M6 180h1M8 180h2M27 180h2M36 180h3M45 180h1M19 181h1M34 181h1M43 181h1M18 182h2M24 182h1M36 182h1M10 183h1M19 183h1M38 183h1M16 184h1M19 184h1M24 184h1M28 185h1M32 185h1M9 186h1M35 186h1M9 187h1M11 187h1M21 187h2M32 187h1M46 187h1M26 188h1M36 188h1M11 189h1M15 189h1M17 189h1M20 189h1M24 189h1M40 189h1M15 190h1M20 190h1M24 190h1M30 190h1M26 191h1M19 193h1M31 193h1M22 194h1M30 194h1M2 195h1M14 195h1M29 195h1M7 196h1M10 196h1M35 196h1M39 197h1M8 198h1M11 198h1M43 199h1M30 200h1M29 201h1M29 202h1M2 203h1M10 203h1M30 203h1M29 204h1M47 205h1M14 207h1M13 209h1M2 210h1M43 210h1M31 212h1M28 213h1M3 214h1M28 214h1M39 214h1M2 216h1M43 216h1M46 216h1M26 217h1M35 217h1M39 217h1M4 218h1M31 219h1M43 219h1M29 220h2M26 225h1M31 225h1M46 225h1M31 226h1M30 227h1M2 228h1M26 228h1M30 228h1M7 229h1M16 229h1M29 229h1M38 230h1M45 230h1M47 230h1M26 231h1M12 232h1M38 233h1M47 233h1M36 234h1M41 234h1M26 235h1M29 236h2M45 236h1M47 236h1M10 237h1M29 237h1M35 237h1M16 238h1M11 239h2M31 239h1M46 239h1M13 241h1M40 241h1M10 243h1M30 243h1M44 243h1M18 244h1M36 244h1M44 244h1M36 245h1M36 247h1M6 248h1M22 248h1M22 250h1M0 251h1M6 251h1M12 251h1M31 251h1M26 253h1M41 255h1M50 255h1M6 256h2M40 256h1M36 257h1M0 258h1M3 259h1M17 259h1M20 260h1M28 260h1M8 261h1M10 261h1M15 261h1M47 261h1M15 262h1M21 262h1M42 262h1M25 263h1M49 263h1M6 264h1M0 265h1M4 265h1M12 265h1M16 265h1M43 265h1M1 266h1M3 266h1M11 266h1M20 267h1M40 267h1M43 267h1M1 268h1M22 268h1M28 268h1M38 268h1M47 268h1M20 269h1M40 269h1M4 270h1M17 270h1M26 270h1M44 270h1M4 271h1M7 271h1M17 271h1M24 271h1M35 272h1M10 273h1M25 273h1M38 273h1M16 274h1M51 274h1M9 275h1M31 275h1M47 275h1"/>
<path stroke="#e33641" d="M21 1h1M19 4h1M1 5h1M4 8h1M33 9h1M35 9h1M6 10h2M5 11h1M9 11h1M12 11h1M30 13h1M33 13h1M8 14h1M21 14h2M33 14h1M12 15h1M23 15h1M25 15h1M30 15h1M33 15h1M29 16h1M12 17h1M29 17h1M31 17h1M35 17h1M29 18h1M31 18h1M45 18h1M48 18h1M29 19h1M1 20h2M33 20h1M10 21h1M14 21h1M34 21h1M44 21h1M12 22h1M14 22h1M23 23h1M16 24h1M44 24h1M6 26h1M10 27h1M13 27h1M15 30h1M34 34h1M8 36h1M17 36h1M21 36h1M29 38h1M32 39h1M42 39h1M32 40h1M50 40h1M19 41h1M28 41h1M25 42h1M40 42h1M2 43h1M5 43h1M35 45h1M5 46h1M35 49h1M6 50h1M17 50h1M8 52h1M19 52h1M33 52h1M5 53h2M11 54h1M15 54h1M21 54h1M47 54h1M7 56h1M4 58h1M4 59h1M4 61h1M18 61h1M28 61h1M5 62h1M33 66h1M7 69h1M45 69h1M4 70h1M11 70h1M4 71h1M38 71h1M1 72h1M4 72h1M36 72h1M48 72h1M1 73h1M47 73h1M2 74h1M23 74h1M44 74h1M9 75h1M18 75h1M23 75h1M39 75h2M0 76h1M9 76h1M12 76h1M47 76h1M51 76h1M0 77h1M9 77h1M11 77h1M18 77h1M36 77h1M34 78h1M44 78h1M51 78h1M33 79h1M39 79h1M16 80h1M33 80h1M19 82h1M44 82h1M21 83h1M28 86h1M17 87h1M20 87h1M5 88h1M1 89h1M2 90h1M42 90h1M37 93h1M10 94h1M50 95h1M33 96h1M46 96h1M17 99h1M25 100h1M47 100h1M15 101h1M37 101h1M8 102h2M11 102h1M34 102h1M10 103h1M6 104h1M33 104h1M36 104h1M44 104h1M10 106h1M40 106h1M47 106h1M10 107h1M0 108h1M22 110h1M2 111h1M10 111h1M33 111h1M37 111h2M6 112h1M45 112h1M10 113h1M21 113h1M36 113h1M42 113h2M34 114h1M36 114h1M33 116h1M37 116h1M49 116h1M10 117h1M15 117h1M32 117h1M38 118h1M6 119h1M42 119h1M6 120h1M25 120h1M20 121h1M9 122h1M48 122h1M10 123h1M15 123h1M37 123h1M41 123h1M47 123h1M33 124h1M27 125h1M40 125h1M42 125h1M8 126h1M8 127h1M17 127h1M45 127h1M1 128h1M4 128h1M22 128h1M36 128h1M34 129h1M38 129h1M41 129h1M5 130h2M44 130h1M3 131h1M17 131h1M32 131h1M35 131h1M40 131h1M24 132h1M23 133h1M40 133h1M7 134h1M9 134h1M16 134h1M32 134h1M43 134h1M3 135h1M3 136h1M36 136h1M3 137h1M6 137h1M38 138h1M43 138h2M18 140h1M40 140h3M16 142h1M43 142h1M45 142h1M23 143h1M48 143h1M51 143h1M44 145h1M32 146h1M38 146h1M6 147h1M21 147h1M37 149h1M32 152h1M42 152h1M20 153h1M3 156h1M9 156h1M36 156h1M6 157h1M9 157h1M34 157h1M36 157h1M39 157h1M9 158h1M33 158h1M35 158h1M38 158h1M44 158h2M8 159h1M32 159h1M39 159h1M15 160h1M21 160h1M9 162h1M35 162h1M48 162h1M48 163h1M15 164h1M32 164h1M40 164h1M48 164h1M35 165h1M38 165h2M47 165h1M6 168h1M32 169h1M42 169h1M48 169h1M9 170h1M32 170h1M21 171h1M23 172h1M32 172h1M9 173h1M21 174h1M32 176h1M43 177h1M4 178h1M21 180h1M33 183h1M1 186h1M8 186h1M8 188h1M37 188h1M8 189h1M33 191h1M16 192h1M21 192h1M27 192h1M4 193h1M8 193h1M23 193h1M44 193h1M45 194h1M16 195h1M19 195h1M36 195h1M19 196h1M22 196h1M31 196h1M22 197h1M31 197h1M45 197h1M33 198h1M7 199h1M23 199h1M25 200h1M31 200h1M25 201h1M27 201h1M36 201h1M38 201h1M6 202h1M22 202h1M24 202h1M28 202h1M38 202h1M44 202h1M46 202h1M49 202h1M15 203h1M40 203h1M18 204h1M25 204h1M3 206h1M35 206h1M39 206h1M36 207h1M46 207h1M8 208h1M45 208h1M31 209h1M38 209h1M40 209h2M44 209h1M7 210h1M46 210h1M8 211h1M19 211h1M26 211h1M45 211h1M7 212h1M28 212h1M41 212h1M11 213h1M18 214h1M31 214h1M37 214h1M41 214h1M11 215h1M19 215h1M28 215h1M31 215h1M40 215h1M10 216h1M28 216h1M7 217h1M27 217h1M40 218h1M45 218h1M5 219h1M15 219h2M19 219h1M35 219h1M23 220h1M40 220h1M10 221h2M24 221h1M36 221h1M45 221h1M22 222h1M28 223h1M44 223h1M19 224h1M28 225h1M35 225h1M37 225h1M39 225h1M36 226h1M23 227h2M27 227h1M40 227h2M44 227h1M5 228h1M10 228h1M25 228h1M31 228h1M36 228h2M40 228h1M47 229h1M31 230h1M43 230h2M28 231h1M4 232h1M27 232h1M6 233h1M23 233h1M9 234h1M37 234h1M40 234h1M47 235h1M23 236h1M39 236h1M0 237h1M28 237h1M40 237h1M43 237h1M31 238h1M44 238h1M27 239h1M39 239h1M40 240h2M43 240h1M10 241h1M16 241h1M38 241h1M46 241h1M26 242h1M30 242h1M12 243h1M16 243h1M39 243h1M17 244h1M3 245h1M10 245h1M19 245h1M22 245h1M12 246h1M25 246h1M1 247h1M15 247h1M33 250h1M20 252h1M43 253h1M30 258h1M31 260h1M0 269h1M24 269h1M48 273h1M15 274h1M38 274h1M4 275h1M19 275h2"/>
<path stroke="#e9423e" d="M21 2h1M19 3h1M3 4h1M11 6h1M28 7h1M12 8h1M32 8h1M12 9h1M29 9h1M36 9h1M9 10h1M20 10h1M31 11h1M9 12h1M11 12h1M29 12h1M34 12h1M32 13h1M37 16h1M34 17h1M9 18h1M22 18h1M35 18h1M24 19h1M38 19h1M35 20h1M2 21h1M8 21h1M13 21h1M33 21h1M31 22h1M47 22h1M26 23h1M2 24h1M14 24h1M15 27h1M22 27h1M37 27h1M21 30h1M25 34h1M37 34h1M49 34h1M50 35h1M15 36h1M48 36h1M17 37h1M48 37h1M8 38h1M24 39h1M50 39h1M23 40h1M42 40h1M32 41h1M8 42h2M15 42h1M34 42h1M15 43h1M31 43h1M43 46h1M15 47h1M20 51h1M33 51h1M25 52h1M11 53h1M17 53h1M33 56h1M5 59h1M33 59h1M5 60h1M15 62h1M5 64h1M31 64h1M1 65h1M15 65h1M5 67h1M7 67h1M19 67h1M44 67h1M7 68h1M18 69h1M10 70h1M45 70h1M48 70h1M1 71h1M10 71h1M21 71h1M10 72h2M18 72h1M47 72h1M19 73h1M37 73h1M51 73h1M8 74h1M39 74h1M45 74h1M50 74h1M33 76h1M2 77h1M4 77h2M7 77h1M10 77h1M14 77h1M19 77h1M33 77h1M43 77h1M46 77h1M51 77h1M7 78h1M14 78h1M23 78h1M36 78h1M21 79h1M9 80h1M19 80h1M34 80h1M2 81h1M6 81h1M20 81h1M38 83h1M33 84h1M33 85h1M33 87h1M19 88h1M5 89h1M5 90h1M21 90h1M4 91h1M8 91h1M19 91h1M2 92h1M12 92h1M20 92h2M33 92h1M37 92h1M10 93h2M25 94h1M36 94h3M5 95h1M9 95h1M33 95h1M46 95h1M6 96h1M37 96h1M9 97h1M14 97h1M25 97h1M1 98h1M34 98h1M45 98h1M18 99h2M37 99h1M35 100h1M37 100h1M8 101h1M39 101h1M48 101h1M10 102h1M45 102h1M5 103h1M18 103h1M34 103h1M8 105h1M44 105h1M48 105h1M6 106h1M9 106h1M32 106h1M36 107h1M15 108h1M19 108h1M34 108h1M9 110h1M15 110h2M27 110h1M36 110h1M32 111h1M36 111h1M43 111h1M40 112h1M43 112h1M37 113h1M45 113h1M12 114h1M35 114h1M41 114h1M45 114h1M0 115h1M11 115h1M42 115h1M44 115h1M34 117h1M15 118h1M37 118h1M5 120h1M15 121h1M33 121h2M33 122h1M51 122h1M24 123h1M34 123h1M3 124h1M8 124h1M37 124h1M3 125h1M5 125h2M22 125h1M43 125h1M36 126h1M43 126h1M6 127h1M15 127h1M43 127h1M37 128h1M36 129h1M51 129h1M38 130h1M18 131h1M42 131h1M23 132h1M42 132h1M44 132h1M47 132h1M1 133h1M20 133h1M1 134h1M29 135h1M19 136h1M26 136h1M33 136h1M42 136h1M1 137h1M22 137h1M38 137h1M34 138h1M36 138h1M10 139h1M38 139h1M44 139h1M5 140h1M10 140h1M33 141h1M40 141h1M47 141h2M41 142h1M29 143h1M46 143h1M2 144h1M23 144h1M21 145h1M33 145h2M23 147h1M20 148h1M36 148h1M48 148h1M1 149h1M6 149h1M32 149h1M9 150h1M15 150h1M48 150h1M33 151h1M1 152h1M46 152h1M1 153h1M33 153h1M37 153h1M41 153h1M1 154h1M16 155h1M21 155h1M8 158h1M42 159h1M5 160h1M7 160h1M33 161h1M37 161h1M16 162h1M18 162h1M21 162h1M33 162h1M18 163h1M38 163h1M45 163h1M35 164h1M30 165h1M37 165h1M44 165h1M39 166h1M7 167h1M9 167h1M18 167h1M39 167h1M27 168h1M40 168h1M27 169h1M36 169h1M5 170h1M6 171h1M24 171h1M32 171h1M39 171h1M48 171h1M6 172h1M21 172h1M34 172h1M41 172h1M47 172h1M25 173h1M6 174h1M9 174h1M32 174h1M8 175h1M9 176h1M22 176h1M32 177h1M25 178h1M32 178h1M18 179h1M34 180h1M33 181h1M1 182h1M1 183h1M21 184h1M6 185h1M45 185h1M32 186h1M34 186h1M8 187h1M18 188h1M43 188h1M4 189h1M23 189h1M25 189h1M32 189h2M36 190h1M4 192h1M6 192h1M15 192h1M35 192h1M46 195h1M5 196h1M16 196h1M45 196h1M27 197h1M44 197h1M16 198h1M23 198h1M45 198h1M22 199h1M29 199h1M44 199h1M16 200h1M47 200h1M4 201h1M47 201h1M18 202h1M7 203h1M47 203h1M51 203h1M27 204h1M39 204h1M47 204h1M22 205h1M27 205h1M41 205h1M46 205h1M26 206h1M44 206h1M7 208h1M31 208h1M41 208h1M3 209h1M22 209h1M47 210h1M11 211h1M25 211h1M34 211h1M19 212h1M40 212h1M12 213h1M22 213h1M19 214h1M40 214h1M46 214h1M18 215h1M26 216h1M5 217h1M16 217h1M19 217h1M22 217h1M28 217h1M10 218h1M19 218h1M35 218h2M44 218h1M10 219h1M28 219h1M16 220h1M24 220h1M1 221h1M7 221h1M40 221h1M8 222h1M11 222h1M48 222h1M8 223h1M40 223h1M28 224h1M39 224h1M7 226h1M32 226h1M34 226h1M44 226h1M34 227h2M44 229h2M19 230h1M25 230h1M2 231h1M24 231h1M31 231h1M37 231h1M15 232h1M25 232h1M39 232h1M19 233h1M22 233h1M41 233h1M18 234h1M35 234h1M5 235h1M36 235h1M40 235h1M4 236h2M31 236h1M40 236h1M24 237h1M37 238h1M39 238h2M4 239h1M8 239h1M18 239h1M44 239h1M24 240h1M29 240h1M35 240h1M37 240h1M12 241h1M18 241h1M34 241h1M36 241h1M13 242h1M26 243h1M45 243h1M12 244h1M16 244h1M22 244h1M33 244h1M35 244h1M12 245h1M24 245h1M31 245h1M34 245h1M43 245h1M33 246h1M36 246h1M39 246h1M2 247h2M23 247h1M31 247h2M42 247h1M45 247h2M40 249h1M18 253h1M39 265h1M25 267h1M8 269h1M49 273h1"/>
<path stroke="#ed503e" d="M31 2h1M21 5h1M21 6h1M26 7h1M19 8h1M27 8h1M25 9h1M28 9h1M35 10h1M47 10h1M25 11h1M28 11h1M30 11h1M12 12h1M25 12h1M31 12h1M36 12h1M4 13h1M21 13h1M25 13h1M29 13h1M19 14h1M28 14h1M10 16h1M23 16h2M4 17h1M30 17h1M12 18h1M10 19h1M21 19h1M44 19h1M48 19h1M9 20h1M16 20h1M50 20h1M12 21h1M30 22h1M41 22h1M16 23h1M32 23h1M41 23h1M19 24h1M35 24h1M44 26h1M41 27h1M5 31h1M21 31h1M39 31h1M8 32h1M30 33h1M35 34h1M22 35h1M34 35h1M7 37h1M27 38h1M27 39h1M29 40h1M9 41h1M29 41h1M28 43h1M28 44h1M20 46h1M45 46h1M47 47h1M17 48h1M28 48h1M6 49h2M19 49h1M7 50h1M35 50h1M34 51h1M51 51h1M1 52h1M7 52h1M10 52h1M24 52h1M34 53h1M6 54h1M28 55h1M33 55h1M6 56h1M19 56h1M25 56h1M34 57h1M32 59h1M15 61h1M25 61h1M49 61h1M17 62h1M18 64h1M42 67h1M34 68h1M12 69h1M17 69h1M38 69h1M46 69h1M43 70h1M36 71h1M8 73h1M36 73h1M48 73h1M4 74h1M51 74h1M4 75h2M22 75h1M51 75h1M5 76h1M44 76h1M8 77h1M1 78h1M2 79h1M28 80h1M39 80h1M21 81h1M20 83h1M13 84h1M20 84h2M24 85h1M8 86h1M17 86h1M19 86h1M24 87h1M36 88h1M40 89h1M43 89h1M11 90h1M11 91h1M28 91h1M37 91h1M18 92h1M3 93h1M50 93h1M6 94h1M38 96h1M47 97h1M9 98h1M19 98h1M50 98h1M1 99h1M16 100h1M20 100h1M23 100h1M34 100h1M46 101h1M24 102h1M27 102h1M36 103h1M48 103h1M9 104h1M21 104h1M35 104h1M37 105h1M21 106h1M36 106h1M41 106h1M43 106h1M33 107h1M38 107h1M3 108h1M7 108h1M33 108h1M35 108h1M37 108h1M41 108h1M46 108h1M51 108h1M32 109h1M42 109h1M6 110h1M17 110h1M0 111h1M42 111h1M44 111h1M9 112h1M23 112h1M31 112h1M11 113h1M18 113h1M32 113h1M48 113h1M16 114h1M21 114h1M33 114h1M42 114h1M24 115h1M36 115h2M43 115h1M10 116h1M20 117h1M23 118h1M1 119h1M32 120h1M34 120h1M49 121h1M21 122h1M37 122h1M39 122h1M9 123h1M36 123h1M39 123h1M49 123h1M9 124h1M18 124h1M34 124h1M46 125h1M19 127h1M22 127h1M32 127h1M37 127h1M32 128h1M23 129h1M43 129h2M11 130h1M21 130h1M32 130h1M37 130h1M47 131h1M18 132h1M36 132h1M40 132h2M11 133h1M18 133h1M34 133h1M45 133h1M5 134h1M21 134h1M24 134h1M23 135h1M33 135h1M41 135h1M44 135h1M35 136h1M37 136h1M41 136h1M16 137h1M26 137h1M27 138h1M8 139h1M21 139h1M32 139h1M39 139h1M32 140h1M34 140h1M6 141h1M23 141h1M34 141h1M38 141h1M43 141h1M9 142h1M42 142h1M44 142h1M1 143h1M5 143h1M21 143h1M32 143h1M42 143h2M45 143h1M16 144h1M28 144h1M33 144h1M25 145h1M9 148h1M22 148h1M37 148h1M40 148h1M11 149h1M34 150h1M37 150h1M41 150h1M1 151h1M15 151h2M42 151h1M45 151h1M20 152h1M15 153h1M25 153h1M36 153h1M43 153h1M37 154h1M40 154h1M18 155h1M6 156h1M40 156h1M44 156h1M15 159h1M22 159h1M45 159h1M32 160h1M47 160h1M16 161h1M32 161h1M41 161h1M5 162h1M8 162h1M19 162h1M44 162h1M21 163h1M25 163h1M40 163h1M34 164h1M6 165h1M21 165h1M18 166h1M47 166h2M15 167h1M23 167h1M29 167h1M37 167h1M41 167h1M45 167h1M16 169h1M20 170h1M33 171h1M49 171h1M7 172h1M20 172h1M28 172h1M39 172h1M23 174h1M37 174h1M32 175h2M6 176h1M34 176h1M46 176h1M9 177h1M37 177h1M33 179h2M45 179h1M33 180h1M6 181h1M20 181h1M46 182h1M22 183h1M34 183h1M33 184h1M16 186h1M21 186h1M18 187h1M23 188h1M16 189h1M2 190h1M5 190h1M10 190h1M40 190h1M46 190h1M10 191h1M45 191h1M19 192h1M25 192h1M36 192h1M2 193h1M16 194h1M28 194h1M47 194h1M23 195h1M44 195h2M24 197h1M22 198h1M35 198h1M44 198h1M46 198h1M16 199h1M27 199h1M36 199h1M39 199h1M5 200h1M22 200h1M24 200h1M39 200h1M28 201h1M48 201h1M44 203h1M46 203h1M48 203h1M12 204h1M36 204h1M38 204h1M49 204h1M24 205h1M44 205h1M16 206h1M19 206h1M19 207h1M29 207h1M12 208h1M38 208h1M46 208h1M16 209h1M25 209h1M46 209h1M8 210h1M16 210h1M38 210h1M44 210h1M16 211h1M22 211h1M16 213h1M18 213h1M20 213h1M36 213h1M20 214h1M24 214h1M8 215h1M12 215h1M15 215h1M45 215h1M31 216h1M39 216h1M11 218h1M8 219h1M39 219h1M22 220h1M35 220h1M39 220h1M41 220h1M2 221h1M8 221h1M22 221h1M39 221h1M31 222h2M46 222h1M1 223h1M7 223h1M23 223h1M32 223h1M39 223h1M15 224h1M44 224h1M27 225h1M30 226h1M39 226h1M47 226h1M7 227h1M11 227h1M37 227h1M2 229h1M9 229h1M35 229h1M29 230h1M32 230h1M34 230h1M30 231h1M36 231h1M44 231h1M0 233h1M17 233h1M30 233h2M45 233h1M19 234h1M24 234h1M16 236h1M22 236h1M37 236h1M41 236h1M44 236h1M16 237h1M31 237h1M45 237h1M4 238h1M45 238h1M35 239h1M40 239h1M45 239h1M6 240h1M15 240h1M26 240h1M33 240h1M46 240h1M2 241h1M22 241h1M43 241h1M0 242h1M12 242h1M22 242h1M32 242h1M44 242h3M34 243h1M46 243h1M30 244h1M20 245h1M29 245h1M39 245h1M22 246h1M29 246h1M34 246h2M29 247h1M37 247h1M39 247h2M20 248h1M31 250h1M38 250h1M44 252h1M43 254h1M3 255h1M43 255h2M31 256h1M30 260h1M31 261h1M38 262h1M31 265h1M38 265h1M31 268h1M4 269h1M3 272h1M19 272h1M39 273h1"/>
<path stroke="#d5224a" d="M3 3h1M21 4h1M28 6h1M17 7h1M31 7h1M16 8h1M18 8h1M25 8h1M31 8h1M12 10h1M25 10h1M29 10h1M36 11h1M37 13h1M27 14h1M11 15h1M24 15h1M29 15h1M37 15h1M21 16h1M33 17h1M16 18h1M31 19h1M33 19h1M37 19h1M10 20h1M14 20h1M46 21h1M22 22h1M32 22h3M39 22h1M12 23h2M25 23h1M34 23h1M1 24h1M12 24h1M17 24h1M23 24h1M12 25h1M22 25h1M7 26h1M31 26h1M20 28h1M19 31h1M16 33h1M49 33h1M51 34h1M47 35h1M49 36h2M36 37h1M50 38h1M33 39h1M25 41h1M37 42h1M25 43h1M50 43h1M19 45h1M5 48h1M5 49h1M50 50h1M5 52h1M15 53h1M20 53h1M5 55h1M20 55h1M5 58h1M15 58h1M19 59h1M3 62h1M42 62h1M15 63h1M33 63h1M17 65h1M1 66h1M9 71h1M12 71h1M37 72h1M49 72h1M3 73h1M5 73h1M33 73h1M44 73h1M47 74h2M33 75h1M4 76h1M12 77h1M2 78h1M18 78h1M27 78h2M6 79h1M12 79h1M23 80h1M33 81h1M15 84h1M1 87h1M5 87h1M9 89h1M11 89h1M28 89h1M33 89h1M28 90h1M4 92h1M5 94h1M24 94h1M46 94h1M11 95h1M47 95h1M0 97h1M37 98h1M15 99h1M43 100h1M49 100h1M34 101h1M47 101h1M49 101h1M21 102h1M8 103h1M49 103h1M8 104h1M20 104h1M49 104h1M0 105h1M43 107h1M22 108h1M3 109h1M7 109h1M40 110h1M4 111h1M42 112h1M16 113h1M34 113h1M49 115h1M1 117h1M17 117h1M33 117h1M37 117h1M48 117h1M33 118h1M7 121h1M48 121h1M49 122h1M7 125h2M10 125h1M38 125h1M50 125h1M7 126h1M51 126h1M40 127h1M38 128h1M41 128h1M40 129h1M15 131h1M48 132h1M9 133h1M15 133h1M36 134h1M42 134h1M1 135h1M34 135h1M51 135h1M1 136h1M9 137h1M17 137h1M15 138h1M7 141h1M9 141h1M10 143h1M41 143h1M33 149h1M51 154h1M37 155h1M7 156h1M33 156h1M38 156h1M41 156h1M21 157h1M33 157h1M40 157h2M36 158h1M41 158h1M37 159h1M5 161h1M36 161h1M39 161h1M15 162h1M33 164h1M41 164h1M7 165h1M33 165h1M49 165h1M7 166h1M36 166h1M35 167h1M38 167h1M34 168h1M36 168h1M39 168h1M41 168h1M45 168h1M49 168h1M1 169h1M5 169h1M9 169h1M7 170h1M35 170h1M9 171h1M42 171h1M47 171h1M1 173h1M7 173h1M6 175h1M23 181h1M1 185h1M8 185h1M21 188h1M3 190h1M5 192h1M18 192h1M45 192h1M15 193h1M22 193h1M4 194h1M7 194h1M15 194h1M20 194h1M44 194h1M15 195h1M22 195h1M8 196h1M23 196h1M25 196h1M34 196h1M36 196h1M25 197h1M28 197h1M36 197h1M32 198h1M19 199h1M45 199h1M29 200h1M49 200h1M8 201h1M37 201h1M20 202h1M36 202h1M27 203h1M3 204h1M45 204h1M6 205h1M8 205h1M45 205h1M8 206h1M22 206h1M37 206h1M24 207h1M45 207h1M16 208h1M9 209h1M11 209h1M35 209h1M33 210h1M36 210h1M39 210h1M5 211h1M41 211h1M44 211h1M46 211h1M12 212h1M15 212h1M22 212h1M35 212h1M41 213h1M21 214h2M32 215h1M36 215h1M15 216h2M22 216h1M25 216h1M32 216h1M11 217h1M34 217h1M44 217h1M2 218h1M5 218h1M15 218h1M40 219h1M11 220h1M37 220h1M32 221h1M35 221h1M38 221h1M41 221h1M50 221h1M2 222h1M6 222h1M18 222h1M40 222h1M17 223h2M25 223h1M30 223h1M2 224h1M23 224h1M23 225h1M32 227h1M36 227h1M21 228h1M23 228h2M24 230h1M27 230h1M41 230h1M18 231h1M16 232h1M31 232h1M35 232h1M44 232h1M9 233h1M15 233h2M35 233h1M37 233h1M8 234h1M17 234h1M23 234h1M25 234h1M34 234h1M23 235h1M17 236h1M36 236h1M15 237h1M23 237h1M5 238h1M22 239h2M8 240h2M36 240h1M38 240h1M45 240h1M9 241h1M17 241h1M23 241h1M27 241h1M20 242h1M24 242h1M27 242h1M31 242h1M17 243h1M23 243h1M25 243h1M40 243h1M5 244h1M23 244h1M28 244h1M1 245h1M46 245h1M15 246h1M27 246h2M42 246h1M20 247h2M19 252h1M18 256h1M20 256h1M19 263h1M31 263h1M38 275h1"/>
<path stroke="#cb1b4f" d="M21 3h1M27 7h1M24 8h1M35 8h1M47 8h1M9 9h1M15 9h1M17 9h1M24 9h1M15 11h1M18 14h1M24 14h1M4 15h1M18 15h1M21 15h1M27 15h1M50 15h1M20 17h2M32 17h1M20 18h1M2 19h1M11 19h2M8 20h1M9 21h1M11 21h1M27 21h1M37 21h1M2 22h1M8 22h1M19 22h1M31 23h1M33 23h1M14 25h1M19 25h1M14 26h1M17 26h1M22 26h1M30 26h1M19 27h1M51 27h1M12 31h1M25 32h1M49 32h1M50 33h1M9 36h1M21 37h1M23 37h1M33 38h1M48 38h1M31 41h1M20 44h1M15 48h1M36 48h1M4 49h1M8 49h1M21 50h1M15 51h1M3 53h1M19 54h1M6 57h1M3 66h1M37 69h1M9 70h1M8 71h1M9 72h1M19 72h1M28 72h1M50 72h1M4 73h1M10 73h1M49 73h1M49 74h1M15 76h1M49 77h1M5 78h1M9 78h1M38 80h1M15 81h1M19 83h1M1 86h1M6 87h1M19 87h1M19 89h1M15 90h1M33 90h1M37 90h1M5 91h1M9 91h2M4 93h1M15 94h1M10 95h1M36 95h2M17 96h1M1 97h1M49 97h1M11 101h1M0 104h1M47 105h1M8 106h1M1 107h1M36 109h1M40 111h1M16 112h1M1 113h1M40 113h1M51 113h1M10 114h1M49 114h1M15 115h1M33 115h1M0 116h1M1 118h1M6 118h1M34 118h1M15 120h1M8 123h1M33 123h1M48 123h1M7 124h1M41 125h1M41 126h1M12 127h1M9 128h1M40 128h1M15 130h1M49 130h1M21 131h1M33 131h1M41 131h1M45 131h1M3 132h1M37 132h1M51 133h1M3 134h1M47 134h1M36 135h1M46 136h1M33 137h1M16 138h1M6 139h1M44 140h1M1 141h1M37 141h1M40 143h1M1 144h1M1 145h1M48 149h1M9 153h1M32 153h1M33 155h1M8 157h1M7 159h1M35 159h1M17 160h1M36 160h1M42 160h1M9 161h1M17 163h1M36 165h1M9 166h1M35 166h1M42 167h1M35 168h1M20 171h1M1 174h1M34 174h1M40 174h1M7 177h1M33 182h1M33 185h1M5 187h1M7 187h1M33 187h1M37 189h1M9 192h1M20 192h1M32 192h1M11 193h1M18 193h1M25 193h1M48 193h1M6 194h1M8 194h2M18 194h2M24 194h1M32 194h1M38 194h1M24 195h1M7 198h1M15 198h1M6 200h1M35 200h1M23 201h1M49 201h1M8 202h1M1 203h1M22 203h1M25 203h1M33 203h1M35 203h1M37 203h1M6 204h1M9 204h1M20 204h1M48 204h1M11 205h1M39 205h2M27 206h1M38 206h1M40 206h1M46 206h1M3 207h1M25 207h1M39 207h1M19 208h1M42 208h1M17 210h1M32 210h1M40 210h1M9 211h1M27 211h1M40 211h1M42 211h1M5 212h1M44 212h1M49 213h1M7 214h1M11 214h1M42 214h1M5 215h1M24 215h1M34 215h1M5 216h1M11 216h1M27 216h1M38 216h1M15 217h1M17 217h1M25 217h1M37 217h2M42 217h1M24 218h2M41 218h1M50 219h1M1 220h1M25 220h1M19 221h1M23 221h1M48 221h1M4 222h1M17 222h1M45 222h1M2 223h1M15 223h1M48 223h1M36 224h1M41 224h1M1 225h1M23 226h3M33 226h1M41 226h1M25 227h1M32 228h1M15 229h1M19 229h1M36 229h2M40 229h1M5 230h1M9 230h1M15 230h1M23 230h1M37 230h1M40 231h1M3 232h1M5 232h1M23 232h1M3 233h1M20 233h1M34 233h1M40 233h1M4 234h1M27 234h1M6 235h1M31 235h1M45 235h1M32 236h1M4 237h1M7 237h1M25 237h1M8 238h1M21 238h1M27 238h1M43 238h1M51 238h1M24 239h2M23 240h1M42 240h1M44 240h1M8 241h1M21 241h1M25 241h1M21 242h1M23 242h1M25 242h1M41 242h1M20 243h1M27 243h1M19 244h1M27 244h1M32 244h1M34 244h1M40 244h2M6 245h1M18 245h1M33 245h1M1 246h1M6 246h1M18 246h1M6 247h3M27 247h1M6 255h1M15 257h1M4 263h1M19 267h1M6 269h1M21 272h1"/>
<path stroke="#dd2c45" d="M20 5h1M16 7h1M2 8h1M27 9h1M37 9h1M33 11h1M7 12h1M31 13h1M9 15h1M27 16h1M31 16h1M9 17h1M5 18h1M10 18h1M17 18h1M32 18h1M7 20h1M24 20h1M29 20h1M37 20h1M44 20h1M1 21h1M17 21h1M19 21h1M43 21h1M47 21h1M11 22h1M23 22h1M36 22h1M43 22h1M29 23h1M11 24h1M31 24h1M10 25h1M16 25h1M5 26h1M13 26h1M47 26h1M40 27h1M5 29h1M19 30h1M16 32h1M35 33h1M7 35h1M37 35h1M7 36h1M36 36h1M51 38h1M2 40h1M6 40h1M15 45h1M50 45h1M50 46h1M19 48h1M20 49h1M36 49h1M21 51h1M6 52h1M33 53h1M20 54h1M33 57h1M33 58h1M17 63h1M21 68h1M27 68h1M36 70h1M38 70h1M3 71h1M47 71h1M42 72h1M9 73h1M3 74h1M12 74h1M32 74h1M43 74h1M0 75h1M2 75h1M8 75h1M21 75h1M7 76h1M21 76h1M23 76h1M23 77h1M47 77h1M43 78h1M7 79h1M17 79h1M33 82h1M15 83h1M17 85h1M2 87h1M1 88h1M10 88h1M42 88h1M7 89h1M10 89h1M10 90h1M31 90h1M20 91h1M8 92h1M34 92h1M5 93h2M20 93h1M24 93h1M50 94h1M0 95h1M28 95h1M38 95h1M9 96h1M33 99h2M36 99h1M39 99h1M47 99h1M6 103h1M47 104h2M43 105h1M37 106h1M16 107h1M0 109h1M16 109h1M32 110h1M16 111h1M10 112h1M38 112h1M2 113h1M2 114h1M51 114h1M0 117h1M17 118h1M48 118h1M5 119h1M1 120h1M7 120h1M37 120h1M10 121h1M35 123h1M23 124h1M1 125h1M45 125h1M1 126h1M6 126h1M24 126h1M1 127h1M36 127h1M38 127h1M44 127h1M6 129h1M47 129h1M4 130h1M36 130h1M9 131h1M49 131h1M6 132h1M9 132h1M11 132h1M15 132h1M5 133h1M33 133h1M38 133h1M43 133h1M9 135h1M25 136h1M43 137h1M10 138h1M37 138h1M40 138h1M5 139h1M40 139h1M1 140h1M3 140h1M45 141h1M48 142h1M1 146h1M29 146h1M34 146h1M18 147h1M1 148h1M27 148h1M1 150h1M33 150h1M6 152h1M33 154h1M42 156h1M5 158h1M9 159h1M36 159h1M40 159h1M40 160h2M40 162h1M49 162h1M9 163h1M47 163h1M49 163h1M36 164h1M9 165h1M15 165h1M16 166h1M37 166h2M49 166h1M36 167h1M7 168h1M42 168h1M47 169h1M15 170h1M42 170h1M48 170h1M33 172h1M49 172h1M7 174h1M7 175h1M7 176h1M43 176h1M33 177h1M32 180h1M1 184h1M43 186h1M37 187h1M5 188h1M7 188h1M9 188h1M34 188h1M7 189h1M7 190h1M23 190h1M8 192h1M48 192h1M47 193h1M5 194h1M5 195h1M8 195h1M27 195h1M47 195h1M28 196h1M33 196h1M44 196h1M37 197h1M4 198h2M37 198h1M4 200h1M15 200h1M46 200h1M6 201h2M18 201h1M35 202h1M48 202h1M20 203h1M4 204h1M22 204h1M24 204h1M46 204h1M3 205h1M25 205h1M36 205h1M25 206h1M36 206h1M41 206h1M7 207h2M25 208h1M4 209h2M12 209h1M28 209h1M25 210h1M27 210h2M12 211h1M28 211h1M35 211h1M25 212h1M37 212h1M46 212h1M7 213h1M15 213h1M35 213h1M38 213h1M40 213h1M46 213h1M25 214h1M45 214h1M27 215h1M41 215h1M17 216h1M19 216h1M40 216h1M23 217h1M32 217h2M40 217h1M17 218h1M26 218h2M39 218h1M4 219h1M17 219h1M18 221h1M34 221h1M1 222h1M16 223h1M19 223h1M24 223h1M31 223h1M36 223h1M41 223h1M1 224h1M9 224h1M17 224h1M40 224h1M45 224h1M7 225h1M32 225h1M8 226h2M27 226h1M2 227h1M5 227h1M45 227h1M9 228h1M1 229h1M5 229h1M23 229h2M27 229h1M39 229h1M3 231h1M15 231h1M28 232h1M46 232h1M46 233h1M21 234h1M44 234h1M9 235h1M16 235h1M35 235h1M44 235h1M19 236h1M25 236h1M5 237h2M8 237h1M36 237h2M15 238h1M36 238h1M5 239h1M7 239h1M19 239h1M37 239h1M17 240h1M30 240h1M28 241h1M37 241h1M5 242h1M16 242h1M33 242h1M3 243h1M35 243h1M3 244h1M11 244h1M25 244h1M27 245h1M35 245h1M44 245h1M0 246h1M37 246h1M25 247h1M28 247h1M31 262h1M31 264h1M6 268h1M51 269h1M51 270h1M46 271h1M2 273h1M4 273h1M20 274h1M18 275h1"/>
<path stroke="#b71657" d="M25 6h1M33 6h1M33 8h1M15 10h1M8 11h1M37 11h1M2 13h1M10 14h1M15 16h1M17 17h1M8 18h1M36 18h1M40 18h1M1 19h1M8 19h1M17 19h1M19 19h2M34 19h1M27 20h1M39 20h1M4 21h1M39 21h1M20 22h1M25 22h1M22 23h1M28 23h1M5 24h1M11 25h1M12 26h1M19 26h1M30 27h1M33 27h1M34 31h1M1 36h1M0 38h1M7 39h1M15 39h1M21 41h1M1 45h1M1 46h1M48 46h1M8 51h1M15 52h1M17 52h1M47 53h1M5 54h1M1 55h1M1 56h1M28 57h1M15 60h1M3 61h1M39 61h1M1 63h1M3 65h1M50 65h1M7 66h1M1 67h1M1 70h1M47 70h1M33 71h1M1 74h1M6 75h1M42 77h1M8 78h1M38 79h1M38 81h1M33 83h1M6 89h1M17 89h1M6 90h1M6 91h1M0 93h1M47 93h1M3 96h1M15 96h1M1 100h1M48 100h1M9 103h1M4 110h1M11 110h1M17 116h1M6 122h1M1 123h1M51 123h1M41 127h1M40 130h1M10 132h1M10 133h1M6 134h1M51 134h1M15 135h1M47 135h1M0 137h1M1 138h1M51 138h1M48 139h1M6 140h1M15 141h1M17 141h1M50 142h1M6 143h1M0 145h1M51 147h1M0 149h1M51 151h1M9 155h1M37 156h1M6 158h1M10 158h1M17 159h1M41 159h1M40 161h1M36 162h1M36 163h1M48 165h1M40 167h1M6 169h1M40 170h1M50 170h1M1 172h1M3 173h1M42 173h1M1 175h1M48 187h1M7 191h1M11 192h1M23 192h1M1 193h1M5 193h1M16 193h1M25 194h1M33 194h1M37 194h1M6 195h1M18 195h1M32 195h1M37 195h1M9 196h1M15 196h1M18 196h1M27 196h1M46 196h1M6 197h1M27 198h1M0 199h1M7 200h1M37 200h1M45 200h1M24 201h1M32 201h1M35 201h1M1 202h1M7 202h1M17 202h1M23 202h1M9 203h1M17 203h1M28 203h1M45 203h1M8 204h1M35 204h1M15 205h1M17 206h1M21 206h1M23 206h2M32 206h1M5 207h1M32 207h1M34 207h1M37 208h1M39 208h1M34 209h1M5 210h1M19 210h1M23 210h1M42 210h1M0 211h1M4 211h1M6 211h1M15 211h1M23 211h1M4 212h1M17 212h1M21 212h1M9 213h1M23 213h1M34 213h1M37 213h1M45 213h1M25 215h1M35 215h1M9 216h1M23 216h1M45 216h1M21 217h1M24 217h1M45 217h2M50 218h1M20 219h1M25 219h1M37 219h2M42 219h1M45 219h1M17 220h1M45 220h1M4 221h1M37 221h1M23 222h1M34 222h1M11 223h1M34 223h1M37 223h1M42 223h1M4 224h1M7 224h1M27 224h1M32 224h1M35 224h1M5 226h1M11 226h1M8 227h2M15 227h1M27 228h1M18 229h1M42 230h1M1 231h1M1 232h1M8 232h1M24 232h1M34 232h1M37 232h1M21 233h1M6 234h1M3 235h1M17 235h1M20 235h1M24 235h2M32 235h1M34 235h1M21 236h1M27 236h1M33 236h1M9 238h1M32 239h1M19 240h1M1 241h1M5 241h1M37 242h1M42 244h1M45 244h1M30 245h1M32 245h1M17 246h1M21 246h1M23 246h1M19 247h1M34 247h1M33 249h1M11 251h1M4 264h1M1 273h1"/>
<path stroke="#661f54" d="M34 6h1M18 9h1M26 9h1M21 11h1M15 12h1M21 12h1M15 13h1M15 14h1M18 16h1M36 16h1M15 17h1M15 18h1M15 19h1M18 20h1M20 20h1M32 20h1M18 21h1M20 21h1M26 21h1M26 22h3M1 23h1M9 23h1M4 24h1M24 24h2M28 24h2M36 24h1M51 24h1M3 25h1M21 25h1M29 25h1M32 25h1M34 25h1M41 25h1M43 25h1M1 26h1M3 26h1M27 26h1M35 26h1M21 27h1M25 27h1M34 27h1M3 32h1M34 32h1M3 33h1M36 33h1M15 34h1M40 37h1M20 38h1M6 39h1M39 46h1M25 49h1M33 49h1M47 52h1M50 64h1M49 65h1M18 66h1M49 66h1M1 68h1M1 75h1M15 75h1M1 76h1M15 77h1M3 78h1M19 79h1M20 88h1M20 89h1M26 89h1M48 89h1M26 90h1M47 90h1M47 91h1M0 92h1M15 93h1M18 94h1M20 94h2M21 95h1M1 96h1M21 96h1M40 96h1M21 97h1M48 98h1M42 101h1M2 105h1M20 105h1M2 106h1M2 107h1M15 111h1M3 112h1M20 112h1M15 113h1M20 114h1M20 115h1M2 116h1M49 118h1M47 119h1M51 119h1M47 120h1M49 120h1M50 122h1M11 124h1M47 125h1M48 126h1M48 127h1M50 127h1M49 129h1M0 130h1M50 130h1M0 133h1M24 133h1M0 134h1M49 134h1M12 135h1M49 135h1M0 136h1M47 136h1M42 137h1M48 137h1M17 138h1M42 138h1M47 138h2M47 139h1M49 139h2M47 144h2M51 144h1M47 145h1M47 146h1M50 146h1M50 147h1M47 149h1M48 152h4M47 153h1M49 153h1M48 154h1M50 154h1M1 156h1M48 157h1M42 158h1M50 162h1M42 163h1M47 167h2M1 168h1M47 168h1M35 171h1M40 173h1M48 175h1M1 181h1M50 189h1M47 190h1M17 191h1M1 194h1M1 195h1M17 195h1M42 195h1M0 196h2M1 197h1M17 197h1M34 198h1M40 198h1M1 199h1M3 199h1M12 200h1M34 200h1M34 201h1M3 202h1M51 202h1M42 203h1M11 204h1M28 204h1M17 205h2M20 205h1M28 205h1M42 205h1M9 206h1M15 206h1M20 206h1M42 206h1M1 207h1M4 208h1M17 208h1M28 208h1M18 209h1M20 209h2M20 210h2M2 211h1M20 211h1M2 212h1M10 212h1M33 212h1M47 212h1M51 212h1M47 213h1M33 214h1M48 214h1M10 215h1M49 215h1M47 216h1M49 216h1M1 217h1M50 217h2M1 218h1M49 218h1M15 220h1M50 220h2M0 221h1M15 221h1M27 221h1M33 221h1M47 221h1M9 222h1M47 222h1M49 222h1M0 223h1M27 223h1M0 224h1M6 224h1M37 224h1M18 225h1M18 226h1M0 227h1M42 227h1M8 228h1M42 228h1M6 231h1M6 232h1M42 232h1M15 234h1M1 235h1M3 238h1M17 239h1M11 240h1M20 240h1M34 240h1M39 240h1M47 241h1M38 242h1M9 243h1M11 245h1M20 246h1M47 253h1M15 254h1M0 263h1"/>
<path stroke="#c11754" d="M25 7h1M33 7h1M17 10h1M27 10h1M0 11h1M16 11h1M30 12h1M25 14h1M20 15h1M25 16h2M10 17h1M21 18h1M37 18h1M7 19h1M4 20h2M42 20h1M24 21h1M42 21h1M45 21h1M13 22h1M29 22h1M11 23h1M18 23h1M9 24h1M22 24h1M30 24h1M5 25h1M13 25h1M10 26h1M17 27h1M31 27h2M21 32h1M34 33h1M37 33h1M1 37h1M8 37h1M18 37h1M42 37h1M36 38h1M15 40h1M18 43h1M20 43h1M37 43h1M4 44h1M20 45h1M37 48h1M39 48h1M48 49h2M20 50h1M37 50h1M47 50h1M25 53h1M5 56h1M6 59h1M3 64h1M49 64h1M15 67h1M0 71h1M40 73h1M43 73h1M50 73h1M10 74h1M31 74h1M31 75h1M48 75h2M2 76h1M21 77h1M25 77h1M11 78h1M21 78h1M33 78h1M44 79h1M1 82h1M28 82h1M20 86h1M33 86h1M8 87h1M42 87h1M6 88h1M9 88h1M37 89h1M3 90h1M18 90h1M3 91h1M6 92h1M11 92h1M9 93h1M7 94h2M47 94h1M41 96h1M3 97h1M37 97h1M15 102h1M1 103h1M1 105h1M45 105h1M1 106h1M7 106h1M50 106h1M7 107h1M10 108h1M4 109h1M34 115h1M41 115h1M45 115h1M11 116h1M48 116h1M0 118h1M11 118h1M9 119h1M15 119h1M5 121h1M51 121h1M1 122h1M10 122h1M6 123h1M42 123h1M48 124h1M51 127h1M15 128h1M50 128h1M48 130h1M0 131h1M36 133h1M38 134h1M38 135h1M15 136h1M1 139h1M15 140h1M51 140h1M50 141h1M6 142h1M10 142h1M37 142h1M51 142h1M15 143h1M37 143h1M0 144h1M15 144h1M17 144h1M17 146h1M48 153h1M51 155h1M7 158h1M37 158h1M5 159h1M8 160h2M35 160h1M17 161h1M35 161h1M48 161h2M17 162h1M33 163h1M41 163h1M49 164h1M20 165h1M41 165h1M15 166h1M40 166h1M42 166h1M5 167h1M8 169h1M8 170h1M40 171h1M40 172h1M42 172h1M4 179h1M49 187h1M45 188h1M0 189h1M42 191h1M33 192h1M47 192h1M27 193h1M32 193h1M36 193h1M42 193h1M27 194h1M36 194h1M25 195h1M20 198h1M36 198h1M15 199h1M33 199h1M27 200h1M33 200h1M48 200h1M20 201h1M40 201h1M33 202h1M4 203h1M6 203h1M18 203h1M24 203h1M36 203h1M49 203h1M21 204h1M40 204h1M4 205h1M7 205h1M6 206h1M11 206h1M28 206h1M45 206h1M6 207h1M22 207h1M37 207h1M41 207h1M5 208h1M24 208h1M36 208h1M24 209h1M32 209h1M9 210h1M22 210h1M36 211h1M42 212h1M17 213h1M24 213h1M32 213h1M42 213h1M44 213h1M15 214h1M23 214h1M17 215h1M18 216h1M24 216h1M37 216h1M42 216h1M9 217h1M41 217h1M23 218h1M32 218h1M42 218h1M9 219h1M24 219h1M36 219h1M41 219h1M9 220h1M33 220h2M36 220h1M20 221h1M25 221h1M7 222h1M24 222h2M41 222h1M6 223h1M33 223h1M18 224h1M24 224h1M8 225h2M15 225h1M24 225h1M34 225h1M36 225h1M40 225h2M19 226h1M37 226h1M40 226h1M19 227h1M15 228h1M19 228h1M22 228h1M32 229h3M8 230h1M20 230h1M22 230h1M9 231h1M23 231h1M32 231h1M5 233h1M27 233h1M3 234h1M21 235h1M37 235h1M21 237h1M27 237h1M23 238h3M42 239h1M5 240h1M32 240h1M32 241h1M7 242h1M17 242h1M28 242h1M5 243h2M8 243h1M21 243h1M32 243h1M41 243h1M21 244h1M28 245h1M5 246h1M7 246h3M5 247h1M16 247h1M15 252h1M3 253h1M18 262h1M31 267h1M18 268h1M46 269h1M6 270h1"/>
<path stroke="#9f1a5b" d="M34 7h1M24 12h1M11 14h1M36 14h2M36 15h1M28 17h1M6 19h1M19 20h1M28 20h1M31 21h1M35 22h1M15 23h1M17 23h1M10 24h1M41 24h1M43 24h1M50 24h1M17 25h1M26 25h1M36 26h1M36 27h1M37 32h1M25 33h1M48 35h1M20 36h1M47 36h1M20 37h1M20 42h1M49 42h1M1 44h1M20 47h1M48 47h1M50 47h1M3 51h1M3 52h1M10 55h1M6 58h1M1 64h1M15 72h1M42 73h1M42 75h2M6 76h1M51 79h1M20 80h1M7 88h1M15 89h1M47 89h1M0 91h1M31 91h1M50 91h1M3 92h1M15 92h1M7 93h2M8 95h1M0 96h1M3 98h1M49 98h1M17 101h1M42 103h1M1 104h1M48 106h1M4 108h1M7 110h1M2 115h1M51 120h1M50 123h1M1 124h1M12 126h1M50 126h1M47 127h1M50 129h1M1 130h1M10 131h1M24 131h1M50 132h1M40 134h1M44 134h1M40 135h1M6 136h1M50 136h1M44 137h1M47 137h1M51 137h1M6 138h1M33 140h1M47 140h1M17 145h1M48 145h1M47 148h1M47 150h1M49 151h2M3 157h1M38 159h1M42 161h1M47 161h1M15 163h1M40 165h1M6 170h1M3 174h1M1 176h1M49 176h1M34 178h1M51 179h1M6 188h1M51 188h1M1 189h1M17 190h1M1 191h1M8 191h1M24 192h1M34 192h1M49 192h1M21 193h1M23 194h1M34 194h1M6 196h1M20 196h1M33 197h1M8 199h1M40 199h1M9 200h1M21 200h1M42 200h1M9 201h1M17 201h1M33 201h1M9 202h1M34 202h1M47 202h1M21 203h1M32 203h1M33 204h1M5 205h1M34 205h1M37 205h1M20 207h1M23 207h1M33 207h1M6 208h1M32 208h1M40 208h1M6 209h3M33 209h1M36 209h1M45 209h1M18 210h1M34 210h1M37 210h1M32 212h1M5 213h1M33 213h1M9 214h1M38 214h1M20 218h1M23 219h1M44 219h1M18 220h1M50 222h1M45 223h1M5 224h1M25 224h1M2 226h1M33 227h1M3 228h1M11 228h1M6 229h1M11 229h1M25 229h1M11 230h1M20 231h1M27 231h1M24 233h1M33 234h1M1 236h1M8 236h1M34 236h1M17 237h1M34 237h1M17 238h1M34 238h1M42 238h1M1 239h1M9 239h1M34 239h1M6 241h1M6 242h1M9 242h1M7 243h1M19 243h1M33 243h1M42 243h1M7 244h1M9 244h1M7 245h1M21 248h1M2 250h1M15 259h1M4 262h1"/>
<path stroke="#281535" d="M1 8h1M49 10h1M48 14h2M48 15h2M48 16h2M48 17h2M49 19h1M49 20h1M48 21h2M48 22h2M3 23h1M48 23h2M3 24h1M38 24h3M45 24h2M48 24h2M38 25h3M45 25h2M48 25h2M38 26h3M45 26h2M48 26h2M49 27h1M49 37h1M49 38h1M48 39h2M48 40h2M48 41h2M0 42h1M0 43h1M49 45h1M49 46h1M49 47h1M51 60h1M51 61h1M50 70h1M50 71h2M51 72h1M0 159h1M0 160h1M51 190h1M51 191h1M10 194h1M48 194h2M11 195h1M48 195h2M11 196h1M48 196h2M0 197h1M47 197h1M47 198h1M47 199h1M0 200h1M48 205h3M48 206h3M48 207h2M0 208h2M48 208h2M0 209h2M48 209h2M0 210h2M48 210h2M1 211h1M48 211h2M51 221h1M0 222h1M51 222h1M48 224h2M48 225h2M48 226h2M48 227h2M48 228h2M48 229h2M48 230h2M48 231h2M48 232h2M48 233h2M48 234h2M48 235h2M48 236h2M48 237h2M48 238h2M48 239h2M0 240h1M0 241h1M1 243h1M1 244h1M49 249h1M4 250h1M49 250h1M4 251h1M49 251h1M49 252h1M49 253h1M49 254h1M1 255h1M1 256h1"/>
<path stroke="#931c5b" d="M7 8h1M15 8h1M37 12h1M11 13h1M15 15h1M28 15h1M18 17h1M38 17h1M25 18h1M28 18h1M33 18h1M32 19h1M39 19h2M15 20h1M17 20h1M25 20h2M41 20h1M41 21h1M1 22h1M5 23h1M10 23h1M24 23h1M39 23h1M47 24h1M24 25h1M28 25h1M50 25h1M29 26h1M50 26h1M29 27h1M36 32h1M47 33h1M48 34h1M51 35h1M40 38h1M12 41h1M20 41h1M1 47h1M49 48h1M1 49h1M37 49h1M19 50h1M17 54h1M49 62h1M3 67h1M37 71h1M7 73h1M24 75h1M3 77h1M6 77h1M25 78h1M11 80h1M17 90h1M17 91h1M48 91h2M15 95h1M15 97h1M9 100h1M0 102h2M42 102h1M4 105h1M33 106h1M4 107h1M15 112h1M3 113h1M20 113h1M15 116h1M49 119h1M50 121h1M47 122h1M12 123h1M12 125h1M49 125h1M38 126h1M0 129h1M1 131h1M48 133h1M50 133h1M48 134h1M7 136h1M51 136h1M0 138h1M15 139h1M17 139h1M51 139h1M0 140h1M50 145h1M44 146h1M1 147h1M0 148h1M49 149h1M51 149h1M0 152h1M47 154h1M48 155h1M1 159h1M1 163h1M7 163h1M1 164h1M7 164h1M17 164h1M42 164h1M3 165h1M17 165h1M1 170h1M49 170h1M17 180h1M0 188h2M42 188h1M47 189h1M0 190h2M6 190h1M1 192h1M7 192h1M6 193h1M21 194h1M9 195h1M20 197h1M32 197h1M38 197h1M42 197h1M1 198h1M17 198h1M32 199h1M37 199h1M8 200h1M40 200h1M42 201h1M45 201h1M11 202h1M27 202h1M11 203h2M23 203h1M1 204h1M7 204h1M51 204h1M23 205h1M33 205h1M4 206h1M34 206h1M11 207h1M15 207h1M42 207h1M11 208h1M15 208h1M22 208h2M34 208h2M23 209h1M37 209h1M6 210h1M15 210h1M17 211h1M21 211h1M33 211h1M37 211h1M10 213h1M6 214h1M27 214h1M32 214h1M47 214h1M21 215h1M33 215h1M37 215h1M42 215h1M48 215h1M1 216h1M7 216h1M3 218h1M9 218h1M33 218h1M37 218h1M3 220h1M5 220h1M21 220h1M38 220h1M31 221h1M44 221h1M49 221h1M5 223h1M42 224h1M34 228h1M41 228h1M21 229h1M1 230h1M21 232h1M40 232h1M25 233h1M7 234h1M33 235h1M20 237h1M6 238h1M20 239h1M3 240h1M38 245h1M19 246h1M11 250h1M33 251h1M15 253h1"/>
<path stroke="#891e5b" d="M20 8h1M26 8h1M21 9h1M31 9h1M37 10h1M20 16h1M25 17h1M4 19h2M6 20h1M5 21h1M10 22h1M18 22h1M4 23h1M20 23h1M27 23h1M36 23h1M21 24h1M32 24h1M7 25h1M9 25h1M20 25h1M23 25h1M27 25h1M47 25h1M51 25h1M24 26h1M26 26h1M32 26h2M11 27h1M23 27h1M1 34h1M47 34h1M25 35h1M47 37h1M24 38h1M31 38h1M1 43h1M3 44h1M15 44h1M3 45h1M47 46h1M24 49h1M17 51h1M19 51h1M15 73h1M20 75h1M20 78h1M3 81h1M7 87h1M17 92h1M45 106h1M11 108h1M15 109h1M47 118h1M51 118h1M51 124h1M48 125h1M49 126h1M49 127h1M48 128h1M51 128h1M48 129h1M51 130h1M50 131h1M0 132h1M49 133h1M50 134h1M49 137h1M50 138h1M0 139h1M42 139h1M49 145h1M49 146h1M50 149h1M0 150h1M47 152h1M49 154h1M1 155h1M49 155h1M51 156h1M17 158h1M1 160h1M10 160h1M51 162h1M35 163h1M1 167h1M49 167h1M48 168h1M37 169h1M51 170h1M8 171h1M42 174h1M49 174h1M49 175h1M48 176h1M42 186h1M6 187h1M42 189h1M51 189h1M0 191h1M6 191h1M47 191h1M42 192h1M9 193h1M20 193h1M3 195h1M21 195h1M34 195h1M21 196h1M37 196h1M40 196h1M34 197h1M0 198h1M3 200h1M17 200h1M20 200h1M32 200h1M1 201h1M15 201h1M5 202h1M12 202h1M3 203h1M5 204h1M32 204h1M1 206h1M4 207h1M9 207h1M17 207h2M28 207h1M18 208h1M17 209h1M42 209h1M23 212h1M27 212h1M34 212h1M1 213h1M1 214h1M10 214h1M34 214h1M23 215h1M38 215h1M33 216h1M41 216h1M47 217h1M21 219h1M32 219h1M48 219h1M48 220h1M9 221h1M15 222h1M9 223h1M47 223h1M49 223h1M0 225h1M6 225h1M42 225h1M6 226h1M1 228h1M20 228h1M3 229h1M32 232h1M1 233h1M1 234h1M9 236h1M15 236h1M1 237h1M1 238h1M6 239h1M21 239h1M1 240h1M11 241h1M42 242h1M41 245h1M40 246h1M15 250h1M21 265h1M20 270h1M50 270h1M1 274h1"/>
<path stroke="#511e4d" d="M48 8h1M0 9h1M0 14h1M0 15h1M0 16h1M0 17h1M0 18h1M0 19h1M46 19h1M0 20h1M21 20h1M48 20h1M0 21h1M6 21h2M21 21h1M0 22h1M6 22h2M21 22h1M37 22h1M0 23h1M6 23h3M21 23h1M37 23h1M42 23h1M0 24h1M6 24h3M18 24h1M37 24h1M42 24h1M0 25h1M8 25h1M18 25h1M37 25h1M42 25h1M9 26h1M18 26h1M37 26h1M42 26h1M9 27h1M18 27h1M0 32h1M0 33h1M0 34h1M0 35h1M1 39h1M3 39h1M1 40h1M3 40h1M1 57h1M1 58h1M1 59h1M1 60h1M1 61h1M51 64h1M19 65h1M48 65h1M19 66h1M48 66h1M19 71h1M17 75h1M17 76h1M17 77h1M1 84h1M1 85h1M1 90h1M1 91h1M1 92h1M1 93h1M48 93h1M1 94h1M48 94h1M1 95h1M48 95h1M3 99h1M3 100h1M3 101h1M48 102h2M15 103h1M15 104h1M3 105h1M15 105h1M3 106h1M15 106h1M15 107h1M3 114h1M3 115h1M35 157h1M1 165h1M1 166h1M8 166h1M0 167h1M8 167h1M0 168h1M8 168h1M0 169h1M0 170h1M0 171h1M0 173h1M0 174h1M0 175h1M0 176h1M1 177h1M15 177h1M1 178h1M15 178h1M48 188h1M48 189h2M48 190h2M48 191h2M9 197h1M21 197h1M49 197h1M9 198h1M21 198h1M49 198h1M9 199h1M21 199h1M49 199h1M0 202h1M0 203h1M0 204h1M0 205h1M0 206h1M0 207h1M0 214h1M0 215h1M0 216h1M6 216h1M0 217h1M6 217h1M0 218h1M6 218h1M0 219h1M6 219h1M0 220h1M6 220h1M21 221h1M20 222h2M20 223h2M20 224h2M20 225h2M1 226h1M20 226h2M1 227h1M20 227h2M0 228h1M0 229h1M0 230h1M0 231h1M0 232h1M2 243h1M2 244h1M1 259h1M1 260h1M1 261h1"/>
<path stroke="#711f57" d="M21 10h1M38 18h1M11 20h1M4 22h2M20 24h1M34 24h1M4 25h1M31 25h1M33 25h1M28 26h1M43 26h1M51 26h1M26 27h1M28 27h1M1 30h1M33 33h1M3 34h1M5 39h1M21 40h1M1 48h1M18 49h1M33 50h2M49 63h1M0 69h1M15 74h1M24 74h1M33 74h1M1 77h1M19 78h1M31 78h1M42 79h1M6 82h1M42 82h1M20 90h1M25 90h1M49 90h1M32 94h1M18 95h1M42 96h1M48 99h1M10 104h1M4 106h1M20 106h1M2 108h1M12 124h1M47 128h1M49 128h1M6 135h1M50 137h1M50 140h1M49 144h2M51 145h1M49 148h1M51 148h1M50 150h2M0 151h1M47 151h1M51 153h1M48 156h2M1 157h1M48 158h2M10 159h1M38 160h1M10 161h1M38 161h1M1 162h1M38 162h1M42 162h1M40 169h1M12 182h1M42 185h1M49 188h1M6 189h1M42 190h1M0 193h1M37 193h1M38 196h1M42 196h1M40 197h1M6 199h1M17 199h1M42 199h1M0 201h1M12 201h1M37 202h1M42 202h1M50 203h1M42 204h1M32 205h1M33 206h1M21 207h1M9 208h1M20 208h1M32 211h1M0 212h2M49 214h1M1 215h1M6 215h1M48 216h1M49 217h1M47 218h1M27 219h1M51 219h1M44 220h1M47 220h1M49 220h1M6 221h1M5 222h1M27 222h1M33 225h1M42 226h1M18 228h1M8 229h1M41 229h2M21 230h1M21 231h1M33 231h1M42 233h1M42 236h1M3 237h1M42 237h1M33 239h1M18 240h1M21 240h1M3 241h1M41 246h1M50 269h1"/>
</g>
<text x="1298.60" y="1649.85" font-size="9.30" text-anchor="start" textLength="81.38" lengthAdjust="spacingAndGlyphs" fill="#1a1a1a">Burkholderiaceae</text>
<text x="1298.60" y="1663.06" font-size="9.30" text-anchor="start" textLength="64.70" lengthAdjust="spacingAndGlyphs" fill="#1a1a1a">Micrococcales</text>
<text x="1298.60" y="1676.26" font-size="9.30" text-anchor="start" textLength="59.14" lengthAdjust="spacingAndGlyphs" fill="#1a1a1a">Tissierellales</text>
<text x="1298.60" y="1689.47" font-size="9.30" text-anchor="start" textLength="56.82" lengthAdjust="spacingAndGlyphs" fill="#1a1a1a">Clostridiales</text>
<text x="1298.60" y="1702.67" font-size="9.30" text-anchor="start" textLength="56.82" lengthAdjust="spacingAndGlyphs" fill="#1a1a1a">Clostridiales</text>
<text x="1298.60" y="1715.88" font-size="9.30" text-anchor="start" textLength="56.82" lengthAdjust="spacingAndGlyphs" fill="#1a1a1a">Clostridiales</text>
<text x="1298.60" y="1729.09" font-size="9.30" text-anchor="start" textLength="68.43" lengthAdjust="spacingAndGlyphs" fill="#1a1a1a">Lactobacillales</text>
<text x="1298.60" y="1742.29" font-size="9.30" text-anchor="start" textLength="86.19" lengthAdjust="spacingAndGlyphs" fill="#1a1a1a">Bradyrhizobiaceae</text>
<text x="1298.60" y="1755.50" font-size="9.30" text-anchor="start" textLength="93.10" lengthAdjust="spacingAndGlyphs" fill="#1a1a1a">Xanthomonadaceae</text>
<text x="1298.60" y="1768.70" font-size="9.30" text-anchor="start" textLength="68.43" lengthAdjust="spacingAndGlyphs" fill="#1a1a1a">Lactobacillales</text>
<text x="1298.60" y="1781.91" font-size="9.30" text-anchor="start" textLength="86.86" lengthAdjust="spacingAndGlyphs" fill="#1a1a1a">Comamonadaceae</text>
<text x="1298.60" y="1795.11" font-size="9.30" text-anchor="start" textLength="56.82" lengthAdjust="spacingAndGlyphs" fill="#1a1a1a">Clostridiales</text>
<text x="1298.60" y="1808.32" font-size="9.30" text-anchor="start" textLength="43.65" lengthAdjust="spacingAndGlyphs" fill="#1a1a1a">Bacillales</text>
<text x="1298.60" y="1821.53" font-size="9.30" text-anchor="start" textLength="67.06" lengthAdjust="spacingAndGlyphs" fill="#1a1a1a">Sutterellaceae</text>
<text x="1298.60" y="1834.73" font-size="9.30" text-anchor="start" textLength="60.40" lengthAdjust="spacingAndGlyphs" fill="#1a1a1a">Vibrionaceae</text>
<text x="1298.60" y="1847.94" font-size="9.30" text-anchor="start" textLength="56.14" lengthAdjust="spacingAndGlyphs" fill="#1a1a1a">Erwiniaceae</text>
<text x="1298.60" y="1861.14" font-size="9.30" text-anchor="start" textLength="67.08" lengthAdjust="spacingAndGlyphs" fill="#1a1a1a">Moraxellaceae</text>
<text x="1298.60" y="1874.35" font-size="9.30" text-anchor="start" textLength="43.65" lengthAdjust="spacingAndGlyphs" fill="#1a1a1a">Bacillales</text>
<text x="1298.60" y="1887.56" font-size="9.30" text-anchor="start" textLength="68.43" lengthAdjust="spacingAndGlyphs" fill="#1a1a1a">Lactobacillales</text>
<text x="1298.60" y="1900.76" font-size="9.30" text-anchor="start" textLength="60.24" lengthAdjust="spacingAndGlyphs" fill="#1a1a1a">Veillonellales</text>
<text x="1298.60" y="1913.97" font-size="9.30" text-anchor="start" textLength="43.65" lengthAdjust="spacingAndGlyphs" fill="#1a1a1a">Bacillales</text>
<text x="1298.60" y="1927.17" font-size="9.30" text-anchor="start" textLength="43.65" lengthAdjust="spacingAndGlyphs" fill="#1a1a1a">Bacillales</text>
<text x="1298.60" y="1940.38" font-size="9.30" text-anchor="start" textLength="84.20" lengthAdjust="spacingAndGlyphs" fill="#1a1a1a">Corynebacteriales</text>
<text x="1298.60" y="1953.58" font-size="9.30" text-anchor="start" textLength="68.43" lengthAdjust="spacingAndGlyphs" fill="#1a1a1a">Lactobacillales</text>
<text x="1298.60" y="1966.79" font-size="9.30" text-anchor="start" textLength="56.82" lengthAdjust="spacingAndGlyphs" fill="#1a1a1a">Clostridiales</text>
<text x="1298.60" y="1980.00" font-size="9.30" text-anchor="start" textLength="56.82" lengthAdjust="spacingAndGlyphs" fill="#1a1a1a">Clostridiales</text>
<text x="1298.60" y="1993.20" font-size="9.30" text-anchor="start" textLength="56.82" lengthAdjust="spacingAndGlyphs" fill="#1a1a1a">Clostridiales</text>
<text x="1298.60" y="2006.41" font-size="9.30" text-anchor="start" textLength="73.22" lengthAdjust="spacingAndGlyphs" fill="#1a1a1a">Pasteurellaceae</text>
<text x="1298.60" y="2019.61" font-size="9.30" text-anchor="start" textLength="64.70" lengthAdjust="spacingAndGlyphs" fill="#1a1a1a">Micrococcales</text>
<text x="1298.60" y="2032.82" font-size="9.30" text-anchor="start" textLength="56.82" lengthAdjust="spacingAndGlyphs" fill="#1a1a1a">Clostridiales</text>
<text x="1298.60" y="2046.02" font-size="9.30" text-anchor="start" textLength="82.35" lengthAdjust="spacingAndGlyphs" fill="#1a1a1a">Selenomonadales</text>
<text x="1298.60" y="2059.23" font-size="9.30" text-anchor="start" textLength="71.39" lengthAdjust="spacingAndGlyphs" fill="#1a1a1a">Synergistaceae</text>
<text x="1298.60" y="2072.44" font-size="9.30" text-anchor="start" textLength="56.82" lengthAdjust="spacingAndGlyphs" fill="#1a1a1a">Clostridiales</text>
<text x="1298.60" y="2085.64" font-size="9.30" text-anchor="start" textLength="56.82" lengthAdjust="spacingAndGlyphs" fill="#1a1a1a">Clostridiales</text>
<text x="1298.60" y="2098.85" font-size="9.30" text-anchor="start" textLength="65.39" lengthAdjust="spacingAndGlyphs" fill="#1a1a1a">Flavobacteriia</text>
<text x="1298.60" y="2112.05" font-size="9.30" text-anchor="start" textLength="67.08" lengthAdjust="spacingAndGlyphs" fill="#1a1a1a">Moraxellaceae</text>
<text x="1298.60" y="2125.26" font-size="9.30" text-anchor="start" textLength="68.43" lengthAdjust="spacingAndGlyphs" fill="#1a1a1a">Lactobacillales</text>
<text x="1298.60" y="2138.47" font-size="9.30" text-anchor="start" textLength="52.47" lengthAdjust="spacingAndGlyphs" fill="#1a1a1a">Bacteroidia</text>
<text x="1298.60" y="2151.67" font-size="9.30" text-anchor="start" textLength="56.82" lengthAdjust="spacingAndGlyphs" fill="#1a1a1a">Clostridiales</text>
<text x="1298.60" y="2164.88" font-size="9.30" text-anchor="start" textLength="56.82" lengthAdjust="spacingAndGlyphs" fill="#1a1a1a">Clostridiales</text>
<text x="1298.60" y="2178.08" font-size="9.30" text-anchor="start" textLength="93.51" lengthAdjust="spacingAndGlyphs" fill="#1a1a1a">Geodermatophilales</text>
<text x="1298.60" y="2191.29" font-size="9.30" text-anchor="start" textLength="56.82" lengthAdjust="spacingAndGlyphs" fill="#1a1a1a">Clostridiales</text>
<text x="1298.60" y="2204.49" font-size="9.30" text-anchor="start" textLength="82.18" lengthAdjust="spacingAndGlyphs" fill="#1a1a1a">Erysipelotrichales</text>
<text x="1298.60" y="2217.70" font-size="9.30" text-anchor="start" textLength="60.24" lengthAdjust="spacingAndGlyphs" fill="#1a1a1a">Veillonellales</text>
<text x="1298.60" y="2230.91" font-size="9.30" text-anchor="start" textLength="56.82" lengthAdjust="spacingAndGlyphs" fill="#1a1a1a">Clostridiales</text>
<text x="1298.60" y="2244.11" font-size="9.30" text-anchor="start" textLength="64.70" lengthAdjust="spacingAndGlyphs" fill="#1a1a1a">Micrococcales</text>
<text x="1298.60" y="2257.32" font-size="9.30" text-anchor="start" textLength="56.82" lengthAdjust="spacingAndGlyphs" fill="#1a1a1a">Clostridiales</text>
<text x="1298.60" y="2270.52" font-size="9.30" text-anchor="start" textLength="82.18" lengthAdjust="spacingAndGlyphs" fill="#1a1a1a">Erysipelotrichales</text>
<text x="1298.60" y="2283.73" font-size="9.30" text-anchor="start" textLength="56.82" lengthAdjust="spacingAndGlyphs" fill="#1a1a1a">Clostridiales</text>
<text x="1298.60" y="2296.93" font-size="9.30" text-anchor="start" textLength="56.82" lengthAdjust="spacingAndGlyphs" fill="#1a1a1a">Clostridiales</text>
<text x="1298.60" y="2310.14" font-size="9.30" text-anchor="start" textLength="56.82" lengthAdjust="spacingAndGlyphs" fill="#1a1a1a">Clostridiales</text>
<text x="1298.60" y="2323.35" font-size="9.30" text-anchor="start" textLength="59.14" lengthAdjust="spacingAndGlyphs" fill="#1a1a1a">Tissierellales</text>
<text x="1298.60" y="2336.55" font-size="9.30" text-anchor="start" textLength="89.40" lengthAdjust="spacingAndGlyphs" fill="#1a1a1a">Campylobacterales</text>
<text x="1298.60" y="2349.76" font-size="9.30" text-anchor="start" textLength="82.18" lengthAdjust="spacingAndGlyphs" fill="#1a1a1a">Erysipelotrichales</text>
<text x="1298.60" y="2362.96" font-size="9.30" text-anchor="start" textLength="56.82" lengthAdjust="spacingAndGlyphs" fill="#1a1a1a">Clostridiales</text>
<text x="1298.60" y="2376.17" font-size="9.30" text-anchor="start" textLength="56.82" lengthAdjust="spacingAndGlyphs" fill="#1a1a1a">Clostridiales</text>
<text x="1298.60" y="2389.38" font-size="9.30" text-anchor="start" textLength="88.66" lengthAdjust="spacingAndGlyphs" fill="#1a1a1a">Verrucomicrobiales</text>
<text x="1298.60" y="2402.58" font-size="9.30" text-anchor="start" textLength="56.82" lengthAdjust="spacingAndGlyphs" fill="#1a1a1a">Clostridiales</text>
<text x="1298.60" y="2415.79" font-size="9.30" text-anchor="start" textLength="56.82" lengthAdjust="spacingAndGlyphs" fill="#1a1a1a">Clostridiales</text>
<text x="1298.60" y="2428.99" font-size="9.30" text-anchor="start" textLength="56.82" lengthAdjust="spacingAndGlyphs" fill="#1a1a1a">Clostridiales</text>
<text x="1298.60" y="2442.20" font-size="9.30" text-anchor="start" textLength="52.47" lengthAdjust="spacingAndGlyphs" fill="#1a1a1a">Bacteroidia</text>
<text x="1298.60" y="2455.40" font-size="9.30" text-anchor="start" textLength="56.82" lengthAdjust="spacingAndGlyphs" fill="#1a1a1a">Clostridiales</text>
<text x="1298.60" y="2468.61" font-size="9.30" text-anchor="start" textLength="43.65" lengthAdjust="spacingAndGlyphs" fill="#1a1a1a">Bacillales</text>
<text x="1298.60" y="2481.82" font-size="9.30" text-anchor="start" textLength="93.10" lengthAdjust="spacingAndGlyphs" fill="#1a1a1a">Xanthomonadaceae</text>
<text x="1298.60" y="2495.02" font-size="9.30" text-anchor="start" textLength="43.65" lengthAdjust="spacingAndGlyphs" fill="#1a1a1a">Bacillales</text>
<text x="1298.60" y="2508.23" font-size="9.30" text-anchor="start" textLength="73.48" lengthAdjust="spacingAndGlyphs" fill="#1a1a1a">Morganellaceae</text>
<text x="1298.60" y="2521.43" font-size="9.30" text-anchor="start" textLength="43.65" lengthAdjust="spacingAndGlyphs" fill="#1a1a1a">Bacillales</text>
<text x="1298.60" y="2534.64" font-size="9.30" text-anchor="start" textLength="64.70" lengthAdjust="spacingAndGlyphs" fill="#1a1a1a">Micrococcales</text>
<text x="1298.60" y="2547.84" font-size="9.30" text-anchor="start" textLength="86.19" lengthAdjust="spacingAndGlyphs" fill="#1a1a1a">Bradyrhizobiaceae</text>
<text transform="translate(310.83 2562.50) rotate(-90)" font-size="9.30" text-anchor="end" textLength="40.04" lengthAdjust="spacingAndGlyphs" fill="#1a1a1a">D-Serine</text>
<text transform="translate(329.89 2562.50) rotate(-90)" font-size="9.30" text-anchor="end" textLength="37.13" lengthAdjust="spacingAndGlyphs" fill="#1a1a1a">L-Lysine</text>
<text transform="translate(348.94 2562.50) rotate(-90)" font-size="9.30" text-anchor="end" textLength="43.52" lengthAdjust="spacingAndGlyphs" fill="#1a1a1a">Melibiose</text>
<text transform="translate(368.00 2562.50) rotate(-90)" font-size="9.30" text-anchor="end" textLength="60.41" lengthAdjust="spacingAndGlyphs" fill="#1a1a1a">L-Asparagine</text>
<text transform="translate(387.06 2562.50) rotate(-90)" font-size="9.30" text-anchor="end" textLength="23.86" lengthAdjust="spacingAndGlyphs" fill="#1a1a1a">CELB</text>
<text transform="translate(406.12 2562.50) rotate(-90)" font-size="9.30" text-anchor="end" textLength="35.61" lengthAdjust="spacingAndGlyphs" fill="#1a1a1a">Cholate</text>
<text transform="translate(425.18 2562.50) rotate(-90)" font-size="9.30" text-anchor="end" textLength="63.44" lengthAdjust="spacingAndGlyphs" fill="#1a1a1a">Deoxycholate</text>
<text transform="translate(444.23 2562.50) rotate(-90)" font-size="9.30" text-anchor="end" textLength="40.19" lengthAdjust="spacingAndGlyphs" fill="#1a1a1a">Butyrate</text>
<text transform="translate(463.29 2562.50) rotate(-90)" font-size="9.30" text-anchor="end" textLength="70.15" lengthAdjust="spacingAndGlyphs" fill="#1a1a1a">2-Oxoglutarate</text>
<text transform="translate(482.35 2562.50) rotate(-90)" font-size="9.30" text-anchor="end" textLength="49.73" lengthAdjust="spacingAndGlyphs" fill="#1a1a1a">Propionate</text>
<text transform="translate(501.41 2562.50) rotate(-90)" font-size="9.30" text-anchor="end" textLength="36.89" lengthAdjust="spacingAndGlyphs" fill="#1a1a1a">Dulcose</text>
<text transform="translate(520.46 2562.50) rotate(-90)" font-size="9.30" text-anchor="end" textLength="38.69" lengthAdjust="spacingAndGlyphs" fill="#1a1a1a">Melitose</text>
<text transform="translate(539.52 2562.50) rotate(-90)" font-size="9.30" text-anchor="end" textLength="46.06" lengthAdjust="spacingAndGlyphs" fill="#1a1a1a">Galactose</text>
<text transform="translate(558.58 2562.50) rotate(-90)" font-size="9.30" text-anchor="end" textLength="111.38" lengthAdjust="spacingAndGlyphs" fill="#1a1a1a">N-Acetyl-D-glucosamine</text>
<text transform="translate(577.64 2562.50) rotate(-90)" font-size="9.30" text-anchor="end" textLength="41.59" lengthAdjust="spacingAndGlyphs" fill="#1a1a1a">D-Ribose</text>
<text transform="translate(596.69 2562.50) rotate(-90)" font-size="9.30" text-anchor="end" textLength="42.77" lengthAdjust="spacingAndGlyphs" fill="#1a1a1a">L-Alanine</text>
<text transform="translate(615.75 2562.50) rotate(-90)" font-size="9.30" text-anchor="end" textLength="50.71" lengthAdjust="spacingAndGlyphs" fill="#1a1a1a">Thyminose</text>
<text transform="translate(634.81 2562.50) rotate(-90)" font-size="9.30" text-anchor="end" textLength="54.05" lengthAdjust="spacingAndGlyphs" fill="#1a1a1a">L-Threonine</text>
<text transform="translate(653.87 2562.50) rotate(-90)" font-size="9.30" text-anchor="end" textLength="53.34" lengthAdjust="spacingAndGlyphs" fill="#1a1a1a">L-Aspartate</text>
<text transform="translate(672.92 2562.50) rotate(-90)" font-size="9.30" text-anchor="end" textLength="36.67" lengthAdjust="spacingAndGlyphs" fill="#1a1a1a">Sucrose</text>
<text transform="translate(691.98 2562.50) rotate(-90)" font-size="9.30" text-anchor="end" textLength="44.24" lengthAdjust="spacingAndGlyphs" fill="#1a1a1a">Fumarate</text>
<text transform="translate(711.04 2562.50) rotate(-90)" font-size="9.30" text-anchor="end" textLength="39.62" lengthAdjust="spacingAndGlyphs" fill="#1a1a1a">L-Malate</text>
<text transform="translate(730.10 2562.50) rotate(-90)" font-size="9.30" text-anchor="end" textLength="50.19" lengthAdjust="spacingAndGlyphs" fill="#1a1a1a">Decanoate</text>
<text transform="translate(749.16 2562.50) rotate(-90)" font-size="9.30" text-anchor="end" textLength="43.69" lengthAdjust="spacingAndGlyphs" fill="#1a1a1a">Palmitate</text>
<text transform="translate(768.21 2562.50) rotate(-90)" font-size="9.30" text-anchor="end" textLength="45.42" lengthAdjust="spacingAndGlyphs" fill="#1a1a1a">Succinate</text>
<text transform="translate(787.27 2562.50) rotate(-90)" font-size="9.30" text-anchor="end" textLength="57.68" lengthAdjust="spacingAndGlyphs" fill="#1a1a1a">L-Glutamate</text>
<text transform="translate(806.33 2562.50) rotate(-90)" font-size="9.30" text-anchor="end" textLength="49.76" lengthAdjust="spacingAndGlyphs" fill="#1a1a1a">D-Fructose</text>
<text transform="translate(825.39 2562.50) rotate(-90)" font-size="9.30" text-anchor="end" textLength="31.51" lengthAdjust="spacingAndGlyphs" fill="#1a1a1a">Citrate</text>
<text transform="translate(844.44 2562.50) rotate(-90)" font-size="9.30" text-anchor="end" textLength="34.50" lengthAdjust="spacingAndGlyphs" fill="#1a1a1a">Glycine</text>
<text transform="translate(863.50 2562.50) rotate(-90)" font-size="9.30" text-anchor="end" textLength="41.27" lengthAdjust="spacingAndGlyphs" fill="#1a1a1a">Pyruvate</text>
<text transform="translate(882.56 2562.50) rotate(-90)" font-size="9.30" text-anchor="end" textLength="54.52" lengthAdjust="spacingAndGlyphs" fill="#1a1a1a">L-Arabinose</text>
<text transform="translate(901.62 2562.50) rotate(-90)" font-size="9.30" text-anchor="end" textLength="47.76" lengthAdjust="spacingAndGlyphs" fill="#1a1a1a">D-Glucose</text>
<text transform="translate(920.67 2562.50) rotate(-90)" font-size="9.30" text-anchor="end" textLength="46.65" lengthAdjust="spacingAndGlyphs" fill="#1a1a1a">octanoate</text>
<text transform="translate(939.73 2562.50) rotate(-90)" font-size="9.30" text-anchor="end" textLength="43.06" lengthAdjust="spacingAndGlyphs" fill="#1a1a1a">Ornithine</text>
<text transform="translate(958.79 2562.50) rotate(-90)" font-size="9.30" text-anchor="end" textLength="48.63" lengthAdjust="spacingAndGlyphs" fill="#1a1a1a">L-Cysteine</text>
<text transform="translate(977.85 2562.50) rotate(-90)" font-size="9.30" text-anchor="end" textLength="35.63" lengthAdjust="spacingAndGlyphs" fill="#1a1a1a">Acetate</text>
<text transform="translate(996.91 2562.50) rotate(-90)" font-size="9.30" text-anchor="end" textLength="59.83" lengthAdjust="spacingAndGlyphs" fill="#1a1a1a">L-Methionine</text>
<text transform="translate(1015.96 2562.50) rotate(-90)" font-size="9.30" text-anchor="end" textLength="39.78" lengthAdjust="spacingAndGlyphs" fill="#1a1a1a">L-Proline</text>
<text transform="translate(1035.02 2562.50) rotate(-90)" font-size="9.30" text-anchor="end" textLength="57.45" lengthAdjust="spacingAndGlyphs" fill="#1a1a1a">L-Rhamnose</text>
<text transform="translate(1054.08 2562.50) rotate(-90)" font-size="9.30" text-anchor="end" textLength="41.91" lengthAdjust="spacingAndGlyphs" fill="#1a1a1a">L-Inositol</text>
<text transform="translate(1073.14 2562.50) rotate(-90)" font-size="9.30" text-anchor="end" textLength="59.56" lengthAdjust="spacingAndGlyphs" fill="#1a1a1a">5-Oxoproline</text>
<text transform="translate(1092.19 2562.50) rotate(-90)" font-size="9.30" text-anchor="end" textLength="28.74" lengthAdjust="spacingAndGlyphs" fill="#1a1a1a">Niacin</text>
<text transform="translate(1111.25 2562.50) rotate(-90)" font-size="9.30" text-anchor="end" textLength="45.46" lengthAdjust="spacingAndGlyphs" fill="#1a1a1a">L-Tyrosine</text>
<text transform="translate(1130.31 2562.50) rotate(-90)" font-size="9.30" text-anchor="end" textLength="37.98" lengthAdjust="spacingAndGlyphs" fill="#1a1a1a">D-Allose</text>
<text transform="translate(1149.37 2562.50) rotate(-90)" font-size="9.30" text-anchor="end" textLength="40.35" lengthAdjust="spacingAndGlyphs" fill="#1a1a1a">L-Fucose</text>
<text transform="translate(1168.42 2562.50) rotate(-90)" font-size="9.30" text-anchor="end" textLength="58.19" lengthAdjust="spacingAndGlyphs" fill="#1a1a1a">Myristic acid</text>
<text transform="translate(1187.48 2562.50) rotate(-90)" font-size="9.30" text-anchor="end" textLength="118.15" lengthAdjust="spacingAndGlyphs" fill="#1a1a1a">trans-4-Hydroxy-L-proline</text>
<text transform="translate(1206.54 2562.50) rotate(-90)" font-size="9.30" text-anchor="end" textLength="35.84" lengthAdjust="spacingAndGlyphs" fill="#1a1a1a">L-Valine</text>
<text transform="translate(1225.60 2562.50) rotate(-90)" font-size="9.30" text-anchor="end" textLength="54.99" lengthAdjust="spacingAndGlyphs" fill="#1a1a1a">L-Isoleucine</text>
<text transform="translate(1244.66 2562.50) rotate(-90)" font-size="9.30" text-anchor="end" textLength="44.18" lengthAdjust="spacingAndGlyphs" fill="#1a1a1a">L-Leucine</text>
<text transform="translate(1263.71 2562.50) rotate(-90)" font-size="9.30" text-anchor="end" textLength="48.97" lengthAdjust="spacingAndGlyphs" fill="#1a1a1a">L-Histidine</text>
<text transform="translate(1282.77 2562.50) rotate(-90)" font-size="9.30" text-anchor="end" textLength="73.42" lengthAdjust="spacingAndGlyphs" fill="#1a1a1a">L-Phenylalanine</text>
<text transform="translate(252.75 2562.50) rotate(-90)" font-size="9.30" text-anchor="end" textLength="24.72" lengthAdjust="spacingAndGlyphs" fill="#1a1a1a">order</text>
<path d="M1289.0 1645.95h3.2M1289.0 1659.16h3.2M1289.0 1672.36h3.2M1289.0 1685.57h3.2M1289.0 1698.77h3.2M1289.0 1711.98h3.2M1289.0 1725.19h3.2M1289.0 1738.39h3.2M1289.0 1751.60h3.2M1289.0 1764.80h3.2M1289.0 1778.01h3.2M1289.0 1791.21h3.2M1289.0 1804.42h3.2M1289.0 1817.63h3.2M1289.0 1830.83h3.2M1289.0 1844.04h3.2M1289.0 1857.24h3.2M1289.0 1870.45h3.2M1289.0 1883.66h3.2M1289.0 1896.86h3.2M1289.0 1910.07h3.2M1289.0 1923.27h3.2M1289.0 1936.48h3.2M1289.0 1949.68h3.2M1289.0 1962.89h3.2M1289.0 1976.10h3.2M1289.0 1989.30h3.2M1289.0 2002.51h3.2M1289.0 2015.71h3.2M1289.0 2028.92h3.2M1289.0 2042.12h3.2M1289.0 2055.33h3.2M1289.0 2068.54h3.2M1289.0 2081.74h3.2M1289.0 2094.95h3.2M1289.0 2108.15h3.2M1289.0 2121.36h3.2M1289.0 2134.57h3.2M1289.0 2147.77h3.2M1289.0 2160.98h3.2M1289.0 2174.18h3.2M1289.0 2187.39h3.2M1289.0 2200.59h3.2M1289.0 2213.80h3.2M1289.0 2227.01h3.2M1289.0 2240.21h3.2M1289.0 2253.42h3.2M1289.0 2266.62h3.2M1289.0 2279.83h3.2M1289.0 2293.03h3.2M1289.0 2306.24h3.2M1289.0 2319.45h3.2M1289.0 2332.65h3.2M1289.0 2345.86h3.2M1289.0 2359.06h3.2M1289.0 2372.27h3.2M1289.0 2385.48h3.2M1289.0 2398.68h3.2M1289.0 2411.89h3.2M1289.0 2425.09h3.2M1289.0 2438.30h3.2M1289.0 2451.50h3.2M1289.0 2464.71h3.2M1289.0 2477.92h3.2M1289.0 2491.12h3.2M1289.0 2504.33h3.2M1289.0 2517.53h3.2M1289.0 2530.74h3.2M1289.0 2543.94h3.2M307.53 2555.5v3.2M326.59 2555.5v3.2M345.64 2555.5v3.2M364.70 2555.5v3.2M383.76 2555.5v3.2M402.82 2555.5v3.2M421.88 2555.5v3.2M440.93 2555.5v3.2M459.99 2555.5v3.2M479.05 2555.5v3.2M498.11 2555.5v3.2M517.16 2555.5v3.2M536.22 2555.5v3.2M555.28 2555.5v3.2M574.34 2555.5v3.2M593.39 2555.5v3.2M612.45 2555.5v3.2M631.51 2555.5v3.2M650.57 2555.5v3.2M669.62 2555.5v3.2M688.68 2555.5v3.2M707.74 2555.5v3.2M726.80 2555.5v3.2M745.86 2555.5v3.2M764.91 2555.5v3.2M783.97 2555.5v3.2M803.03 2555.5v3.2M822.09 2555.5v3.2M841.14 2555.5v3.2M860.20 2555.5v3.2M879.26 2555.5v3.2M898.32 2555.5v3.2M917.38 2555.5v3.2M936.43 2555.5v3.2M955.49 2555.5v3.2M974.55 2555.5v3.2M993.61 2555.5v3.2M1012.66 2555.5v3.2M1031.72 2555.5v3.2M1050.78 2555.5v3.2M1069.84 2555.5v3.2M1088.89 2555.5v3.2M1107.95 2555.5v3.2M1127.01 2555.5v3.2M1146.07 2555.5v3.2M1165.12 2555.5v3.2M1184.18 2555.5v3.2M1203.24 2555.5v3.2M1222.30 2555.5v3.2M1241.36 2555.5v3.2M1260.41 2555.5v3.2M1279.47 2555.5v3.2M249.45 2555.5v3.2" stroke="#222" stroke-width="0.9"/>
<rect x="232.4" y="1644.30" width="34.1" height="3.60" fill="#36ada4"/>
<rect x="232.4" y="1647.60" width="34.1" height="3.60" fill="#a48cf4"/>
<rect x="232.4" y="1650.90" width="34.1" height="3.60" fill="#aa9e31"/>
<rect x="232.4" y="1654.20" width="34.1" height="3.60" fill="#36ada4"/>
<rect x="232.4" y="1657.51" width="34.1" height="3.60" fill="#f7755d"/>
<rect x="232.4" y="1660.81" width="34.1" height="3.60" fill="#36ada4"/>
<rect x="232.4" y="1664.11" width="34.1" height="3.60" fill="#32b166"/>
<rect x="232.4" y="1667.41" width="34.1" height="6.90" fill="#aa9e31"/>
<rect x="232.4" y="1674.01" width="34.1" height="13.51" fill="#ce9032"/>
<rect x="232.4" y="1687.22" width="34.1" height="3.60" fill="#32b166"/>
<rect x="232.4" y="1690.52" width="34.1" height="16.81" fill="#ce9032"/>
<rect x="232.4" y="1707.03" width="34.1" height="3.60" fill="#aa9e31"/>
<rect x="232.4" y="1710.33" width="34.1" height="13.51" fill="#ce9032"/>
<rect x="232.4" y="1723.53" width="34.1" height="6.90" fill="#32b166"/>
<rect x="232.4" y="1730.14" width="34.1" height="6.90" fill="#ce9032"/>
<rect x="232.4" y="1736.74" width="34.1" height="3.60" fill="#36ada4"/>
<rect x="232.4" y="1740.04" width="34.1" height="3.60" fill="#f7755d"/>
<rect x="232.4" y="1743.34" width="34.1" height="10.20" fill="#36ada4"/>
<rect x="232.4" y="1753.25" width="34.1" height="3.60" fill="#ce9032"/>
<rect x="232.4" y="1756.55" width="34.1" height="3.60" fill="#aa9e31"/>
<rect x="232.4" y="1759.85" width="34.1" height="6.90" fill="#32b166"/>
<rect x="232.4" y="1766.45" width="34.1" height="10.20" fill="#ce9032"/>
<rect x="232.4" y="1776.36" width="34.1" height="3.60" fill="#36ada4"/>
<rect x="232.4" y="1779.66" width="34.1" height="6.90" fill="#f561dd"/>
<rect x="232.4" y="1786.26" width="34.1" height="3.60" fill="#32b166"/>
<rect x="232.4" y="1789.56" width="34.1" height="3.60" fill="#ce9032"/>
<rect x="232.4" y="1792.87" width="34.1" height="3.60" fill="#32b166"/>
<rect x="232.4" y="1796.17" width="34.1" height="3.60" fill="#a48cf4"/>
<rect x="232.4" y="1799.47" width="34.1" height="3.60" fill="#aa9e31"/>
<rect x="232.4" y="1802.77" width="34.1" height="6.90" fill="#32b166"/>
<rect x="232.4" y="1809.37" width="34.1" height="3.60" fill="#ce9032"/>
<rect x="232.4" y="1812.67" width="34.1" height="3.60" fill="#f77189"/>
<rect x="232.4" y="1815.98" width="34.1" height="6.90" fill="#36ada4"/>
<rect x="232.4" y="1822.58" width="34.1" height="6.90" fill="#7eaa31"/>
<rect x="232.4" y="1829.18" width="34.1" height="3.60" fill="#639df4"/>
<rect x="232.4" y="1832.48" width="34.1" height="3.60" fill="#36ada4"/>
<rect x="232.4" y="1835.78" width="34.1" height="3.60" fill="#f7755d"/>
<rect x="232.4" y="1839.09" width="34.1" height="6.90" fill="#32b166"/>
<rect x="232.4" y="1845.69" width="34.1" height="10.20" fill="#36ada4"/>
<rect x="232.4" y="1855.59" width="34.1" height="6.90" fill="#39a7d0"/>
<rect x="232.4" y="1862.20" width="34.1" height="3.60" fill="#ce9032"/>
<rect x="232.4" y="1865.50" width="34.1" height="6.90" fill="#3db535"/>
<rect x="232.4" y="1872.10" width="34.1" height="3.60" fill="#f7755d"/>
<rect x="232.4" y="1875.40" width="34.1" height="3.60" fill="#32b166"/>
<rect x="232.4" y="1878.70" width="34.1" height="3.60" fill="#aa9e31"/>
<rect x="232.4" y="1882.00" width="34.1" height="10.20" fill="#32b166"/>
<rect x="232.4" y="1891.91" width="34.1" height="3.60" fill="#ce9032"/>
<rect x="232.4" y="1895.21" width="34.1" height="3.60" fill="#7eaa31"/>
<rect x="232.4" y="1898.51" width="34.1" height="6.90" fill="#f7755d"/>
<rect x="232.4" y="1905.11" width="34.1" height="3.60" fill="#39a7d0"/>
<rect x="232.4" y="1908.42" width="34.1" height="6.90" fill="#3db535"/>
<rect x="232.4" y="1915.02" width="34.1" height="6.90" fill="#39a7d0"/>
<rect x="232.4" y="1921.62" width="34.1" height="13.51" fill="#32b166"/>
<rect x="232.4" y="1934.83" width="34.1" height="3.60" fill="#f7755d"/>
<rect x="232.4" y="1938.13" width="34.1" height="3.60" fill="#aa9e31"/>
<rect x="232.4" y="1941.43" width="34.1" height="6.90" fill="#ce9032"/>
<rect x="232.4" y="1948.03" width="34.1" height="3.60" fill="#32b166"/>
<rect x="232.4" y="1951.33" width="34.1" height="26.71" fill="#ce9032"/>
<rect x="232.4" y="1977.75" width="34.1" height="3.60" fill="#aa9e31"/>
<rect x="232.4" y="1981.05" width="34.1" height="10.20" fill="#ce9032"/>
<rect x="232.4" y="1990.95" width="34.1" height="3.60" fill="#f77189"/>
<rect x="232.4" y="1994.25" width="34.1" height="6.90" fill="#f7755d"/>
<rect x="232.4" y="2000.86" width="34.1" height="3.60" fill="#f561dd"/>
<rect x="232.4" y="2004.16" width="34.1" height="3.60" fill="#f7755d"/>
<rect x="232.4" y="2007.46" width="34.1" height="6.90" fill="#32b166"/>
<rect x="232.4" y="2014.06" width="34.1" height="6.90" fill="#f7755d"/>
<rect x="232.4" y="2020.67" width="34.1" height="3.60" fill="#39a7d0"/>
<rect x="232.4" y="2023.97" width="34.1" height="3.60" fill="#36ada4"/>
<rect x="232.4" y="2027.27" width="34.1" height="6.90" fill="#f7755d"/>
<rect x="232.4" y="2033.87" width="34.1" height="6.90" fill="#3db535"/>
<rect x="232.4" y="2040.47" width="34.1" height="3.60" fill="#7eaa31"/>
<rect x="232.4" y="2043.78" width="34.1" height="6.90" fill="#ce9032"/>
<rect x="232.4" y="2050.38" width="34.1" height="3.60" fill="#f7755d"/>
<rect x="232.4" y="2053.68" width="34.1" height="3.60" fill="#39a7d0"/>
<rect x="232.4" y="2056.98" width="34.1" height="3.60" fill="#3db535"/>
<rect x="232.4" y="2060.28" width="34.1" height="30.01" fill="#ce9032"/>
<rect x="232.4" y="2090.00" width="34.1" height="3.60" fill="#7eaa31"/>
<rect x="232.4" y="2093.30" width="34.1" height="3.60" fill="#ce9032"/>
<rect x="232.4" y="2096.60" width="34.1" height="6.90" fill="#3db535"/>
<rect x="232.4" y="2103.20" width="34.1" height="3.60" fill="#ce9032"/>
<rect x="232.4" y="2106.50" width="34.1" height="3.60" fill="#39a7d0"/>
<rect x="232.4" y="2109.80" width="34.1" height="13.51" fill="#32b166"/>
<rect x="232.4" y="2123.01" width="34.1" height="3.60" fill="#ce9032"/>
<rect x="232.4" y="2126.31" width="34.1" height="10.20" fill="#3db535"/>
<rect x="232.4" y="2136.22" width="34.1" height="33.31" fill="#ce9032"/>
<rect x="232.4" y="2169.23" width="34.1" height="3.60" fill="#aa9e31"/>
<rect x="232.4" y="2172.53" width="34.1" height="3.60" fill="#f7755d"/>
<rect x="232.4" y="2175.83" width="34.1" height="6.90" fill="#ce9032"/>
<rect x="232.4" y="2182.44" width="34.1" height="3.60" fill="#aa9e31"/>
<rect x="232.4" y="2185.74" width="34.1" height="6.90" fill="#ce9032"/>
<rect x="232.4" y="2192.34" width="34.1" height="6.90" fill="#32b166"/>
<rect x="232.4" y="2198.94" width="34.1" height="3.60" fill="#ce9032"/>
<rect x="232.4" y="2202.24" width="34.1" height="6.90" fill="#aa9e31"/>
<rect x="232.4" y="2208.85" width="34.1" height="3.60" fill="#ce9032"/>
<rect x="232.4" y="2212.15" width="34.1" height="3.60" fill="#7eaa31"/>
<rect x="232.4" y="2215.45" width="34.1" height="13.51" fill="#ce9032"/>
<rect x="232.4" y="2228.66" width="34.1" height="6.90" fill="#32b166"/>
<rect x="232.4" y="2235.26" width="34.1" height="6.90" fill="#f7755d"/>
<rect x="232.4" y="2241.86" width="34.1" height="3.60" fill="#32b166"/>
<rect x="232.4" y="2245.16" width="34.1" height="6.90" fill="#f561dd"/>
<rect x="232.4" y="2251.77" width="34.1" height="10.20" fill="#ce9032"/>
<rect x="232.4" y="2261.67" width="34.1" height="3.60" fill="#aa9e31"/>
<rect x="232.4" y="2264.97" width="34.1" height="23.41" fill="#ce9032"/>
<rect x="232.4" y="2288.08" width="34.1" height="3.60" fill="#aa9e31"/>
<rect x="232.4" y="2291.38" width="34.1" height="3.60" fill="#ce9032"/>
<rect x="232.4" y="2294.69" width="34.1" height="3.60" fill="#7eaa31"/>
<rect x="232.4" y="2297.99" width="34.1" height="6.90" fill="#f7755d"/>
<rect x="232.4" y="2304.59" width="34.1" height="6.90" fill="#ce9032"/>
<rect x="232.4" y="2311.19" width="34.1" height="3.60" fill="#7eaa31"/>
<rect x="232.4" y="2314.49" width="34.1" height="3.60" fill="#ce9032"/>
<rect x="232.4" y="2317.80" width="34.1" height="3.60" fill="#aa9e31"/>
<rect x="232.4" y="2321.10" width="34.1" height="10.20" fill="#ce9032"/>
<rect x="232.4" y="2331.00" width="34.1" height="3.60" fill="#f77189"/>
<rect x="232.4" y="2334.30" width="34.1" height="20.11" fill="#ce9032"/>
<rect x="232.4" y="2354.11" width="34.1" height="3.60" fill="#f7755d"/>
<rect x="232.4" y="2357.41" width="34.1" height="6.90" fill="#ce9032"/>
<rect x="232.4" y="2364.02" width="34.1" height="3.60" fill="#f7755d"/>
<rect x="232.4" y="2367.32" width="34.1" height="6.90" fill="#ce9032"/>
<rect x="232.4" y="2373.92" width="34.1" height="6.90" fill="#f7755d"/>
<rect x="232.4" y="2380.52" width="34.1" height="3.60" fill="#32b166"/>
<rect x="232.4" y="2383.82" width="34.1" height="3.60" fill="#39a7d0"/>
<rect x="232.4" y="2387.13" width="34.1" height="6.90" fill="#32b166"/>
<rect x="232.4" y="2393.73" width="34.1" height="13.51" fill="#ce9032"/>
<rect x="232.4" y="2406.93" width="34.1" height="3.60" fill="#32b166"/>
<rect x="232.4" y="2410.24" width="34.1" height="6.90" fill="#ce9032"/>
<rect x="232.4" y="2416.84" width="34.1" height="3.60" fill="#f77189"/>
<rect x="232.4" y="2420.14" width="34.1" height="3.60" fill="#32b166"/>
<rect x="232.4" y="2423.44" width="34.1" height="13.51" fill="#ce9032"/>
<rect x="232.4" y="2436.65" width="34.1" height="6.90" fill="#3db535"/>
<rect x="232.4" y="2443.25" width="34.1" height="3.60" fill="#ce9032"/>
<rect x="232.4" y="2446.55" width="34.1" height="3.60" fill="#3db535"/>
<rect x="232.4" y="2449.85" width="34.1" height="6.90" fill="#ce9032"/>
<rect x="232.4" y="2456.46" width="34.1" height="6.90" fill="#f7755d"/>
<rect x="232.4" y="2463.06" width="34.1" height="3.60" fill="#32b166"/>
<rect x="232.4" y="2466.36" width="34.1" height="10.20" fill="#39a7d0"/>
<rect x="232.4" y="2476.27" width="34.1" height="3.60" fill="#36ada4"/>
<rect x="232.4" y="2479.57" width="34.1" height="10.20" fill="#f7755d"/>
<rect x="232.4" y="2489.47" width="34.1" height="6.90" fill="#36ada4"/>
<rect x="232.4" y="2496.07" width="34.1" height="3.60" fill="#f77189"/>
<rect x="232.4" y="2499.38" width="34.1" height="10.20" fill="#36ada4"/>
<rect x="232.4" y="2509.28" width="34.1" height="3.60" fill="#f7755d"/>
<rect x="232.4" y="2512.58" width="34.1" height="6.90" fill="#32b166"/>
<rect x="232.4" y="2519.18" width="34.1" height="3.60" fill="#f7755d"/>
<rect x="232.4" y="2522.49" width="34.1" height="3.60" fill="#36ada4"/>
<rect x="232.4" y="2525.79" width="34.1" height="3.60" fill="#f7755d"/>
<rect x="232.4" y="2529.09" width="34.1" height="3.60" fill="#ce9032"/>
<rect x="232.4" y="2532.39" width="34.1" height="3.60" fill="#32b166"/>
<rect x="232.4" y="2535.69" width="34.1" height="3.60" fill="#ce9032"/>
<rect x="232.4" y="2538.99" width="34.1" height="13.51" fill="#36ada4"/>
<rect x="232.4" y="2552.20" width="34.1" height="3.60" fill="#39a7d0"/>
<path fill="none" stroke="#6a6a6a" stroke-width="0.8" d="M200.0 2114.8H200.0V2118.1H200.0M200.0 2134.6H200.0V2137.9H200.0M200.0 2141.2H200.0V2144.5H200.0M200.0 2246.8H200.0V2250.1H200.0M200.0 2078.4H198.4V2081.7H200.0M200.0 2352.5H198.4V2355.8H200.0M200.0 2408.6H198.4V2411.9H200.0M200.0 2418.5H198.4V2421.8H200.0M200.0 2184.1H198.2V2187.4H200.0M200.0 2136.2H198.2V2142.8H200.0M200.0 2326.0H197.5V2329.4H200.0M198.4 2420.1H197.2V2425.1H200.0M198.4 2080.1H196.6V2085.0H200.0M200.0 2101.6H196.1V2104.9H200.0M200.0 2015.7H195.7V2019.0H200.0M200.0 2068.5H195.7V2071.8H200.0M200.0 2398.7H195.7V2402.0H200.0M200.0 2392.1H195.7V2395.4H200.0M200.0 2223.7H195.7V2227.0H200.0M200.0 2415.2H195.6V2422.6H197.2M200.0 2336.0H195.3V2339.3H200.0M197.5 2327.7H194.8V2332.7H200.0M200.0 2098.2H194.7V2103.2H196.1M198.2 2139.5H193.7V2147.8H200.0M200.0 2061.9H193.6V2065.2H200.0M200.0 2369.0H193.2V2372.3H200.0M195.6 2418.9H192.5V2428.4H200.0M195.7 2400.3H192.4V2405.3H200.0M200.0 2151.1H192.0V2154.4H200.0M200.0 2200.6H191.8V2203.9H200.0M200.0 2002.5H191.5V2005.8H200.0M200.0 2111.5H191.2V2116.4H200.0M200.0 1725.2H191.1V1728.5H200.0M200.0 2520.8H191.1V2524.1H200.0M200.0 2217.1H190.8V2220.4H200.0M200.0 2448.2H190.8V2451.5H200.0M200.0 2322.7H190.5V2330.2H194.8M200.0 2349.2H189.8V2354.1H198.4M200.0 2075.1H189.7V2082.6H196.6M200.0 2365.7H189.6V2370.6H193.2M200.0 2359.1H189.1V2362.4H200.0M200.0 2454.8H189.1V2458.1H200.0M200.0 2248.5H188.8V2253.4H200.0M192.0 2152.7H188.8V2157.7H200.0M190.5 2326.5H188.6V2337.6H195.3M198.2 2185.7H188.4V2190.7H200.0M200.0 2375.6H188.0V2378.9H200.0M200.0 2131.3H187.9V2143.6H193.7M200.0 2170.9H187.8V2174.2H200.0M200.0 2534.0H187.5V2537.3H200.0M200.0 2088.3H187.5V2091.6H200.0M187.5 2090.0H187.5V2094.9H200.0M200.0 2210.5H187.1V2213.8H200.0M200.0 2058.6H186.9V2063.6H193.6M200.0 2296.3H186.8V2299.6H200.0M200.0 2388.8H186.7V2393.7H195.7M200.0 2194.0H186.3V2197.3H200.0M192.5 2423.6H186.1V2431.7H200.0M200.0 2312.8H185.4V2316.1H200.0M200.0 2045.4H185.4V2048.7H200.0M191.8 2202.2H185.3V2207.2H200.0M200.0 2527.4H185.2V2530.7H200.0M194.7 2100.7H185.1V2108.2H200.0M188.6 2332.0H185.0V2342.6H200.0M200.0 2052.0H184.5V2055.3H200.0M200.0 2236.9H184.5V2240.2H200.0M200.0 2177.5H184.3V2180.8H200.0M200.0 2128.0H184.3V2137.5H187.9M200.0 2382.2H184.1V2385.5H200.0M189.8 2351.6H183.6V2360.7H189.1M200.0 2161.0H183.5V2164.3H200.0M192.4 2402.8H183.3V2410.2H198.4M200.0 1999.2H183.1V2004.2H191.5M200.0 1712.0H183.1V1715.3H200.0M184.3 2132.7H182.6V2155.2H188.8M195.7 2070.2H181.8V2078.9H189.7M186.1 2427.7H181.8V2435.0H200.0M200.0 1982.7H181.7V1986.0H200.0M187.1 2212.1H181.6V2218.8H190.8M191.1 1726.8H181.6V1731.8H200.0M186.7 2391.3H181.5V2406.5H183.3M184.3 2179.1H181.4V2188.2H188.4M200.0 1976.1H181.3V1979.4H200.0M181.8 2074.5H181.3V2092.5H187.5M200.0 2121.4H181.3V2124.7H200.0M185.4 2314.5H181.2V2319.4H200.0M188.8 2250.9H181.0V2256.7H200.0M190.8 2449.9H180.6V2456.5H189.1M195.7 2017.4H180.6V2022.3H200.0M186.3 2195.6H180.2V2204.7H185.3M200.0 2038.8H180.2V2042.1H200.0M200.0 2438.3H180.2V2441.6H200.0M181.3 2083.5H180.1V2104.4H185.1M187.5 2535.7H180.0V2540.6H200.0M200.0 2517.5H179.9V2522.5H191.1M189.6 2368.1H179.8V2377.2H188.0M186.8 2298.0H179.8V2302.9H200.0M184.5 2053.7H179.1V2061.1H186.9M200.0 1962.9H178.9V1966.2H200.0M183.1 2001.7H178.8V2009.1H200.0M181.3 2123.0H177.9V2144.0H182.6M200.0 2345.9H177.3V2356.2H183.6M200.0 2504.3H176.9V2507.6H200.0M181.6 2215.5H176.0V2225.4H195.7M181.5 2398.9H176.0V2431.3H181.8M200.0 1698.8H175.9V1702.1H200.0M200.0 2444.9H175.9V2453.2H180.6M179.8 2372.7H175.4V2383.8H184.1M200.0 1920.0H175.2V1923.3H200.0M200.0 1956.3H175.1V1959.6H200.0M200.0 2028.9H175.1V2032.2H200.0M180.1 2094.0H174.6V2113.9H191.2M200.0 1992.6H174.5V1995.9H200.0M200.0 2289.7H174.2V2293.0H200.0M185.2 2529.1H174.1V2538.2H180.0M200.0 2167.6H174.0V2172.5H187.8M200.0 2243.5H174.0V2253.8H181.0M184.5 2238.6H174.0V2248.7H174.0M177.3 2351.0H173.8V2378.3H175.4M185.4 2047.1H173.7V2057.4H179.1M180.2 2200.2H173.6V2220.4H176.0M200.0 1708.7H173.6V1713.6H183.1M173.7 2052.2H173.5V2103.9H174.6M200.0 1910.1H173.2V1913.4H200.0M200.0 1867.1H173.1V1870.4H200.0M200.0 2279.8H173.0V2283.1H200.0M200.0 2263.3H172.7V2266.6H200.0M200.0 1896.9H172.5V1900.2H200.0M175.2 1921.6H172.2V1926.6H200.0M180.2 2439.9H172.2V2449.0H175.9M200.0 2306.2H172.0V2309.5H200.0M173.5 2078.1H171.7V2133.5H177.9M200.0 2025.6H171.7V2030.6H175.1M180.2 2040.5H171.7V2105.8H171.7M185.0 2337.3H171.5V2364.6H173.8M179.9 2520.0H171.0V2533.6H174.1M181.7 1984.3H171.0V1989.3H200.0M200.0 2501.0H170.8V2506.0H176.9M178.8 2005.4H170.4V2012.4H200.0M171.5 2351.0H169.7V2415.1H176.0M174.0 2170.1H168.9V2183.7H181.4M183.5 2162.6H168.9V2176.9H168.9M200.0 2273.2H168.3V2276.5H200.0M172.0 2307.9H168.0V2317.0H181.2M168.9 2169.7H167.5V2210.3H173.6M200.0 2035.5H167.4V2073.1H171.7M200.0 2550.5H166.9V2553.8H200.0M200.0 2547.2H166.9V2552.2H166.9M167.4 2054.3H166.8V2190.0H167.5M169.7 2383.0H166.5V2444.5H172.2M200.0 1972.8H166.4V1977.7H181.3M200.0 2233.6H165.9V2243.6H174.0M200.0 1933.2H165.9V1936.5H200.0M200.0 1946.4H165.9V1949.7H200.0M172.7 2265.0H165.6V2269.9H200.0M200.0 1721.9H165.4V1729.3H181.6M174.5 1994.3H165.2V2008.9H170.4M165.2 2001.6H165.2V2019.8H180.6M200.0 1797.8H164.7V1801.1H200.0M171.7 2028.1H164.1V2122.2H166.8M200.0 1695.5H163.9V1700.4H175.9M168.0 2312.4H162.1V2413.8H166.5M179.8 2300.5H162.1V2363.1H162.1M200.0 2543.9H161.7V2549.7H166.9M171.0 2526.8H161.7V2546.8H161.7M200.0 1916.7H161.4V1924.1H172.2M173.0 2281.5H161.2V2286.4H200.0M166.4 1975.3H161.1V1986.8H171.0M165.2 2010.7H161.0V2075.1H164.1M200.0 2471.3H160.7V2474.6H200.0M173.6 1711.2H160.5V1718.6H200.0M200.0 1774.7H160.2V1778.0H200.0M172.5 1898.5H160.2V1903.5H200.0M200.0 2230.3H159.3V2238.6H165.9M161.2 2284.0H159.1V2291.4H174.2M200.0 2481.2H158.6V2484.5H200.0M159.1 2287.7H158.5V2331.8H162.1M165.9 1948.0H158.3V1953.0H200.0M161.0 2042.9H158.2V2234.5H159.3M200.0 1830.8H157.2V1834.1H200.0M200.0 1682.3H157.1V1685.6H200.0M200.0 1672.4H156.9V1675.7H200.0M200.0 1791.2H156.9V1794.5H200.0M200.0 1692.2H156.9V1697.9H163.9M158.2 2138.7H156.5V2260.0H200.0M156.5 2199.4H156.5V2267.4H165.6M200.0 1939.8H156.3V1943.1H200.0M200.0 2514.2H156.0V2536.8H161.7M200.0 1887.0H155.8V1890.3H200.0M161.1 1981.0H155.0V2233.4H156.5M200.0 1863.8H154.6V1868.8H173.1M200.0 1738.4H154.3V1741.7H200.0M200.0 1751.6H154.2V1754.9H200.0M200.0 1840.7H153.8V1844.0H200.0M200.0 1804.4H153.7V1807.7H200.0M173.2 1911.7H152.9V1920.4H161.4M200.0 2510.9H152.3V2525.5H156.0M200.0 1969.5H152.2V2107.2H155.0M178.9 1964.5H152.2V2038.4H152.2M200.0 1655.9H151.8V1659.2H200.0M200.0 2477.9H151.6V2482.9H158.6M160.5 1714.9H151.5V1725.6H165.4M158.5 2309.7H151.2V2461.4H200.0M168.3 2274.9H150.7V2385.6H151.2M152.2 2001.4H150.7V2330.2H150.7M200.0 1893.6H150.2V1901.0H160.2M200.0 2497.7H149.7V2503.5H170.8M149.7 2500.6H148.8V2518.2H152.3M200.0 1820.9H148.4V1824.2H200.0M158.3 1950.5H147.6V1957.9H175.1M200.0 1758.2H146.6V1761.5H200.0M200.0 1850.6H146.4V1853.9H200.0M200.0 2494.4H146.0V2509.4H148.8M200.0 1679.0H145.9V1683.9H157.1M200.0 1873.8H145.8V1877.1H200.0M153.7 1806.1H145.5V1811.0H200.0M200.0 1669.1H145.3V1674.0H156.9M200.0 1880.4H145.0V1883.7H200.0M148.4 1822.6H144.8V1827.5H200.0M200.0 1814.3H144.0V1817.6H200.0M200.0 2468.0H143.9V2473.0H160.7M143.9 2470.5H143.7V2480.4H151.6M157.2 1832.5H143.5V1837.4H200.0M150.2 1897.3H143.1V1906.8H200.0M200.0 1784.6H142.5V1787.9H200.0M165.9 1934.8H142.4V1941.4H156.3M155.8 1888.6H142.2V1902.0H143.1M200.0 1771.4H141.2V1776.4H160.2M200.0 2487.8H140.9V2491.1H200.0M200.0 1745.0H140.2V1748.3H200.0M145.3 1671.5H139.6V1681.4H145.9M142.4 1938.1H139.5V1954.2H147.6M139.5 1946.2H139.5V2165.8H150.7M156.9 1792.9H138.9V1799.5H164.7M138.9 1796.2H138.9V1808.5H145.5M140.9 2489.5H138.8V2501.9H146.0M154.6 1866.3H138.3V1875.4H145.8M146.4 1852.3H138.1V1857.2H200.0M151.5 1720.2H137.3V1735.1H200.0M200.0 1781.3H135.5V1786.3H142.5M143.7 2475.4H135.4V2495.7H138.8M200.0 1929.9H135.1V2056.0H139.5M152.9 1916.1H135.1V1992.9H135.1M142.2 1895.3H135.1V1954.5H135.1M143.5 1835.0H135.0V1842.4H153.8M156.9 1695.1H134.8V1705.4H200.0M134.8 1700.2H134.8V1727.7H137.3M145.0 1882.0H133.7V1924.9H135.1M138.3 1870.9H133.7V1903.5H133.7M135.5 1783.8H132.0V1802.4H138.9M144.0 1816.0H130.0V1825.1H144.8M200.0 1764.8H129.1V1768.1H200.0M139.6 1676.5H128.8V1688.9H200.0M129.1 1766.5H128.2V1773.9H141.2M200.0 1652.6H127.8V1657.5H151.8M128.8 1682.7H127.3V1713.9H134.8M132.0 1793.1H124.4V1820.5H130.0M128.2 1770.2H123.5V1806.8H124.4M146.6 1759.9H123.0V1788.5H123.5M200.0 2464.7H122.6V2485.6H135.4M133.7 1887.2H122.6V2475.1H122.6M200.0 1649.3H119.5V1655.0H127.8M200.0 1665.8H115.6V1698.3H127.3M200.0 1847.3H115.5V1854.8H138.1M135.0 1838.7H115.4V1851.1H115.5M123.0 1774.2H112.5V1844.9H115.4M112.5 1809.5H112.5V1860.5H200.0M112.5 1835.0H112.5V2181.1H122.6M154.2 1753.2H108.4V2008.1H112.5M154.3 1740.0H107.2V1746.6H140.2M107.2 1743.3H106.3V1880.7H108.4M115.6 1682.0H106.3V1812.0H106.3M200.0 1662.5H94.0V1747.0H106.3M119.5 1652.1H93.4V1704.7H94.0M200.0 1646.0H92.0V1678.4H93.4"/>
<text x="795.00" y="2671.20" font-size="26.50" text-anchor="middle" fill="#000">Compound</text>
<text transform="translate(1438.70 2082.00) rotate(-90)" font-size="26.5" text-anchor="middle" fill="#000">ASV Family</text>
</svg></body></html>
